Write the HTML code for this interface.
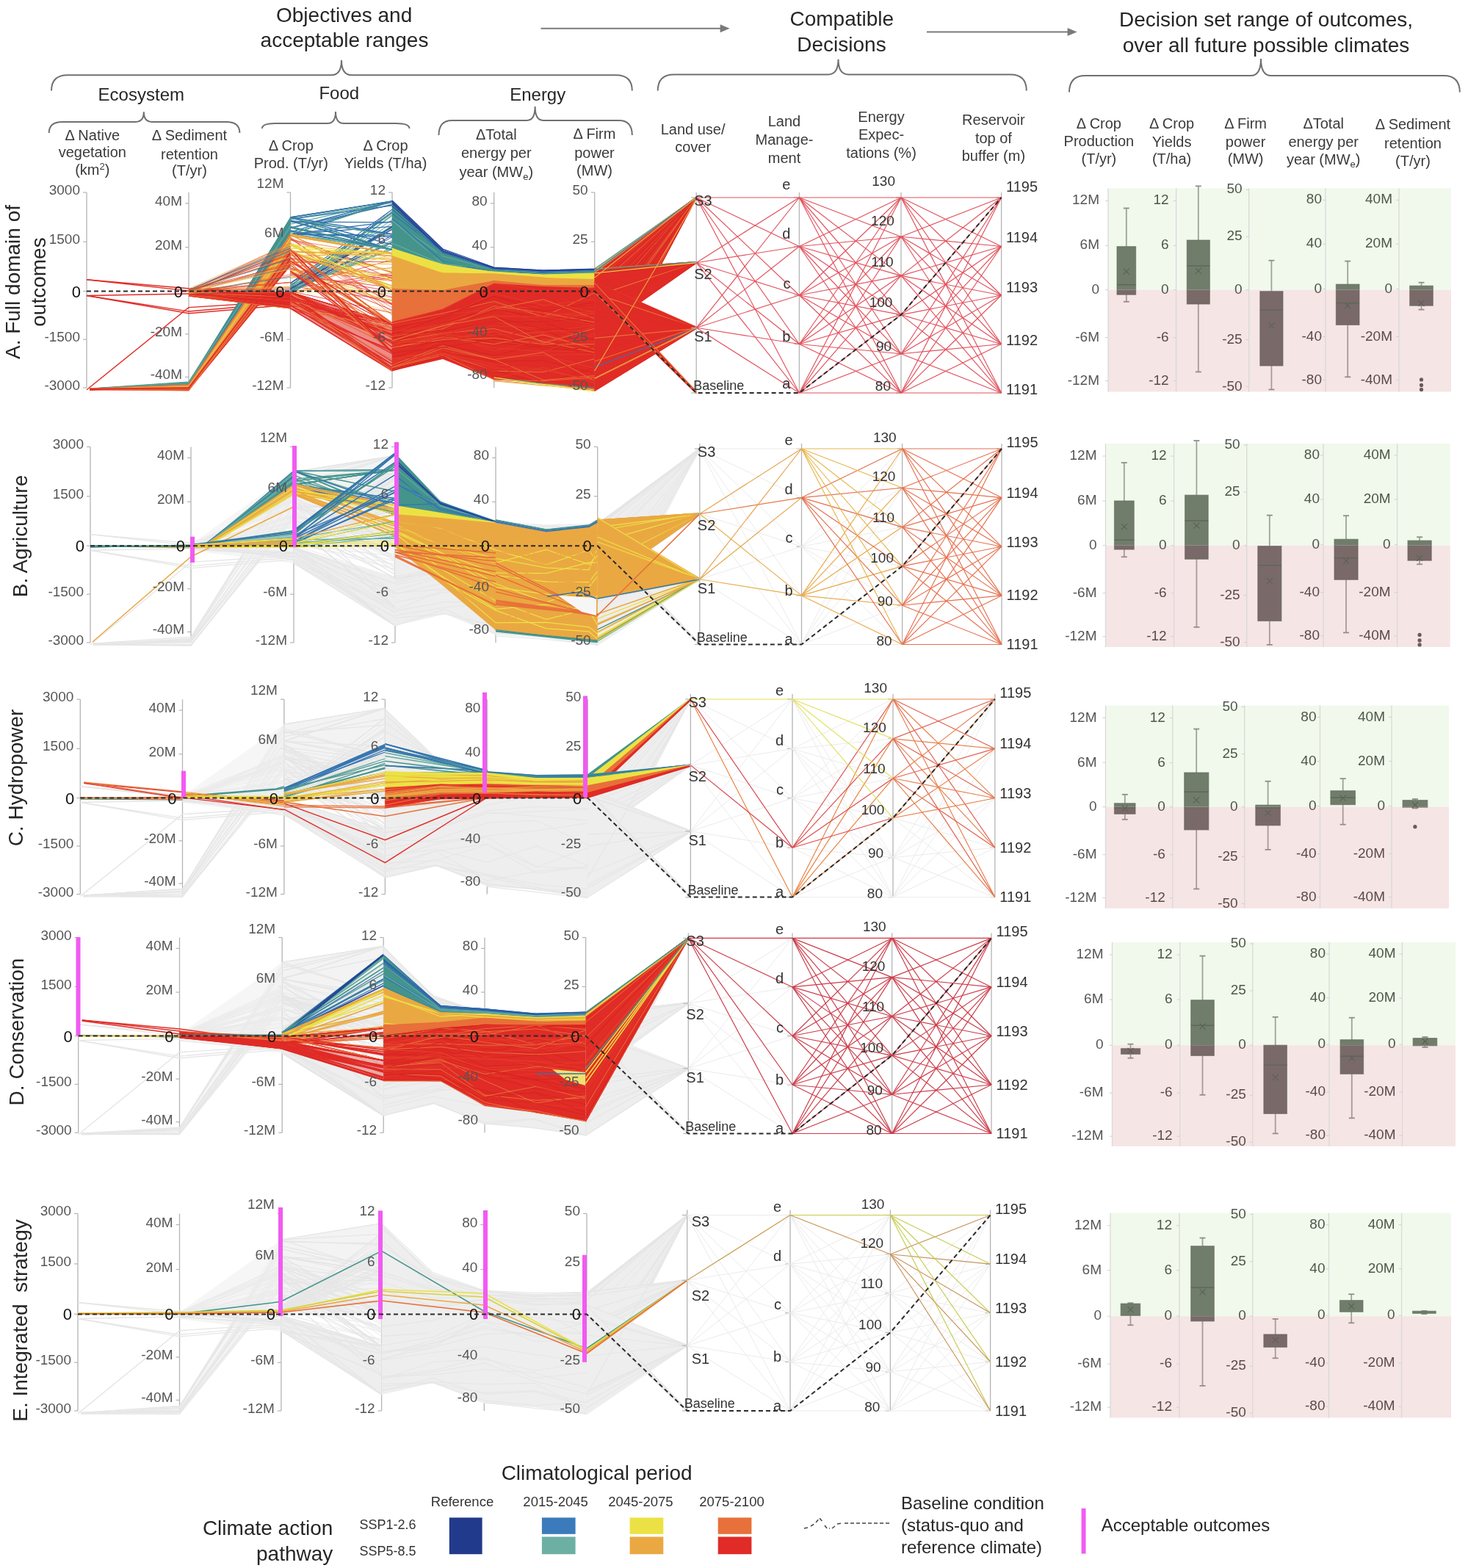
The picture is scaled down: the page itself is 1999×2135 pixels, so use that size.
<!DOCTYPE html>
<html><head><meta charset="utf-8"><style>
html,body{margin:0;padding:0;background:#fff;}
svg{display:block;}
</style></head><body>
<svg width="1999" height="2135" viewBox="0 0 1999 2135" font-family="'Liberation Sans', sans-serif">
<rect width="1999" height="2135" fill="#fff"/>
<text x="468.6" y="30.2" font-size="28" text-anchor="middle" fill="#262626" >Objectives and</text>
<text x="469" y="64.3" font-size="28" text-anchor="middle" fill="#262626" >acceptable ranges</text>
<text x="1146.3" y="35.3" font-size="28" text-anchor="middle" fill="#262626" >Compatible</text>
<text x="1146" y="69.6" font-size="28" text-anchor="middle" fill="#262626" >Decisions</text>
<text x="1724" y="36" font-size="28" text-anchor="middle" fill="#262626" >Decision set range of outcomes,</text>
<text x="1724" y="71" font-size="28" text-anchor="middle" fill="#262626" >over all future possible climates</text>
<line x1="736.5" y1="38.7" x2="983.6" y2="38.7" stroke="#7a7a7a" stroke-width="2" />
<polygon points="993.6,38.7 980.6,33.2 980.6,44.2" fill="#7a7a7a" />
<line x1="1262" y1="43.4" x2="1456.6" y2="43.4" stroke="#7a7a7a" stroke-width="2" />
<polygon points="1466.6,43.4 1453.6,37.9 1453.6,48.9" fill="#7a7a7a" />
<path d="M70,123.6 Q70,102.3 92,102.3 L451,102.3 Q465,102.3 465,82 Q465,102.3 479,102.3 L838.8,102.3 Q860.8,102.3 860.8,123.6" fill="none" stroke="#707070" stroke-width="2"/>
<path d="M895.7,123.6 Q895.7,101.5 917.7,101.5 L1127.5,101.5 Q1141.5,101.5 1141.5,80.8 Q1141.5,101.5 1155.5,101.5 L1375.8,101.5 Q1397.8,101.5 1397.8,123.6" fill="none" stroke="#707070" stroke-width="2"/>
<path d="M1456,125.6 Q1456,103 1478,103 L1703,103 Q1717,103 1717,80 Q1717,103 1731,103 L1965.8,103 Q1987.8,103 1987.8,125.6" fill="none" stroke="#707070" stroke-width="2"/>
<text x="192.3" y="137.3" font-size="24" text-anchor="middle" fill="#262626" >Ecosystem</text>
<text x="461.8" y="135.2" font-size="24" text-anchor="middle" fill="#262626" >Food</text>
<text x="732.2" y="136.5" font-size="24" text-anchor="middle" fill="#262626" >Energy</text>
<path d="M66.7,181 Q66.7,165.9 84.7,165.9 L184.8,165.9 Q195.8,165.9 195.8,152.3 Q195.8,165.9 206.8,165.9 L308.4,165.9 Q326.4,165.9 326.4,181" fill="none" stroke="#707070" stroke-width="2"/>
<path d="M356.9,175 Q356.9,168 374.9,168 L446,168 Q457,168 457,152 Q457,168 468,168 L539.5,168 Q557.5,168 557.5,175" fill="none" stroke="#707070" stroke-width="2"/>
<path d="M597.5,184 Q597.5,163.9 615.5,163.9 L717.6,163.9 Q728.6,163.9 728.6,145 Q728.6,163.9 739.6,163.9 L842.8,163.9 Q860.8,163.9 860.8,184" fill="none" stroke="#707070" stroke-width="2"/>
<text x="125.8" y="190.5" font-size="20" text-anchor="middle" fill="#3a3a3a" >Δ Native</text>
<text x="125.8" y="214" font-size="20" text-anchor="middle" fill="#3a3a3a" >vegetation</text>
<text x="125.8" y="237.8" font-size="20" text-anchor="middle" fill="#3a3a3a" >(km<tspan font-size="13" dy="-7">2</tspan><tspan dy="7">)</tspan></text>
<text x="258" y="191.4" font-size="20" text-anchor="middle" fill="#3a3a3a" >Δ Sediment</text>
<text x="258" y="216.5" font-size="20" text-anchor="middle" fill="#3a3a3a" >retention</text>
<text x="258" y="239.2" font-size="20" text-anchor="middle" fill="#3a3a3a" >(T/yr)</text>
<text x="396.3" y="204.7" font-size="20" text-anchor="middle" fill="#3a3a3a" >Δ Crop</text>
<text x="396.3" y="228.9" font-size="20" text-anchor="middle" fill="#3a3a3a" >Prod. (T/yr)</text>
<text x="525" y="204.7" font-size="20" text-anchor="middle" fill="#3a3a3a" >Δ Crop</text>
<text x="525" y="228.9" font-size="20" text-anchor="middle" fill="#3a3a3a" >Yields (T/ha)</text>
<text x="675.8" y="190" font-size="20" text-anchor="middle" fill="#3a3a3a" >ΔTotal</text>
<text x="675.8" y="215" font-size="20" text-anchor="middle" fill="#3a3a3a" >energy per</text>
<text x="675.8" y="240.5" font-size="20" text-anchor="middle" fill="#3a3a3a" >year (MW<tspan font-size="13" dy="4">e</tspan><tspan dy="-4">)</tspan></text>
<text x="809.5" y="189.4" font-size="20" text-anchor="middle" fill="#3a3a3a" >Δ Firm</text>
<text x="809.5" y="215" font-size="20" text-anchor="middle" fill="#3a3a3a" >power</text>
<text x="809.5" y="239" font-size="20" text-anchor="middle" fill="#3a3a3a" >(MW)</text>
<text x="943.6" y="182.7" font-size="20" text-anchor="middle" fill="#3a3a3a" >Land use/</text>
<text x="943.6" y="206.9" font-size="20" text-anchor="middle" fill="#3a3a3a" >cover</text>
<text x="1068" y="172.2" font-size="20" text-anchor="middle" fill="#3a3a3a" >Land</text>
<text x="1068" y="197.2" font-size="20" text-anchor="middle" fill="#3a3a3a" >Manage-</text>
<text x="1068" y="222.2" font-size="20" text-anchor="middle" fill="#3a3a3a" >ment</text>
<text x="1200" y="165.5" font-size="20" text-anchor="middle" fill="#3a3a3a" >Energy</text>
<text x="1200" y="189.6" font-size="20" text-anchor="middle" fill="#3a3a3a" >Expec-</text>
<text x="1200" y="215.4" font-size="20" text-anchor="middle" fill="#3a3a3a" >tations (%)</text>
<text x="1352.9" y="169.5" font-size="20" text-anchor="middle" fill="#3a3a3a" >Reservoir</text>
<text x="1352.9" y="194.5" font-size="20" text-anchor="middle" fill="#3a3a3a" >top of</text>
<text x="1352.9" y="218.7" font-size="20" text-anchor="middle" fill="#3a3a3a" >buffer (m)</text>
<text x="1496.4" y="174.5" font-size="20" text-anchor="middle" fill="#3a3a3a" >Δ Crop</text>
<text x="1496.4" y="198.6" font-size="20" text-anchor="middle" fill="#3a3a3a" >Production</text>
<text x="1496.4" y="222.6" font-size="20" text-anchor="middle" fill="#3a3a3a" >(T/yr)</text>
<text x="1595.6" y="174.5" font-size="20" text-anchor="middle" fill="#3a3a3a" >Δ Crop</text>
<text x="1595.6" y="199.5" font-size="20" text-anchor="middle" fill="#3a3a3a" >Yields</text>
<text x="1595.6" y="222.6" font-size="20" text-anchor="middle" fill="#3a3a3a" >(T/ha)</text>
<text x="1696.1" y="174.5" font-size="20" text-anchor="middle" fill="#3a3a3a" >Δ Firm</text>
<text x="1696.1" y="199.5" font-size="20" text-anchor="middle" fill="#3a3a3a" >power</text>
<text x="1696.1" y="222.6" font-size="20" text-anchor="middle" fill="#3a3a3a" >(MW)</text>
<text x="1802.2" y="175.4" font-size="20" text-anchor="middle" fill="#3a3a3a" >ΔTotal</text>
<text x="1802.2" y="200" font-size="20" text-anchor="middle" fill="#3a3a3a" >energy per</text>
<text x="1802.2" y="224" font-size="20" text-anchor="middle" fill="#3a3a3a" >year (MW<tspan font-size="13" dy="4">e</tspan><tspan dy="-4">)</tspan></text>
<text x="1924" y="176" font-size="20" text-anchor="middle" fill="#3a3a3a" >Δ Sediment</text>
<text x="1924" y="201.6" font-size="20" text-anchor="middle" fill="#3a3a3a" >retention</text>
<text x="1924" y="225.6" font-size="20" text-anchor="middle" fill="#3a3a3a" >(T/yr)</text>
<text x="0" y="0" font-size="28" text-anchor="middle" fill="#262626" transform="translate(27,384) rotate(-90)">A. Full domain of</text>
<text x="0" y="0" font-size="28" text-anchor="middle" fill="#262626" transform="translate(62,384) rotate(-90)">outcomes</text>
<text x="0" y="0" font-size="28" text-anchor="middle" fill="#262626" transform="translate(37,730) rotate(-90)">B. Agriculture</text>
<text x="0" y="0" font-size="28" text-anchor="middle" fill="#262626" transform="translate(31,1059) rotate(-90)">C. Hydropower</text>
<text x="0" y="0" font-size="28" text-anchor="middle" fill="#262626" transform="translate(32,1405) rotate(-90)">D. Conservation</text>
<text x="0" y="0" font-size="28" text-anchor="middle" fill="#262626" transform="translate(37,1798) rotate(-90)">E. Integrated&#160; strategy</text>
<line x1="118" y1="262" x2="118" y2="528" stroke="#b4b4b4" stroke-width="1.3" />
<line x1="113" y1="262" x2="118" y2="262" stroke="#b4b4b4" stroke-width="1.2" />
<line x1="113" y1="329.2" x2="118" y2="329.2" stroke="#b4b4b4" stroke-width="1.2" />
<line x1="113" y1="396.5" x2="118" y2="396.5" stroke="#b4b4b4" stroke-width="1.2" />
<line x1="113" y1="462.2" x2="118" y2="462.2" stroke="#b4b4b4" stroke-width="1.2" />
<line x1="113" y1="528" x2="118" y2="528" stroke="#b4b4b4" stroke-width="1.2" />
<line x1="257" y1="262" x2="257" y2="528" stroke="#b4b4b4" stroke-width="1.3" />
<line x1="252" y1="276.9" x2="257" y2="276.9" stroke="#b4b4b4" stroke-width="1.2" />
<line x1="252" y1="336.7" x2="257" y2="336.7" stroke="#b4b4b4" stroke-width="1.2" />
<line x1="252" y1="396.5" x2="257" y2="396.5" stroke="#b4b4b4" stroke-width="1.2" />
<line x1="252" y1="454.9" x2="257" y2="454.9" stroke="#b4b4b4" stroke-width="1.2" />
<line x1="252" y1="513.4" x2="257" y2="513.4" stroke="#b4b4b4" stroke-width="1.2" />
<line x1="395.5" y1="262" x2="395.5" y2="528" stroke="#b4b4b4" stroke-width="1.3" />
<line x1="390.5" y1="262" x2="395.5" y2="262" stroke="#b4b4b4" stroke-width="1.2" />
<line x1="390.5" y1="329.2" x2="395.5" y2="329.2" stroke="#b4b4b4" stroke-width="1.2" />
<line x1="390.5" y1="396.5" x2="395.5" y2="396.5" stroke="#b4b4b4" stroke-width="1.2" />
<line x1="390.5" y1="462.2" x2="395.5" y2="462.2" stroke="#b4b4b4" stroke-width="1.2" />
<line x1="390.5" y1="528" x2="395.5" y2="528" stroke="#b4b4b4" stroke-width="1.2" />
<line x1="534" y1="262" x2="534" y2="528" stroke="#b4b4b4" stroke-width="1.3" />
<line x1="529" y1="262" x2="534" y2="262" stroke="#b4b4b4" stroke-width="1.2" />
<line x1="529" y1="329.2" x2="534" y2="329.2" stroke="#b4b4b4" stroke-width="1.2" />
<line x1="529" y1="396.5" x2="534" y2="396.5" stroke="#b4b4b4" stroke-width="1.2" />
<line x1="529" y1="462.2" x2="534" y2="462.2" stroke="#b4b4b4" stroke-width="1.2" />
<line x1="529" y1="528" x2="534" y2="528" stroke="#b4b4b4" stroke-width="1.2" />
<line x1="672.7" y1="262" x2="672.7" y2="528" stroke="#b4b4b4" stroke-width="1.3" />
<line x1="667.7" y1="276.9" x2="672.7" y2="276.9" stroke="#b4b4b4" stroke-width="1.2" />
<line x1="667.7" y1="336.7" x2="672.7" y2="336.7" stroke="#b4b4b4" stroke-width="1.2" />
<line x1="667.7" y1="396.5" x2="672.7" y2="396.5" stroke="#b4b4b4" stroke-width="1.2" />
<line x1="667.7" y1="454.9" x2="672.7" y2="454.9" stroke="#b4b4b4" stroke-width="1.2" />
<line x1="667.7" y1="513.4" x2="672.7" y2="513.4" stroke="#b4b4b4" stroke-width="1.2" />
<line x1="809.7" y1="262" x2="809.7" y2="528" stroke="#b4b4b4" stroke-width="1.3" />
<line x1="804.7" y1="262" x2="809.7" y2="262" stroke="#b4b4b4" stroke-width="1.2" />
<line x1="804.7" y1="329.2" x2="809.7" y2="329.2" stroke="#b4b4b4" stroke-width="1.2" />
<line x1="804.7" y1="396.5" x2="809.7" y2="396.5" stroke="#b4b4b4" stroke-width="1.2" />
<line x1="804.7" y1="462.2" x2="809.7" y2="462.2" stroke="#b4b4b4" stroke-width="1.2" />
<line x1="804.7" y1="528" x2="809.7" y2="528" stroke="#b4b4b4" stroke-width="1.2" />
<polyline points="118,380.8 257,392.8 395.5,400" fill="none" stroke="#e02b26" stroke-width="1.4" />
<polyline points="118,380.8 257,396 395.5,405" fill="none" stroke="#e02b26" stroke-width="1.4" />
<polyline points="118,402.5 257,400 395.5,410" fill="none" stroke="#e02b26" stroke-width="1.4" />
<polyline points="118,402.5 257,426.7 395.5,415" fill="none" stroke="#e02b26" stroke-width="1.4" />
<polyline points="118,402.5 257,424 395.5,412" fill="none" stroke="#e02b26" stroke-width="1.4" />
<polyline points="118,530.7 257,418.6 395.5,410" fill="none" stroke="#e02b26" stroke-width="1.4" />
<polygon points="122,529 257,520 395.5,296 395.5,319 257,524 122,531" fill="#44948c" />
<polyline points="122,530.1 257,522.5 395.5,309.8" fill="none" stroke="#62aa9e" stroke-width="1.1" />
<polyline points="122,530.4 257,522.9 395.5,307.3" fill="none" stroke="#44948c" stroke-width="1.1" />
<polyline points="122,530.1 257,521.9 395.5,296.4" fill="none" stroke="#44948c" stroke-width="1.1" />
<polyline points="122,531 257,522.9 395.5,312.2" fill="none" stroke="#44948c" stroke-width="1.1" />
<polyline points="122,529.1 257,524 395.5,319" fill="none" stroke="#62aa9e" stroke-width="1.1" />
<polyline points="122,530.1 257,520.4 395.5,303.7" fill="none" stroke="#3474b0" stroke-width="1.1" />
<polyline points="122,530.9 257,524 395.5,311.2" fill="none" stroke="#3474b0" stroke-width="1.1" />
<polyline points="122,530.1 257,521.6 395.5,309.2" fill="none" stroke="#62aa9e" stroke-width="1.1" />
<polyline points="122,530 257,523.1 395.5,306.2" fill="none" stroke="#62aa9e" stroke-width="1.1" />
<polyline points="122,529.2 257,521.7 395.5,310.8" fill="none" stroke="#44948c" stroke-width="1.1" />
<polyline points="122,529.1 257,522 395.5,308.6" fill="none" stroke="#44948c" stroke-width="1.1" />
<polyline points="122,529 257,520 395.5,303.5" fill="none" stroke="#44948c" stroke-width="1.1" />
<polyline points="122,529.7 257,524 395.5,319" fill="none" stroke="#62aa9e" stroke-width="1.1" />
<polyline points="122,530 257,520.7 395.5,309.3" fill="none" stroke="#62aa9e" stroke-width="1.1" />
<polygon points="122,529 257,524 395.5,319 395.5,343 257,528 122,531" fill="#eaa842" />
<polyline points="122,529.5 257,524.7 395.5,319.9" fill="none" stroke="#e8703a" stroke-width="1.1" />
<polyline points="122,530.2 257,524.9 395.5,320.7" fill="none" stroke="#ece144" stroke-width="1.1" />
<polyline points="122,529 257,526.1 395.5,332.4" fill="none" stroke="#eaa842" stroke-width="1.1" />
<polyline points="122,530.3 257,525.7 395.5,333.8" fill="none" stroke="#ece144" stroke-width="1.1" />
<polyline points="122,529.3 257,525.5 395.5,323.8" fill="none" stroke="#ece144" stroke-width="1.1" />
<polyline points="122,529.7 257,525.5 395.5,331.8" fill="none" stroke="#ece144" stroke-width="1.1" />
<polyline points="122,530.6 257,528 395.5,331.9" fill="none" stroke="#eaa842" stroke-width="1.1" />
<polyline points="122,530.1 257,524.9 395.5,326.5" fill="none" stroke="#eaa842" stroke-width="1.1" />
<polyline points="122,529.2 257,524 395.5,319" fill="none" stroke="#e8703a" stroke-width="1.1" />
<polyline points="122,530 257,524 395.5,321.9" fill="none" stroke="#e8703a" stroke-width="1.1" />
<polyline points="122,531 257,527 395.5,339.2" fill="none" stroke="#e8703a" stroke-width="1.1" />
<polyline points="122,530 257,526.4 395.5,341.9" fill="none" stroke="#eaa842" stroke-width="1.1" />
<polyline points="122,529.7 257,526.3 395.5,337" fill="none" stroke="#eaa842" stroke-width="1.1" />
<polyline points="122,529.6 257,525.4 395.5,327.2" fill="none" stroke="#eaa842" stroke-width="1.1" />
<polygon points="122,529 257,527 395.5,343 395.5,362 257,532 122,531" fill="#e02b26" />
<polyline points="122,530.7 257,529.1 395.5,356.1" fill="none" stroke="#e8703a" stroke-width="1.1" />
<polyline points="122,529.4 257,527.7 395.5,350.2" fill="none" stroke="#e8703a" stroke-width="1.1" />
<polyline points="122,530.4 257,530.3 395.5,357.4" fill="none" stroke="#e8703a" stroke-width="1.1" />
<polyline points="122,529.1 257,528.3 395.5,347.2" fill="none" stroke="#e8703a" stroke-width="1.1" />
<polyline points="122,529.7 257,528 395.5,355.3" fill="none" stroke="#e8703a" stroke-width="1.1" />
<polyline points="122,530.5 257,527.5 395.5,345.5" fill="none" stroke="#e8703a" stroke-width="1.1" />
<polyline points="122,531 257,530.4 395.5,361.3" fill="none" stroke="#e02b26" stroke-width="1.1" />
<polyline points="122,530.2 257,529 395.5,355.6" fill="none" stroke="#e8703a" stroke-width="1.1" />
<polyline points="122,529.6 257,528.7 395.5,355.3" fill="none" stroke="#e02b26" stroke-width="1.1" />
<polyline points="122,530.3 257,531 395.5,355.1" fill="none" stroke="#e8703a" stroke-width="1.1" />
<polyline points="122,529.8 257,528.8 395.5,349.1" fill="none" stroke="#e8703a" stroke-width="1.1" />
<polyline points="122,530.3 257,532 395.5,346" fill="none" stroke="#e8703a" stroke-width="1.1" />
<polyline points="122,529.6 257,528.2 395.5,343" fill="none" stroke="#e02b26" stroke-width="1.1" />
<polyline points="122,530.4 257,528.1 395.5,345.1" fill="none" stroke="#e02b26" stroke-width="1.1" />
<polygon points="257,394 395.5,398 395.5,420 257,403" fill="#e02b26" />
<polyline points="257,403 395.5,420" fill="none" stroke="#e02b26" stroke-width="1.1" />
<polyline points="257,400 395.5,417.3" fill="none" stroke="#e8703a" stroke-width="1.1" />
<polyline points="257,398.2 395.5,398" fill="none" stroke="#e8703a" stroke-width="1.1" />
<polyline points="257,401 395.5,403.9" fill="none" stroke="#e02b26" stroke-width="1.1" />
<polyline points="257,403 395.5,420" fill="none" stroke="#e8703a" stroke-width="1.1" />
<polyline points="257,403 395.5,420" fill="none" stroke="#e8703a" stroke-width="1.1" />
<polyline points="257,398.2 395.5,418.1" fill="none" stroke="#e02b26" stroke-width="1.1" />
<polyline points="257,395.3 395.5,398" fill="none" stroke="#e02b26" stroke-width="1.1" />
<polyline points="257,400.9 395.5,407.2" fill="none" stroke="#e02b26" stroke-width="1.1" />
<polyline points="257,401.9 395.5,420" fill="none" stroke="#e8703a" stroke-width="1.1" />
<polyline points="257,398.7 395.5,404.2" fill="none" stroke="#e8703a" stroke-width="1.1" />
<polyline points="257,403 395.5,419.7" fill="none" stroke="#e8703a" stroke-width="1.1" />
<polyline points="257,401 395.5,406.5" fill="none" stroke="#e02b26" stroke-width="1.1" />
<polyline points="257,398.4 395.5,409.5" fill="none" stroke="#e8703a" stroke-width="1.1" />
<polyline points="257,398 395.5,409.1" fill="none" stroke="#e02b26" stroke-width="1.1" />
<polyline points="257,394 395.5,403.3" fill="none" stroke="#e02b26" stroke-width="1.1" />
<polyline points="257,394.1 395.5,404.4" fill="none" stroke="#e02b26" stroke-width="1.1" />
<polyline points="257,403 395.5,418.7" fill="none" stroke="#e02b26" stroke-width="1.1" />
<polyline points="257,398.1 395.5,414.6" fill="none" stroke="#e02b26" stroke-width="1.1" />
<polyline points="257,396 395.5,403.5" fill="none" stroke="#e02b26" stroke-width="1.1" />
<polyline points="257,394.9 395.5,364.6" fill="none" stroke="#3474b0" stroke-width="0.9" stroke-opacity="0.8"/>
<polyline points="257,396.6 395.5,346.8" fill="none" stroke="#e02b26" stroke-width="0.9" stroke-opacity="0.8"/>
<polyline points="257,399.1 395.5,394.1" fill="none" stroke="#44948c" stroke-width="0.9" stroke-opacity="0.8"/>
<polyline points="257,399.5 395.5,390.7" fill="none" stroke="#eaa842" stroke-width="0.9" stroke-opacity="0.8"/>
<polyline points="257,398.9 395.5,339.3" fill="none" stroke="#e8703a" stroke-width="0.9" stroke-opacity="0.8"/>
<polyline points="257,395.7 395.5,351.5" fill="none" stroke="#e02b26" stroke-width="0.9" stroke-opacity="0.8"/>
<polyline points="257,394.7 395.5,335" fill="none" stroke="#3474b0" stroke-width="0.9" stroke-opacity="0.8"/>
<polyline points="257,395.1 395.5,338.3" fill="none" stroke="#3474b0" stroke-width="0.9" stroke-opacity="0.8"/>
<polyline points="257,399.6 395.5,373.8" fill="none" stroke="#e8703a" stroke-width="0.9" stroke-opacity="0.8"/>
<polyline points="257,394 395.5,390" fill="none" stroke="#eaa842" stroke-width="0.9" stroke-opacity="0.8"/>
<polyline points="257,394.5 395.5,394.8" fill="none" stroke="#e02b26" stroke-width="0.9" stroke-opacity="0.8"/>
<polyline points="257,399.2 395.5,341.1" fill="none" stroke="#e02b26" stroke-width="0.9" stroke-opacity="0.8"/>
<polyline points="257,398.8 395.5,341" fill="none" stroke="#3474b0" stroke-width="0.9" stroke-opacity="0.8"/>
<polyline points="257,400 395.5,357.5" fill="none" stroke="#e02b26" stroke-width="0.9" stroke-opacity="0.8"/>
<polyline points="257,394.4 395.5,351.7" fill="none" stroke="#e02b26" stroke-width="0.9" stroke-opacity="0.8"/>
<polyline points="257,395.6 395.5,353" fill="none" stroke="#3474b0" stroke-width="0.9" stroke-opacity="0.8"/>
<polyline points="257,396.1 395.5,331.2" fill="none" stroke="#e02b26" stroke-width="0.9" stroke-opacity="0.8"/>
<polyline points="257,396.6 395.5,350.1" fill="none" stroke="#eaa842" stroke-width="0.9" stroke-opacity="0.8"/>
<polyline points="257,393.8 395.5,392.5" fill="none" stroke="#e02b26" stroke-width="0.9" stroke-opacity="0.8"/>
<polyline points="257,399.8 395.5,337.1" fill="none" stroke="#e8703a" stroke-width="0.9" stroke-opacity="0.8"/>
<polyline points="257,394.9 395.5,391.6" fill="none" stroke="#eaa842" stroke-width="0.9" stroke-opacity="0.8"/>
<polyline points="257,394.9 395.5,338.8" fill="none" stroke="#e8703a" stroke-width="0.9" stroke-opacity="0.8"/>
<polyline points="257,398.9 395.5,376" fill="none" stroke="#e02b26" stroke-width="0.9" stroke-opacity="0.8"/>
<polyline points="257,395.8 395.5,366.5" fill="none" stroke="#eaa842" stroke-width="0.9" stroke-opacity="0.8"/>
<polyline points="257,397 395.5,377.6" fill="none" stroke="#44948c" stroke-width="0.9" stroke-opacity="0.8"/>
<polyline points="257,395 395.5,384.4" fill="none" stroke="#e02b26" stroke-width="0.9" stroke-opacity="0.8"/>
<polyline points="257,396 395.5,334.9" fill="none" stroke="#e8703a" stroke-width="0.9" stroke-opacity="0.8"/>
<polyline points="257,397.4 395.5,384.5" fill="none" stroke="#e02b26" stroke-width="0.9" stroke-opacity="0.8"/>
<polyline points="257,397.3 395.5,345.1" fill="none" stroke="#e02b26" stroke-width="0.9" stroke-opacity="0.8"/>
<polyline points="257,399 395.5,360.9" fill="none" stroke="#eaa842" stroke-width="0.9" stroke-opacity="0.8"/>
<polyline points="257,400 395.5,358.4" fill="none" stroke="#eaa842" stroke-width="0.9" stroke-opacity="0.8"/>
<polyline points="257,397.4 395.5,332.9" fill="none" stroke="#eaa842" stroke-width="0.9" stroke-opacity="0.8"/>
<polyline points="257,394.7 395.5,337.4" fill="none" stroke="#3474b0" stroke-width="0.9" stroke-opacity="0.8"/>
<polyline points="257,394.8 395.5,342.3" fill="none" stroke="#e8703a" stroke-width="0.9" stroke-opacity="0.8"/>
<polyline points="257,397.4 395.5,366.1" fill="none" stroke="#eaa842" stroke-width="0.9" stroke-opacity="0.8"/>
<polyline points="257,395 395.5,364" fill="none" stroke="#e8703a" stroke-width="0.9" stroke-opacity="0.8"/>
<polyline points="257,394.9 395.5,384.7" fill="none" stroke="#e8703a" stroke-width="0.9" stroke-opacity="0.8"/>
<polyline points="257,393.3 395.5,331.3" fill="none" stroke="#eaa842" stroke-width="0.9" stroke-opacity="0.8"/>
<polyline points="257,396.9 395.5,342.9" fill="none" stroke="#44948c" stroke-width="0.9" stroke-opacity="0.8"/>
<polyline points="257,394.7 395.5,360.4" fill="none" stroke="#e02b26" stroke-width="0.9" stroke-opacity="0.8"/>
<polyline points="395.5,372.5 534,396.9" fill="none" stroke="#e02b26" stroke-width="0.9" stroke-opacity="0.85"/>
<polyline points="395.5,397.6 534,374.2" fill="none" stroke="#e02b26" stroke-width="0.9" stroke-opacity="0.85"/>
<polyline points="395.5,398.6 534,377.6" fill="none" stroke="#e8703a" stroke-width="0.9" stroke-opacity="0.85"/>
<polyline points="395.5,352.4 534,378" fill="none" stroke="#e8703a" stroke-width="0.9" stroke-opacity="0.85"/>
<polyline points="395.5,387 534,346.4" fill="none" stroke="#eaa842" stroke-width="0.9" stroke-opacity="0.85"/>
<polyline points="395.5,354.5 534,350.3" fill="none" stroke="#ece144" stroke-width="0.9" stroke-opacity="0.85"/>
<polyline points="395.5,389.6 534,408.7" fill="none" stroke="#e02b26" stroke-width="0.9" stroke-opacity="0.85"/>
<polyline points="395.5,367.9 534,410.8" fill="none" stroke="#ece144" stroke-width="0.9" stroke-opacity="0.85"/>
<polyline points="395.5,356.8 534,360" fill="none" stroke="#eaa842" stroke-width="0.9" stroke-opacity="0.85"/>
<polyline points="395.5,320.3 534,379.6" fill="none" stroke="#e02b26" stroke-width="0.9" stroke-opacity="0.85"/>
<polyline points="395.5,397.8 534,397" fill="none" stroke="#ece144" stroke-width="0.9" stroke-opacity="0.85"/>
<polyline points="395.5,322.8 534,428.8" fill="none" stroke="#e8703a" stroke-width="0.9" stroke-opacity="0.85"/>
<polyline points="395.5,348.5 534,345.1" fill="none" stroke="#e8703a" stroke-width="0.9" stroke-opacity="0.85"/>
<polyline points="395.5,326.7 534,371.5" fill="none" stroke="#e02b26" stroke-width="0.9" stroke-opacity="0.85"/>
<polyline points="395.5,339.9 534,418.7" fill="none" stroke="#e8703a" stroke-width="0.9" stroke-opacity="0.85"/>
<polyline points="395.5,341.1 534,353.5" fill="none" stroke="#eaa842" stroke-width="0.9" stroke-opacity="0.85"/>
<polyline points="395.5,366.9 534,382.4" fill="none" stroke="#e02b26" stroke-width="0.9" stroke-opacity="0.85"/>
<polyline points="395.5,344.3 534,367.1" fill="none" stroke="#ece144" stroke-width="0.9" stroke-opacity="0.85"/>
<polyline points="395.5,396.6 534,426.1" fill="none" stroke="#e02b26" stroke-width="0.9" stroke-opacity="0.85"/>
<polyline points="395.5,372.6 534,413" fill="none" stroke="#e8703a" stroke-width="0.9" stroke-opacity="0.85"/>
<polyline points="395.5,351.2 534,376" fill="none" stroke="#e02b26" stroke-width="0.9" stroke-opacity="0.85"/>
<polyline points="395.5,332 534,413.8" fill="none" stroke="#e02b26" stroke-width="0.9" stroke-opacity="0.85"/>
<polyline points="395.5,323.5 534,424.4" fill="none" stroke="#e8703a" stroke-width="0.9" stroke-opacity="0.85"/>
<polyline points="395.5,370.2 534,414.7" fill="none" stroke="#e02b26" stroke-width="0.9" stroke-opacity="0.85"/>
<polyline points="395.5,331.1 534,394.8" fill="none" stroke="#e02b26" stroke-width="0.9" stroke-opacity="0.85"/>
<polyline points="395.5,365.5 534,422.2" fill="none" stroke="#e02b26" stroke-width="0.9" stroke-opacity="0.85"/>
<polyline points="395.5,386.1 534,400.5" fill="none" stroke="#eaa842" stroke-width="0.9" stroke-opacity="0.85"/>
<polyline points="395.5,326.8 534,349" fill="none" stroke="#e8703a" stroke-width="0.9" stroke-opacity="0.85"/>
<polyline points="395.5,396.8 534,380.8" fill="none" stroke="#ece144" stroke-width="0.9" stroke-opacity="0.85"/>
<polyline points="395.5,364.7 534,404.6" fill="none" stroke="#e02b26" stroke-width="0.9" stroke-opacity="0.85"/>
<polyline points="395.5,374.5 534,391.5" fill="none" stroke="#e02b26" stroke-width="0.9" stroke-opacity="0.85"/>
<polyline points="395.5,356.6 534,351.7" fill="none" stroke="#eaa842" stroke-width="0.9" stroke-opacity="0.85"/>
<polyline points="395.5,391.8 534,353.7" fill="none" stroke="#e02b26" stroke-width="0.9" stroke-opacity="0.85"/>
<polyline points="395.5,325.3 534,415" fill="none" stroke="#e02b26" stroke-width="0.9" stroke-opacity="0.85"/>
<polyline points="395.5,384.7 534,425.4" fill="none" stroke="#ece144" stroke-width="0.9" stroke-opacity="0.85"/>
<polyline points="395.5,378.3 534,364.5" fill="none" stroke="#e8703a" stroke-width="0.9" stroke-opacity="0.85"/>
<polyline points="395.5,359.5 534,381.3" fill="none" stroke="#e02b26" stroke-width="0.9" stroke-opacity="0.85"/>
<polyline points="395.5,392.8 534,372.3" fill="none" stroke="#e02b26" stroke-width="0.9" stroke-opacity="0.85"/>
<polyline points="395.5,369.4 534,406.1" fill="none" stroke="#eaa842" stroke-width="0.9" stroke-opacity="0.85"/>
<polyline points="395.5,368 534,376.5" fill="none" stroke="#eaa842" stroke-width="0.9" stroke-opacity="0.85"/>
<polyline points="395.5,369.7 534,357.7" fill="none" stroke="#ece144" stroke-width="0.9" stroke-opacity="0.85"/>
<polyline points="395.5,324.9 534,370.5" fill="none" stroke="#e02b26" stroke-width="0.9" stroke-opacity="0.85"/>
<polyline points="395.5,375.4 534,409.2" fill="none" stroke="#eaa842" stroke-width="0.9" stroke-opacity="0.85"/>
<polyline points="395.5,376.7 534,372.1" fill="none" stroke="#ece144" stroke-width="0.9" stroke-opacity="0.85"/>
<polyline points="395.5,357.3 534,356.3" fill="none" stroke="#e02b26" stroke-width="0.9" stroke-opacity="0.85"/>
<polyline points="395.5,389.7 534,290.2" fill="none" stroke="#44948c" stroke-width="1.0" />
<polyline points="395.5,385.3 534,312.5" fill="none" stroke="#25439a" stroke-width="1.0" />
<polyline points="395.5,399.9 534,308.2" fill="none" stroke="#25439a" stroke-width="1.0" />
<polyline points="395.5,386.1 534,290.4" fill="none" stroke="#44948c" stroke-width="1.0" />
<polyline points="395.5,399.3 534,293" fill="none" stroke="#62aa9e" stroke-width="1.0" />
<polyline points="395.5,398.3 534,327.2" fill="none" stroke="#62aa9e" stroke-width="1.0" />
<polyline points="395.5,392.5 534,337.6" fill="none" stroke="#44948c" stroke-width="1.0" />
<polyline points="395.5,385.4 534,285.2" fill="none" stroke="#25439a" stroke-width="1.0" />
<polyline points="395.5,395.2 534,309.3" fill="none" stroke="#25439a" stroke-width="1.0" />
<polyline points="395.5,391.2 534,307.6" fill="none" stroke="#44948c" stroke-width="1.0" />
<polyline points="395.5,397.6 534,285.1" fill="none" stroke="#3474b0" stroke-width="1.0" />
<polyline points="395.5,397.6 534,292.2" fill="none" stroke="#62aa9e" stroke-width="1.0" />
<polyline points="395.5,395.7 534,339.1" fill="none" stroke="#44948c" stroke-width="1.0" />
<polyline points="395.5,388.8 534,288.9" fill="none" stroke="#62aa9e" stroke-width="1.0" />
<polyline points="395.5,400 534,320.4" fill="none" stroke="#25439a" stroke-width="1.0" />
<polyline points="395.5,398.9 534,330.3" fill="none" stroke="#62aa9e" stroke-width="1.0" />
<polyline points="395.5,389.2 534,288.1" fill="none" stroke="#3474b0" stroke-width="1.0" />
<polyline points="395.5,394.5 534,293.9" fill="none" stroke="#62aa9e" stroke-width="1.0" />
<polyline points="395.5,391.5 534,303.9" fill="none" stroke="#62aa9e" stroke-width="1.0" />
<polyline points="395.5,396.8 534,310.7" fill="none" stroke="#62aa9e" stroke-width="1.0" />
<polyline points="395.5,397.2 534,322.9" fill="none" stroke="#3474b0" stroke-width="1.0" />
<polyline points="395.5,395.8 534,288" fill="none" stroke="#44948c" stroke-width="1.0" />
<polyline points="395.5,391.8 534,330.2" fill="none" stroke="#25439a" stroke-width="1.0" />
<polyline points="395.5,392.3 534,339.7" fill="none" stroke="#62aa9e" stroke-width="1.0" />
<polyline points="395.5,387.6 534,309.9" fill="none" stroke="#44948c" stroke-width="1.0" />
<polyline points="395.5,389.5 534,329.3" fill="none" stroke="#62aa9e" stroke-width="1.0" />
<polyline points="395.5,391.1 534,299.3" fill="none" stroke="#62aa9e" stroke-width="1.0" />
<polyline points="395.5,393.4 534,308.7" fill="none" stroke="#25439a" stroke-width="1.0" />
<polyline points="395.5,394.6 534,289.5" fill="none" stroke="#44948c" stroke-width="1.0" />
<polyline points="395.5,393.3 534,312.2" fill="none" stroke="#25439a" stroke-width="1.0" />
<polyline points="395.5,305.1 534,274" fill="none" stroke="#62aa9e" stroke-width="1.3" />
<polyline points="395.5,315 534,340" fill="none" stroke="#3474b0" stroke-width="1.3" />
<polyline points="395.5,299.9 534,340" fill="none" stroke="#44948c" stroke-width="1.3" />
<polyline points="395.5,296 534,340" fill="none" stroke="#62aa9e" stroke-width="1.3" />
<polyline points="395.5,300.3 534,319" fill="none" stroke="#3474b0" stroke-width="1.3" />
<polyline points="395.5,296 534,340" fill="none" stroke="#62aa9e" stroke-width="1.3" />
<polyline points="395.5,316.2 534,274" fill="none" stroke="#3474b0" stroke-width="1.3" />
<polyline points="395.5,296 534,340" fill="none" stroke="#44948c" stroke-width="1.3" />
<polyline points="395.5,296 534,333.2" fill="none" stroke="#3474b0" stroke-width="1.3" />
<polyline points="395.5,309.3 534,339.6" fill="none" stroke="#3474b0" stroke-width="1.3" />
<polyline points="395.5,318.5 534,340" fill="none" stroke="#62aa9e" stroke-width="1.3" />
<polyline points="395.5,310.4 534,278.5" fill="none" stroke="#3474b0" stroke-width="1.3" />
<polyline points="395.5,298.2 534,276.2" fill="none" stroke="#62aa9e" stroke-width="1.3" />
<polyline points="395.5,319 534,274" fill="none" stroke="#3474b0" stroke-width="1.3" />
<polyline points="395.5,298.4 534,279.8" fill="none" stroke="#3474b0" stroke-width="1.3" />
<polyline points="395.5,318.8 534,336.4" fill="none" stroke="#62aa9e" stroke-width="1.3" />
<polyline points="395.5,310.1 534,340" fill="none" stroke="#44948c" stroke-width="1.3" />
<polyline points="395.5,319 534,308.3" fill="none" stroke="#3474b0" stroke-width="1.3" />
<polyline points="395.5,319 534,274" fill="none" stroke="#62aa9e" stroke-width="1.3" />
<polyline points="395.5,319 534,322.5" fill="none" stroke="#3474b0" stroke-width="1.3" />
<polyline points="395.5,313.7 534,340" fill="none" stroke="#3474b0" stroke-width="1.3" />
<polyline points="395.5,301.2 534,340" fill="none" stroke="#3474b0" stroke-width="1.3" />
<polyline points="395.5,319 534,301.7" fill="none" stroke="#3474b0" stroke-width="1.3" />
<polyline points="395.5,302.2 534,302.6" fill="none" stroke="#3474b0" stroke-width="1.3" />
<polyline points="395.5,297.4 534,321.4" fill="none" stroke="#62aa9e" stroke-width="1.3" />
<polyline points="395.5,310.3 534,274" fill="none" stroke="#62aa9e" stroke-width="1.3" />
<polyline points="395.5,310.6 534,274" fill="none" stroke="#3474b0" stroke-width="1.3" />
<polyline points="395.5,319 534,274" fill="none" stroke="#44948c" stroke-width="1.3" />
<polyline points="395.5,319 534,340" fill="none" stroke="#62aa9e" stroke-width="1.3" />
<polyline points="395.5,296 534,274" fill="none" stroke="#44948c" stroke-width="1.3" />
<polyline points="395.5,296 534,318.6" fill="none" stroke="#3474b0" stroke-width="1.3" />
<polyline points="395.5,319 534,320" fill="none" stroke="#3474b0" stroke-width="1.3" />
<polyline points="395.5,296 534,274" fill="none" stroke="#3474b0" stroke-width="1.3" />
<polyline points="395.5,296 534,274" fill="none" stroke="#3474b0" stroke-width="1.3" />
<polyline points="395.5,308.3 534,340" fill="none" stroke="#44948c" stroke-width="1.3" />
<polyline points="395.5,319 534,395" fill="none" stroke="#eaa842" stroke-width="1.3" />
<polyline points="395.5,333.8 534,345" fill="none" stroke="#ece144" stroke-width="1.3" />
<polyline points="395.5,331.8 534,392.6" fill="none" stroke="#ece144" stroke-width="1.3" />
<polyline points="395.5,319 534,345" fill="none" stroke="#ece144" stroke-width="1.3" />
<polyline points="395.5,332.5 534,355.7" fill="none" stroke="#ece144" stroke-width="1.3" />
<polyline points="395.5,319 534,345" fill="none" stroke="#ece144" stroke-width="1.3" />
<polyline points="395.5,343 534,389.8" fill="none" stroke="#ece144" stroke-width="1.3" />
<polyline points="395.5,343 534,381" fill="none" stroke="#ece144" stroke-width="1.3" />
<polyline points="395.5,343 534,345" fill="none" stroke="#ece144" stroke-width="1.3" />
<polyline points="395.5,319 534,345" fill="none" stroke="#ece144" stroke-width="1.3" />
<polyline points="395.5,321 534,345" fill="none" stroke="#eaa842" stroke-width="1.3" />
<polyline points="395.5,343 534,395" fill="none" stroke="#eaa842" stroke-width="1.3" />
<polyline points="395.5,343 534,345" fill="none" stroke="#ece144" stroke-width="1.3" />
<polyline points="395.5,343 534,345" fill="none" stroke="#eaa842" stroke-width="1.3" />
<polyline points="395.5,343 534,395" fill="none" stroke="#eaa842" stroke-width="1.3" />
<polyline points="395.5,321.4 534,345" fill="none" stroke="#eaa842" stroke-width="1.3" />
<polyline points="395.5,319 534,395" fill="none" stroke="#eaa842" stroke-width="1.3" />
<polyline points="395.5,333.9 534,395" fill="none" stroke="#eaa842" stroke-width="1.3" />
<polyline points="395.5,319 534,345" fill="none" stroke="#eaa842" stroke-width="1.3" />
<polyline points="395.5,343 534,348.5" fill="none" stroke="#eaa842" stroke-width="1.3" />
<polyline points="395.5,334.7 534,369.6" fill="none" stroke="#ece144" stroke-width="1.3" />
<polyline points="395.5,343 534,389" fill="none" stroke="#eaa842" stroke-width="1.3" />
<polyline points="395.5,319 534,345" fill="none" stroke="#eaa842" stroke-width="1.3" />
<polyline points="395.5,338 534,345" fill="none" stroke="#ece144" stroke-width="1.3" />
<polyline points="395.5,319 534,345" fill="none" stroke="#eaa842" stroke-width="1.3" />
<polygon points="395.5,398 534,440 534,505 395.5,420" fill="#e02b26" fill-opacity="0.55"/>
<polyline points="395.5,398 534,464.7" fill="none" stroke="#e02b26" stroke-width="1.2" />
<polyline points="395.5,412.2 534,440" fill="none" stroke="#e02b26" stroke-width="1.2" />
<polyline points="395.5,399.3 534,468.6" fill="none" stroke="#e8703a" stroke-width="1.2" />
<polyline points="395.5,408.8 534,440" fill="none" stroke="#e02b26" stroke-width="1.2" />
<polyline points="395.5,398 534,456.1" fill="none" stroke="#e02b26" stroke-width="1.2" />
<polyline points="395.5,420 534,505" fill="none" stroke="#e02b26" stroke-width="1.2" />
<polyline points="395.5,398 534,440" fill="none" stroke="#e02b26" stroke-width="1.2" />
<polyline points="395.5,403.1 534,505" fill="none" stroke="#e02b26" stroke-width="1.2" />
<polyline points="395.5,413.8 534,440" fill="none" stroke="#e02b26" stroke-width="1.2" />
<polyline points="395.5,398 534,440" fill="none" stroke="#e02b26" stroke-width="1.2" />
<polyline points="395.5,398 534,450.7" fill="none" stroke="#e02b26" stroke-width="1.2" />
<polyline points="395.5,398 534,440" fill="none" stroke="#e02b26" stroke-width="1.2" />
<polyline points="395.5,407.1 534,505" fill="none" stroke="#e8703a" stroke-width="1.2" />
<polyline points="395.5,410.5 534,505" fill="none" stroke="#e8703a" stroke-width="1.2" />
<polyline points="395.5,398 534,503" fill="none" stroke="#e8703a" stroke-width="1.2" />
<polyline points="395.5,407 534,464.9" fill="none" stroke="#e02b26" stroke-width="1.2" />
<polyline points="395.5,402.4 534,505" fill="none" stroke="#e8703a" stroke-width="1.2" />
<polyline points="395.5,413.9 534,451.8" fill="none" stroke="#e8703a" stroke-width="1.2" />
<polyline points="395.5,415.6 534,500.6" fill="none" stroke="#e02b26" stroke-width="1.2" />
<polyline points="395.5,403.5 534,502.9" fill="none" stroke="#e02b26" stroke-width="1.2" />
<polyline points="395.5,410.5 534,481.5" fill="none" stroke="#e02b26" stroke-width="1.2" />
<polyline points="395.5,416 534,442.1" fill="none" stroke="#e02b26" stroke-width="1.2" />
<polyline points="395.5,406.6 534,454.2" fill="none" stroke="#e02b26" stroke-width="1.2" />
<polyline points="395.5,398 534,440" fill="none" stroke="#e8703a" stroke-width="1.2" />
<polyline points="395.5,398 534,466.9" fill="none" stroke="#e02b26" stroke-width="1.2" />
<polyline points="395.5,420 534,505" fill="none" stroke="#e02b26" stroke-width="1.2" />
<polyline points="395.5,406.3 534,451.3" fill="none" stroke="#e02b26" stroke-width="1.2" />
<polyline points="395.5,398 534,440" fill="none" stroke="#e02b26" stroke-width="1.2" />
<polyline points="395.5,403 534,457.2" fill="none" stroke="#e02b26" stroke-width="1.2" />
<polyline points="395.5,420 534,446.1" fill="none" stroke="#e8703a" stroke-width="1.2" />
<polyline points="395.5,420 534,476.9" fill="none" stroke="#e02b26" stroke-width="1.2" />
<polyline points="395.5,404.9 534,440" fill="none" stroke="#e02b26" stroke-width="1.2" />
<polyline points="395.5,401 534,500.2" fill="none" stroke="#e02b26" stroke-width="1.2" />
<polyline points="395.5,398 534,440" fill="none" stroke="#e02b26" stroke-width="1.2" />
<polyline points="395.5,407.8 534,505" fill="none" stroke="#e02b26" stroke-width="1.2" />
<polyline points="395.5,403.5 534,455.9" fill="none" stroke="#e02b26" stroke-width="1.2" />
<polyline points="395.5,404.8 534,492.3" fill="none" stroke="#e02b26" stroke-width="1.2" />
<polyline points="395.5,405.6 534,471.7" fill="none" stroke="#e8703a" stroke-width="1.2" />
<polyline points="395.5,408 534,505" fill="none" stroke="#e8703a" stroke-width="1.2" />
<polyline points="395.5,408.5 534,496" fill="none" stroke="#e02b26" stroke-width="1.2" />
<polyline points="395.5,416.3 534,478.6" fill="none" stroke="#e02b26" stroke-width="1.2" />
<polyline points="395.5,398 534,459.8" fill="none" stroke="#e02b26" stroke-width="1.2" />
<polyline points="395.5,415.9 534,496.3" fill="none" stroke="#e02b26" stroke-width="1.2" />
<polyline points="395.5,411.4 534,489.8" fill="none" stroke="#e8703a" stroke-width="1.2" />
<polyline points="395.5,406.6 534,451.5" fill="none" stroke="#e02b26" stroke-width="1.2" />
<polyline points="395.5,370 534,472.7" fill="none" stroke="#e02b26" stroke-width="1.2" />
<polyline points="395.5,370 534,442.4" fill="none" stroke="#e02b26" stroke-width="1.2" />
<polyline points="395.5,356.8 534,440" fill="none" stroke="#e8703a" stroke-width="1.2" />
<polyline points="395.5,357.9 534,480" fill="none" stroke="#e8703a" stroke-width="1.2" />
<polyline points="395.5,345 534,480" fill="none" stroke="#e8703a" stroke-width="1.2" />
<polyline points="395.5,343.4 534,480" fill="none" stroke="#e8703a" stroke-width="1.2" />
<polyline points="395.5,360.8 534,480" fill="none" stroke="#e8703a" stroke-width="1.2" />
<polyline points="395.5,370 534,452.3" fill="none" stroke="#e8703a" stroke-width="1.2" />
<polyline points="395.5,340 534,440" fill="none" stroke="#e8703a" stroke-width="1.2" />
<polyline points="395.5,340 534,480" fill="none" stroke="#e02b26" stroke-width="1.2" />
<polyline points="395.5,340 534,440" fill="none" stroke="#e8703a" stroke-width="1.2" />
<polyline points="395.5,370 534,447.5" fill="none" stroke="#e8703a" stroke-width="1.2" />
<polyline points="395.5,368.8 534,467.4" fill="none" stroke="#e02b26" stroke-width="1.2" />
<polyline points="395.5,340 534,448.4" fill="none" stroke="#e8703a" stroke-width="1.2" />
<polyline points="395.5,361.6 534,441" fill="none" stroke="#e8703a" stroke-width="1.2" />
<polyline points="395.5,340 534,480" fill="none" stroke="#e02b26" stroke-width="1.2" />
<polyline points="395.5,350.2 534,480" fill="none" stroke="#e02b26" stroke-width="1.2" />
<polyline points="395.5,340 534,440" fill="none" stroke="#e8703a" stroke-width="1.2" />
<polyline points="395.5,340 534,478.9" fill="none" stroke="#e02b26" stroke-width="1.2" />
<polyline points="395.5,340 534,440" fill="none" stroke="#e02b26" stroke-width="1.2" />
<polyline points="395.5,355.4 534,440" fill="none" stroke="#e8703a" stroke-width="1.2" />
<polyline points="395.5,340 534,440" fill="none" stroke="#e8703a" stroke-width="1.2" />
<polyline points="395.5,351.7 534,462.1" fill="none" stroke="#e8703a" stroke-width="1.2" />
<polyline points="395.5,340 534,440" fill="none" stroke="#e8703a" stroke-width="1.2" />
<polyline points="395.5,354.9 534,443.1" fill="none" stroke="#e02b26" stroke-width="1.2" />
<polygon points="534,276 603,342 672.7,365 740,370 809.7,368 809.7,374 740,376 672.7,371 603,362 534,342" fill="#44948c" />
<polyline points="534,303.2 603,351.8 672.7,367.5 740,372.2 809.7,368" fill="none" stroke="#44948c" stroke-width="1.2" />
<polyline points="534,290.9 603,343.1 672.7,367.2 740,371.5 809.7,369.2" fill="none" stroke="#3474b0" stroke-width="1.2" />
<polyline points="534,282.4 603,349.4 672.7,369.1 740,372 809.7,369.5" fill="none" stroke="#44948c" stroke-width="1.2" />
<polyline points="534,276 603,342 672.7,368.5 740,374.2 809.7,371.3" fill="none" stroke="#44948c" stroke-width="1.2" />
<polyline points="534,300.4 603,348.8 672.7,367.7 740,371.7 809.7,369.4" fill="none" stroke="#62aa9e" stroke-width="1.2" />
<polyline points="534,297.5 603,355.6 672.7,371 740,371.8 809.7,373.3" fill="none" stroke="#3474b0" stroke-width="1.2" />
<polyline points="534,329.4 603,362 672.7,371 740,375.4 809.7,372.9" fill="none" stroke="#44948c" stroke-width="1.2" />
<polyline points="534,331.1 603,359.7 672.7,370.9 740,375.9 809.7,372.6" fill="none" stroke="#62aa9e" stroke-width="1.2" />
<polyline points="534,300.1 603,359.5 672.7,365.4 740,370.3 809.7,368" fill="none" stroke="#62aa9e" stroke-width="1.2" />
<polyline points="534,276 603,350.9 672.7,367.8 740,376 809.7,371.5" fill="none" stroke="#44948c" stroke-width="1.2" />
<polyline points="534,309.6 603,356.6 672.7,368 740,373 809.7,372.1" fill="none" stroke="#44948c" stroke-width="1.2" />
<polyline points="534,278.5 603,342.1 672.7,365.1 740,373 809.7,368.3" fill="none" stroke="#44948c" stroke-width="1.2" />
<polyline points="534,273 603,339 672.7,364 740,368 809.7,367" fill="none" stroke="#25439a" stroke-width="1.2" />
<polyline points="534,277 603,342 672.7,364.3 740,368 809.7,366" fill="none" stroke="#25439a" stroke-width="1.2" />
<polyline points="534,274.7 603,340.3 672.7,365.7 740,368.6 809.7,366.7" fill="none" stroke="#25439a" stroke-width="1.2" />
<polyline points="534,274.8 603,343.6 672.7,366.4 740,369.1 809.7,366.9" fill="none" stroke="#25439a" stroke-width="1.2" />
<polyline points="534,280.4 603,341.7 672.7,365 740,370.4 809.7,366.8" fill="none" stroke="#25439a" stroke-width="1.2" />
<polyline points="534,285 603,343.8 672.7,366.4 740,369.9 809.7,369" fill="none" stroke="#3474b0" stroke-width="1.2" />
<polygon points="534,338 603,360 672.7,370 740,374 809.7,372 809.7,383 740,380 672.7,375 603,374 534,350" fill="#ece144" />
<polyline points="534,341.1 603,360.7 672.7,372.3 740,379 809.7,380.1" fill="none" stroke="#ece144" stroke-width="1.2" />
<polyline points="534,346.2 603,363.2 672.7,372 740,376.6 809.7,375.9" fill="none" stroke="#ece144" stroke-width="1.2" />
<polyline points="534,338.5 603,367.2 672.7,373 740,378.6 809.7,374.4" fill="none" stroke="#ece144" stroke-width="1.2" />
<polyline points="534,349.6 603,371.6 672.7,374.8 740,378.5 809.7,377.6" fill="none" stroke="#ece144" stroke-width="1.2" />
<polyline points="534,338.5 603,360.5 672.7,371 740,374 809.7,374.1" fill="none" stroke="#ece144" stroke-width="1.2" />
<polyline points="534,338 603,368 672.7,370 740,374.5 809.7,372" fill="none" stroke="#ece144" stroke-width="1.2" />
<polygon points="534,348 603,372 672.7,373 740,378 809.7,380 809.7,395 740,392 672.7,388 603,397 534,395" fill="#eaa842" />
<polyline points="534,361.4 603,387.5 672.7,376.4 740,382.6 809.7,390.8" fill="none" stroke="#eaa842" stroke-width="1.2" />
<polyline points="534,352.1 603,372 672.7,373 740,379.1 809.7,381.3" fill="none" stroke="#eaa842" stroke-width="1.2" />
<polyline points="534,381.2 603,380 672.7,377.7 740,384.3 809.7,382.2" fill="none" stroke="#eaa842" stroke-width="1.2" />
<polyline points="534,379.3 603,391.4 672.7,384.7 740,388 809.7,386.9" fill="none" stroke="#eaa842" stroke-width="1.2" />
<polyline points="534,361.2 603,372 672.7,373 740,378 809.7,389.9" fill="none" stroke="#eaa842" stroke-width="1.2" />
<polyline points="534,352.6 603,374.1 672.7,377.6 740,385.8 809.7,381.5" fill="none" stroke="#eaa842" stroke-width="1.2" />
<polyline points="534,351.5 603,372.7 672.7,376.7 740,381.9 809.7,381.5" fill="none" stroke="#eaa842" stroke-width="1.2" />
<polyline points="534,366.6 603,375 672.7,374.6 740,381.7 809.7,386.5" fill="none" stroke="#eaa842" stroke-width="1.2" />
<polyline points="534,356.3 603,372 672.7,375 740,387.9 809.7,380" fill="none" stroke="#eaa842" stroke-width="1.2" />
<polyline points="534,378.8 603,378.6 672.7,385.5 740,389.6 809.7,386.9" fill="none" stroke="#eaa842" stroke-width="1.2" />
<polygon points="534,393 603,395 672.7,382 740,388 809.7,388 809.7,396 740,394 672.7,390 603,423 534,440" fill="#e8703a" />
<polyline points="534,424.3 603,409.8 672.7,390 740,391.6 809.7,393.5" fill="none" stroke="#e8703a" stroke-width="1.2" />
<polyline points="534,418.9 603,407.1 672.7,387.6 740,391.4 809.7,392.5" fill="none" stroke="#e8703a" stroke-width="1.2" />
<polyline points="534,393 603,408.3 672.7,386.1 740,391.9 809.7,389.5" fill="none" stroke="#e8703a" stroke-width="1.2" />
<polyline points="534,417.6 603,402 672.7,382.7 740,392.2 809.7,391" fill="none" stroke="#e8703a" stroke-width="1.2" />
<polyline points="534,393 603,407.1 672.7,387.5 740,390.8 809.7,393" fill="none" stroke="#e8703a" stroke-width="1.2" />
<polyline points="534,434.8 603,416.9 672.7,387.7 740,388.8 809.7,391.3" fill="none" stroke="#e8703a" stroke-width="1.2" />
<polyline points="534,429.8 603,405.4 672.7,383 740,393.8 809.7,393.9" fill="none" stroke="#e8703a" stroke-width="1.2" />
<polyline points="534,434.4 603,419.7 672.7,384.8 740,389.5 809.7,390.2" fill="none" stroke="#e8703a" stroke-width="1.2" />
<polygon points="534,438 603,421 672.7,386 740,390 809.7,392 809.7,532 740,522 672.7,517 603,489 534,505" fill="#e02b26" />
<polyline points="534,455.7 603,440.2 672.7,412.4 740,431.6 809.7,427.1" fill="none" stroke="#e63a2a" stroke-width="1.0" />
<polyline points="534,440.6 603,426.6 672.7,410.3 740,431.4 809.7,398.7" fill="none" stroke="#e8703a" stroke-width="1.0" />
<polyline points="534,475.3 603,463.2 672.7,463.6 740,458.9 809.7,462.3" fill="none" stroke="#d8241f" stroke-width="1.0" />
<polyline points="534,499.8 603,481.3 672.7,505.1 740,506.7 809.7,488.6" fill="none" stroke="#e8703a" stroke-width="1.0" />
<polyline points="534,467.5 603,459.4 672.7,461.3 740,465.9 809.7,444.2" fill="none" stroke="#e63a2a" stroke-width="1.0" />
<polyline points="534,493.5 603,462.9 672.7,450.6 740,477.7 809.7,479" fill="none" stroke="#e63a2a" stroke-width="1.0" />
<polyline points="534,459.3 603,441.4 672.7,418.3 740,438.6 809.7,462.6" fill="none" stroke="#d8241f" stroke-width="1.0" />
<polyline points="534,505 603,485.3 672.7,504.8 740,522 809.7,500.5" fill="none" stroke="#d8241f" stroke-width="1.0" />
<polyline points="534,469.6 603,463 672.7,451.6 740,454 809.7,474.7" fill="none" stroke="#e63a2a" stroke-width="1.0" />
<polyline points="534,478.7 603,462.5 672.7,456.5 740,448.7 809.7,478.8" fill="none" stroke="#d8241f" stroke-width="1.0" />
<polyline points="534,499.4 603,479.3 672.7,515.6 740,500.2 809.7,521.8" fill="none" stroke="#e63a2a" stroke-width="1.0" />
<polyline points="534,443.4 603,432.1 672.7,399.8 740,415.5 809.7,407.6" fill="none" stroke="#e63a2a" stroke-width="1.0" />
<polyline points="534,474.8 603,462.7 672.7,466.5 740,472.7 809.7,481.4" fill="none" stroke="#d8241f" stroke-width="1.0" />
<polyline points="534,487.1 603,468.7 672.7,484 740,468.5 809.7,479.4" fill="none" stroke="#d8241f" stroke-width="1.0" />
<polyline points="534,487.6 603,479.6 672.7,486 740,483.5 809.7,501.5" fill="none" stroke="#e63a2a" stroke-width="1.0" />
<polyline points="534,454 603,428.3 672.7,421.3 740,417 809.7,417.7" fill="none" stroke="#e63a2a" stroke-width="1.0" />
<polyline points="534,497.3 603,479.5 672.7,492.2 740,490.8 809.7,507.9" fill="none" stroke="#d8241f" stroke-width="1.0" />
<polyline points="534,466.1 603,447.4 672.7,422.7 740,422 809.7,441.6" fill="none" stroke="#d8241f" stroke-width="1.0" />
<polyline points="534,454.8 603,443.8 672.7,431.4 740,430.3 809.7,423.8" fill="none" stroke="#e63a2a" stroke-width="1.0" />
<polyline points="534,476.7 603,454.4 672.7,464.3 740,471.7 809.7,460" fill="none" stroke="#e63a2a" stroke-width="1.0" />
<polyline points="534,458.3 603,447.7 672.7,416.6 740,425.9 809.7,439" fill="none" stroke="#e8703a" stroke-width="1.0" />
<polyline points="534,473 603,462.5 672.7,460.2 740,468.8 809.7,468.6" fill="none" stroke="#e8703a" stroke-width="1.0" />
<polyline points="534,473.6 603,454.4 672.7,477.9 740,462.5 809.7,465.5" fill="none" stroke="#e63a2a" stroke-width="1.0" />
<polyline points="534,447.2 603,432.5 672.7,403.8 740,418.4 809.7,416.6" fill="none" stroke="#d8241f" stroke-width="1.0" />
<polyline points="534,494.1 603,481.3 672.7,501.4 740,504 809.7,517.9" fill="none" stroke="#e63a2a" stroke-width="1.0" />
<polyline points="534,473.6 603,459 672.7,468.5 740,456 809.7,475.3" fill="none" stroke="#e8703a" stroke-width="1.0" />
<polyline points="534,465.5 603,453.8 672.7,447.5 740,464.9 809.7,480" fill="none" stroke="#e8703a" stroke-width="1.0" />
<polyline points="534,468.3 603,465.3 672.7,455.8 740,476.4 809.7,473.5" fill="none" stroke="#d8241f" stroke-width="1.0" />
<polyline points="534,467.7 603,454.7 672.7,443.8 740,447 809.7,459.7" fill="none" stroke="#e63a2a" stroke-width="1.0" />
<polyline points="534,439.4 603,421 672.7,386 740,395.9 809.7,392" fill="none" stroke="#e63a2a" stroke-width="1.0" />
<polyline points="534,455.1 603,430.7 672.7,403.7 740,424.2 809.7,411.4" fill="none" stroke="#d8241f" stroke-width="1.0" />
<polyline points="534,488.5 603,477.2 672.7,489 740,483.4 809.7,482.1" fill="none" stroke="#e63a2a" stroke-width="1.0" />
<polyline points="534,500.5 603,483.6 672.7,517 740,518.7 809.7,513.9" fill="none" stroke="#e8703a" stroke-width="1.0" />
<polyline points="534,452 603,441.7 672.7,420.5 740,438.9 809.7,425.6" fill="none" stroke="#e63a2a" stroke-width="1.0" />
<polyline points="534,467.4 603,439.7 672.7,421.2 740,433 809.7,441.7" fill="none" stroke="#d8241f" stroke-width="1.0" />
<polyline points="534,479.6 603,459.1 672.7,473.6 740,478.9 809.7,453.9" fill="none" stroke="#e63a2a" stroke-width="1.0" />
<polyline points="534,471 603,446.3 672.7,418.6 740,409.6 809.7,425.4" fill="none" stroke="#e63a2a" stroke-width="1.0" />
<polyline points="534,500.1 603,473.8 672.7,489.6 740,479.8 809.7,518.6" fill="none" stroke="#e8703a" stroke-width="1.0" />
<polyline points="534,457.4 603,453.9 672.7,437.9 740,452.6 809.7,442.5" fill="none" stroke="#e63a2a" stroke-width="1.0" />
<polyline points="534,461.9 603,441.2 672.7,431.4 740,448.1 809.7,449" fill="none" stroke="#d8241f" stroke-width="1.0" />
<polyline points="534,497.1 603,470.9 672.7,489.3 740,517.5 809.7,511.6" fill="none" stroke="#e8703a" stroke-width="1.0" />
<polyline points="534,453.6 603,450.5 672.7,438.2 740,437.9 809.7,433.4" fill="none" stroke="#d8241f" stroke-width="1.0" />
<polyline points="534,463.8 603,444 672.7,420.4 740,407.6 809.7,434" fill="none" stroke="#e8703a" stroke-width="1.0" />
<polyline points="534,468.4 603,460.7 672.7,456.2 740,451.8 809.7,448.3" fill="none" stroke="#e63a2a" stroke-width="1.0" />
<polyline points="534,491.3 603,480.3 672.7,496.2 740,503.2 809.7,518.4" fill="none" stroke="#e63a2a" stroke-width="1.0" />
<polyline points="534,465.5 603,440.6 672.7,429.3 740,431.9 809.7,442.1" fill="none" stroke="#e63a2a" stroke-width="1.0" />
<polyline points="534,489.1 603,484.2 672.7,498.8 740,520.3 809.7,529.7" fill="none" stroke="#e63a2a" stroke-width="1.0" />
<polyline points="534,463.4 603,443.4 672.7,430.9 740,467 809.7,447.4" fill="none" stroke="#e8703a" stroke-width="1.0" />
<polyline points="534,480.1 603,473 672.7,462 740,472.1 809.7,459.9" fill="none" stroke="#d8241f" stroke-width="1.0" />
<polyline points="534,457.4 603,441.8 672.7,420.9 740,425.4 809.7,431.8" fill="none" stroke="#e63a2a" stroke-width="1.0" />
<polyline points="672.7,514 740,522.3 809.7,528" fill="none" stroke="#44948c" stroke-width="1.2" />
<polyline points="672.7,518.5 740,523 809.7,530.1" fill="none" stroke="#eaa842" stroke-width="1.2" />
<polyline points="672.7,518.7 740,525 809.7,530.8" fill="none" stroke="#eaa842" stroke-width="1.2" />
<polyline points="672.7,514.1 740,523.8 809.7,532.8" fill="none" stroke="#ece144" stroke-width="1.2" />
<polygon points="809.7,368 948.2,268 948.2,270 809.7,530" fill="#e02b26" />
<polyline points="809.7,530 948.2,269.9" fill="none" stroke="#e63a2a" stroke-width="1.0" />
<polyline points="809.7,530 948.2,269.8" fill="none" stroke="#e8703a" stroke-width="1.0" />
<polyline points="809.7,521.1 948.2,269.7" fill="none" stroke="#e8703a" stroke-width="1.0" />
<polyline points="809.7,411.8 948.2,268.3" fill="none" stroke="#e63a2a" stroke-width="1.0" />
<polyline points="809.7,382.6 948.2,268.3" fill="none" stroke="#e63a2a" stroke-width="1.0" />
<polyline points="809.7,461.3 948.2,270" fill="none" stroke="#e8703a" stroke-width="1.0" />
<polyline points="809.7,371.1 948.2,268.6" fill="none" stroke="#e63a2a" stroke-width="1.0" />
<polyline points="809.7,397 948.2,269.1" fill="none" stroke="#e63a2a" stroke-width="1.0" />
<polyline points="809.7,530 948.2,269.5" fill="none" stroke="#e63a2a" stroke-width="1.0" />
<polyline points="809.7,530 948.2,270" fill="none" stroke="#e63a2a" stroke-width="1.0" />
<polyline points="809.7,530 948.2,269.1" fill="none" stroke="#e63a2a" stroke-width="1.0" />
<polyline points="809.7,530 948.2,269.3" fill="none" stroke="#d8241f" stroke-width="1.0" />
<polyline points="809.7,473.7 948.2,269.3" fill="none" stroke="#d8241f" stroke-width="1.0" />
<polyline points="809.7,422.3 948.2,268.9" fill="none" stroke="#d8241f" stroke-width="1.0" />
<polyline points="809.7,393.6 948.2,268.5" fill="none" stroke="#e8703a" stroke-width="1.0" />
<polyline points="809.7,474.6 948.2,268.6" fill="none" stroke="#e63a2a" stroke-width="1.0" />
<polyline points="809.7,391.1 948.2,268.7" fill="none" stroke="#d8241f" stroke-width="1.0" />
<polyline points="809.7,439.4 948.2,270" fill="none" stroke="#d8241f" stroke-width="1.0" />
<polyline points="809.7,411.2 948.2,270" fill="none" stroke="#e63a2a" stroke-width="1.0" />
<polyline points="809.7,368 948.2,268.2" fill="none" stroke="#e8703a" stroke-width="1.0" />
<polyline points="809.7,446.4 948.2,269.5" fill="none" stroke="#e63a2a" stroke-width="1.0" />
<polyline points="809.7,421.3 948.2,269" fill="none" stroke="#d8241f" stroke-width="1.0" />
<polyline points="809.7,530 948.2,269.9" fill="none" stroke="#d8241f" stroke-width="1.0" />
<polyline points="809.7,475.4 948.2,269.6" fill="none" stroke="#d8241f" stroke-width="1.0" />
<polyline points="809.7,368 948.2,268" fill="none" stroke="#e8703a" stroke-width="1.0" />
<polyline points="809.7,424.8 948.2,268.7" fill="none" stroke="#e8703a" stroke-width="1.0" />
<polyline points="809.7,407 948.2,268.7" fill="none" stroke="#d8241f" stroke-width="1.0" />
<polyline points="809.7,383.5 948.2,268.3" fill="none" stroke="#e63a2a" stroke-width="1.0" />
<polyline points="809.7,455.6 948.2,269.4" fill="none" stroke="#e8703a" stroke-width="1.0" />
<polyline points="809.7,428.2 948.2,268.5" fill="none" stroke="#d8241f" stroke-width="1.0" />
<polygon points="809.7,366 948.2,356.7 948.2,358.7 809.7,455" fill="#e02b26" />
<polyline points="809.7,439.2 948.2,358.4" fill="none" stroke="#e8703a" stroke-width="1.2" />
<polyline points="809.7,440.1 948.2,357.5" fill="none" stroke="#e02b26" stroke-width="1.2" />
<polyline points="809.7,366 948.2,356.7" fill="none" stroke="#e8703a" stroke-width="1.2" />
<polyline points="809.7,427.1 948.2,358.4" fill="none" stroke="#e02b26" stroke-width="1.2" />
<polyline points="809.7,455 948.2,357.9" fill="none" stroke="#e02b26" stroke-width="1.2" />
<polyline points="809.7,403.4 948.2,357.2" fill="none" stroke="#e8703a" stroke-width="1.2" />
<polyline points="809.7,406.1 948.2,358.1" fill="none" stroke="#e02b26" stroke-width="1.2" />
<polyline points="809.7,366 948.2,356.7" fill="none" stroke="#e02b26" stroke-width="1.2" />
<polyline points="809.7,451 948.2,356.8" fill="none" stroke="#e02b26" stroke-width="1.2" />
<polyline points="809.7,367.7 948.2,356.7" fill="none" stroke="#e02b26" stroke-width="1.2" />
<polyline points="809.7,455 948.2,357.7" fill="none" stroke="#e02b26" stroke-width="1.2" />
<polyline points="809.7,420.1 948.2,357.8" fill="none" stroke="#e02b26" stroke-width="1.2" />
<polyline points="809.7,384.6 948.2,357.6" fill="none" stroke="#e02b26" stroke-width="1.2" />
<polyline points="809.7,413.9 948.2,357.5" fill="none" stroke="#e02b26" stroke-width="1.2" />
<polyline points="809.7,375 948.2,357.8" fill="none" stroke="#e02b26" stroke-width="1.2" />
<polyline points="809.7,400.3 948.2,356.7" fill="none" stroke="#e02b26" stroke-width="1.2" />
<polyline points="809.7,366 948.2,356.7" fill="none" stroke="#e8703a" stroke-width="1.2" />
<polyline points="809.7,367.8 948.2,357.3" fill="none" stroke="#e02b26" stroke-width="1.2" />
<polyline points="809.7,440.8 948.2,358.2" fill="none" stroke="#e02b26" stroke-width="1.2" />
<polyline points="809.7,418.9 948.2,357.6" fill="none" stroke="#e02b26" stroke-width="1.2" />
<polygon points="809.7,384 948.2,445.3 948.2,447.3 809.7,532" fill="#e02b26" />
<polyline points="809.7,476.3 948.2,446.7" fill="none" stroke="#e02b26" stroke-width="1.2" />
<polyline points="809.7,384 948.2,445.3" fill="none" stroke="#e02b26" stroke-width="1.2" />
<polyline points="809.7,532 948.2,447.3" fill="none" stroke="#e8703a" stroke-width="1.2" />
<polyline points="809.7,470.4 948.2,445.7" fill="none" stroke="#e02b26" stroke-width="1.2" />
<polyline points="809.7,532 948.2,447.3" fill="none" stroke="#e02b26" stroke-width="1.2" />
<polyline points="809.7,399.4 948.2,446.3" fill="none" stroke="#e8703a" stroke-width="1.2" />
<polyline points="809.7,532 948.2,446.5" fill="none" stroke="#e8703a" stroke-width="1.2" />
<polyline points="809.7,384 948.2,445.3" fill="none" stroke="#e02b26" stroke-width="1.2" />
<polyline points="809.7,384 948.2,446.2" fill="none" stroke="#e02b26" stroke-width="1.2" />
<polyline points="809.7,412.7 948.2,446" fill="none" stroke="#e02b26" stroke-width="1.2" />
<polyline points="809.7,478.8 948.2,446.4" fill="none" stroke="#e02b26" stroke-width="1.2" />
<polyline points="809.7,532 948.2,446.6" fill="none" stroke="#e02b26" stroke-width="1.2" />
<polyline points="809.7,384 948.2,445.3" fill="none" stroke="#e8703a" stroke-width="1.2" />
<polyline points="809.7,429.8 948.2,445.9" fill="none" stroke="#e02b26" stroke-width="1.2" />
<polyline points="809.7,475.8 948.2,447.2" fill="none" stroke="#e02b26" stroke-width="1.2" />
<polyline points="809.7,436.6 948.2,445.9" fill="none" stroke="#e02b26" stroke-width="1.2" />
<polyline points="809.7,516 948.2,447.1" fill="none" stroke="#e8703a" stroke-width="1.2" />
<polyline points="809.7,532 948.2,447.3" fill="none" stroke="#e02b26" stroke-width="1.2" />
<polyline points="809.7,384 948.2,446.1" fill="none" stroke="#e02b26" stroke-width="1.2" />
<polyline points="809.7,460.3 948.2,447.3" fill="none" stroke="#e8703a" stroke-width="1.2" />
<polyline points="809.7,492 948.2,445.8" fill="none" stroke="#e8703a" stroke-width="1.2" />
<polyline points="809.7,384 948.2,446.2" fill="none" stroke="#e02b26" stroke-width="1.2" />
<polyline points="809.7,403.5 948.2,446.1" fill="none" stroke="#e02b26" stroke-width="1.2" />
<polyline points="809.7,532 948.2,447.1" fill="none" stroke="#e02b26" stroke-width="1.2" />
<polyline points="809.7,423.4 948.2,446.8" fill="none" stroke="#e02b26" stroke-width="1.2" />
<polygon points="809.7,385 948.2,533 948.2,536 809.7,400" fill="#e02b26" />
<polyline points="809.7,400 948.2,536" fill="none" stroke="#e02b26" stroke-width="1.2" />
<polyline points="809.7,390.3 948.2,534.7" fill="none" stroke="#e02b26" stroke-width="1.2" />
<polyline points="809.7,389.7 948.2,533.5" fill="none" stroke="#e02b26" stroke-width="1.2" />
<polyline points="809.7,390.9 948.2,535.7" fill="none" stroke="#e8703a" stroke-width="1.2" />
<polyline points="809.7,385.1 948.2,534.6" fill="none" stroke="#e02b26" stroke-width="1.2" />
<polyline points="809.7,398.4 948.2,534.5" fill="none" stroke="#e02b26" stroke-width="1.2" />
<polyline points="809.7,390.2 948.2,533.9" fill="none" stroke="#e02b26" stroke-width="1.2" />
<polyline points="809.7,398.3 948.2,533.7" fill="none" stroke="#e8703a" stroke-width="1.2" />
<polyline points="809.7,391.7 948.2,533" fill="none" stroke="#e02b26" stroke-width="1.2" />
<polyline points="809.7,385.4 948.2,533" fill="none" stroke="#e8703a" stroke-width="1.2" />
<polyline points="809.7,368.5 948.2,269" fill="none" stroke="#ece144" stroke-width="1.1" />
<polyline points="809.7,366 948.2,269" fill="none" stroke="#44948c" stroke-width="1.1" />
<polyline points="809.7,369 948.2,269" fill="none" stroke="#44948c" stroke-width="1.1" />
<polyline points="809.7,368.5 948.2,269" fill="none" stroke="#ece144" stroke-width="1.1" />
<polyline points="809.7,371.2 948.2,269" fill="none" stroke="#eaa842" stroke-width="1.1" />
<polyline points="809.7,368.3 948.2,269" fill="none" stroke="#44948c" stroke-width="1.1" />
<polyline points="809.7,370.2 948.2,269" fill="none" stroke="#3474b0" stroke-width="1.1" />
<polyline points="809.7,370.3 948.2,269" fill="none" stroke="#eaa842" stroke-width="1.1" />
<polyline points="809.7,368.1 948.2,269" fill="none" stroke="#eaa842" stroke-width="1.1" />
<polyline points="809.7,369.9 948.2,269" fill="none" stroke="#3474b0" stroke-width="1.1" />
<polyline points="809.7,372 948.2,357.7" fill="none" stroke="#ece144" stroke-width="1.2" />
<polyline points="809.7,367 948.2,356.7" fill="none" stroke="#44948c" stroke-width="1.2" />
<polyline points="809.7,378 948.2,269" fill="none" stroke="#eaa842" stroke-width="1.2" />
<polyline points="809.7,500 948.2,447.3" fill="none" stroke="#3474b0" stroke-width="1.2" />
<polyline points="809.7,505 948.2,271" fill="none" stroke="#eaa842" stroke-width="1.2" />
<polyline points="809.7,515 948.2,446.3" fill="none" stroke="#eaa842" stroke-width="1.2" />
<text x="109" y="265" font-size="19" text-anchor="end" fill="#555555" >3000</text>
<text x="109" y="332.2" font-size="19" text-anchor="end" fill="#555555" >1500</text>
<text x="110" y="404.5" font-size="22" text-anchor="end" fill="#111" >0</text>
<text x="109" y="465.2" font-size="19" text-anchor="end" fill="#555555" >-1500</text>
<text x="109" y="531" font-size="19" text-anchor="end" fill="#555555" >-3000</text>
<text x="248" y="279.9" font-size="19" text-anchor="end" fill="#555555" >40M</text>
<text x="248" y="339.7" font-size="19" text-anchor="end" fill="#555555" >20M</text>
<text x="249" y="404.5" font-size="22" text-anchor="end" fill="#111" >0</text>
<text x="248" y="457.9" font-size="19" text-anchor="end" fill="#555555" >-20M</text>
<text x="248" y="516.4" font-size="19" text-anchor="end" fill="#555555" >-40M</text>
<text x="386.5" y="256" font-size="19" text-anchor="end" fill="#555555" >12M</text>
<text x="386.5" y="323.2" font-size="19" text-anchor="end" fill="#555555" >6M</text>
<text x="387.5" y="404.5" font-size="22" text-anchor="end" fill="#111" >0</text>
<text x="386.5" y="465.2" font-size="19" text-anchor="end" fill="#555555" >-6M</text>
<text x="386.5" y="531" font-size="19" text-anchor="end" fill="#555555" >-12M</text>
<text x="525" y="265" font-size="19" text-anchor="end" fill="#555555" >12</text>
<text x="525" y="332.2" font-size="19" text-anchor="end" fill="#555555" >6</text>
<text x="526" y="404.5" font-size="22" text-anchor="end" fill="#111" >0</text>
<text x="525" y="465.2" font-size="19" text-anchor="end" fill="#555555" >-6</text>
<text x="525" y="531" font-size="19" text-anchor="end" fill="#555555" >-12</text>
<text x="663.7" y="279.9" font-size="19" text-anchor="end" fill="#555555" >80</text>
<text x="663.7" y="339.7" font-size="19" text-anchor="end" fill="#555555" >40</text>
<text x="664.7" y="404.5" font-size="22" text-anchor="end" fill="#111" >0</text>
<text x="663.7" y="457.9" font-size="19" text-anchor="end" fill="#555555" >-40</text>
<text x="663.7" y="516.4" font-size="19" text-anchor="end" fill="#555555" >-80</text>
<text x="800.7" y="265" font-size="19" text-anchor="end" fill="#555555" >50</text>
<text x="800.7" y="332.2" font-size="19" text-anchor="end" fill="#555555" >25</text>
<text x="801.7" y="404.5" font-size="22" text-anchor="end" fill="#111" >0</text>
<text x="800.7" y="465.2" font-size="19" text-anchor="end" fill="#555555" >-25</text>
<text x="800.7" y="531" font-size="19" text-anchor="end" fill="#555555" >-50</text>
<line x1="948.2" y1="262" x2="948.2" y2="535" stroke="#b4b4b4" stroke-width="1.3" />
<line x1="1088.4" y1="262" x2="1088.4" y2="535" stroke="#b4b4b4" stroke-width="1.3" />
<line x1="1227" y1="262" x2="1227" y2="535" stroke="#b4b4b4" stroke-width="1.3" />
<line x1="1363.6" y1="262" x2="1363.6" y2="535" stroke="#b4b4b4" stroke-width="1.3" />
<line x1="941.2" y1="269" x2="948.2" y2="269" stroke="#b4b4b4" stroke-width="1.2" />
<line x1="941.2" y1="357.7" x2="948.2" y2="357.7" stroke="#b4b4b4" stroke-width="1.2" />
<line x1="941.2" y1="446.3" x2="948.2" y2="446.3" stroke="#b4b4b4" stroke-width="1.2" />
<line x1="941.2" y1="535" x2="948.2" y2="535" stroke="#b4b4b4" stroke-width="1.2" />
<line x1="1081.4" y1="269" x2="1088.4" y2="269" stroke="#b4b4b4" stroke-width="1.2" />
<line x1="1081.4" y1="335.5" x2="1088.4" y2="335.5" stroke="#b4b4b4" stroke-width="1.2" />
<line x1="1081.4" y1="402" x2="1088.4" y2="402" stroke="#b4b4b4" stroke-width="1.2" />
<line x1="1081.4" y1="468.5" x2="1088.4" y2="468.5" stroke="#b4b4b4" stroke-width="1.2" />
<line x1="1081.4" y1="535" x2="1088.4" y2="535" stroke="#b4b4b4" stroke-width="1.2" />
<line x1="1220" y1="269" x2="1227" y2="269" stroke="#b4b4b4" stroke-width="1.2" />
<line x1="1220" y1="322.2" x2="1227" y2="322.2" stroke="#b4b4b4" stroke-width="1.2" />
<line x1="1220" y1="375.4" x2="1227" y2="375.4" stroke="#b4b4b4" stroke-width="1.2" />
<line x1="1220" y1="428.6" x2="1227" y2="428.6" stroke="#b4b4b4" stroke-width="1.2" />
<line x1="1220" y1="481.8" x2="1227" y2="481.8" stroke="#b4b4b4" stroke-width="1.2" />
<line x1="1220" y1="535" x2="1227" y2="535" stroke="#b4b4b4" stroke-width="1.2" />
<line x1="1356.6" y1="269" x2="1363.6" y2="269" stroke="#b4b4b4" stroke-width="1.2" />
<line x1="1356.6" y1="335.5" x2="1363.6" y2="335.5" stroke="#b4b4b4" stroke-width="1.2" />
<line x1="1356.6" y1="402" x2="1363.6" y2="402" stroke="#b4b4b4" stroke-width="1.2" />
<line x1="1356.6" y1="468.5" x2="1363.6" y2="468.5" stroke="#b4b4b4" stroke-width="1.2" />
<line x1="1356.6" y1="535" x2="1363.6" y2="535" stroke="#b4b4b4" stroke-width="1.2" />
<line x1="948.2" y1="269" x2="1088.4" y2="269" stroke="#e2505c" stroke-width="1.15" />
<line x1="948.2" y1="269" x2="1088.4" y2="335.5" stroke="#e2505c" stroke-width="1.15" />
<line x1="948.2" y1="269" x2="1088.4" y2="402" stroke="#e2505c" stroke-width="1.15" />
<line x1="948.2" y1="269" x2="1088.4" y2="468.5" stroke="#e2505c" stroke-width="1.15" />
<line x1="948.2" y1="269" x2="1088.4" y2="535" stroke="#e2505c" stroke-width="1.15" />
<line x1="948.2" y1="357.7" x2="1088.4" y2="269" stroke="#e2505c" stroke-width="1.15" />
<line x1="948.2" y1="357.7" x2="1088.4" y2="335.5" stroke="#e2505c" stroke-width="1.15" />
<line x1="948.2" y1="357.7" x2="1088.4" y2="402" stroke="#e2505c" stroke-width="1.15" />
<line x1="948.2" y1="357.7" x2="1088.4" y2="468.5" stroke="#e2505c" stroke-width="1.15" />
<line x1="948.2" y1="357.7" x2="1088.4" y2="535" stroke="#e2505c" stroke-width="1.15" />
<line x1="948.2" y1="446.3" x2="1088.4" y2="269" stroke="#e2505c" stroke-width="1.15" />
<line x1="948.2" y1="446.3" x2="1088.4" y2="335.5" stroke="#e2505c" stroke-width="1.15" />
<line x1="948.2" y1="446.3" x2="1088.4" y2="402" stroke="#e2505c" stroke-width="1.15" />
<line x1="948.2" y1="446.3" x2="1088.4" y2="468.5" stroke="#e2505c" stroke-width="1.15" />
<line x1="948.2" y1="446.3" x2="1088.4" y2="535" stroke="#e2505c" stroke-width="1.15" />
<line x1="1088.4" y1="269" x2="1227" y2="269" stroke="#e2505c" stroke-width="1.15" />
<line x1="1088.4" y1="269" x2="1227" y2="322.2" stroke="#e2505c" stroke-width="1.15" />
<line x1="1088.4" y1="269" x2="1227" y2="375.4" stroke="#e2505c" stroke-width="1.15" />
<line x1="1088.4" y1="269" x2="1227" y2="428.6" stroke="#e2505c" stroke-width="1.15" />
<line x1="1088.4" y1="269" x2="1227" y2="481.8" stroke="#e2505c" stroke-width="1.15" />
<line x1="1088.4" y1="269" x2="1227" y2="535" stroke="#e2505c" stroke-width="1.15" />
<line x1="1088.4" y1="335.5" x2="1227" y2="269" stroke="#e2505c" stroke-width="1.15" />
<line x1="1088.4" y1="335.5" x2="1227" y2="322.2" stroke="#e2505c" stroke-width="1.15" />
<line x1="1088.4" y1="335.5" x2="1227" y2="375.4" stroke="#e2505c" stroke-width="1.15" />
<line x1="1088.4" y1="335.5" x2="1227" y2="428.6" stroke="#e2505c" stroke-width="1.15" />
<line x1="1088.4" y1="335.5" x2="1227" y2="481.8" stroke="#e2505c" stroke-width="1.15" />
<line x1="1088.4" y1="335.5" x2="1227" y2="535" stroke="#e2505c" stroke-width="1.15" />
<line x1="1088.4" y1="402" x2="1227" y2="269" stroke="#e2505c" stroke-width="1.15" />
<line x1="1088.4" y1="402" x2="1227" y2="322.2" stroke="#e2505c" stroke-width="1.15" />
<line x1="1088.4" y1="402" x2="1227" y2="375.4" stroke="#e2505c" stroke-width="1.15" />
<line x1="1088.4" y1="402" x2="1227" y2="428.6" stroke="#e2505c" stroke-width="1.15" />
<line x1="1088.4" y1="402" x2="1227" y2="481.8" stroke="#e2505c" stroke-width="1.15" />
<line x1="1088.4" y1="402" x2="1227" y2="535" stroke="#e2505c" stroke-width="1.15" />
<line x1="1088.4" y1="468.5" x2="1227" y2="269" stroke="#e2505c" stroke-width="1.15" />
<line x1="1088.4" y1="468.5" x2="1227" y2="322.2" stroke="#e2505c" stroke-width="1.15" />
<line x1="1088.4" y1="468.5" x2="1227" y2="375.4" stroke="#e2505c" stroke-width="1.15" />
<line x1="1088.4" y1="468.5" x2="1227" y2="428.6" stroke="#e2505c" stroke-width="1.15" />
<line x1="1088.4" y1="468.5" x2="1227" y2="481.8" stroke="#e2505c" stroke-width="1.15" />
<line x1="1088.4" y1="468.5" x2="1227" y2="535" stroke="#e2505c" stroke-width="1.15" />
<line x1="1088.4" y1="535" x2="1227" y2="269" stroke="#e2505c" stroke-width="1.15" />
<line x1="1088.4" y1="535" x2="1227" y2="322.2" stroke="#e2505c" stroke-width="1.15" />
<line x1="1088.4" y1="535" x2="1227" y2="375.4" stroke="#e2505c" stroke-width="1.15" />
<line x1="1088.4" y1="535" x2="1227" y2="428.6" stroke="#e2505c" stroke-width="1.15" />
<line x1="1088.4" y1="535" x2="1227" y2="481.8" stroke="#e2505c" stroke-width="1.15" />
<line x1="1088.4" y1="535" x2="1227" y2="535" stroke="#e2505c" stroke-width="1.15" />
<line x1="1227" y1="269" x2="1363.6" y2="269" stroke="#e2505c" stroke-width="1.15" />
<line x1="1227" y1="269" x2="1363.6" y2="335.5" stroke="#e2505c" stroke-width="1.15" />
<line x1="1227" y1="269" x2="1363.6" y2="402" stroke="#e2505c" stroke-width="1.15" />
<line x1="1227" y1="269" x2="1363.6" y2="468.5" stroke="#e2505c" stroke-width="1.15" />
<line x1="1227" y1="269" x2="1363.6" y2="535" stroke="#e2505c" stroke-width="1.15" />
<line x1="1227" y1="322.2" x2="1363.6" y2="269" stroke="#e2505c" stroke-width="1.15" />
<line x1="1227" y1="322.2" x2="1363.6" y2="335.5" stroke="#e2505c" stroke-width="1.15" />
<line x1="1227" y1="322.2" x2="1363.6" y2="402" stroke="#e2505c" stroke-width="1.15" />
<line x1="1227" y1="322.2" x2="1363.6" y2="468.5" stroke="#e2505c" stroke-width="1.15" />
<line x1="1227" y1="322.2" x2="1363.6" y2="535" stroke="#e2505c" stroke-width="1.15" />
<line x1="1227" y1="375.4" x2="1363.6" y2="269" stroke="#e2505c" stroke-width="1.15" />
<line x1="1227" y1="375.4" x2="1363.6" y2="335.5" stroke="#e2505c" stroke-width="1.15" />
<line x1="1227" y1="375.4" x2="1363.6" y2="402" stroke="#e2505c" stroke-width="1.15" />
<line x1="1227" y1="375.4" x2="1363.6" y2="468.5" stroke="#e2505c" stroke-width="1.15" />
<line x1="1227" y1="375.4" x2="1363.6" y2="535" stroke="#e2505c" stroke-width="1.15" />
<line x1="1227" y1="428.6" x2="1363.6" y2="269" stroke="#e2505c" stroke-width="1.15" />
<line x1="1227" y1="428.6" x2="1363.6" y2="335.5" stroke="#e2505c" stroke-width="1.15" />
<line x1="1227" y1="428.6" x2="1363.6" y2="402" stroke="#e2505c" stroke-width="1.15" />
<line x1="1227" y1="428.6" x2="1363.6" y2="468.5" stroke="#e2505c" stroke-width="1.15" />
<line x1="1227" y1="428.6" x2="1363.6" y2="535" stroke="#e2505c" stroke-width="1.15" />
<line x1="1227" y1="481.8" x2="1363.6" y2="269" stroke="#e2505c" stroke-width="1.15" />
<line x1="1227" y1="481.8" x2="1363.6" y2="335.5" stroke="#e2505c" stroke-width="1.15" />
<line x1="1227" y1="481.8" x2="1363.6" y2="402" stroke="#e2505c" stroke-width="1.15" />
<line x1="1227" y1="481.8" x2="1363.6" y2="468.5" stroke="#e2505c" stroke-width="1.15" />
<line x1="1227" y1="481.8" x2="1363.6" y2="535" stroke="#e2505c" stroke-width="1.15" />
<line x1="1227" y1="535" x2="1363.6" y2="269" stroke="#e2505c" stroke-width="1.15" />
<line x1="1227" y1="535" x2="1363.6" y2="335.5" stroke="#e2505c" stroke-width="1.15" />
<line x1="1227" y1="535" x2="1363.6" y2="402" stroke="#e2505c" stroke-width="1.15" />
<line x1="1227" y1="535" x2="1363.6" y2="468.5" stroke="#e2505c" stroke-width="1.15" />
<line x1="1227" y1="535" x2="1363.6" y2="535" stroke="#e2505c" stroke-width="1.15" />
<polyline points="118,396.5 809.7,396.5 948.2,535 1088.4,535 1227,428.6 1363.6,269" fill="none" stroke="#2b2b2b" stroke-width="2" stroke-dasharray="6,4"/>
<text x="945.2" y="280" font-size="20" text-anchor="start" fill="#333" >S3</text>
<text x="945.2" y="379.7" font-size="20" text-anchor="start" fill="#333" >S2</text>
<text x="945.2" y="465.3" font-size="20" text-anchor="start" fill="#333" >S1</text>
<text x="944.2" y="531" font-size="18" text-anchor="start" fill="#333" >Baseline</text>
<text x="1076.4" y="258.4" font-size="20" text-anchor="end" fill="#333" >e</text>
<text x="1076.4" y="324.5" font-size="20" text-anchor="end" fill="#333" >d</text>
<text x="1076.4" y="393" font-size="20" text-anchor="end" fill="#333" >c</text>
<text x="1076.4" y="464.5" font-size="20" text-anchor="end" fill="#333" >b</text>
<text x="1076.4" y="529" font-size="20" text-anchor="end" fill="#333" >a</text>
<text x="1219" y="253" font-size="19" text-anchor="end" fill="#333" >130</text>
<text x="1217.8" y="307.2" font-size="19" text-anchor="end" fill="#333" >120</text>
<text x="1216.6" y="363.4" font-size="19" text-anchor="end" fill="#333" >110</text>
<text x="1215.4" y="417.6" font-size="19" text-anchor="end" fill="#333" >100</text>
<text x="1214.2" y="477.8" font-size="19" text-anchor="end" fill="#333" >90</text>
<text x="1213" y="531.5" font-size="19" text-anchor="end" fill="#333" >80</text>
<text x="1370.1" y="261" font-size="20" text-anchor="start" fill="#333" >1195</text>
<text x="1370.1" y="329.9" font-size="20" text-anchor="start" fill="#333" >1194</text>
<text x="1370.1" y="397.5" font-size="20" text-anchor="start" fill="#333" >1193</text>
<text x="1370.1" y="470" font-size="20" text-anchor="start" fill="#333" >1192</text>
<text x="1370.1" y="537" font-size="20" text-anchor="start" fill="#333" >1191</text>
<rect x="1509" y="256.4" width="467" height="138.2" fill="#f1f9ec" />
<rect x="1509" y="394.6" width="467" height="138.8" fill="#f6e5e5" />
<line x1="1509" y1="256.4" x2="1509" y2="533.4" stroke="#d9d9d9" stroke-width="1.3" />
<line x1="1601.6" y1="256.4" x2="1601.6" y2="533.4" stroke="#d9d9d9" stroke-width="1.3" />
<line x1="1700.7" y1="256.4" x2="1700.7" y2="533.4" stroke="#d9d9d9" stroke-width="1.3" />
<line x1="1805" y1="256.4" x2="1805" y2="533.4" stroke="#d9d9d9" stroke-width="1.3" />
<line x1="1905" y1="256.4" x2="1905" y2="533.4" stroke="#d9d9d9" stroke-width="1.3" />
<text x="1497" y="278.4" font-size="19" text-anchor="end" fill="#555555" >12M</text>
<line x1="1505" y1="273.4" x2="1509" y2="273.4" stroke="#d0d0d0" stroke-width="1" />
<text x="1497" y="339.4" font-size="19" text-anchor="end" fill="#555555" >6M</text>
<line x1="1505" y1="334.4" x2="1509" y2="334.4" stroke="#d0d0d0" stroke-width="1" />
<text x="1497" y="399.6" font-size="19" text-anchor="end" fill="#555555" >0</text>
<line x1="1505" y1="394.6" x2="1509" y2="394.6" stroke="#d0d0d0" stroke-width="1" />
<text x="1497" y="464.6" font-size="19" text-anchor="end" fill="#555555" >-6M</text>
<line x1="1505" y1="459.6" x2="1509" y2="459.6" stroke="#d0d0d0" stroke-width="1" />
<text x="1497" y="523.6" font-size="19" text-anchor="end" fill="#555555" >-12M</text>
<line x1="1505" y1="518.6" x2="1509" y2="518.6" stroke="#d0d0d0" stroke-width="1" />
<text x="1591.6" y="278.4" font-size="19" text-anchor="end" fill="#4c5749" >12</text>
<line x1="1597.6" y1="273.4" x2="1601.6" y2="273.4" stroke="#d0d0d0" stroke-width="1" />
<text x="1591.6" y="339.4" font-size="19" text-anchor="end" fill="#4c5749" >6</text>
<line x1="1597.6" y1="334.4" x2="1601.6" y2="334.4" stroke="#d0d0d0" stroke-width="1" />
<text x="1591.6" y="399.6" font-size="19" text-anchor="end" fill="#4c5749" >0</text>
<line x1="1597.6" y1="394.6" x2="1601.6" y2="394.6" stroke="#d0d0d0" stroke-width="1" />
<text x="1591.6" y="464.6" font-size="19" text-anchor="end" fill="#5a4b4b" >-6</text>
<line x1="1597.6" y1="459.6" x2="1601.6" y2="459.6" stroke="#d0d0d0" stroke-width="1" />
<text x="1591.6" y="523.6" font-size="19" text-anchor="end" fill="#5a4b4b" >-12</text>
<line x1="1597.6" y1="518.6" x2="1601.6" y2="518.6" stroke="#d0d0d0" stroke-width="1" />
<text x="1691.7" y="263.4" font-size="19" text-anchor="end" fill="#4c5749" >50</text>
<line x1="1696.7" y1="258.4" x2="1700.7" y2="258.4" stroke="#d0d0d0" stroke-width="1" />
<text x="1691.7" y="327.4" font-size="19" text-anchor="end" fill="#4c5749" >25</text>
<line x1="1696.7" y1="322.4" x2="1700.7" y2="322.4" stroke="#d0d0d0" stroke-width="1" />
<text x="1691.7" y="399.6" font-size="19" text-anchor="end" fill="#4c5749" >0</text>
<line x1="1696.7" y1="394.6" x2="1700.7" y2="394.6" stroke="#d0d0d0" stroke-width="1" />
<text x="1691.7" y="467.6" font-size="19" text-anchor="end" fill="#5a4b4b" >-25</text>
<line x1="1696.7" y1="462.6" x2="1700.7" y2="462.6" stroke="#d0d0d0" stroke-width="1" />
<text x="1691.7" y="531.6" font-size="19" text-anchor="end" fill="#5a4b4b" >-50</text>
<line x1="1696.7" y1="526.6" x2="1700.7" y2="526.6" stroke="#d0d0d0" stroke-width="1" />
<text x="1800" y="277.4" font-size="19" text-anchor="end" fill="#4c5749" >80</text>
<line x1="1801" y1="272.4" x2="1805" y2="272.4" stroke="#d0d0d0" stroke-width="1" />
<text x="1800" y="337.4" font-size="19" text-anchor="end" fill="#4c5749" >40</text>
<line x1="1801" y1="332.4" x2="1805" y2="332.4" stroke="#d0d0d0" stroke-width="1" />
<text x="1800" y="398.6" font-size="19" text-anchor="end" fill="#4c5749" >0</text>
<line x1="1801" y1="393.6" x2="1805" y2="393.6" stroke="#d0d0d0" stroke-width="1" />
<text x="1800" y="463.6" font-size="19" text-anchor="end" fill="#5a4b4b" >-40</text>
<line x1="1801" y1="458.6" x2="1805" y2="458.6" stroke="#d0d0d0" stroke-width="1" />
<text x="1800" y="522.6" font-size="19" text-anchor="end" fill="#5a4b4b" >-80</text>
<line x1="1801" y1="517.6" x2="1805" y2="517.6" stroke="#d0d0d0" stroke-width="1" />
<text x="1896" y="277.4" font-size="19" text-anchor="end" fill="#4c5749" >40M</text>
<line x1="1901" y1="272.4" x2="1905" y2="272.4" stroke="#d0d0d0" stroke-width="1" />
<text x="1896" y="337.4" font-size="19" text-anchor="end" fill="#4c5749" >20M</text>
<line x1="1901" y1="332.4" x2="1905" y2="332.4" stroke="#d0d0d0" stroke-width="1" />
<text x="1896" y="398.6" font-size="19" text-anchor="end" fill="#4c5749" >0</text>
<line x1="1901" y1="393.6" x2="1905" y2="393.6" stroke="#d0d0d0" stroke-width="1" />
<text x="1896" y="463.6" font-size="19" text-anchor="end" fill="#5a4b4b" >-20M</text>
<line x1="1901" y1="458.6" x2="1905" y2="458.6" stroke="#d0d0d0" stroke-width="1" />
<text x="1896" y="522.6" font-size="19" text-anchor="end" fill="#5a4b4b" >-40M</text>
<line x1="1901" y1="517.6" x2="1905" y2="517.6" stroke="#d0d0d0" stroke-width="1" />
<line x1="1533.8" y1="283.5" x2="1533.8" y2="335.7" stroke="#9ca398" stroke-width="1.8" />
<line x1="1529.8" y1="283.5" x2="1537.8" y2="283.5" stroke="#8a9286" stroke-width="1.8" />
<line x1="1533.8" y1="401.2" x2="1533.8" y2="410.8" stroke="#a89a9a" stroke-width="1.8" />
<line x1="1529.8" y1="410.8" x2="1537.8" y2="410.8" stroke="#9a8a8a" stroke-width="1.8" />
<rect x="1521" y="335.7" width="25.6" height="58.9" fill="#717d6b" />
<rect x="1521" y="394.6" width="25.6" height="6.6" fill="#7a6969" />
<rect x="1521" y="335.7" width="25.6" height="65.5" fill="none" stroke="#5d6659" stroke-opacity="0.6" stroke-width="1.2"/>
<line x1="1521" y1="387.7" x2="1546.6" y2="387.7" stroke="#5e675a" stroke-width="1.5" />
<line x1="1529.8" y1="365.7" x2="1537.8" y2="373.7" stroke="#5b6357" stroke-width="1.2" />
<line x1="1529.8" y1="373.7" x2="1537.8" y2="365.7" stroke="#5b6357" stroke-width="1.2" />
<line x1="1631.8" y1="253.4" x2="1631.8" y2="327" stroke="#9ca398" stroke-width="1.8" />
<line x1="1627.8" y1="253.4" x2="1635.8" y2="253.4" stroke="#8a9286" stroke-width="1.8" />
<line x1="1631.8" y1="414" x2="1631.8" y2="506.4" stroke="#a89a9a" stroke-width="1.8" />
<line x1="1627.8" y1="506.4" x2="1635.8" y2="506.4" stroke="#9a8a8a" stroke-width="1.8" />
<rect x="1616.3" y="327" width="31" height="67.6" fill="#717d6b" />
<rect x="1616.3" y="394.6" width="31" height="19.4" fill="#7a6969" />
<rect x="1616.3" y="327" width="31" height="87" fill="none" stroke="#5d6659" stroke-opacity="0.6" stroke-width="1.2"/>
<line x1="1616.3" y1="362" x2="1647.3" y2="362" stroke="#5e675a" stroke-width="1.5" />
<line x1="1627.8" y1="364.8" x2="1635.8" y2="372.8" stroke="#5b6357" stroke-width="1.2" />
<line x1="1627.8" y1="372.8" x2="1635.8" y2="364.8" stroke="#5b6357" stroke-width="1.2" />
<line x1="1731.4" y1="354.7" x2="1731.4" y2="394.6" stroke="#9ca398" stroke-width="1.8" />
<line x1="1731.4" y1="394.6" x2="1731.4" y2="396.7" stroke="#a89a9a" stroke-width="1.8" />
<line x1="1727.4" y1="354.7" x2="1735.4" y2="354.7" stroke="#8a9286" stroke-width="1.8" />
<line x1="1731.4" y1="498" x2="1731.4" y2="530.4" stroke="#a89a9a" stroke-width="1.8" />
<line x1="1727.4" y1="530.4" x2="1735.4" y2="530.4" stroke="#9a8a8a" stroke-width="1.8" />
<rect x="1715.8" y="396.7" width="31.2" height="101.3" fill="#7a6969" />
<rect x="1715.8" y="396.7" width="31.2" height="101.3" fill="none" stroke="#5d6659" stroke-opacity="0.6" stroke-width="1.2"/>
<line x1="1715.8" y1="422.2" x2="1747" y2="422.2" stroke="#5e675a" stroke-width="1.5" />
<line x1="1727.4" y1="439.3" x2="1735.4" y2="447.3" stroke="#5b6357" stroke-width="1.2" />
<line x1="1727.4" y1="447.3" x2="1735.4" y2="439.3" stroke="#5b6357" stroke-width="1.2" />
<line x1="1835.2" y1="355.6" x2="1835.2" y2="387.1" stroke="#9ca398" stroke-width="1.8" />
<line x1="1831.2" y1="355.6" x2="1839.2" y2="355.6" stroke="#8a9286" stroke-width="1.8" />
<line x1="1835.2" y1="442.4" x2="1835.2" y2="513.3" stroke="#a89a9a" stroke-width="1.8" />
<line x1="1831.2" y1="513.3" x2="1839.2" y2="513.3" stroke="#9a8a8a" stroke-width="1.8" />
<rect x="1819.4" y="387.1" width="31.6" height="7.5" fill="#717d6b" />
<rect x="1819.4" y="394.6" width="31.6" height="47.8" fill="#7a6969" />
<rect x="1819.4" y="387.1" width="31.6" height="55.3" fill="none" stroke="#5d6659" stroke-opacity="0.6" stroke-width="1.2"/>
<line x1="1819.4" y1="412.6" x2="1851" y2="412.6" stroke="#5e675a" stroke-width="1.5" />
<line x1="1831.2" y1="412.2" x2="1839.2" y2="420.2" stroke="#5b6357" stroke-width="1.2" />
<line x1="1831.2" y1="420.2" x2="1839.2" y2="412.2" stroke="#5b6357" stroke-width="1.2" />
<line x1="1935.5" y1="384.7" x2="1935.5" y2="389.2" stroke="#9ca398" stroke-width="1.8" />
<line x1="1931.5" y1="384.7" x2="1939.5" y2="384.7" stroke="#8a9286" stroke-width="1.8" />
<line x1="1935.5" y1="416.2" x2="1935.5" y2="421.6" stroke="#a89a9a" stroke-width="1.8" />
<line x1="1931.5" y1="421.6" x2="1939.5" y2="421.6" stroke="#9a8a8a" stroke-width="1.8" />
<rect x="1919.7" y="389.2" width="31.6" height="5.4" fill="#717d6b" />
<rect x="1919.7" y="394.6" width="31.6" height="21.6" fill="#7a6969" />
<rect x="1919.7" y="389.2" width="31.6" height="27" fill="none" stroke="#5d6659" stroke-opacity="0.6" stroke-width="1.2"/>
<line x1="1931.5" y1="409.2" x2="1939.5" y2="417.2" stroke="#5b6357" stroke-width="1.2" />
<line x1="1931.5" y1="417.2" x2="1939.5" y2="409.2" stroke="#5b6357" stroke-width="1.2" />
<circle cx="1935.5" cy="516.9" r="2.6" fill="#6a5a5a"/>
<circle cx="1935.5" cy="524.4" r="2.6" fill="#6a5a5a"/>
<circle cx="1935.5" cy="530.4" r="2.6" fill="#6a5a5a"/>
<line x1="123" y1="608.4" x2="123" y2="875" stroke="#b4b4b4" stroke-width="1.3" />
<line x1="118" y1="608.4" x2="123" y2="608.4" stroke="#b4b4b4" stroke-width="1.2" />
<line x1="118" y1="675.8" x2="123" y2="675.8" stroke="#b4b4b4" stroke-width="1.2" />
<line x1="118" y1="743.3" x2="123" y2="743.3" stroke="#b4b4b4" stroke-width="1.2" />
<line x1="118" y1="809.1" x2="123" y2="809.1" stroke="#b4b4b4" stroke-width="1.2" />
<line x1="118" y1="875" x2="123" y2="875" stroke="#b4b4b4" stroke-width="1.2" />
<line x1="260" y1="608.4" x2="260" y2="875" stroke="#b4b4b4" stroke-width="1.3" />
<line x1="255" y1="623.4" x2="260" y2="623.4" stroke="#b4b4b4" stroke-width="1.2" />
<line x1="255" y1="683.3" x2="260" y2="683.3" stroke="#b4b4b4" stroke-width="1.2" />
<line x1="255" y1="743.3" x2="260" y2="743.3" stroke="#b4b4b4" stroke-width="1.2" />
<line x1="255" y1="801.8" x2="260" y2="801.8" stroke="#b4b4b4" stroke-width="1.2" />
<line x1="255" y1="860.4" x2="260" y2="860.4" stroke="#b4b4b4" stroke-width="1.2" />
<line x1="400" y1="608.4" x2="400" y2="875" stroke="#b4b4b4" stroke-width="1.3" />
<line x1="395" y1="608.4" x2="400" y2="608.4" stroke="#b4b4b4" stroke-width="1.2" />
<line x1="395" y1="675.8" x2="400" y2="675.8" stroke="#b4b4b4" stroke-width="1.2" />
<line x1="395" y1="743.3" x2="400" y2="743.3" stroke="#b4b4b4" stroke-width="1.2" />
<line x1="395" y1="809.1" x2="400" y2="809.1" stroke="#b4b4b4" stroke-width="1.2" />
<line x1="395" y1="875" x2="400" y2="875" stroke="#b4b4b4" stroke-width="1.2" />
<line x1="538" y1="608.4" x2="538" y2="875" stroke="#b4b4b4" stroke-width="1.3" />
<line x1="533" y1="608.4" x2="538" y2="608.4" stroke="#b4b4b4" stroke-width="1.2" />
<line x1="533" y1="675.8" x2="538" y2="675.8" stroke="#b4b4b4" stroke-width="1.2" />
<line x1="533" y1="743.3" x2="538" y2="743.3" stroke="#b4b4b4" stroke-width="1.2" />
<line x1="533" y1="809.1" x2="538" y2="809.1" stroke="#b4b4b4" stroke-width="1.2" />
<line x1="533" y1="875" x2="538" y2="875" stroke="#b4b4b4" stroke-width="1.2" />
<line x1="675" y1="608.4" x2="675" y2="875" stroke="#b4b4b4" stroke-width="1.3" />
<line x1="670" y1="623.4" x2="675" y2="623.4" stroke="#b4b4b4" stroke-width="1.2" />
<line x1="670" y1="683.3" x2="675" y2="683.3" stroke="#b4b4b4" stroke-width="1.2" />
<line x1="670" y1="743.3" x2="675" y2="743.3" stroke="#b4b4b4" stroke-width="1.2" />
<line x1="670" y1="801.8" x2="675" y2="801.8" stroke="#b4b4b4" stroke-width="1.2" />
<line x1="670" y1="860.4" x2="675" y2="860.4" stroke="#b4b4b4" stroke-width="1.2" />
<line x1="813.7" y1="608.4" x2="813.7" y2="875" stroke="#b4b4b4" stroke-width="1.3" />
<line x1="808.7" y1="608.4" x2="813.7" y2="608.4" stroke="#b4b4b4" stroke-width="1.2" />
<line x1="808.7" y1="675.8" x2="813.7" y2="675.8" stroke="#b4b4b4" stroke-width="1.2" />
<line x1="808.7" y1="743.3" x2="813.7" y2="743.3" stroke="#b4b4b4" stroke-width="1.2" />
<line x1="808.7" y1="809.1" x2="813.7" y2="809.1" stroke="#b4b4b4" stroke-width="1.2" />
<line x1="808.7" y1="875" x2="813.7" y2="875" stroke="#b4b4b4" stroke-width="1.2" />
<polyline points="123,727.6 260,739.6 400,746.8" fill="none" stroke="#e6e6e6" stroke-width="1.4" />
<polyline points="123,727.6 260,742.8 400,751.8" fill="none" stroke="#e6e6e6" stroke-width="1.4" />
<polyline points="123,749.3 260,746.8 400,756.8" fill="none" stroke="#e6e6e6" stroke-width="1.4" />
<polyline points="123,749.3 260,773.6 400,761.8" fill="none" stroke="#e6e6e6" stroke-width="1.4" />
<polyline points="123,749.3 260,770.9 400,758.8" fill="none" stroke="#e6e6e6" stroke-width="1.4" />
<polyline points="123,877.8 260,765.4 400,756.8" fill="none" stroke="#e6e6e6" stroke-width="1.4" />
<polygon points="126.9,876.1 260,867.1 400,642.6 400,665.6 260,871.1 126.9,878.1" fill="#eeeeee" fill-opacity="0.5"/>
<polyline points="126.9,876.1 260,867.1 400,642.6" fill="none" stroke="#e6e6e6" stroke-width="1.1" />
<polyline points="126.9,877.5 260,869.6 400,649.1" fill="none" stroke="#e6e6e6" stroke-width="1.1" />
<polyline points="126.9,877 260,870.4 400,643.9" fill="none" stroke="#e6e6e6" stroke-width="1.1" />
<polyline points="126.9,878.1 260,869.6 400,661.7" fill="none" stroke="#e6e6e6" stroke-width="1.1" />
<polygon points="126.9,876.1 260,871.1 400,665.6 400,689.7 260,875.1 126.9,878.1" fill="#eeeeee" fill-opacity="0.5"/>
<polyline points="126.9,878.1 260,873.4 400,689.7" fill="none" stroke="#e6e6e6" stroke-width="1.1" />
<polyline points="126.9,878 260,874.3 400,689.7" fill="none" stroke="#e6e6e6" stroke-width="1.1" />
<polyline points="126.9,876.3 260,871.6 400,677.6" fill="none" stroke="#e6e6e6" stroke-width="1.1" />
<polyline points="126.9,876.2 260,872.5 400,676.4" fill="none" stroke="#e6e6e6" stroke-width="1.1" />
<polygon points="126.9,876.1 260,874.1 400,689.7 400,708.7 260,879.1 126.9,878.1" fill="#eeeeee" fill-opacity="0.5"/>
<polyline points="126.9,877.4 260,877.5 400,705.7" fill="none" stroke="#e6e6e6" stroke-width="1.1" />
<polyline points="126.9,877.1 260,874.3 400,697.4" fill="none" stroke="#e6e6e6" stroke-width="1.1" />
<polyline points="126.9,878.1 260,879.1 400,703.1" fill="none" stroke="#e6e6e6" stroke-width="1.1" />
<polyline points="126.9,877.9 260,879.1 400,700.5" fill="none" stroke="#e6e6e6" stroke-width="1.1" />
<polygon points="260,740.8 400,744.8 400,766.9 260,749.8" fill="#eeeeee" fill-opacity="0.6"/>
<polyline points="260,747 400,757.6" fill="none" stroke="#e6e6e6" stroke-width="1.1" />
<polyline points="260,743.5 400,754.4" fill="none" stroke="#e6e6e6" stroke-width="1.1" />
<polyline points="260,745.1 400,758.8" fill="none" stroke="#e6e6e6" stroke-width="1.1" />
<polyline points="260,740.8 400,762.1" fill="none" stroke="#e6e6e6" stroke-width="1.1" />
<polyline points="260,748.5 400,754.6" fill="none" stroke="#e6e6e6" stroke-width="1.1" />
<polyline points="260,746.1 400,752.9" fill="none" stroke="#e6e6e6" stroke-width="1.1" />
<polyline points="260,742.7 400,680.8" fill="none" stroke="#e6e6e6" stroke-width="0.9" />
<polyline points="260,744 400,700.7" fill="none" stroke="#e6e6e6" stroke-width="0.9" />
<polyline points="260,744.3 400,679.5" fill="none" stroke="#e6e6e6" stroke-width="0.9" />
<polyline points="260,739.9 400,676.8" fill="none" stroke="#e6e6e6" stroke-width="0.9" />
<polyline points="260,744.6 400,676.9" fill="none" stroke="#e6e6e6" stroke-width="0.9" />
<polyline points="260,742.6 400,683.4" fill="none" stroke="#e6e6e6" stroke-width="0.9" />
<polyline points="260,744.5 400,690.1" fill="none" stroke="#e6e6e6" stroke-width="0.9" />
<polyline points="260,745.2 400,715.3" fill="none" stroke="#e6e6e6" stroke-width="0.9" />
<polyline points="260,746.1 400,711.7" fill="none" stroke="#e6e6e6" stroke-width="0.9" />
<polyline points="260,743.8 400,704.7" fill="none" stroke="#e6e6e6" stroke-width="0.9" />
<polyline points="260,740.8 400,712" fill="none" stroke="#e6e6e6" stroke-width="0.9" />
<polyline points="260,740.5 400,683.5" fill="none" stroke="#e6e6e6" stroke-width="0.9" />
<polyline points="260,746.4 400,710.1" fill="none" stroke="#e6e6e6" stroke-width="0.9" />
<polyline points="260,744.1 400,731.6" fill="none" stroke="#e6e6e6" stroke-width="0.9" />
<polyline points="260,744.4 400,723.3" fill="none" stroke="#e6e6e6" stroke-width="0.9" />
<polyline points="260,742.1 400,725.4" fill="none" stroke="#e6e6e6" stroke-width="0.9" />
<polyline points="260,741.7 400,678.9" fill="none" stroke="#e6e6e6" stroke-width="0.9" />
<polyline points="260,740.5 400,738.3" fill="none" stroke="#e6e6e6" stroke-width="0.9" />
<polyline points="260,740.2 400,689.7" fill="none" stroke="#e6e6e6" stroke-width="0.9" />
<polyline points="260,742.5 400,680.4" fill="none" stroke="#e6e6e6" stroke-width="0.9" />
<polyline points="260,743.9 400,742.1" fill="none" stroke="#e6e6e6" stroke-width="0.9" />
<polyline points="260,740.2 400,692.9" fill="none" stroke="#e6e6e6" stroke-width="0.9" />
<polyline points="260,740.1 400,740.1" fill="none" stroke="#e6e6e6" stroke-width="0.9" />
<polyline points="260,742 400,737.9" fill="none" stroke="#e6e6e6" stroke-width="0.9" />
<polyline points="260,741.9 400,717.7" fill="none" stroke="#e6e6e6" stroke-width="0.9" />
<polyline points="260,746.7 400,681.3" fill="none" stroke="#e6e6e6" stroke-width="0.9" />
<polyline points="260,742.5 400,725.6" fill="none" stroke="#e6e6e6" stroke-width="0.9" />
<polyline points="260,742.7 400,703.8" fill="none" stroke="#e6e6e6" stroke-width="0.9" />
<polyline points="260,743.2 400,730.7" fill="none" stroke="#e6e6e6" stroke-width="0.9" />
<polyline points="260,740.4 400,688.2" fill="none" stroke="#e6e6e6" stroke-width="0.9" />
<polyline points="260,741.1 400,742.9" fill="none" stroke="#e6e6e6" stroke-width="0.9" />
<polyline points="260,742.6 400,701.4" fill="none" stroke="#e6e6e6" stroke-width="0.9" />
<polyline points="260,743.5 400,702.9" fill="none" stroke="#e6e6e6" stroke-width="0.9" />
<polyline points="260,744.4 400,742.2" fill="none" stroke="#e6e6e6" stroke-width="0.9" />
<polyline points="260,745.6 400,700.6" fill="none" stroke="#e6e6e6" stroke-width="0.9" />
<polyline points="260,742.5 400,708.5" fill="none" stroke="#e6e6e6" stroke-width="0.9" />
<polyline points="260,741.5 400,679" fill="none" stroke="#e6e6e6" stroke-width="0.9" />
<polyline points="260,740 400,731.5" fill="none" stroke="#e6e6e6" stroke-width="0.9" />
<polyline points="260,744.7 400,683" fill="none" stroke="#e6e6e6" stroke-width="0.9" />
<polyline points="260,743.6 400,730.3" fill="none" stroke="#e6e6e6" stroke-width="0.9" />
<polygon points="260,740.8 400,642.6 400,744.8 260,744.8" fill="#eeeeee" fill-opacity="0.55"/>
<polygon points="400,642.6 538,620.5 538,744.8 400,744.8" fill="#eeeeee" fill-opacity="0.7"/>
<polyline points="400,702.2 538,771.3" fill="none" stroke="#e6e6e6" stroke-width="0.9" />
<polyline points="400,679.4 538,725.3" fill="none" stroke="#e6e6e6" stroke-width="0.9" />
<polyline points="400,696.8 538,782.9" fill="none" stroke="#e6e6e6" stroke-width="0.9" />
<polyline points="400,690.5 538,737" fill="none" stroke="#e6e6e6" stroke-width="0.9" />
<polyline points="400,684.9 538,734.8" fill="none" stroke="#e6e6e6" stroke-width="0.9" />
<polyline points="400,742.2 538,786.7" fill="none" stroke="#e6e6e6" stroke-width="0.9" />
<polyline points="400,738.8 538,747.6" fill="none" stroke="#e6e6e6" stroke-width="0.9" />
<polyline points="400,709.5 538,730.2" fill="none" stroke="#e6e6e6" stroke-width="0.9" />
<polyline points="400,683.7 538,774.7" fill="none" stroke="#e6e6e6" stroke-width="0.9" />
<polyline points="400,721 538,700.4" fill="none" stroke="#e6e6e6" stroke-width="0.9" />
<polyline points="400,725.6 538,764.5" fill="none" stroke="#e6e6e6" stroke-width="0.9" />
<polyline points="400,719.3 538,745.7" fill="none" stroke="#e6e6e6" stroke-width="0.9" />
<polyline points="400,667.8 538,759.4" fill="none" stroke="#e6e6e6" stroke-width="0.9" />
<polyline points="400,728.9 538,713.7" fill="none" stroke="#e6e6e6" stroke-width="0.9" />
<polyline points="400,719.8 538,702.1" fill="none" stroke="#e6e6e6" stroke-width="0.9" />
<polyline points="400,739.9 538,768.3" fill="none" stroke="#e6e6e6" stroke-width="0.9" />
<polyline points="400,682.1 538,760.1" fill="none" stroke="#e6e6e6" stroke-width="0.9" />
<polyline points="400,684.8 538,703.7" fill="none" stroke="#e6e6e6" stroke-width="0.9" />
<polyline points="400,689.3 538,730.1" fill="none" stroke="#e6e6e6" stroke-width="0.9" />
<polyline points="400,728.8 538,775.7" fill="none" stroke="#e6e6e6" stroke-width="0.9" />
<polyline points="400,741.7 538,708.5" fill="none" stroke="#e6e6e6" stroke-width="0.9" />
<polyline points="400,721.1 538,754.9" fill="none" stroke="#e6e6e6" stroke-width="0.9" />
<polyline points="400,738.5 538,694.1" fill="none" stroke="#e6e6e6" stroke-width="0.9" />
<polyline points="400,686.5 538,772.3" fill="none" stroke="#e6e6e6" stroke-width="0.9" />
<polyline points="400,739.3 538,701" fill="none" stroke="#e6e6e6" stroke-width="0.9" />
<polyline points="400,675.9 538,778.6" fill="none" stroke="#e6e6e6" stroke-width="0.9" />
<polyline points="400,723.8 538,695.5" fill="none" stroke="#e6e6e6" stroke-width="0.9" />
<polyline points="400,715.4 538,732.7" fill="none" stroke="#e6e6e6" stroke-width="0.9" />
<polyline points="400,679.2 538,762" fill="none" stroke="#e6e6e6" stroke-width="0.9" />
<polyline points="400,691.6 538,752.5" fill="none" stroke="#e6e6e6" stroke-width="0.9" />
<polyline points="400,711.9 538,713.4" fill="none" stroke="#e6e6e6" stroke-width="0.9" />
<polyline points="400,724.1 538,715.9" fill="none" stroke="#e6e6e6" stroke-width="0.9" />
<polyline points="400,720.4 538,746.5" fill="none" stroke="#e6e6e6" stroke-width="0.9" />
<polyline points="400,675.6 538,764.4" fill="none" stroke="#e6e6e6" stroke-width="0.9" />
<polyline points="400,738.9 538,775" fill="none" stroke="#e6e6e6" stroke-width="0.9" />
<polyline points="400,715.3 538,696.2" fill="none" stroke="#e6e6e6" stroke-width="0.9" />
<polyline points="400,721.2 538,695.2" fill="none" stroke="#e6e6e6" stroke-width="0.9" />
<polyline points="400,683.5 538,778.8" fill="none" stroke="#e6e6e6" stroke-width="0.9" />
<polyline points="400,700.1 538,762.5" fill="none" stroke="#e6e6e6" stroke-width="0.9" />
<polyline points="400,733.1 538,718.5" fill="none" stroke="#e6e6e6" stroke-width="0.9" />
<polyline points="400,694.6 538,782.1" fill="none" stroke="#e6e6e6" stroke-width="0.9" />
<polyline points="400,741.2 538,757.5" fill="none" stroke="#e6e6e6" stroke-width="0.9" />
<polyline points="400,707.4 538,756.1" fill="none" stroke="#e6e6e6" stroke-width="0.9" />
<polyline points="400,701 538,740.4" fill="none" stroke="#e6e6e6" stroke-width="0.9" />
<polyline points="400,705.9 538,709.7" fill="none" stroke="#e6e6e6" stroke-width="0.9" />
<polyline points="400,734.4 538,641.4" fill="none" stroke="#e6e6e6" stroke-width="1.0" />
<polyline points="400,740 538,646.6" fill="none" stroke="#e6e6e6" stroke-width="1.0" />
<polyline points="400,734.3 538,652.4" fill="none" stroke="#e6e6e6" stroke-width="1.0" />
<polyline points="400,734.8 538,650.2" fill="none" stroke="#e6e6e6" stroke-width="1.0" />
<polyline points="400,742.1 538,660.8" fill="none" stroke="#e6e6e6" stroke-width="1.0" />
<polyline points="400,735.4 538,646.1" fill="none" stroke="#e6e6e6" stroke-width="1.0" />
<polyline points="400,733.8 538,670.1" fill="none" stroke="#e6e6e6" stroke-width="1.0" />
<polyline points="400,733.8 538,674.1" fill="none" stroke="#e6e6e6" stroke-width="1.0" />
<polyline points="400,736.8 538,680.6" fill="none" stroke="#e6e6e6" stroke-width="1.0" />
<polyline points="400,743.2 538,641.7" fill="none" stroke="#e6e6e6" stroke-width="1.0" />
<polyline points="400,740.8 538,659.3" fill="none" stroke="#e6e6e6" stroke-width="1.0" />
<polyline points="400,744.3 538,638.4" fill="none" stroke="#e6e6e6" stroke-width="1.0" />
<polyline points="400,732 538,660.8" fill="none" stroke="#e6e6e6" stroke-width="1.0" />
<polyline points="400,732.7 538,648.4" fill="none" stroke="#e6e6e6" stroke-width="1.0" />
<polyline points="400,733.4 538,650.1" fill="none" stroke="#e6e6e6" stroke-width="1.0" />
<polyline points="400,734.2 538,658.3" fill="none" stroke="#e6e6e6" stroke-width="1.0" />
<polyline points="400,736.1 538,665.1" fill="none" stroke="#e6e6e6" stroke-width="1.0" />
<polyline points="400,731.9 538,691.2" fill="none" stroke="#e6e6e6" stroke-width="1.0" />
<polyline points="400,733 538,674.7" fill="none" stroke="#e6e6e6" stroke-width="1.0" />
<polyline points="400,733.4 538,660.9" fill="none" stroke="#e6e6e6" stroke-width="1.0" />
<polyline points="400,739.1 538,678.7" fill="none" stroke="#e6e6e6" stroke-width="1.0" />
<polyline points="400,731.9 538,686.8" fill="none" stroke="#e6e6e6" stroke-width="1.0" />
<polyline points="400,741.2 538,687.8" fill="none" stroke="#e6e6e6" stroke-width="1.0" />
<polyline points="400,741.6 538,636.2" fill="none" stroke="#e6e6e6" stroke-width="1.0" />
<polyline points="400,732.2 538,655.3" fill="none" stroke="#e6e6e6" stroke-width="1.0" />
<polyline points="400,736.2 538,642.7" fill="none" stroke="#e6e6e6" stroke-width="1.0" />
<polyline points="400,733.3 538,674.8" fill="none" stroke="#e6e6e6" stroke-width="1.0" />
<polyline points="400,742.9 538,651.2" fill="none" stroke="#e6e6e6" stroke-width="1.0" />
<polyline points="400,741.5 538,653" fill="none" stroke="#e6e6e6" stroke-width="1.0" />
<polyline points="400,737.3 538,664.7" fill="none" stroke="#e6e6e6" stroke-width="1.0" />
<polyline points="400,659.4 538,620.5" fill="none" stroke="#e6e6e6" stroke-width="1.3" />
<polyline points="400,642.6 538,620.5" fill="none" stroke="#e6e6e6" stroke-width="1.3" />
<polyline points="400,647.7 538,620.5" fill="none" stroke="#e6e6e6" stroke-width="1.3" />
<polyline points="400,642.6 538,685.8" fill="none" stroke="#e6e6e6" stroke-width="1.3" />
<polyline points="400,642.6 538,686.7" fill="none" stroke="#e6e6e6" stroke-width="1.3" />
<polyline points="400,642.6 538,620.5" fill="none" stroke="#e6e6e6" stroke-width="1.3" />
<polyline points="400,662.6 538,644.4" fill="none" stroke="#e6e6e6" stroke-width="1.3" />
<polyline points="400,642.6 538,639.1" fill="none" stroke="#e6e6e6" stroke-width="1.3" />
<polyline points="400,665.6 538,670.6" fill="none" stroke="#e6e6e6" stroke-width="1.3" />
<polyline points="400,665.6 538,620.5" fill="none" stroke="#e6e6e6" stroke-width="1.3" />
<polyline points="400,642.6 538,620.5" fill="none" stroke="#e6e6e6" stroke-width="1.3" />
<polyline points="400,665.6 538,741.8" fill="none" stroke="#e6e6e6" stroke-width="1.3" />
<polyline points="400,689.7 538,691.7" fill="none" stroke="#e6e6e6" stroke-width="1.3" />
<polyline points="400,665.6 538,741.8" fill="none" stroke="#e6e6e6" stroke-width="1.3" />
<polyline points="400,670 538,741.8" fill="none" stroke="#e6e6e6" stroke-width="1.3" />
<polyline points="400,665.6 538,741.8" fill="none" stroke="#e6e6e6" stroke-width="1.3" />
<polyline points="400,689.7 538,691.7" fill="none" stroke="#e6e6e6" stroke-width="1.3" />
<polyline points="400,689.7 538,724" fill="none" stroke="#e6e6e6" stroke-width="1.3" />
<polyline points="400,689.7 538,741.8" fill="none" stroke="#e6e6e6" stroke-width="1.3" />
<polygon points="400,744.8 538,786.9 538,852 400,766.9" fill="#eeeeee" />
<polyline points="400,754.1 538,852" fill="none" stroke="#e6e6e6" stroke-width="1.2" />
<polyline points="400,750 538,852" fill="none" stroke="#e6e6e6" stroke-width="1.2" />
<polyline points="400,744.8 538,852" fill="none" stroke="#e6e6e6" stroke-width="1.2" />
<polyline points="400,751.6 538,834.2" fill="none" stroke="#e6e6e6" stroke-width="1.2" />
<polyline points="400,766.9 538,840.5" fill="none" stroke="#e6e6e6" stroke-width="1.2" />
<polyline points="400,744.8 538,794.7" fill="none" stroke="#e6e6e6" stroke-width="1.2" />
<polyline points="400,746.3 538,808.5" fill="none" stroke="#e6e6e6" stroke-width="1.2" />
<polyline points="400,757.1 538,852" fill="none" stroke="#e6e6e6" stroke-width="1.2" />
<polyline points="400,766.9 538,852" fill="none" stroke="#e6e6e6" stroke-width="1.2" />
<polyline points="400,761.6 538,825.9" fill="none" stroke="#e6e6e6" stroke-width="1.2" />
<polyline points="400,744.8 538,806.1" fill="none" stroke="#e6e6e6" stroke-width="1.2" />
<polyline points="400,745 538,794.6" fill="none" stroke="#e6e6e6" stroke-width="1.2" />
<polyline points="400,752.3 538,813.3" fill="none" stroke="#e6e6e6" stroke-width="1.2" />
<polyline points="400,764.4 538,829.1" fill="none" stroke="#e6e6e6" stroke-width="1.2" />
<polyline points="400,747.3 538,827" fill="none" stroke="#e6e6e6" stroke-width="1.2" />
<polyline points="400,716.7 538,827" fill="none" stroke="#e6e6e6" stroke-width="1.2" />
<polyline points="400,716.7 538,827" fill="none" stroke="#e6e6e6" stroke-width="1.2" />
<polyline points="400,716.7 538,827" fill="none" stroke="#e6e6e6" stroke-width="1.2" />
<polyline points="400,706.2 538,788" fill="none" stroke="#e6e6e6" stroke-width="1.2" />
<polyline points="400,716.7 538,827" fill="none" stroke="#e6e6e6" stroke-width="1.2" />
<polyline points="400,716.7 538,807" fill="none" stroke="#e6e6e6" stroke-width="1.2" />
<polyline points="400,686.7 538,827" fill="none" stroke="#e6e6e6" stroke-width="1.2" />
<polyline points="400,716.7 538,786.9" fill="none" stroke="#e6e6e6" stroke-width="1.2" />
<polygon points="538,622.5 606.2,688.7 675,711.7 743.1,716.7 813.7,714.7 813.7,720.7 743.1,722.8 675,717.7 606.2,708.7 538,688.7" fill="#eeeeee" />
<polyline points="538,646.1 606.2,701.8 675,717.6 743.1,721.3 813.7,719.9" fill="none" stroke="#e6e6e6" stroke-width="1.2" />
<polyline points="538,657.9 606.2,700 675,713.8 743.1,722.4 813.7,720.3" fill="none" stroke="#e6e6e6" stroke-width="1.2" />
<polyline points="538,688.7 606.2,700.9 675,717.7 743.1,721.7 813.7,720.7" fill="none" stroke="#e6e6e6" stroke-width="1.2" />
<polyline points="538,687.9 606.2,708.7 675,717.7 743.1,721 813.7,718.5" fill="none" stroke="#e6e6e6" stroke-width="1.2" />
<polyline points="538,619.5 606.2,687.8 675,711 743.1,715.1 813.7,713.7" fill="none" stroke="#e6e6e6" stroke-width="1.2" />
<polyline points="538,629.3 606.2,691.2 675,713.7 743.1,716.9 813.7,715.7" fill="none" stroke="#e6e6e6" stroke-width="1.2" />
<polygon points="538,684.7 606.2,706.7 675,716.7 743.1,720.7 813.7,718.7 813.7,729.8 743.1,726.8 675,721.8 606.2,720.7 538,696.7" fill="#eeeeee" />
<polyline points="538,693 606.2,717.7 675,716.8 743.1,722.5 813.7,725.3" fill="none" stroke="#e6e6e6" stroke-width="1.2" />
<polyline points="538,684.7 606.2,706.7 675,717.4 743.1,720.7 813.7,718.8" fill="none" stroke="#e6e6e6" stroke-width="1.2" />
<polygon points="538,694.7 606.2,718.7 675,719.7 743.1,724.8 813.7,726.8 813.7,741.8 743.1,738.8 675,734.8 606.2,743.8 538,741.8" fill="#eeeeee" />
<polyline points="538,739.7 606.2,739.7 675,734.1 743.1,731.2 813.7,735.5" fill="none" stroke="#e6e6e6" stroke-width="1.2" />
<polyline points="538,710.5 606.2,726.2 675,719.7 743.1,730.3 813.7,726.8" fill="none" stroke="#e6e6e6" stroke-width="1.2" />
<polyline points="538,694.7 606.2,724.5 675,724.8 743.1,724.8 813.7,730.1" fill="none" stroke="#e6e6e6" stroke-width="1.2" />
<polygon points="538,739.8 606.2,741.8 675,728.8 743.1,734.8 813.7,734.8 813.7,742.8 743.1,740.8 675,736.8 606.2,769.9 538,786.9" fill="#eeeeee" />
<polyline points="538,758.7 606.2,742.9 675,732.2 743.1,735.9 813.7,738.9" fill="none" stroke="#e6e6e6" stroke-width="1.2" />
<polyline points="538,739.8 606.2,741.8 675,731 743.1,735 813.7,735.4" fill="none" stroke="#e6e6e6" stroke-width="1.2" />
<polygon points="538,784.9 606.2,767.9 675,732.8 743.1,736.8 813.7,738.8 813.7,879.1 743.1,869.1 675,864.1 606.2,836 538,852" fill="#eeeeee" />
<polyline points="538,794.5 606.2,775.7 675,744.6 743.1,754.3 813.7,772.3" fill="none" stroke="#e6e6e6" stroke-width="1.0" />
<polyline points="538,796.5 606.2,782.9 675,798.7 743.1,762.6 813.7,789.6" fill="none" stroke="#e6e6e6" stroke-width="1.0" />
<polyline points="538,838.1 606.2,826.9 675,821 743.1,828.7 813.7,835.1" fill="none" stroke="#e6e6e6" stroke-width="1.0" />
<polyline points="538,807.4 606.2,802.1 675,797.7 743.1,766.9 813.7,785.7" fill="none" stroke="#e6e6e6" stroke-width="1.0" />
<polyline points="538,832 606.2,819.5 675,820.5 743.1,831.3 813.7,838.1" fill="none" stroke="#e6e6e6" stroke-width="1.0" />
<polyline points="538,820.3 606.2,806.5 675,800.3 743.1,817.6 813.7,828.9" fill="none" stroke="#e6e6e6" stroke-width="1.0" />
<polyline points="538,809.1 606.2,793.1 675,788.7 743.1,782 813.7,795.2" fill="none" stroke="#e6e6e6" stroke-width="1.0" />
<polyline points="538,789.4 606.2,767.9 675,732.8 743.1,742.3 813.7,738.8" fill="none" stroke="#e6e6e6" stroke-width="1.0" />
<polyline points="538,792.4 606.2,770.9 675,750 743.1,743.6 813.7,738.8" fill="none" stroke="#e6e6e6" stroke-width="1.0" />
<polyline points="538,841.3 606.2,836 675,852.1 743.1,858.6 813.7,876.7" fill="none" stroke="#e6e6e6" stroke-width="1.0" />
<polyline points="538,852 606.2,829.3 675,864.1 743.1,848.2 813.7,879.1" fill="none" stroke="#e6e6e6" stroke-width="1.0" />
<polyline points="538,784.9 606.2,773.6 675,740.4 743.1,753.8 813.7,755" fill="none" stroke="#e6e6e6" stroke-width="1.0" />
<polyline points="538,803.4 606.2,785 675,760.9 743.1,766.5 813.7,780.8" fill="none" stroke="#e6e6e6" stroke-width="1.0" />
<polyline points="538,830.5 606.2,803 675,817.6 743.1,832.8 813.7,838.2" fill="none" stroke="#e6e6e6" stroke-width="1.0" />
<polyline points="538,788.5 606.2,777.3 675,732.8 743.1,744.2 813.7,755" fill="none" stroke="#e6e6e6" stroke-width="1.0" />
<polyline points="538,786.9 606.2,778.1 675,742.3 743.1,743.2 813.7,767.5" fill="none" stroke="#e6e6e6" stroke-width="1.0" />
<polyline points="675,865.9 743.1,870.5 813.7,877.8" fill="none" stroke="#e6e6e6" stroke-width="1.2" />
<polygon points="813.7,714.7 952.8,610 952.8,612 813.7,877.1" fill="#eeeeee" />
<polyline points="813.7,817.7 952.8,611.5" fill="none" stroke="#e6e6e6" stroke-width="1.0" />
<polyline points="813.7,836.6 952.8,611" fill="none" stroke="#e6e6e6" stroke-width="1.0" />
<polyline points="813.7,714.7 952.8,610.7" fill="none" stroke="#e6e6e6" stroke-width="1.0" />
<polyline points="813.7,749.9 952.8,610.5" fill="none" stroke="#e6e6e6" stroke-width="1.0" />
<polyline points="813.7,754.4 952.8,611.3" fill="none" stroke="#e6e6e6" stroke-width="1.0" />
<polyline points="813.7,714.7 952.8,610" fill="none" stroke="#e6e6e6" stroke-width="1.0" />
<polyline points="813.7,787.9 952.8,610.8" fill="none" stroke="#e6e6e6" stroke-width="1.0" />
<polyline points="813.7,739.8 952.8,610.1" fill="none" stroke="#e6e6e6" stroke-width="1.0" />
<polyline points="813.7,802.2 952.8,611.9" fill="none" stroke="#e6e6e6" stroke-width="1.0" />
<polyline points="813.7,754.4 952.8,610.9" fill="none" stroke="#e6e6e6" stroke-width="1.0" />
<polygon points="813.7,712.7 952.8,698.8 952.8,700.8 813.7,801.9" fill="#eeeeee" />
<polyline points="813.7,748.6 952.8,700.8" fill="none" stroke="#e6e6e6" stroke-width="1.2" />
<polyline points="813.7,726.6 952.8,698.8" fill="none" stroke="#e6e6e6" stroke-width="1.2" />
<polyline points="813.7,768 952.8,700.8" fill="none" stroke="#e6e6e6" stroke-width="1.2" />
<polyline points="813.7,782.7 952.8,700.8" fill="none" stroke="#e6e6e6" stroke-width="1.2" />
<polyline points="813.7,770.5 952.8,699.8" fill="none" stroke="#e6e6e6" stroke-width="1.2" />
<polyline points="813.7,712.7 952.8,699" fill="none" stroke="#e6e6e6" stroke-width="1.2" />
<polygon points="813.7,730.8 952.8,787.7 952.8,789.7 813.7,879.1" fill="#eeeeee" />
<polyline points="813.7,772.9 952.8,789.7" fill="none" stroke="#e6e6e6" stroke-width="1.2" />
<polyline points="813.7,765.3 952.8,787.9" fill="none" stroke="#e6e6e6" stroke-width="1.2" />
<polyline points="813.7,743.6 952.8,787.9" fill="none" stroke="#e6e6e6" stroke-width="1.2" />
<polyline points="813.7,783.1 952.8,788.6" fill="none" stroke="#e6e6e6" stroke-width="1.2" />
<polyline points="813.7,856.2 952.8,789.7" fill="none" stroke="#e6e6e6" stroke-width="1.2" />
<polyline points="813.7,750.7 952.8,787.7" fill="none" stroke="#e6e6e6" stroke-width="1.2" />
<polyline points="813.7,818.1 952.8,788.1" fill="none" stroke="#e6e6e6" stroke-width="1.2" />
<polyline points="813.7,810.1 952.8,788.1" fill="none" stroke="#e6e6e6" stroke-width="1.2" />
<polygon points="813.7,731.8 952.8,875.5 952.8,878.5 813.7,746.8" fill="#eeeeee" />
<polyline points="813.7,737.6 952.8,878.5" fill="none" stroke="#e6e6e6" stroke-width="1.2" />
<polyline points="813.7,735.1 952.8,878.3" fill="none" stroke="#e6e6e6" stroke-width="1.2" />
<polyline points="813.7,733.3 952.8,875.5" fill="none" stroke="#e6e6e6" stroke-width="1.2" />
<polyline points="813.7,716.8 952.8,611" fill="none" stroke="#e6e6e6" stroke-width="1.1" />
<polyline points="813.7,713.1 952.8,611" fill="none" stroke="#e6e6e6" stroke-width="1.1" />
<polyline points="813.7,715.2 952.8,611" fill="none" stroke="#e6e6e6" stroke-width="1.1" />
<polyline points="813.7,718.4 952.8,611" fill="none" stroke="#e6e6e6" stroke-width="1.1" />
<polyline points="813.7,712.9 952.8,611" fill="none" stroke="#e6e6e6" stroke-width="1.1" />
<polyline points="813.7,714.3 952.8,611" fill="none" stroke="#e6e6e6" stroke-width="1.1" />
<polyline points="813.7,714.2 952.8,611" fill="none" stroke="#e6e6e6" stroke-width="1.1" />
<polyline points="813.7,714 952.8,611" fill="none" stroke="#e6e6e6" stroke-width="1.1" />
<polyline points="813.7,716.6 952.8,611" fill="none" stroke="#e6e6e6" stroke-width="1.1" />
<polyline points="813.7,718 952.8,611" fill="none" stroke="#e6e6e6" stroke-width="1.1" />
<polyline points="813.7,718.7 952.8,699.8" fill="none" stroke="#e6e6e6" stroke-width="1.2" />
<polyline points="813.7,713.7 952.8,698.8" fill="none" stroke="#e6e6e6" stroke-width="1.2" />
<polyline points="813.7,724.8 952.8,611" fill="none" stroke="#e6e6e6" stroke-width="1.2" />
<polyline points="813.7,847 952.8,789.7" fill="none" stroke="#e6e6e6" stroke-width="1.2" />
<polyline points="813.7,852 952.8,613" fill="none" stroke="#e6e6e6" stroke-width="1.2" />
<polyline points="813.7,862.1 952.8,788.7" fill="none" stroke="#e6e6e6" stroke-width="1.2" />
<polyline points="123,742.9 260,744.1" fill="none" stroke="#44948c" stroke-width="1.2" />
<polyline points="123,743.7 260,746" fill="none" stroke="#eaa842" stroke-width="1.2" />
<polyline points="123,745.2 260,742" fill="none" stroke="#44948c" stroke-width="1.2" />
<polyline points="123,743.1 260,743" fill="none" stroke="#44948c" stroke-width="1.2" />
<polyline points="123,744.9 260,742.5" fill="none" stroke="#44948c" stroke-width="1.2" />
<polyline points="123,744.3 260,744.3" fill="none" stroke="#44948c" stroke-width="1.2" />
<polyline points="126,874 260,758 400,690" fill="none" stroke="#eaa842" stroke-width="1.5" />
<polygon points="282,739 400,641 400,659 282,743" fill="#44948c" fill-opacity="0.55"/>
<polyline points="282,739 400,644.7" fill="none" stroke="#62aa9e" stroke-width="1.2" />
<polyline points="282,742.4 400,654.9" fill="none" stroke="#44948c" stroke-width="1.2" />
<polyline points="282,741.9 400,641" fill="none" stroke="#3474b0" stroke-width="1.2" />
<polyline points="282,741.9 400,650.9" fill="none" stroke="#44948c" stroke-width="1.2" />
<polyline points="282,739.1 400,648.4" fill="none" stroke="#3474b0" stroke-width="1.2" />
<polyline points="282,740.1 400,648.7" fill="none" stroke="#44948c" stroke-width="1.2" />
<polyline points="282,739.7 400,643.3" fill="none" stroke="#44948c" stroke-width="1.2" />
<polyline points="282,742.8 400,656.7" fill="none" stroke="#62aa9e" stroke-width="1.2" />
<polyline points="282,739.7 400,644.1" fill="none" stroke="#62aa9e" stroke-width="1.2" />
<polyline points="282,741.1 400,654.8" fill="none" stroke="#44948c" stroke-width="1.2" />
<polyline points="282,743 400,657" fill="none" stroke="#44948c" stroke-width="1.2" />
<polyline points="282,743 400,659" fill="none" stroke="#62aa9e" stroke-width="1.2" />
<polyline points="282,741.8 400,650.5" fill="none" stroke="#62aa9e" stroke-width="1.2" />
<polyline points="282,739 400,648.4" fill="none" stroke="#3474b0" stroke-width="1.2" />
<polyline points="282,742.7 400,655.6" fill="none" stroke="#62aa9e" stroke-width="1.2" />
<polyline points="282,743 400,655.8" fill="none" stroke="#44948c" stroke-width="1.2" />
<polyline points="282,740.4 400,649.1" fill="none" stroke="#44948c" stroke-width="1.2" />
<polyline points="282,743 400,659" fill="none" stroke="#3474b0" stroke-width="1.2" />
<polyline points="282,739.9 400,647" fill="none" stroke="#44948c" stroke-width="1.2" />
<polyline points="282,739.7 400,648.7" fill="none" stroke="#3474b0" stroke-width="1.2" />
<polyline points="282,740.2 400,652.5" fill="none" stroke="#62aa9e" stroke-width="1.2" />
<polyline points="282,739.8 400,651" fill="none" stroke="#62aa9e" stroke-width="1.2" />
<polygon points="282,740 400,659 400,673 282,744" fill="#eaa842" fill-opacity="0.6"/>
<polyline points="282,743.1 400,669.6" fill="none" stroke="#ece144" stroke-width="1.2" />
<polyline points="282,743.7 400,673" fill="none" stroke="#eaa842" stroke-width="1.2" />
<polyline points="282,744 400,668.3" fill="none" stroke="#eaa842" stroke-width="1.2" />
<polyline points="282,743.8 400,663.3" fill="none" stroke="#eaa842" stroke-width="1.2" />
<polyline points="282,740.2 400,662.8" fill="none" stroke="#eaa842" stroke-width="1.2" />
<polyline points="282,741.1 400,673" fill="none" stroke="#eaa842" stroke-width="1.2" />
<polyline points="282,741.2 400,662.5" fill="none" stroke="#eaa842" stroke-width="1.2" />
<polyline points="282,743.1 400,667.2" fill="none" stroke="#ece144" stroke-width="1.2" />
<polyline points="282,743.8 400,667.7" fill="none" stroke="#eaa842" stroke-width="1.2" />
<polyline points="282,740.2 400,663.7" fill="none" stroke="#ece144" stroke-width="1.2" />
<polyline points="282,744 400,673" fill="none" stroke="#ece144" stroke-width="1.2" />
<polyline points="282,740.3 400,660.3" fill="none" stroke="#eaa842" stroke-width="1.2" />
<polyline points="282,742.7 400,673" fill="none" stroke="#ece144" stroke-width="1.2" />
<polyline points="282,742.3 400,668.3" fill="none" stroke="#ece144" stroke-width="1.2" />
<polyline points="282,741.6 400,666.1" fill="none" stroke="#eaa842" stroke-width="1.2" />
<polyline points="282,741.8 400,668.1" fill="none" stroke="#eaa842" stroke-width="1.2" />
<polygon points="260,741 400,722 400,740 260,745" fill="#44948c" fill-opacity="0.5"/>
<polyline points="260,743.6 400,722.3" fill="none" stroke="#44948c" stroke-width="1.2" />
<polyline points="260,741 400,734.7" fill="none" stroke="#3474b0" stroke-width="1.2" />
<polyline points="260,741.9 400,727" fill="none" stroke="#44948c" stroke-width="1.2" />
<polyline points="260,741.8 400,723.9" fill="none" stroke="#3474b0" stroke-width="1.2" />
<polyline points="260,743.7 400,732.5" fill="none" stroke="#3474b0" stroke-width="1.2" />
<polyline points="260,742.7 400,736.1" fill="none" stroke="#44948c" stroke-width="1.2" />
<polyline points="260,744.9 400,740" fill="none" stroke="#3474b0" stroke-width="1.2" />
<polyline points="260,742.2 400,725.5" fill="none" stroke="#3474b0" stroke-width="1.2" />
<polyline points="260,744.2 400,740" fill="none" stroke="#44948c" stroke-width="1.2" />
<polyline points="260,743.9 400,733.3" fill="none" stroke="#3474b0" stroke-width="1.2" />
<polygon points="260,742 400,733 400,745 260,746" fill="#eaa842" fill-opacity="0.6"/>
<polyline points="260,745.6 400,745" fill="none" stroke="#ece144" stroke-width="1.2" />
<polyline points="260,742 400,733" fill="none" stroke="#eaa842" stroke-width="1.2" />
<polyline points="260,743.3 400,733.9" fill="none" stroke="#ece144" stroke-width="1.2" />
<polyline points="260,745.5 400,741.2" fill="none" stroke="#eaa842" stroke-width="1.2" />
<polyline points="260,744.6 400,744.5" fill="none" stroke="#ece144" stroke-width="1.2" />
<polyline points="260,742.4 400,739.8" fill="none" stroke="#eaa842" stroke-width="1.2" />
<polyline points="260,746 400,741.6" fill="none" stroke="#eaa842" stroke-width="1.2" />
<polyline points="260,744.5 400,742" fill="none" stroke="#ece144" stroke-width="1.2" />
<polyline points="260,742.4 400,737" fill="none" stroke="#eaa842" stroke-width="1.2" />
<polyline points="260,742 400,733" fill="none" stroke="#ece144" stroke-width="1.2" />
<polyline points="400,641 538,685.7" fill="none" stroke="#62aa9e" stroke-width="1.5" />
<polyline points="400,660 538,700" fill="none" stroke="#44948c" stroke-width="1.5" />
<polyline points="400,652.6 538,640" fill="none" stroke="#44948c" stroke-width="1.5" />
<polyline points="400,653.9 538,700" fill="none" stroke="#62aa9e" stroke-width="1.5" />
<polyline points="400,660 538,700" fill="none" stroke="#44948c" stroke-width="1.5" />
<polyline points="400,660 538,681.1" fill="none" stroke="#44948c" stroke-width="1.5" />
<polyline points="400,660 538,700" fill="none" stroke="#3474b0" stroke-width="1.5" />
<polyline points="400,660 538,640" fill="none" stroke="#3474b0" stroke-width="1.5" />
<polyline points="400,641 538,640" fill="none" stroke="#44948c" stroke-width="1.5" />
<polyline points="400,660 538,700" fill="none" stroke="#3474b0" stroke-width="1.5" />
<polyline points="400,660 538,700" fill="none" stroke="#3474b0" stroke-width="1.5" />
<polyline points="400,641 538,698.2" fill="none" stroke="#62aa9e" stroke-width="1.5" />
<polyline points="400,641 538,669" fill="none" stroke="#44948c" stroke-width="1.5" />
<polyline points="400,647 538,700" fill="none" stroke="#62aa9e" stroke-width="1.5" />
<polyline points="400,656.7 538,700" fill="none" stroke="#44948c" stroke-width="1.5" />
<polyline points="400,641 538,640" fill="none" stroke="#3474b0" stroke-width="1.5" />
<polyline points="400,641 538,640.6" fill="none" stroke="#62aa9e" stroke-width="1.5" />
<polyline points="400,660 538,640" fill="none" stroke="#44948c" stroke-width="1.5" />
<polyline points="400,660 538,685" fill="none" stroke="#3474b0" stroke-width="1.5" />
<polyline points="400,660 538,698.7" fill="none" stroke="#62aa9e" stroke-width="1.5" />
<polyline points="400,641 538,640" fill="none" stroke="#3474b0" stroke-width="1.5" />
<polyline points="400,641 538,700" fill="none" stroke="#44948c" stroke-width="1.5" />
<polyline points="400,660 538,700" fill="none" stroke="#3474b0" stroke-width="1.5" />
<polyline points="400,660 538,700" fill="none" stroke="#3474b0" stroke-width="1.5" />
<polyline points="400,660 538,678.4" fill="none" stroke="#3474b0" stroke-width="1.5" />
<polyline points="400,641 538,689" fill="none" stroke="#3474b0" stroke-width="1.5" />
<polyline points="400,660 538,640" fill="none" stroke="#44948c" stroke-width="1.5" />
<polyline points="400,655 538,640" fill="none" stroke="#44948c" stroke-width="1.5" />
<polyline points="400,652.3 538,693" fill="none" stroke="#44948c" stroke-width="1.5" />
<polyline points="400,641 538,640" fill="none" stroke="#62aa9e" stroke-width="1.5" />
<polyline points="400,669.9 538,722.7" fill="none" stroke="#ece144" stroke-width="1.6" />
<polyline points="400,664.9 538,712.9" fill="none" stroke="#eaa842" stroke-width="1.6" />
<polyline points="400,673 538,693.3" fill="none" stroke="#ece144" stroke-width="1.6" />
<polyline points="400,666.4 538,688" fill="none" stroke="#eaa842" stroke-width="1.6" />
<polyline points="400,667.1 538,688" fill="none" stroke="#eaa842" stroke-width="1.6" />
<polyline points="400,670.7 538,730" fill="none" stroke="#eaa842" stroke-width="1.6" />
<polyline points="400,659.2 538,694.7" fill="none" stroke="#eaa842" stroke-width="1.6" />
<polyline points="400,663.6 538,711.6" fill="none" stroke="#eaa842" stroke-width="1.6" />
<polyline points="400,662.3 538,688" fill="none" stroke="#eaa842" stroke-width="1.6" />
<polyline points="400,673 538,720.3" fill="none" stroke="#eaa842" stroke-width="1.6" />
<polyline points="400,673 538,712.7" fill="none" stroke="#eaa842" stroke-width="1.6" />
<polyline points="400,660.7 538,713.9" fill="none" stroke="#ece144" stroke-width="1.6" />
<polyline points="400,669.8 538,716.8" fill="none" stroke="#eaa842" stroke-width="1.6" />
<polyline points="400,671.2 538,688" fill="none" stroke="#ece144" stroke-width="1.6" />
<polyline points="400,673 538,730" fill="none" stroke="#eaa842" stroke-width="1.6" />
<polyline points="400,673 538,692" fill="none" stroke="#eaa842" stroke-width="1.6" />
<polyline points="400,659 538,714.7" fill="none" stroke="#eaa842" stroke-width="1.6" />
<polyline points="400,673 538,730" fill="none" stroke="#eaa842" stroke-width="1.6" />
<polyline points="400,669.1 538,699.2" fill="none" stroke="#ece144" stroke-width="1.6" />
<polyline points="400,668.9 538,688" fill="none" stroke="#eaa842" stroke-width="1.6" />
<polyline points="400,668.4 538,696.3" fill="none" stroke="#eaa842" stroke-width="1.6" />
<polyline points="400,673 538,730" fill="none" stroke="#eaa842" stroke-width="1.6" />
<polyline points="400,659 538,688" fill="none" stroke="#eaa842" stroke-width="1.6" />
<polyline points="400,667.2 538,688.4" fill="none" stroke="#ece144" stroke-width="1.6" />
<polyline points="400,667.3 538,726.2" fill="none" stroke="#eaa842" stroke-width="1.6" />
<polyline points="400,724.5 538,635.3" fill="none" stroke="#44948c" stroke-width="1.5" />
<polyline points="400,737.6 538,669.9" fill="none" stroke="#3474b0" stroke-width="1.5" />
<polyline points="400,737.8 538,662.2" fill="none" stroke="#3474b0" stroke-width="1.5" />
<polyline points="400,722 538,619.2" fill="none" stroke="#3474b0" stroke-width="1.5" />
<polyline points="400,733.5 538,667.1" fill="none" stroke="#3474b0" stroke-width="1.5" />
<polyline points="400,728 538,617" fill="none" stroke="#3474b0" stroke-width="1.5" />
<polyline points="400,732.6 538,646.4" fill="none" stroke="#3474b0" stroke-width="1.5" />
<polyline points="400,725.1 538,632.8" fill="none" stroke="#44948c" stroke-width="1.5" />
<polyline points="400,740.4 538,677.6" fill="none" stroke="#3474b0" stroke-width="1.5" />
<polyline points="400,722 538,617" fill="none" stroke="#3474b0" stroke-width="1.5" />
<polyline points="400,728.6 538,670.8" fill="none" stroke="#3474b0" stroke-width="1.5" />
<polyline points="400,722.3 538,629.4" fill="none" stroke="#3474b0" stroke-width="1.5" />
<polyline points="400,731.5 538,630.8" fill="none" stroke="#44948c" stroke-width="1.5" />
<polyline points="400,724.2 538,617" fill="none" stroke="#3474b0" stroke-width="1.5" />
<polyline points="400,727.3 538,617" fill="none" stroke="#44948c" stroke-width="1.5" />
<polyline points="400,723.4 538,617" fill="none" stroke="#3474b0" stroke-width="1.5" />
<polyline points="400,739.1 538,680.2" fill="none" stroke="#3474b0" stroke-width="1.5" />
<polyline points="400,733.4 538,619.2" fill="none" stroke="#3474b0" stroke-width="1.5" />
<polyline points="400,745 538,741.6" fill="none" stroke="#ece144" stroke-width="1.1" />
<polyline points="400,733 538,700.1" fill="none" stroke="#eaa842" stroke-width="1.1" />
<polyline points="400,740.7 538,726.9" fill="none" stroke="#62aa9e" stroke-width="1.1" />
<polyline points="400,733 538,710.4" fill="none" stroke="#62aa9e" stroke-width="1.1" />
<polyline points="400,740.6 538,736" fill="none" stroke="#ece144" stroke-width="1.1" />
<polyline points="400,741 538,723.1" fill="none" stroke="#62aa9e" stroke-width="1.1" />
<polyline points="400,745 538,730.3" fill="none" stroke="#62aa9e" stroke-width="1.1" />
<polyline points="400,734.9 538,733.3" fill="none" stroke="#62aa9e" stroke-width="1.1" />
<polyline points="400,740.2 538,709.6" fill="none" stroke="#62aa9e" stroke-width="1.1" />
<polyline points="400,739.6 538,701.3" fill="none" stroke="#ece144" stroke-width="1.1" />
<polyline points="400,743.3 538,725.8" fill="none" stroke="#62aa9e" stroke-width="1.1" />
<polyline points="400,738.8 538,732.2" fill="none" stroke="#62aa9e" stroke-width="1.1" />
<polyline points="400,745 538,743" fill="none" stroke="#ece144" stroke-width="1.1" />
<polyline points="400,739.6 538,710.7" fill="none" stroke="#ece144" stroke-width="1.1" />
<polyline points="400,741.6 538,725.6" fill="none" stroke="#ece144" stroke-width="1.1" />
<polyline points="400,743.6 538,722.1" fill="none" stroke="#ece144" stroke-width="1.1" />
<polyline points="400,733 538,700.3" fill="none" stroke="#eaa842" stroke-width="1.1" />
<polyline points="400,740.5 538,739.5" fill="none" stroke="#ece144" stroke-width="1.1" />
<polygon points="538,617 600,683 675,709 675,714 600,702 538,700" fill="#44948c" />
<polyline points="538,647.6 600,694.5 675,709.8" fill="none" stroke="#3474b0" stroke-width="1.2" />
<polyline points="538,651.5 600,683 675,712.5" fill="none" stroke="#44948c" stroke-width="1.2" />
<polyline points="538,646.7 600,698.8 675,712.7" fill="none" stroke="#3474b0" stroke-width="1.2" />
<polyline points="538,659.2 600,687.7 675,714" fill="none" stroke="#62aa9e" stroke-width="1.2" />
<polyline points="538,658.5 600,687 675,710.8" fill="none" stroke="#3474b0" stroke-width="1.2" />
<polyline points="538,700 600,702 675,713.1" fill="none" stroke="#62aa9e" stroke-width="1.2" />
<polyline points="538,634.3 600,700.6 675,714" fill="none" stroke="#44948c" stroke-width="1.2" />
<polyline points="538,685.8 600,699.7 675,711.1" fill="none" stroke="#44948c" stroke-width="1.2" />
<polyline points="538,659.2 600,702 675,713.7" fill="none" stroke="#44948c" stroke-width="1.2" />
<polyline points="538,700 600,700.9 675,711.8" fill="none" stroke="#3474b0" stroke-width="1.2" />
<polyline points="538,687.9 600,685.8 675,710.6" fill="none" stroke="#3474b0" stroke-width="1.2" />
<polyline points="538,637.4 600,688.9 675,711.7" fill="none" stroke="#62aa9e" stroke-width="1.2" />
<polyline points="538,658.3 600,692.2 675,710.4" fill="none" stroke="#3474b0" stroke-width="1.2" />
<polyline points="538,654 600,684 675,714" fill="none" stroke="#44948c" stroke-width="1.2" />
<polyline points="538,629.6 600,685.2 675,710.4" fill="none" stroke="#3474b0" stroke-width="1.2" />
<polyline points="538,628.4 600,684.9 675,710.3" fill="none" stroke="#25439a" stroke-width="1.2" />
<polyline points="538,630 600,684 675,709.9" fill="none" stroke="#3474b0" stroke-width="1.2" />
<polyline points="538,630 600,686 675,711" fill="none" stroke="#25439a" stroke-width="1.2" />
<polyline points="538,625.4 600,686 675,710.9" fill="none" stroke="#25439a" stroke-width="1.2" />
<polygon points="538,688 600,698 675,711 675,716 600,712 538,710" fill="#ece144" />
<polyline points="538,703.4 600,708.9 675,712.5" fill="none" stroke="#ece144" stroke-width="1.2" />
<polyline points="538,704 600,704.4 675,714.4" fill="none" stroke="#ece144" stroke-width="1.2" />
<polyline points="538,703.4 600,710.4 675,714" fill="none" stroke="#ece144" stroke-width="1.2" />
<polyline points="538,693.1 600,699.6 675,711.5" fill="none" stroke="#ece144" stroke-width="1.2" />
<polyline points="538,710 600,702.7 675,713.8" fill="none" stroke="#ece144" stroke-width="1.2" />
<polyline points="538,710 600,712 675,716" fill="none" stroke="#ece144" stroke-width="1.2" />
<polygon points="538,700 600,705 675,712 744,722 802,716 813.7,709 813.7,874 802,872 744,866 675,858 600,795 538,745" fill="#eaa842" />
<polyline points="538,740.9 600,779.6 675,857.6 744,849.1 802,869.1 813.7,866.1" fill="none" stroke="#eaa842" stroke-width="1.2" />
<polyline points="538,705.3 600,730 675,734.9 744,759.9 802,732.6 813.7,744.7" fill="none" stroke="#eaa842" stroke-width="1.2" />
<polyline points="538,709.5 600,719.8 675,748.9 744,769 802,749 813.7,766.7" fill="none" stroke="#ece144" stroke-width="1.2" />
<polyline points="538,725.5 600,750.2 675,805.3 744,797 802,820 813.7,820.2" fill="none" stroke="#eaa842" stroke-width="1.2" />
<polyline points="538,717.6 600,742.1 675,760.3 744,773.1 802,775.9 813.7,746.3" fill="none" stroke="#ece144" stroke-width="1.2" />
<polyline points="538,735.7 600,776.1 675,807.7 744,845.8 802,852.9 813.7,843" fill="none" stroke="#eaa842" stroke-width="1.2" />
<polyline points="538,729 600,761.2 675,842.2 744,833 802,825.4 813.7,818.2" fill="none" stroke="#eaa842" stroke-width="1.2" />
<polyline points="538,743 600,781.9 675,832 744,845.5 802,838.1 813.7,861.5" fill="none" stroke="#eaa842" stroke-width="1.2" />
<polyline points="538,713.9 600,742.3 675,766.3 744,748.3 802,768.5 813.7,756.3" fill="none" stroke="#ece144" stroke-width="1.2" />
<polyline points="538,705.5 600,722.6 675,722.9 744,743.1 802,727.3 813.7,750.6" fill="none" stroke="#eaa842" stroke-width="1.2" />
<polyline points="538,724.4 600,762.4 675,770.2 744,793.1 802,771 813.7,775.5" fill="none" stroke="#eaa842" stroke-width="1.2" />
<polyline points="538,723.2 600,768.3 675,798.4 744,829.7 802,805.1 813.7,818.3" fill="none" stroke="#eaa842" stroke-width="1.2" />
<polyline points="538,722.5 600,764.8 675,795 744,800 802,823.3 813.7,813.3" fill="none" stroke="#eaa842" stroke-width="1.2" />
<polyline points="538,730.5 600,780.3 675,823.9 744,822.3 802,826 813.7,819.4" fill="none" stroke="#eaa842" stroke-width="1.2" />
<polyline points="538,721.2 600,759.8 675,783.3 744,792.1 802,792.7 813.7,777.7" fill="none" stroke="#ece144" stroke-width="1.2" />
<polyline points="538,709.1 600,720.7 675,737 744,747 802,765.1 813.7,750.7" fill="none" stroke="#eaa842" stroke-width="1.2" />
<polyline points="538,718.9 600,739.7 675,750.6 744,760.7 802,751.3 813.7,766.7" fill="none" stroke="#eaa842" stroke-width="1.2" />
<polyline points="538,724.9 600,752.5 675,780.2 744,780.6 802,765.8 813.7,766.1" fill="none" stroke="#ece144" stroke-width="1.2" />
<polyline points="538,712.7 600,741.4 675,716.5 744,764.4 802,721.3 813.7,727.8" fill="none" stroke="#eaa842" stroke-width="1.2" />
<polyline points="538,738.1 600,756 675,800 744,837.7 802,811.2 813.7,808.5" fill="none" stroke="#eaa842" stroke-width="1.2" />
<polyline points="538,703.5 600,721.2 675,745.3 744,759.9 802,745.8 813.7,750.2" fill="none" stroke="#eaa842" stroke-width="1.2" />
<polyline points="538,735.4 600,778.2 675,843.6 744,838.4 802,827.7 813.7,837.2" fill="none" stroke="#eaa842" stroke-width="1.2" />
<polyline points="538,702.1 600,711 675,723 744,743.1 802,716 813.7,712.3" fill="none" stroke="#eaa842" stroke-width="1.2" />
<polyline points="538,726.2 600,755.7 675,799.6 744,809.1 802,818.6 813.7,811.2" fill="none" stroke="#ece144" stroke-width="1.2" />
<polyline points="538,734.9 600,788.6 675,831.1 744,855.8 802,859.8 813.7,870.3" fill="none" stroke="#ece144" stroke-width="1.2" />
<polyline points="538,727 600,754.4 675,788.2 744,781.7 802,816 813.7,814.6" fill="none" stroke="#eaa842" stroke-width="1.2" />
<polyline points="538,721.8 600,752.1 675,794.8 744,820.1 802,798.9 813.7,784.9" fill="none" stroke="#ece144" stroke-width="1.2" />
<polyline points="538,726.4 600,774 675,818.2 744,843.3 802,828.7 813.7,840.9" fill="none" stroke="#ece144" stroke-width="1.2" />
<polyline points="538,702.6 600,715 675,712 744,743.2 802,731.5 813.7,718.5" fill="none" stroke="#eaa842" stroke-width="1.2" />
<polyline points="538,743.1 600,777.4 675,850.1 744,826.5 802,855 813.7,852" fill="none" stroke="#eaa842" stroke-width="1.2" />
<polyline points="538,740.5 600,784 675,847.9 744,847.4 802,853.8 813.7,863" fill="none" stroke="#ece144" stroke-width="1.2" />
<polyline points="538,738.1 600,763.2 675,815.3 744,836.2 802,829 813.7,819.5" fill="none" stroke="#eaa842" stroke-width="1.2" />
<polyline points="538,726.4 600,754.9 675,821.2 744,820.7 802,824 813.7,814.3" fill="none" stroke="#eaa842" stroke-width="1.2" />
<polyline points="538,736 600,777.5 675,828.1 744,819.8 802,832.5 813.7,844.5" fill="none" stroke="#eaa842" stroke-width="1.2" />
<polyline points="538,716.7 600,730.9 675,743.2 744,769.9 802,753.9 813.7,723.4" fill="none" stroke="#eaa842" stroke-width="1.2" />
<polyline points="538,739.8 600,783.6 675,829.3 744,823.1 802,830.9 813.7,851.3" fill="none" stroke="#ece144" stroke-width="1.2" />
<polyline points="538,735.1 600,788.5 675,841.6 744,829.2 802,826.3 813.7,836.7" fill="none" stroke="#eaa842" stroke-width="1.2" />
<polyline points="538,702.8 600,718 675,712 744,737.9 802,732.1 813.7,736.5" fill="none" stroke="#eaa842" stroke-width="1.2" />
<polyline points="538,718.9 600,743.2 675,774.6 744,795.8 802,789.6 813.7,807.5" fill="none" stroke="#eaa842" stroke-width="1.2" />
<polyline points="538,722.1 600,741.7 675,765.6 744,789.7 802,795.1 813.7,759.3" fill="none" stroke="#eaa842" stroke-width="1.2" />
<polyline points="675,708.3 744,721.1 802,715 813.7,708" fill="none" stroke="#3474b0" stroke-width="1.4" />
<polyline points="675,709.8 744,722.4 802,716.9 813.7,709.5" fill="none" stroke="#3474b0" stroke-width="1.4" />
<polyline points="675,708 744,721.2 802,715.9 813.7,708" fill="none" stroke="#44948c" stroke-width="1.4" />
<polyline points="675,711 744,723.6 802,717.3 813.7,711" fill="none" stroke="#3474b0" stroke-width="1.4" />
<polyline points="675,859.1 813.7,872.1" fill="none" stroke="#44948c" stroke-width="1.4" />
<polyline points="675,859.9 813.7,874.5" fill="none" stroke="#44948c" stroke-width="1.4" />
<polyline points="675,857.6 813.7,874.3" fill="none" stroke="#44948c" stroke-width="1.4" />
<polyline points="675,859.2 813.7,872.5" fill="none" stroke="#44948c" stroke-width="1.4" />
<polyline points="538,755.4 675,792.4" fill="none" stroke="#e8703a" stroke-width="1.6" />
<polyline points="538,749 675,764.2" fill="none" stroke="#e8703a" stroke-width="1.6" />
<polyline points="538,751.6 675,784.6" fill="none" stroke="#e8703a" stroke-width="1.6" />
<polyline points="538,756.2 675,824" fill="none" stroke="#e8703a" stroke-width="1.6" />
<polyline points="538,742 675,771" fill="none" stroke="#e8703a" stroke-width="1.6" />
<polyline points="538,751.6 675,759.4" fill="none" stroke="#e8703a" stroke-width="1.6" />
<polyline points="538,742 675,752.9" fill="none" stroke="#e8703a" stroke-width="1.6" />
<polyline points="538,751.8 675,800.6" fill="none" stroke="#e8703a" stroke-width="1.6" />
<polyline points="538,748.4 675,778.6" fill="none" stroke="#e8703a" stroke-width="1.6" />
<polyline points="538,758 675,824" fill="none" stroke="#e8703a" stroke-width="1.6" />
<polyline points="675,819.5 813.7,837.6" fill="none" stroke="#e8703a" stroke-width="1.6" />
<polyline points="675,817.7 813.7,838.8" fill="none" stroke="#e8703a" stroke-width="1.6" />
<polyline points="675,821.6 813.7,836.4" fill="none" stroke="#e8703a" stroke-width="1.6" />
<polyline points="675,766.5 813.7,837.1" fill="none" stroke="#e8703a" stroke-width="1.6" />
<polyline points="675,817.2 813.7,836.1" fill="none" stroke="#e8703a" stroke-width="1.6" />
<polyline points="675,770 813.7,838.9" fill="none" stroke="#e8703a" stroke-width="1.6" />
<polyline points="675,823.2 813.7,836.7" fill="none" stroke="#e8703a" stroke-width="1.6" />
<polyline points="675,783 813.7,838.7" fill="none" stroke="#e8703a" stroke-width="1.6" />
<polyline points="675,801.4 813.7,839" fill="none" stroke="#e8703a" stroke-width="1.6" />
<polyline points="675,806 813.7,837" fill="none" stroke="#e8703a" stroke-width="1.6" />
<polygon points="760,811 812,814 812,838 792,833" fill="#f6f6f6" />
<polyline points="745,812 790,806 812,815" fill="none" stroke="#3474b0" stroke-width="1.6" />
<polygon points="813.7,708 952.8,698.8 952.8,700.8 813.7,797" fill="#eaa842" />
<polyline points="813.7,754.1 952.8,700.1" fill="none" stroke="#eaa842" stroke-width="1.2" />
<polyline points="813.7,771 952.8,699.6" fill="none" stroke="#ece144" stroke-width="1.2" />
<polyline points="813.7,738.6 952.8,699.6" fill="none" stroke="#ece144" stroke-width="1.2" />
<polyline points="813.7,717.9 952.8,700.3" fill="none" stroke="#ece144" stroke-width="1.2" />
<polyline points="813.7,726.2 952.8,698.8" fill="none" stroke="#eaa842" stroke-width="1.2" />
<polyline points="813.7,781.7 952.8,699.9" fill="none" stroke="#eaa842" stroke-width="1.2" />
<polyline points="813.7,768.6 952.8,699.7" fill="none" stroke="#eaa842" stroke-width="1.2" />
<polyline points="813.7,749.7 952.8,698.8" fill="none" stroke="#eaa842" stroke-width="1.2" />
<polyline points="813.7,797 952.8,700.8" fill="none" stroke="#eaa842" stroke-width="1.2" />
<polyline points="813.7,708 952.8,699.6" fill="none" stroke="#eaa842" stroke-width="1.2" />
<polyline points="813.7,712.7 952.8,699.2" fill="none" stroke="#eaa842" stroke-width="1.2" />
<polyline points="813.7,752.7 952.8,699.7" fill="none" stroke="#eaa842" stroke-width="1.2" />
<polyline points="813.7,723 952.8,698.8" fill="none" stroke="#ece144" stroke-width="1.2" />
<polyline points="813.7,708 952.8,699.9" fill="none" stroke="#eaa842" stroke-width="1.2" />
<polyline points="813.7,749.3 952.8,699.2" fill="none" stroke="#eaa842" stroke-width="1.2" />
<polyline points="813.7,708 952.8,698.8" fill="none" stroke="#eaa842" stroke-width="1.2" />
<polyline points="813.7,797 952.8,700.3" fill="none" stroke="#eaa842" stroke-width="1.2" />
<polyline points="813.7,742.3 952.8,699.2" fill="none" stroke="#eaa842" stroke-width="1.2" />
<polyline points="813.7,708 952.8,698.8" fill="none" stroke="#eaa842" stroke-width="1.2" />
<polyline points="813.7,708 952.8,698.8" fill="none" stroke="#eaa842" stroke-width="1.2" />
<polygon points="813.7,705 952.8,787.7 952.8,789.7 813.7,815" fill="#eaa842" />
<polyline points="813.7,808.2 952.8,789.6" fill="none" stroke="#eaa842" stroke-width="1.2" />
<polyline points="813.7,705 952.8,788.5" fill="none" stroke="#eaa842" stroke-width="1.2" />
<polyline points="813.7,705 952.8,787.7" fill="none" stroke="#eaa842" stroke-width="1.2" />
<polyline points="813.7,705 952.8,787.7" fill="none" stroke="#eaa842" stroke-width="1.2" />
<polyline points="813.7,761 952.8,788.5" fill="none" stroke="#eaa842" stroke-width="1.2" />
<polyline points="813.7,746.5 952.8,789.6" fill="none" stroke="#eaa842" stroke-width="1.2" />
<polyline points="813.7,725.4 952.8,788.7" fill="none" stroke="#eaa842" stroke-width="1.2" />
<polyline points="813.7,760.8 952.8,788.6" fill="none" stroke="#eaa842" stroke-width="1.2" />
<polyline points="813.7,737.8 952.8,788" fill="none" stroke="#ece144" stroke-width="1.2" />
<polyline points="813.7,815 952.8,789.7" fill="none" stroke="#eaa842" stroke-width="1.2" />
<polyline points="813.7,717.1 952.8,788.5" fill="none" stroke="#eaa842" stroke-width="1.2" />
<polyline points="813.7,750.7 952.8,788.3" fill="none" stroke="#eaa842" stroke-width="1.2" />
<polyline points="813.7,712.6 952.8,787.7" fill="none" stroke="#eaa842" stroke-width="1.2" />
<polyline points="813.7,815 952.8,789.7" fill="none" stroke="#ece144" stroke-width="1.2" />
<polyline points="813.7,776.7 952.8,788.5" fill="none" stroke="#eaa842" stroke-width="1.2" />
<polyline points="813.7,751.5 952.8,787.7" fill="none" stroke="#eaa842" stroke-width="1.2" />
<polyline points="813.7,705 952.8,788.8" fill="none" stroke="#ece144" stroke-width="1.2" />
<polyline points="813.7,807 952.8,789" fill="none" stroke="#eaa842" stroke-width="1.2" />
<polyline points="813.7,731.2 952.8,788.8" fill="none" stroke="#ece144" stroke-width="1.2" />
<polyline points="813.7,752.5 952.8,787.7" fill="none" stroke="#eaa842" stroke-width="1.2" />
<polyline points="813.7,867.6 952.8,788.4" fill="none" stroke="#eaa842" stroke-width="1.4" />
<polyline points="813.7,861.6 952.8,787.7" fill="none" stroke="#ece144" stroke-width="1.4" />
<polyline points="813.7,869.3 952.8,787.8" fill="none" stroke="#eaa842" stroke-width="1.4" />
<polyline points="813.7,867.3 952.8,788.2" fill="none" stroke="#ece144" stroke-width="1.4" />
<polyline points="813.7,866.9 952.8,788.3" fill="none" stroke="#ece144" stroke-width="1.4" />
<polyline points="813.7,857.2 952.8,789.5" fill="none" stroke="#44948c" stroke-width="1.4" />
<polyline points="813.7,836 952.8,788" fill="none" stroke="#eaa842" stroke-width="1.4" />
<polyline points="813.7,871 952.8,788.1" fill="none" stroke="#44948c" stroke-width="1.4" />
<polyline points="813.7,849.2 952.8,789.4" fill="none" stroke="#eaa842" stroke-width="1.4" />
<polyline points="813.7,860.6 952.8,788.1" fill="none" stroke="#eaa842" stroke-width="1.4" />
<polyline points="813.7,842.3 952.8,788.6" fill="none" stroke="#ece144" stroke-width="1.4" />
<polyline points="813.7,873 952.8,788.6" fill="none" stroke="#44948c" stroke-width="1.4" />
<polyline points="813.7,872 952.8,789.2" fill="none" stroke="#ece144" stroke-width="1.4" />
<polyline points="813.7,850.5 952.8,788.4" fill="none" stroke="#eaa842" stroke-width="1.4" />
<polyline points="813.7,815 868,805 952.8,788.7" fill="none" stroke="#3474b0" stroke-width="1.5" />
<polyline points="813.7,838 952.8,699.8" fill="none" stroke="#e8703a" stroke-width="1.6" />
<rect x="259" y="730.7" width="6" height="35.3" fill="#f25af2" />
<rect x="398" y="607" width="6" height="137.6" fill="#f25af2" />
<rect x="537" y="602" width="6" height="140" fill="#f25af2" />
<text x="114" y="611.4" font-size="19" text-anchor="end" fill="#555555" >3000</text>
<text x="114" y="678.8" font-size="19" text-anchor="end" fill="#555555" >1500</text>
<text x="115" y="751.3" font-size="22" text-anchor="end" fill="#111" >0</text>
<text x="114" y="812.1" font-size="19" text-anchor="end" fill="#555555" >-1500</text>
<text x="114" y="878" font-size="19" text-anchor="end" fill="#555555" >-3000</text>
<text x="251" y="626.4" font-size="19" text-anchor="end" fill="#555555" >40M</text>
<text x="251" y="686.3" font-size="19" text-anchor="end" fill="#555555" >20M</text>
<text x="252" y="751.3" font-size="22" text-anchor="end" fill="#111" >0</text>
<text x="251" y="804.8" font-size="19" text-anchor="end" fill="#555555" >-20M</text>
<text x="251" y="863.4" font-size="19" text-anchor="end" fill="#555555" >-40M</text>
<text x="391" y="602.4" font-size="19" text-anchor="end" fill="#555555" >12M</text>
<text x="391" y="669.8" font-size="19" text-anchor="end" fill="#555555" >6M</text>
<text x="392" y="751.3" font-size="22" text-anchor="end" fill="#111" >0</text>
<text x="391" y="812.1" font-size="19" text-anchor="end" fill="#555555" >-6M</text>
<text x="391" y="878" font-size="19" text-anchor="end" fill="#555555" >-12M</text>
<text x="529" y="611.4" font-size="19" text-anchor="end" fill="#555555" >12</text>
<text x="529" y="678.8" font-size="19" text-anchor="end" fill="#555555" >6</text>
<text x="530" y="751.3" font-size="22" text-anchor="end" fill="#111" >0</text>
<text x="529" y="812.1" font-size="19" text-anchor="end" fill="#555555" >-6</text>
<text x="529" y="878" font-size="19" text-anchor="end" fill="#555555" >-12</text>
<text x="666" y="626.4" font-size="19" text-anchor="end" fill="#555555" >80</text>
<text x="666" y="686.3" font-size="19" text-anchor="end" fill="#555555" >40</text>
<text x="667" y="751.3" font-size="22" text-anchor="end" fill="#111" >0</text>
<text x="666" y="804.8" font-size="19" text-anchor="end" fill="#555555" >-40</text>
<text x="666" y="863.4" font-size="19" text-anchor="end" fill="#555555" >-80</text>
<text x="804.7" y="611.4" font-size="19" text-anchor="end" fill="#555555" >50</text>
<text x="804.7" y="678.8" font-size="19" text-anchor="end" fill="#555555" >25</text>
<text x="805.7" y="751.3" font-size="22" text-anchor="end" fill="#111" >0</text>
<text x="804.7" y="812.1" font-size="19" text-anchor="end" fill="#555555" >-25</text>
<text x="804.7" y="878" font-size="19" text-anchor="end" fill="#555555" >-50</text>
<line x1="952.8" y1="604" x2="952.8" y2="877.5" stroke="#b4b4b4" stroke-width="1.3" />
<line x1="1091.5" y1="604" x2="1091.5" y2="877.5" stroke="#b4b4b4" stroke-width="1.3" />
<line x1="1228.6" y1="604" x2="1228.6" y2="877.5" stroke="#b4b4b4" stroke-width="1.3" />
<line x1="1364" y1="604" x2="1364" y2="877.5" stroke="#b4b4b4" stroke-width="1.3" />
<line x1="945.8" y1="611" x2="952.8" y2="611" stroke="#b4b4b4" stroke-width="1.2" />
<line x1="945.8" y1="699.8" x2="952.8" y2="699.8" stroke="#b4b4b4" stroke-width="1.2" />
<line x1="945.8" y1="788.7" x2="952.8" y2="788.7" stroke="#b4b4b4" stroke-width="1.2" />
<line x1="945.8" y1="877.5" x2="952.8" y2="877.5" stroke="#b4b4b4" stroke-width="1.2" />
<line x1="1084.5" y1="611" x2="1091.5" y2="611" stroke="#b4b4b4" stroke-width="1.2" />
<line x1="1084.5" y1="677.6" x2="1091.5" y2="677.6" stroke="#b4b4b4" stroke-width="1.2" />
<line x1="1084.5" y1="744.2" x2="1091.5" y2="744.2" stroke="#b4b4b4" stroke-width="1.2" />
<line x1="1084.5" y1="810.9" x2="1091.5" y2="810.9" stroke="#b4b4b4" stroke-width="1.2" />
<line x1="1084.5" y1="877.5" x2="1091.5" y2="877.5" stroke="#b4b4b4" stroke-width="1.2" />
<line x1="1221.6" y1="611" x2="1228.6" y2="611" stroke="#b4b4b4" stroke-width="1.2" />
<line x1="1221.6" y1="664.3" x2="1228.6" y2="664.3" stroke="#b4b4b4" stroke-width="1.2" />
<line x1="1221.6" y1="717.6" x2="1228.6" y2="717.6" stroke="#b4b4b4" stroke-width="1.2" />
<line x1="1221.6" y1="770.9" x2="1228.6" y2="770.9" stroke="#b4b4b4" stroke-width="1.2" />
<line x1="1221.6" y1="824.2" x2="1228.6" y2="824.2" stroke="#b4b4b4" stroke-width="1.2" />
<line x1="1221.6" y1="877.5" x2="1228.6" y2="877.5" stroke="#b4b4b4" stroke-width="1.2" />
<line x1="1357" y1="611" x2="1364" y2="611" stroke="#b4b4b4" stroke-width="1.2" />
<line x1="1357" y1="677.6" x2="1364" y2="677.6" stroke="#b4b4b4" stroke-width="1.2" />
<line x1="1357" y1="744.2" x2="1364" y2="744.2" stroke="#b4b4b4" stroke-width="1.2" />
<line x1="1357" y1="810.9" x2="1364" y2="810.9" stroke="#b4b4b4" stroke-width="1.2" />
<line x1="1357" y1="877.5" x2="1364" y2="877.5" stroke="#b4b4b4" stroke-width="1.2" />
<line x1="952.8" y1="611" x2="1091.5" y2="611" stroke="#ebebeb" stroke-width="1.0" />
<line x1="952.8" y1="611" x2="1091.5" y2="677.6" stroke="#ebebeb" stroke-width="1.0" />
<line x1="952.8" y1="611" x2="1091.5" y2="744.2" stroke="#ebebeb" stroke-width="1.0" />
<line x1="952.8" y1="611" x2="1091.5" y2="810.9" stroke="#ebebeb" stroke-width="1.0" />
<line x1="952.8" y1="611" x2="1091.5" y2="877.5" stroke="#ebebeb" stroke-width="1.0" />
<line x1="952.8" y1="699.8" x2="1091.5" y2="744.2" stroke="#ebebeb" stroke-width="1.0" />
<line x1="952.8" y1="699.8" x2="1091.5" y2="877.5" stroke="#ebebeb" stroke-width="1.0" />
<line x1="952.8" y1="788.7" x2="1091.5" y2="744.2" stroke="#ebebeb" stroke-width="1.0" />
<line x1="952.8" y1="788.7" x2="1091.5" y2="877.5" stroke="#ebebeb" stroke-width="1.0" />
<line x1="1091.5" y1="744.2" x2="1228.6" y2="611" stroke="#ebebeb" stroke-width="1.0" />
<line x1="1091.5" y1="744.2" x2="1228.6" y2="664.3" stroke="#ebebeb" stroke-width="1.0" />
<line x1="1091.5" y1="744.2" x2="1228.6" y2="717.6" stroke="#ebebeb" stroke-width="1.0" />
<line x1="1091.5" y1="744.2" x2="1228.6" y2="770.9" stroke="#ebebeb" stroke-width="1.0" />
<line x1="1091.5" y1="744.2" x2="1228.6" y2="824.2" stroke="#ebebeb" stroke-width="1.0" />
<line x1="1091.5" y1="744.2" x2="1228.6" y2="877.5" stroke="#ebebeb" stroke-width="1.0" />
<line x1="1091.5" y1="877.5" x2="1228.6" y2="611" stroke="#ebebeb" stroke-width="1.0" />
<line x1="1091.5" y1="877.5" x2="1228.6" y2="664.3" stroke="#ebebeb" stroke-width="1.0" />
<line x1="1091.5" y1="877.5" x2="1228.6" y2="717.6" stroke="#ebebeb" stroke-width="1.0" />
<line x1="1091.5" y1="877.5" x2="1228.6" y2="770.9" stroke="#ebebeb" stroke-width="1.0" />
<line x1="1091.5" y1="877.5" x2="1228.6" y2="824.2" stroke="#ebebeb" stroke-width="1.0" />
<line x1="1091.5" y1="877.5" x2="1228.6" y2="877.5" stroke="#ebebeb" stroke-width="1.0" />
<line x1="952.8" y1="699.8" x2="1091.5" y2="611" stroke="#e6a24a" stroke-width="1.15" />
<line x1="952.8" y1="699.8" x2="1091.5" y2="677.6" stroke="#e27a4a" stroke-width="1.15" />
<line x1="952.8" y1="699.8" x2="1091.5" y2="810.9" stroke="#e6b050" stroke-width="1.15" />
<line x1="952.8" y1="788.7" x2="1091.5" y2="611" stroke="#e6a24a" stroke-width="1.15" />
<line x1="952.8" y1="788.7" x2="1091.5" y2="677.6" stroke="#e6a24a" stroke-width="1.15" />
<line x1="952.8" y1="788.7" x2="1091.5" y2="810.9" stroke="#e6b050" stroke-width="1.15" />
<line x1="1091.5" y1="611" x2="1228.6" y2="611" stroke="#e8b64a" stroke-width="1.15" />
<line x1="1091.5" y1="677.6" x2="1228.6" y2="611" stroke="#e2704c" stroke-width="1.15" />
<line x1="1091.5" y1="810.9" x2="1228.6" y2="611" stroke="#e8a848" stroke-width="1.15" />
<line x1="1091.5" y1="611" x2="1228.6" y2="664.3" stroke="#e8b64a" stroke-width="1.15" />
<line x1="1091.5" y1="677.6" x2="1228.6" y2="664.3" stroke="#e2704c" stroke-width="1.15" />
<line x1="1091.5" y1="810.9" x2="1228.6" y2="664.3" stroke="#e8a848" stroke-width="1.15" />
<line x1="1091.5" y1="611" x2="1228.6" y2="717.6" stroke="#e8b64a" stroke-width="1.15" />
<line x1="1091.5" y1="677.6" x2="1228.6" y2="717.6" stroke="#e2704c" stroke-width="1.15" />
<line x1="1091.5" y1="810.9" x2="1228.6" y2="717.6" stroke="#e8a848" stroke-width="1.15" />
<line x1="1091.5" y1="611" x2="1228.6" y2="770.9" stroke="#e8b64a" stroke-width="1.15" />
<line x1="1091.5" y1="677.6" x2="1228.6" y2="770.9" stroke="#e2704c" stroke-width="1.15" />
<line x1="1091.5" y1="810.9" x2="1228.6" y2="770.9" stroke="#e8a848" stroke-width="1.15" />
<line x1="1091.5" y1="611" x2="1228.6" y2="824.2" stroke="#e8b64a" stroke-width="1.15" />
<line x1="1091.5" y1="677.6" x2="1228.6" y2="824.2" stroke="#e2704c" stroke-width="1.15" />
<line x1="1091.5" y1="810.9" x2="1228.6" y2="824.2" stroke="#e8a848" stroke-width="1.15" />
<line x1="1091.5" y1="611" x2="1228.6" y2="877.5" stroke="#e8b64a" stroke-width="1.15" />
<line x1="1091.5" y1="677.6" x2="1228.6" y2="877.5" stroke="#e2704c" stroke-width="1.15" />
<line x1="1091.5" y1="810.9" x2="1228.6" y2="877.5" stroke="#e8a848" stroke-width="1.15" />
<line x1="1228.6" y1="611" x2="1364" y2="611" stroke="#e6704e" stroke-width="1.15" />
<line x1="1228.6" y1="611" x2="1364" y2="677.6" stroke="#e6704e" stroke-width="1.15" />
<line x1="1228.6" y1="611" x2="1364" y2="744.2" stroke="#e6704e" stroke-width="1.15" />
<line x1="1228.6" y1="611" x2="1364" y2="810.9" stroke="#e6704e" stroke-width="1.15" />
<line x1="1228.6" y1="611" x2="1364" y2="877.5" stroke="#e6704e" stroke-width="1.15" />
<line x1="1228.6" y1="664.3" x2="1364" y2="611" stroke="#e6704e" stroke-width="1.15" />
<line x1="1228.6" y1="664.3" x2="1364" y2="677.6" stroke="#e6704e" stroke-width="1.15" />
<line x1="1228.6" y1="664.3" x2="1364" y2="744.2" stroke="#e6704e" stroke-width="1.15" />
<line x1="1228.6" y1="664.3" x2="1364" y2="810.9" stroke="#e6704e" stroke-width="1.15" />
<line x1="1228.6" y1="664.3" x2="1364" y2="877.5" stroke="#e6704e" stroke-width="1.15" />
<line x1="1228.6" y1="717.6" x2="1364" y2="611" stroke="#e6704e" stroke-width="1.15" />
<line x1="1228.6" y1="717.6" x2="1364" y2="677.6" stroke="#e6704e" stroke-width="1.15" />
<line x1="1228.6" y1="717.6" x2="1364" y2="744.2" stroke="#e6704e" stroke-width="1.15" />
<line x1="1228.6" y1="717.6" x2="1364" y2="810.9" stroke="#e6704e" stroke-width="1.15" />
<line x1="1228.6" y1="717.6" x2="1364" y2="877.5" stroke="#e6704e" stroke-width="1.15" />
<line x1="1228.6" y1="770.9" x2="1364" y2="611" stroke="#e6704e" stroke-width="1.15" />
<line x1="1228.6" y1="770.9" x2="1364" y2="677.6" stroke="#e6704e" stroke-width="1.15" />
<line x1="1228.6" y1="770.9" x2="1364" y2="744.2" stroke="#e6704e" stroke-width="1.15" />
<line x1="1228.6" y1="770.9" x2="1364" y2="810.9" stroke="#e6704e" stroke-width="1.15" />
<line x1="1228.6" y1="770.9" x2="1364" y2="877.5" stroke="#e6704e" stroke-width="1.15" />
<line x1="1228.6" y1="824.2" x2="1364" y2="611" stroke="#e6704e" stroke-width="1.15" />
<line x1="1228.6" y1="824.2" x2="1364" y2="677.6" stroke="#e6704e" stroke-width="1.15" />
<line x1="1228.6" y1="824.2" x2="1364" y2="744.2" stroke="#e6704e" stroke-width="1.15" />
<line x1="1228.6" y1="824.2" x2="1364" y2="810.9" stroke="#e6704e" stroke-width="1.15" />
<line x1="1228.6" y1="824.2" x2="1364" y2="877.5" stroke="#e6704e" stroke-width="1.15" />
<line x1="1228.6" y1="877.5" x2="1364" y2="611" stroke="#e6704e" stroke-width="1.15" />
<line x1="1228.6" y1="877.5" x2="1364" y2="677.6" stroke="#e6704e" stroke-width="1.15" />
<line x1="1228.6" y1="877.5" x2="1364" y2="744.2" stroke="#e6704e" stroke-width="1.15" />
<line x1="1228.6" y1="877.5" x2="1364" y2="810.9" stroke="#e6704e" stroke-width="1.15" />
<line x1="1228.6" y1="877.5" x2="1364" y2="877.5" stroke="#e6704e" stroke-width="1.15" />
<polyline points="123,743.3 813.7,743.3 952.8,877.5 1091.5,877.5 1228.6,770.9 1364,611" fill="none" stroke="#2b2b2b" stroke-width="2" stroke-dasharray="6,4"/>
<text x="949.8" y="622" font-size="20" text-anchor="start" fill="#333" >S3</text>
<text x="949.8" y="721.8" font-size="20" text-anchor="start" fill="#333" >S2</text>
<text x="949.8" y="807.7" font-size="20" text-anchor="start" fill="#333" >S1</text>
<text x="948.8" y="873.5" font-size="18" text-anchor="start" fill="#333" >Baseline</text>
<text x="1079.5" y="606" font-size="20" text-anchor="end" fill="#333" >e</text>
<text x="1079.5" y="673.1" font-size="20" text-anchor="end" fill="#333" >d</text>
<text x="1079.5" y="739.2" font-size="20" text-anchor="end" fill="#333" >c</text>
<text x="1079.5" y="810.9" font-size="20" text-anchor="end" fill="#333" >b</text>
<text x="1079.5" y="877" font-size="20" text-anchor="end" fill="#333" >a</text>
<text x="1220.6" y="602" font-size="19" text-anchor="end" fill="#333" >130</text>
<text x="1219.4" y="655.3" font-size="19" text-anchor="end" fill="#333" >120</text>
<text x="1218.2" y="710.6" font-size="19" text-anchor="end" fill="#333" >110</text>
<text x="1217" y="766.4" font-size="19" text-anchor="end" fill="#333" >100</text>
<text x="1215.8" y="824.7" font-size="19" text-anchor="end" fill="#333" >90</text>
<text x="1214.6" y="878.5" font-size="19" text-anchor="end" fill="#333" >80</text>
<text x="1370.5" y="609" font-size="20" text-anchor="start" fill="#333" >1195</text>
<text x="1370.5" y="677.6" font-size="20" text-anchor="start" fill="#333" >1194</text>
<text x="1370.5" y="744.8" font-size="20" text-anchor="start" fill="#333" >1193</text>
<text x="1370.5" y="817.4" font-size="20" text-anchor="start" fill="#333" >1192</text>
<text x="1370.5" y="884" font-size="20" text-anchor="start" fill="#333" >1191</text>
<rect x="1505.5" y="604" width="469.2" height="138.7" fill="#f1f9ec" />
<rect x="1505.5" y="742.7" width="469.2" height="138.3" fill="#f6e5e5" />
<line x1="1505.5" y1="604" x2="1505.5" y2="881" stroke="#d9d9d9" stroke-width="1.3" />
<line x1="1598.6" y1="604" x2="1598.6" y2="881" stroke="#d9d9d9" stroke-width="1.3" />
<line x1="1697.7" y1="604" x2="1697.7" y2="881" stroke="#d9d9d9" stroke-width="1.3" />
<line x1="1802" y1="604" x2="1802" y2="881" stroke="#d9d9d9" stroke-width="1.3" />
<line x1="1902.6" y1="604" x2="1902.6" y2="881" stroke="#d9d9d9" stroke-width="1.3" />
<text x="1493.5" y="626" font-size="19" text-anchor="end" fill="#555555" >12M</text>
<line x1="1501.5" y1="621" x2="1505.5" y2="621" stroke="#d0d0d0" stroke-width="1" />
<text x="1493.5" y="687" font-size="19" text-anchor="end" fill="#555555" >6M</text>
<line x1="1501.5" y1="682" x2="1505.5" y2="682" stroke="#d0d0d0" stroke-width="1" />
<text x="1493.5" y="747.7" font-size="19" text-anchor="end" fill="#555555" >0</text>
<line x1="1501.5" y1="742.7" x2="1505.5" y2="742.7" stroke="#d0d0d0" stroke-width="1" />
<text x="1493.5" y="812.7" font-size="19" text-anchor="end" fill="#555555" >-6M</text>
<line x1="1501.5" y1="807.7" x2="1505.5" y2="807.7" stroke="#d0d0d0" stroke-width="1" />
<text x="1493.5" y="871.7" font-size="19" text-anchor="end" fill="#555555" >-12M</text>
<line x1="1501.5" y1="866.7" x2="1505.5" y2="866.7" stroke="#d0d0d0" stroke-width="1" />
<text x="1588.6" y="626" font-size="19" text-anchor="end" fill="#4c5749" >12</text>
<line x1="1594.6" y1="621" x2="1598.6" y2="621" stroke="#d0d0d0" stroke-width="1" />
<text x="1588.6" y="687" font-size="19" text-anchor="end" fill="#4c5749" >6</text>
<line x1="1594.6" y1="682" x2="1598.6" y2="682" stroke="#d0d0d0" stroke-width="1" />
<text x="1588.6" y="747.7" font-size="19" text-anchor="end" fill="#4c5749" >0</text>
<line x1="1594.6" y1="742.7" x2="1598.6" y2="742.7" stroke="#d0d0d0" stroke-width="1" />
<text x="1588.6" y="812.7" font-size="19" text-anchor="end" fill="#5a4b4b" >-6</text>
<line x1="1594.6" y1="807.7" x2="1598.6" y2="807.7" stroke="#d0d0d0" stroke-width="1" />
<text x="1588.6" y="871.7" font-size="19" text-anchor="end" fill="#5a4b4b" >-12</text>
<line x1="1594.6" y1="866.7" x2="1598.6" y2="866.7" stroke="#d0d0d0" stroke-width="1" />
<text x="1688.7" y="611" font-size="19" text-anchor="end" fill="#4c5749" >50</text>
<line x1="1693.7" y1="606" x2="1697.7" y2="606" stroke="#d0d0d0" stroke-width="1" />
<text x="1688.7" y="675" font-size="19" text-anchor="end" fill="#4c5749" >25</text>
<line x1="1693.7" y1="670" x2="1697.7" y2="670" stroke="#d0d0d0" stroke-width="1" />
<text x="1688.7" y="747.7" font-size="19" text-anchor="end" fill="#4c5749" >0</text>
<line x1="1693.7" y1="742.7" x2="1697.7" y2="742.7" stroke="#d0d0d0" stroke-width="1" />
<text x="1688.7" y="815.7" font-size="19" text-anchor="end" fill="#5a4b4b" >-25</text>
<line x1="1693.7" y1="810.7" x2="1697.7" y2="810.7" stroke="#d0d0d0" stroke-width="1" />
<text x="1688.7" y="879.7" font-size="19" text-anchor="end" fill="#5a4b4b" >-50</text>
<line x1="1693.7" y1="874.7" x2="1697.7" y2="874.7" stroke="#d0d0d0" stroke-width="1" />
<text x="1797" y="625" font-size="19" text-anchor="end" fill="#4c5749" >80</text>
<line x1="1798" y1="620" x2="1802" y2="620" stroke="#d0d0d0" stroke-width="1" />
<text x="1797" y="685" font-size="19" text-anchor="end" fill="#4c5749" >40</text>
<line x1="1798" y1="680" x2="1802" y2="680" stroke="#d0d0d0" stroke-width="1" />
<text x="1797" y="746.7" font-size="19" text-anchor="end" fill="#4c5749" >0</text>
<line x1="1798" y1="741.7" x2="1802" y2="741.7" stroke="#d0d0d0" stroke-width="1" />
<text x="1797" y="811.7" font-size="19" text-anchor="end" fill="#5a4b4b" >-40</text>
<line x1="1798" y1="806.7" x2="1802" y2="806.7" stroke="#d0d0d0" stroke-width="1" />
<text x="1797" y="870.7" font-size="19" text-anchor="end" fill="#5a4b4b" >-80</text>
<line x1="1798" y1="865.7" x2="1802" y2="865.7" stroke="#d0d0d0" stroke-width="1" />
<text x="1893.6" y="625" font-size="19" text-anchor="end" fill="#4c5749" >40M</text>
<line x1="1898.6" y1="620" x2="1902.6" y2="620" stroke="#d0d0d0" stroke-width="1" />
<text x="1893.6" y="685" font-size="19" text-anchor="end" fill="#4c5749" >20M</text>
<line x1="1898.6" y1="680" x2="1902.6" y2="680" stroke="#d0d0d0" stroke-width="1" />
<text x="1893.6" y="746.7" font-size="19" text-anchor="end" fill="#4c5749" >0</text>
<line x1="1898.6" y1="741.7" x2="1902.6" y2="741.7" stroke="#d0d0d0" stroke-width="1" />
<text x="1893.6" y="811.7" font-size="19" text-anchor="end" fill="#5a4b4b" >-20M</text>
<line x1="1898.6" y1="806.7" x2="1902.6" y2="806.7" stroke="#d0d0d0" stroke-width="1" />
<text x="1893.6" y="870.7" font-size="19" text-anchor="end" fill="#5a4b4b" >-40M</text>
<line x1="1898.6" y1="865.7" x2="1902.6" y2="865.7" stroke="#d0d0d0" stroke-width="1" />
<line x1="1530.8" y1="630" x2="1530.8" y2="682" stroke="#9ca398" stroke-width="1.8" />
<line x1="1526.8" y1="630" x2="1534.8" y2="630" stroke="#8a9286" stroke-width="1.8" />
<line x1="1530.8" y1="748.1" x2="1530.8" y2="758.3" stroke="#a89a9a" stroke-width="1.8" />
<line x1="1526.8" y1="758.3" x2="1534.8" y2="758.3" stroke="#9a8a8a" stroke-width="1.8" />
<rect x="1517.5" y="682" width="26.7" height="60.7" fill="#717d6b" />
<rect x="1517.5" y="742.7" width="26.7" height="5.4" fill="#7a6969" />
<rect x="1517.5" y="682" width="26.7" height="66.1" fill="none" stroke="#5d6659" stroke-opacity="0.6" stroke-width="1.2"/>
<line x1="1517.5" y1="735.2" x2="1544.2" y2="735.2" stroke="#5e675a" stroke-width="1.5" />
<line x1="1526.8" y1="713.2" x2="1534.8" y2="721.2" stroke="#5b6357" stroke-width="1.2" />
<line x1="1526.8" y1="721.2" x2="1534.8" y2="713.2" stroke="#5b6357" stroke-width="1.2" />
<line x1="1629.4" y1="600" x2="1629.4" y2="674.2" stroke="#9ca398" stroke-width="1.8" />
<line x1="1625.4" y1="600" x2="1633.4" y2="600" stroke="#8a9286" stroke-width="1.8" />
<line x1="1629.4" y1="761.3" x2="1629.4" y2="853.9" stroke="#a89a9a" stroke-width="1.8" />
<line x1="1625.4" y1="853.9" x2="1633.4" y2="853.9" stroke="#9a8a8a" stroke-width="1.8" />
<rect x="1613.6" y="674.2" width="31.6" height="68.5" fill="#717d6b" />
<rect x="1613.6" y="742.7" width="31.6" height="18.6" fill="#7a6969" />
<rect x="1613.6" y="674.2" width="31.6" height="87.1" fill="none" stroke="#5d6659" stroke-opacity="0.6" stroke-width="1.2"/>
<line x1="1613.6" y1="709" x2="1645.2" y2="709" stroke="#5e675a" stroke-width="1.5" />
<line x1="1625.4" y1="711.7" x2="1633.4" y2="719.7" stroke="#5b6357" stroke-width="1.2" />
<line x1="1625.4" y1="719.7" x2="1633.4" y2="711.7" stroke="#5b6357" stroke-width="1.2" />
<line x1="1728.8" y1="701.6" x2="1728.8" y2="742.7" stroke="#9ca398" stroke-width="1.8" />
<line x1="1728.8" y1="742.7" x2="1728.8" y2="743.6" stroke="#a89a9a" stroke-width="1.8" />
<line x1="1724.8" y1="701.6" x2="1732.8" y2="701.6" stroke="#8a9286" stroke-width="1.8" />
<line x1="1728.8" y1="845.5" x2="1728.8" y2="877.9" stroke="#a89a9a" stroke-width="1.8" />
<line x1="1724.8" y1="877.9" x2="1732.8" y2="877.9" stroke="#9a8a8a" stroke-width="1.8" />
<rect x="1712.8" y="743.6" width="32.1" height="101.9" fill="#7a6969" />
<rect x="1712.8" y="743.6" width="32.1" height="101.9" fill="none" stroke="#5d6659" stroke-opacity="0.6" stroke-width="1.2"/>
<line x1="1712.8" y1="769.8" x2="1744.9" y2="769.8" stroke="#5e675a" stroke-width="1.5" />
<line x1="1724.8" y1="786.8" x2="1732.8" y2="794.8" stroke="#5b6357" stroke-width="1.2" />
<line x1="1724.8" y1="794.8" x2="1732.8" y2="786.8" stroke="#5b6357" stroke-width="1.2" />
<line x1="1833" y1="702.2" x2="1833" y2="734.3" stroke="#9ca398" stroke-width="1.8" />
<line x1="1829" y1="702.2" x2="1837" y2="702.2" stroke="#8a9286" stroke-width="1.8" />
<line x1="1833" y1="789.3" x2="1833" y2="861.4" stroke="#a89a9a" stroke-width="1.8" />
<line x1="1829" y1="861.4" x2="1837" y2="861.4" stroke="#9a8a8a" stroke-width="1.8" />
<rect x="1817" y="734.3" width="32.1" height="8.4" fill="#717d6b" />
<rect x="1817" y="742.7" width="32.1" height="46.6" fill="#7a6969" />
<rect x="1817" y="734.3" width="32.1" height="55" fill="none" stroke="#5d6659" stroke-opacity="0.6" stroke-width="1.2"/>
<line x1="1817" y1="759.8" x2="1849.1" y2="759.8" stroke="#5e675a" stroke-width="1.5" />
<line x1="1829" y1="759.8" x2="1837" y2="767.8" stroke="#5b6357" stroke-width="1.2" />
<line x1="1829" y1="767.8" x2="1837" y2="759.8" stroke="#5b6357" stroke-width="1.2" />
<line x1="1933.1" y1="731.3" x2="1933.1" y2="736.1" stroke="#9ca398" stroke-width="1.8" />
<line x1="1929.1" y1="731.3" x2="1937.1" y2="731.3" stroke="#8a9286" stroke-width="1.8" />
<line x1="1933.1" y1="763.2" x2="1933.1" y2="768.3" stroke="#a89a9a" stroke-width="1.8" />
<line x1="1929.1" y1="768.3" x2="1937.1" y2="768.3" stroke="#9a8a8a" stroke-width="1.8" />
<rect x="1917" y="736.1" width="32.2" height="6.6" fill="#717d6b" />
<rect x="1917" y="742.7" width="32.2" height="20.5" fill="#7a6969" />
<rect x="1917" y="736.1" width="32.2" height="27.1" fill="none" stroke="#5d6659" stroke-opacity="0.6" stroke-width="1.2"/>
<line x1="1929.1" y1="755.8" x2="1937.1" y2="763.8" stroke="#5b6357" stroke-width="1.2" />
<line x1="1929.1" y1="763.8" x2="1937.1" y2="755.8" stroke="#5b6357" stroke-width="1.2" />
<circle cx="1933.1" cy="864.4" r="2.6" fill="#6a5a5a"/>
<circle cx="1933.1" cy="871.9" r="2.6" fill="#6a5a5a"/>
<circle cx="1933.1" cy="877.9" r="2.6" fill="#6a5a5a"/>
<line x1="109.3" y1="952.2" x2="109.3" y2="1217.6" stroke="#b4b4b4" stroke-width="1.3" />
<line x1="104.3" y1="952.2" x2="109.3" y2="952.2" stroke="#b4b4b4" stroke-width="1.2" />
<line x1="104.3" y1="1019.4" x2="109.3" y2="1019.4" stroke="#b4b4b4" stroke-width="1.2" />
<line x1="104.3" y1="1086.5" x2="109.3" y2="1086.5" stroke="#b4b4b4" stroke-width="1.2" />
<line x1="104.3" y1="1152" x2="109.3" y2="1152" stroke="#b4b4b4" stroke-width="1.2" />
<line x1="104.3" y1="1217.6" x2="109.3" y2="1217.6" stroke="#b4b4b4" stroke-width="1.2" />
<line x1="248.5" y1="952.2" x2="248.5" y2="1217.6" stroke="#b4b4b4" stroke-width="1.3" />
<line x1="243.5" y1="967.1" x2="248.5" y2="967.1" stroke="#b4b4b4" stroke-width="1.2" />
<line x1="243.5" y1="1026.8" x2="248.5" y2="1026.8" stroke="#b4b4b4" stroke-width="1.2" />
<line x1="243.5" y1="1086.5" x2="248.5" y2="1086.5" stroke="#b4b4b4" stroke-width="1.2" />
<line x1="243.5" y1="1144.8" x2="248.5" y2="1144.8" stroke="#b4b4b4" stroke-width="1.2" />
<line x1="243.5" y1="1203" x2="248.5" y2="1203" stroke="#b4b4b4" stroke-width="1.2" />
<line x1="386.9" y1="952.2" x2="386.9" y2="1217.6" stroke="#b4b4b4" stroke-width="1.3" />
<line x1="381.9" y1="952.2" x2="386.9" y2="952.2" stroke="#b4b4b4" stroke-width="1.2" />
<line x1="381.9" y1="1019.4" x2="386.9" y2="1019.4" stroke="#b4b4b4" stroke-width="1.2" />
<line x1="381.9" y1="1086.5" x2="386.9" y2="1086.5" stroke="#b4b4b4" stroke-width="1.2" />
<line x1="381.9" y1="1152" x2="386.9" y2="1152" stroke="#b4b4b4" stroke-width="1.2" />
<line x1="381.9" y1="1217.6" x2="386.9" y2="1217.6" stroke="#b4b4b4" stroke-width="1.2" />
<line x1="524.4" y1="952.2" x2="524.4" y2="1217.6" stroke="#b4b4b4" stroke-width="1.3" />
<line x1="519.4" y1="952.2" x2="524.4" y2="952.2" stroke="#b4b4b4" stroke-width="1.2" />
<line x1="519.4" y1="1019.4" x2="524.4" y2="1019.4" stroke="#b4b4b4" stroke-width="1.2" />
<line x1="519.4" y1="1086.5" x2="524.4" y2="1086.5" stroke="#b4b4b4" stroke-width="1.2" />
<line x1="519.4" y1="1152" x2="524.4" y2="1152" stroke="#b4b4b4" stroke-width="1.2" />
<line x1="519.4" y1="1217.6" x2="524.4" y2="1217.6" stroke="#b4b4b4" stroke-width="1.2" />
<line x1="663.3" y1="952.2" x2="663.3" y2="1217.6" stroke="#b4b4b4" stroke-width="1.3" />
<line x1="658.3" y1="967.1" x2="663.3" y2="967.1" stroke="#b4b4b4" stroke-width="1.2" />
<line x1="658.3" y1="1026.8" x2="663.3" y2="1026.8" stroke="#b4b4b4" stroke-width="1.2" />
<line x1="658.3" y1="1086.5" x2="663.3" y2="1086.5" stroke="#b4b4b4" stroke-width="1.2" />
<line x1="658.3" y1="1144.8" x2="663.3" y2="1144.8" stroke="#b4b4b4" stroke-width="1.2" />
<line x1="658.3" y1="1203" x2="663.3" y2="1203" stroke="#b4b4b4" stroke-width="1.2" />
<line x1="800.3" y1="952.2" x2="800.3" y2="1217.6" stroke="#b4b4b4" stroke-width="1.3" />
<line x1="795.3" y1="952.2" x2="800.3" y2="952.2" stroke="#b4b4b4" stroke-width="1.2" />
<line x1="795.3" y1="1019.4" x2="800.3" y2="1019.4" stroke="#b4b4b4" stroke-width="1.2" />
<line x1="795.3" y1="1086.5" x2="800.3" y2="1086.5" stroke="#b4b4b4" stroke-width="1.2" />
<line x1="795.3" y1="1152" x2="800.3" y2="1152" stroke="#b4b4b4" stroke-width="1.2" />
<line x1="795.3" y1="1217.6" x2="800.3" y2="1217.6" stroke="#b4b4b4" stroke-width="1.2" />
<polyline points="109.3,1070.8 248.5,1082.8 386.9,1090" fill="none" stroke="#e6e6e6" stroke-width="1.4" />
<polyline points="109.3,1070.8 248.5,1086 386.9,1095" fill="none" stroke="#e6e6e6" stroke-width="1.4" />
<polyline points="109.3,1092.5 248.5,1090 386.9,1100" fill="none" stroke="#e6e6e6" stroke-width="1.4" />
<polyline points="109.3,1092.5 248.5,1116.6 386.9,1105" fill="none" stroke="#e6e6e6" stroke-width="1.4" />
<polyline points="109.3,1092.5 248.5,1113.9 386.9,1102" fill="none" stroke="#e6e6e6" stroke-width="1.4" />
<polyline points="109.3,1220.4 248.5,1108.6 386.9,1100" fill="none" stroke="#e6e6e6" stroke-width="1.4" />
<polygon points="113.3,1218.7 248.5,1209.7 386.9,986.2 386.9,1009.2 248.5,1213.7 113.3,1220.7" fill="#eeeeee" fill-opacity="0.5"/>
<polyline points="113.3,1220.4 248.5,1213.3 386.9,1002.4" fill="none" stroke="#e6e6e6" stroke-width="1.1" />
<polyline points="113.3,1219 248.5,1210.4 386.9,986.5" fill="none" stroke="#e6e6e6" stroke-width="1.1" />
<polyline points="113.3,1219.4 248.5,1210.1 386.9,993.2" fill="none" stroke="#e6e6e6" stroke-width="1.1" />
<polyline points="113.3,1219 248.5,1210.8 386.9,992.5" fill="none" stroke="#e6e6e6" stroke-width="1.1" />
<polygon points="113.3,1218.7 248.5,1213.7 386.9,1009.2 386.9,1033.1 248.5,1217.7 113.3,1220.7" fill="#eeeeee" fill-opacity="0.5"/>
<polyline points="113.3,1218.9 248.5,1213.7 386.9,1011.4" fill="none" stroke="#e6e6e6" stroke-width="1.1" />
<polyline points="113.3,1220.7 248.5,1217.5 386.9,1033.1" fill="none" stroke="#e6e6e6" stroke-width="1.1" />
<polyline points="113.3,1220.2 248.5,1213.8 386.9,1026.8" fill="none" stroke="#e6e6e6" stroke-width="1.1" />
<polyline points="113.3,1220.7 248.5,1214.4 386.9,1023.3" fill="none" stroke="#e6e6e6" stroke-width="1.1" />
<polygon points="113.3,1218.7 248.5,1216.7 386.9,1033.1 386.9,1052.1 248.5,1221.7 113.3,1220.7" fill="#eeeeee" fill-opacity="0.5"/>
<polyline points="113.3,1220.7 248.5,1221.4 386.9,1044.2" fill="none" stroke="#e6e6e6" stroke-width="1.1" />
<polyline points="113.3,1219.3 248.5,1217.3 386.9,1033.1" fill="none" stroke="#e6e6e6" stroke-width="1.1" />
<polyline points="113.3,1220.7 248.5,1219.7 386.9,1052.1" fill="none" stroke="#e6e6e6" stroke-width="1.1" />
<polyline points="113.3,1220.6 248.5,1219.2 386.9,1046.9" fill="none" stroke="#e6e6e6" stroke-width="1.1" />
<polygon points="248.5,1084 386.9,1088 386.9,1109.9 248.5,1093" fill="#eeeeee" fill-opacity="0.6"/>
<polyline points="248.5,1086.1 386.9,1089.4" fill="none" stroke="#e6e6e6" stroke-width="1.1" />
<polyline points="248.5,1088.7 386.9,1109.9" fill="none" stroke="#e6e6e6" stroke-width="1.1" />
<polyline points="248.5,1084 386.9,1102.6" fill="none" stroke="#e6e6e6" stroke-width="1.1" />
<polyline points="248.5,1091.3 386.9,1104" fill="none" stroke="#e6e6e6" stroke-width="1.1" />
<polyline points="248.5,1089.4 386.9,1094.1" fill="none" stroke="#e6e6e6" stroke-width="1.1" />
<polyline points="248.5,1090.8 386.9,1098.6" fill="none" stroke="#e6e6e6" stroke-width="1.1" />
<polyline points="248.5,1083.4 386.9,1066.4" fill="none" stroke="#e6e6e6" stroke-width="0.9" />
<polyline points="248.5,1087.7 386.9,1074.4" fill="none" stroke="#e6e6e6" stroke-width="0.9" />
<polyline points="248.5,1086.1 386.9,1043.2" fill="none" stroke="#e6e6e6" stroke-width="0.9" />
<polyline points="248.5,1089.7 386.9,1080.5" fill="none" stroke="#e6e6e6" stroke-width="0.9" />
<polyline points="248.5,1089.7 386.9,1073.5" fill="none" stroke="#e6e6e6" stroke-width="0.9" />
<polyline points="248.5,1089.8 386.9,1026.2" fill="none" stroke="#e6e6e6" stroke-width="0.9" />
<polyline points="248.5,1086.8 386.9,1047.4" fill="none" stroke="#e6e6e6" stroke-width="0.9" />
<polyline points="248.5,1089.3 386.9,1035.9" fill="none" stroke="#e6e6e6" stroke-width="0.9" />
<polyline points="248.5,1088 386.9,1045.9" fill="none" stroke="#e6e6e6" stroke-width="0.9" />
<polyline points="248.5,1088.4 386.9,1028.8" fill="none" stroke="#e6e6e6" stroke-width="0.9" />
<polyline points="248.5,1087.5 386.9,1079.8" fill="none" stroke="#e6e6e6" stroke-width="0.9" />
<polyline points="248.5,1083.3 386.9,1029.4" fill="none" stroke="#e6e6e6" stroke-width="0.9" />
<polyline points="248.5,1087.3 386.9,1064" fill="none" stroke="#e6e6e6" stroke-width="0.9" />
<polyline points="248.5,1087.1 386.9,1084.1" fill="none" stroke="#e6e6e6" stroke-width="0.9" />
<polyline points="248.5,1086.8 386.9,1043.6" fill="none" stroke="#e6e6e6" stroke-width="0.9" />
<polyline points="248.5,1085.2 386.9,1075.2" fill="none" stroke="#e6e6e6" stroke-width="0.9" />
<polyline points="248.5,1083.1 386.9,1066" fill="none" stroke="#e6e6e6" stroke-width="0.9" />
<polyline points="248.5,1085.8 386.9,1028.1" fill="none" stroke="#e6e6e6" stroke-width="0.9" />
<polyline points="248.5,1088.4 386.9,1076.8" fill="none" stroke="#e6e6e6" stroke-width="0.9" />
<polyline points="248.5,1084.4 386.9,1037" fill="none" stroke="#e6e6e6" stroke-width="0.9" />
<polyline points="248.5,1089.8 386.9,1033.5" fill="none" stroke="#e6e6e6" stroke-width="0.9" />
<polyline points="248.5,1087.5 386.9,1031.2" fill="none" stroke="#e6e6e6" stroke-width="0.9" />
<polyline points="248.5,1087.2 386.9,1077.8" fill="none" stroke="#e6e6e6" stroke-width="0.9" />
<polyline points="248.5,1083.3 386.9,1081" fill="none" stroke="#e6e6e6" stroke-width="0.9" />
<polyline points="248.5,1086.7 386.9,1069.4" fill="none" stroke="#e6e6e6" stroke-width="0.9" />
<polyline points="248.5,1083.2 386.9,1074.3" fill="none" stroke="#e6e6e6" stroke-width="0.9" />
<polyline points="248.5,1083.6 386.9,1037" fill="none" stroke="#e6e6e6" stroke-width="0.9" />
<polyline points="248.5,1084.6 386.9,1038.1" fill="none" stroke="#e6e6e6" stroke-width="0.9" />
<polyline points="248.5,1088.5 386.9,1036.2" fill="none" stroke="#e6e6e6" stroke-width="0.9" />
<polyline points="248.5,1083.8 386.9,1083.6" fill="none" stroke="#e6e6e6" stroke-width="0.9" />
<polyline points="248.5,1084 386.9,1042.9" fill="none" stroke="#e6e6e6" stroke-width="0.9" />
<polyline points="248.5,1085.4 386.9,1039.9" fill="none" stroke="#e6e6e6" stroke-width="0.9" />
<polyline points="248.5,1086.4 386.9,1037.7" fill="none" stroke="#e6e6e6" stroke-width="0.9" />
<polyline points="248.5,1089.5 386.9,1038.1" fill="none" stroke="#e6e6e6" stroke-width="0.9" />
<polyline points="248.5,1083.6 386.9,1062.5" fill="none" stroke="#e6e6e6" stroke-width="0.9" />
<polyline points="248.5,1089.8 386.9,1029.1" fill="none" stroke="#e6e6e6" stroke-width="0.9" />
<polyline points="248.5,1085.3 386.9,1054.2" fill="none" stroke="#e6e6e6" stroke-width="0.9" />
<polyline points="248.5,1084.3 386.9,1083.2" fill="none" stroke="#e6e6e6" stroke-width="0.9" />
<polyline points="248.5,1088.6 386.9,1071.1" fill="none" stroke="#e6e6e6" stroke-width="0.9" />
<polyline points="248.5,1086 386.9,1040.2" fill="none" stroke="#e6e6e6" stroke-width="0.9" />
<polygon points="248.5,1084 386.9,986.2 386.9,1088 248.5,1088" fill="#eeeeee" fill-opacity="0.55"/>
<polygon points="386.9,986.2 524.4,964.3 524.4,1088 386.9,1088" fill="#eeeeee" fill-opacity="0.7"/>
<polyline points="386.9,1028.5 524.4,1110.7" fill="none" stroke="#e6e6e6" stroke-width="0.9" />
<polyline points="386.9,1017.7 524.4,1090.7" fill="none" stroke="#e6e6e6" stroke-width="0.9" />
<polyline points="386.9,1073.5 524.4,1078" fill="none" stroke="#e6e6e6" stroke-width="0.9" />
<polyline points="386.9,1073.3 524.4,1057" fill="none" stroke="#e6e6e6" stroke-width="0.9" />
<polyline points="386.9,1076 524.4,1079.8" fill="none" stroke="#e6e6e6" stroke-width="0.9" />
<polyline points="386.9,1021.2 524.4,1053.4" fill="none" stroke="#e6e6e6" stroke-width="0.9" />
<polyline points="386.9,1027.4 524.4,1114.7" fill="none" stroke="#e6e6e6" stroke-width="0.9" />
<polyline points="386.9,1029.4 524.4,1059.6" fill="none" stroke="#e6e6e6" stroke-width="0.9" />
<polyline points="386.9,1051.8 524.4,1066.6" fill="none" stroke="#e6e6e6" stroke-width="0.9" />
<polyline points="386.9,1012.6 524.4,1103.8" fill="none" stroke="#e6e6e6" stroke-width="0.9" />
<polyline points="386.9,1051.1 524.4,1055.2" fill="none" stroke="#e6e6e6" stroke-width="0.9" />
<polyline points="386.9,1059.2 524.4,1120.6" fill="none" stroke="#e6e6e6" stroke-width="0.9" />
<polyline points="386.9,1088.9 524.4,1129.5" fill="none" stroke="#e6e6e6" stroke-width="0.9" />
<polyline points="386.9,1020.6 524.4,1041" fill="none" stroke="#e6e6e6" stroke-width="0.9" />
<polyline points="386.9,1071.7 524.4,1113.5" fill="none" stroke="#e6e6e6" stroke-width="0.9" />
<polyline points="386.9,1041.8 524.4,1084.7" fill="none" stroke="#e6e6e6" stroke-width="0.9" />
<polyline points="386.9,1014.6 524.4,1092.9" fill="none" stroke="#e6e6e6" stroke-width="0.9" />
<polyline points="386.9,1033.6 524.4,1065.9" fill="none" stroke="#e6e6e6" stroke-width="0.9" />
<polyline points="386.9,1022.2 524.4,1123.4" fill="none" stroke="#e6e6e6" stroke-width="0.9" />
<polyline points="386.9,1047 524.4,1053.9" fill="none" stroke="#e6e6e6" stroke-width="0.9" />
<polyline points="386.9,1072.8 524.4,1103.2" fill="none" stroke="#e6e6e6" stroke-width="0.9" />
<polyline points="386.9,1064.9 524.4,1080.3" fill="none" stroke="#e6e6e6" stroke-width="0.9" />
<polyline points="386.9,1072.1 524.4,1045.2" fill="none" stroke="#e6e6e6" stroke-width="0.9" />
<polyline points="386.9,1060 524.4,1076.6" fill="none" stroke="#e6e6e6" stroke-width="0.9" />
<polyline points="386.9,1030.3 524.4,1098.5" fill="none" stroke="#e6e6e6" stroke-width="0.9" />
<polyline points="386.9,1046.1 524.4,1115.9" fill="none" stroke="#e6e6e6" stroke-width="0.9" />
<polyline points="386.9,1071.7 524.4,1070.3" fill="none" stroke="#e6e6e6" stroke-width="0.9" />
<polyline points="386.9,1072.4 524.4,1103.8" fill="none" stroke="#e6e6e6" stroke-width="0.9" />
<polyline points="386.9,1059.6 524.4,1045.1" fill="none" stroke="#e6e6e6" stroke-width="0.9" />
<polyline points="386.9,1017.2 524.4,1122.6" fill="none" stroke="#e6e6e6" stroke-width="0.9" />
<polyline points="386.9,1013.2 524.4,1128.1" fill="none" stroke="#e6e6e6" stroke-width="0.9" />
<polyline points="386.9,1020.5 524.4,1079.3" fill="none" stroke="#e6e6e6" stroke-width="0.9" />
<polyline points="386.9,1013 524.4,1097.4" fill="none" stroke="#e6e6e6" stroke-width="0.9" />
<polyline points="386.9,1045.1 524.4,1043.2" fill="none" stroke="#e6e6e6" stroke-width="0.9" />
<polyline points="386.9,1065.8 524.4,1103" fill="none" stroke="#e6e6e6" stroke-width="0.9" />
<polyline points="386.9,1012.7 524.4,1121.4" fill="none" stroke="#e6e6e6" stroke-width="0.9" />
<polyline points="386.9,1052.5 524.4,1101.5" fill="none" stroke="#e6e6e6" stroke-width="0.9" />
<polyline points="386.9,1023.3 524.4,1085.5" fill="none" stroke="#e6e6e6" stroke-width="0.9" />
<polyline points="386.9,1023.7 524.4,1051.6" fill="none" stroke="#e6e6e6" stroke-width="0.9" />
<polyline points="386.9,1066.7 524.4,1069.5" fill="none" stroke="#e6e6e6" stroke-width="0.9" />
<polyline points="386.9,1046.7 524.4,1087.4" fill="none" stroke="#e6e6e6" stroke-width="0.9" />
<polyline points="386.9,1030.9 524.4,1105.3" fill="none" stroke="#e6e6e6" stroke-width="0.9" />
<polyline points="386.9,1047.9 524.4,1125.8" fill="none" stroke="#e6e6e6" stroke-width="0.9" />
<polyline points="386.9,1074.9 524.4,1107" fill="none" stroke="#e6e6e6" stroke-width="0.9" />
<polyline points="386.9,1067.3 524.4,1104.7" fill="none" stroke="#e6e6e6" stroke-width="0.9" />
<polyline points="386.9,1086.2 524.4,1030.1" fill="none" stroke="#e6e6e6" stroke-width="1.0" />
<polyline points="386.9,1076.6 524.4,1023.9" fill="none" stroke="#e6e6e6" stroke-width="1.0" />
<polyline points="386.9,1087 524.4,976.9" fill="none" stroke="#e6e6e6" stroke-width="1.0" />
<polyline points="386.9,1087.2 524.4,1016.9" fill="none" stroke="#e6e6e6" stroke-width="1.0" />
<polyline points="386.9,1079.7 524.4,1018.9" fill="none" stroke="#e6e6e6" stroke-width="1.0" />
<polyline points="386.9,1085.2 524.4,1014.7" fill="none" stroke="#e6e6e6" stroke-width="1.0" />
<polyline points="386.9,1087.3 524.4,1026.9" fill="none" stroke="#e6e6e6" stroke-width="1.0" />
<polyline points="386.9,1075.2 524.4,1021" fill="none" stroke="#e6e6e6" stroke-width="1.0" />
<polyline points="386.9,1088.5 524.4,1032.2" fill="none" stroke="#e6e6e6" stroke-width="1.0" />
<polyline points="386.9,1078.4 524.4,994.3" fill="none" stroke="#e6e6e6" stroke-width="1.0" />
<polyline points="386.9,1089.2 524.4,993.3" fill="none" stroke="#e6e6e6" stroke-width="1.0" />
<polyline points="386.9,1080.9 524.4,992.3" fill="none" stroke="#e6e6e6" stroke-width="1.0" />
<polyline points="386.9,1075.2 524.4,1015.7" fill="none" stroke="#e6e6e6" stroke-width="1.0" />
<polyline points="386.9,1087.3 524.4,1013.8" fill="none" stroke="#e6e6e6" stroke-width="1.0" />
<polyline points="386.9,1089.9 524.4,1018.8" fill="none" stroke="#e6e6e6" stroke-width="1.0" />
<polyline points="386.9,1087.2 524.4,990.4" fill="none" stroke="#e6e6e6" stroke-width="1.0" />
<polyline points="386.9,1080.7 524.4,1025.5" fill="none" stroke="#e6e6e6" stroke-width="1.0" />
<polyline points="386.9,1078.6 524.4,1018" fill="none" stroke="#e6e6e6" stroke-width="1.0" />
<polyline points="386.9,1080.2 524.4,1025.8" fill="none" stroke="#e6e6e6" stroke-width="1.0" />
<polyline points="386.9,1088.2 524.4,983.6" fill="none" stroke="#e6e6e6" stroke-width="1.0" />
<polyline points="386.9,1086.9 524.4,1025.7" fill="none" stroke="#e6e6e6" stroke-width="1.0" />
<polyline points="386.9,1089.2 524.4,1003.4" fill="none" stroke="#e6e6e6" stroke-width="1.0" />
<polyline points="386.9,1086.7 524.4,1027.3" fill="none" stroke="#e6e6e6" stroke-width="1.0" />
<polyline points="386.9,1085.9 524.4,996.9" fill="none" stroke="#e6e6e6" stroke-width="1.0" />
<polyline points="386.9,1076.5 524.4,994.8" fill="none" stroke="#e6e6e6" stroke-width="1.0" />
<polyline points="386.9,1088.5 524.4,976.8" fill="none" stroke="#e6e6e6" stroke-width="1.0" />
<polyline points="386.9,1076.1 524.4,979.3" fill="none" stroke="#e6e6e6" stroke-width="1.0" />
<polyline points="386.9,1078 524.4,1002.9" fill="none" stroke="#e6e6e6" stroke-width="1.0" />
<polyline points="386.9,1079.7 524.4,1003.8" fill="none" stroke="#e6e6e6" stroke-width="1.0" />
<polyline points="386.9,1079.7 524.4,1013.1" fill="none" stroke="#e6e6e6" stroke-width="1.0" />
<polyline points="386.9,998.7 524.4,964.3" fill="none" stroke="#e6e6e6" stroke-width="1.3" />
<polyline points="386.9,1009.2 524.4,964.3" fill="none" stroke="#e6e6e6" stroke-width="1.3" />
<polyline points="386.9,1009.2 524.4,1030.1" fill="none" stroke="#e6e6e6" stroke-width="1.3" />
<polyline points="386.9,1009.2 524.4,964.3" fill="none" stroke="#e6e6e6" stroke-width="1.3" />
<polyline points="386.9,992.7 524.4,1030.1" fill="none" stroke="#e6e6e6" stroke-width="1.3" />
<polyline points="386.9,986.2 524.4,964.3" fill="none" stroke="#e6e6e6" stroke-width="1.3" />
<polyline points="386.9,1009.2 524.4,1016.1" fill="none" stroke="#e6e6e6" stroke-width="1.3" />
<polyline points="386.9,996 524.4,1030.1" fill="none" stroke="#e6e6e6" stroke-width="1.3" />
<polyline points="386.9,1002.8 524.4,978.6" fill="none" stroke="#e6e6e6" stroke-width="1.3" />
<polyline points="386.9,986.2 524.4,964.3" fill="none" stroke="#e6e6e6" stroke-width="1.3" />
<polyline points="386.9,998 524.4,987.2" fill="none" stroke="#e6e6e6" stroke-width="1.3" />
<polyline points="386.9,1033.1 524.4,1083.5" fill="none" stroke="#e6e6e6" stroke-width="1.3" />
<polyline points="386.9,1014.4 524.4,1085" fill="none" stroke="#e6e6e6" stroke-width="1.3" />
<polyline points="386.9,1017.1 524.4,1035.1" fill="none" stroke="#e6e6e6" stroke-width="1.3" />
<polyline points="386.9,1009.2 524.4,1035.1" fill="none" stroke="#e6e6e6" stroke-width="1.3" />
<polyline points="386.9,1033.1 524.4,1085" fill="none" stroke="#e6e6e6" stroke-width="1.3" />
<polyline points="386.9,1033.1 524.4,1046.5" fill="none" stroke="#e6e6e6" stroke-width="1.3" />
<polyline points="386.9,1020.5 524.4,1085" fill="none" stroke="#e6e6e6" stroke-width="1.3" />
<polyline points="386.9,1028.2 524.4,1085" fill="none" stroke="#e6e6e6" stroke-width="1.3" />
<polygon points="386.9,1088 524.4,1129.9 524.4,1194.8 386.9,1109.9" fill="#eeeeee" />
<polyline points="386.9,1109.9 524.4,1169.6" fill="none" stroke="#e6e6e6" stroke-width="1.2" />
<polyline points="386.9,1088 524.4,1173" fill="none" stroke="#e6e6e6" stroke-width="1.2" />
<polyline points="386.9,1088 524.4,1129.9" fill="none" stroke="#e6e6e6" stroke-width="1.2" />
<polyline points="386.9,1107.4 524.4,1194.8" fill="none" stroke="#e6e6e6" stroke-width="1.2" />
<polyline points="386.9,1104.8 524.4,1173.6" fill="none" stroke="#e6e6e6" stroke-width="1.2" />
<polyline points="386.9,1099.6 524.4,1182" fill="none" stroke="#e6e6e6" stroke-width="1.2" />
<polyline points="386.9,1090.3 524.4,1167.5" fill="none" stroke="#e6e6e6" stroke-width="1.2" />
<polyline points="386.9,1106 524.4,1129.9" fill="none" stroke="#e6e6e6" stroke-width="1.2" />
<polyline points="386.9,1089 524.4,1165.4" fill="none" stroke="#e6e6e6" stroke-width="1.2" />
<polyline points="386.9,1104.1 524.4,1176.1" fill="none" stroke="#e6e6e6" stroke-width="1.2" />
<polyline points="386.9,1088 524.4,1129.9" fill="none" stroke="#e6e6e6" stroke-width="1.2" />
<polyline points="386.9,1100.5 524.4,1187" fill="none" stroke="#e6e6e6" stroke-width="1.2" />
<polyline points="386.9,1096.7 524.4,1158" fill="none" stroke="#e6e6e6" stroke-width="1.2" />
<polyline points="386.9,1088 524.4,1169.7" fill="none" stroke="#e6e6e6" stroke-width="1.2" />
<polyline points="386.9,1097.9 524.4,1193.8" fill="none" stroke="#e6e6e6" stroke-width="1.2" />
<polyline points="386.9,1053.9 524.4,1151.7" fill="none" stroke="#e6e6e6" stroke-width="1.2" />
<polyline points="386.9,1036.7 524.4,1150.1" fill="none" stroke="#e6e6e6" stroke-width="1.2" />
<polyline points="386.9,1030.1 524.4,1129.9" fill="none" stroke="#e6e6e6" stroke-width="1.2" />
<polyline points="386.9,1060.1 524.4,1134.7" fill="none" stroke="#e6e6e6" stroke-width="1.2" />
<polyline points="386.9,1060.1 524.4,1147.2" fill="none" stroke="#e6e6e6" stroke-width="1.2" />
<polyline points="386.9,1059.2 524.4,1129.9" fill="none" stroke="#e6e6e6" stroke-width="1.2" />
<polyline points="386.9,1030.1 524.4,1139.7" fill="none" stroke="#e6e6e6" stroke-width="1.2" />
<polyline points="386.9,1048.3 524.4,1129.9" fill="none" stroke="#e6e6e6" stroke-width="1.2" />
<polygon points="524.4,966.3 593.5,1032.1 663.3,1055.1 730.6,1060.1 800.3,1058.1 800.3,1064.1 730.6,1066 663.3,1061.1 593.5,1052.1 524.4,1032.1" fill="#eeeeee" />
<polyline points="524.4,996.2 593.5,1032.1 663.3,1056.4 730.6,1062.9 800.3,1058.9" fill="none" stroke="#e6e6e6" stroke-width="1.2" />
<polyline points="524.4,1017.7 593.5,1051.6 663.3,1060 730.6,1065.3 800.3,1064" fill="none" stroke="#e6e6e6" stroke-width="1.2" />
<polyline points="524.4,1018.1 593.5,1051.1 663.3,1059 730.6,1063.3 800.3,1063.5" fill="none" stroke="#e6e6e6" stroke-width="1.2" />
<polyline points="524.4,983.5 593.5,1034.5 663.3,1058.9 730.6,1064.6 800.3,1060" fill="none" stroke="#e6e6e6" stroke-width="1.2" />
<polyline points="524.4,973.3 593.5,1034 663.3,1055.9 730.6,1059.5 800.3,1057.4" fill="none" stroke="#e6e6e6" stroke-width="1.2" />
<polyline points="524.4,965.8 593.5,1032.1 663.3,1054.2 730.6,1058.9 800.3,1057.1" fill="none" stroke="#e6e6e6" stroke-width="1.2" />
<polygon points="524.4,1028.1 593.5,1050.1 663.3,1060.1 730.6,1064.1 800.3,1062.1 800.3,1073 730.6,1070 663.3,1065 593.5,1064.1 524.4,1040.1" fill="#eeeeee" />
<polyline points="524.4,1028.1 593.5,1050.1 663.3,1062.6 730.6,1065.4 800.3,1062.1" fill="none" stroke="#e6e6e6" stroke-width="1.2" />
<polyline points="524.4,1032.4 593.5,1064.1 663.3,1062.2 730.6,1067.6 800.3,1070" fill="none" stroke="#e6e6e6" stroke-width="1.2" />
<polygon points="524.4,1038.1 593.5,1062.1 663.3,1063.1 730.6,1068 800.3,1070 800.3,1085 730.6,1082 663.3,1078 593.5,1087 524.4,1085" fill="#eeeeee" />
<polyline points="524.4,1085 593.5,1084.9 663.3,1075.7 730.6,1078.8 800.3,1085" fill="none" stroke="#e6e6e6" stroke-width="1.2" />
<polyline points="524.4,1045.1 593.5,1084.4 663.3,1067.8 730.6,1078.4 800.3,1082.3" fill="none" stroke="#e6e6e6" stroke-width="1.2" />
<polyline points="524.4,1053.3 593.5,1070.9 663.3,1073.4 730.6,1070 800.3,1073" fill="none" stroke="#e6e6e6" stroke-width="1.2" />
<polygon points="524.4,1083 593.5,1085 663.3,1072 730.6,1078 800.3,1078 800.3,1086 730.6,1084 663.3,1080 593.5,1112.9 524.4,1129.9" fill="#eeeeee" />
<polyline points="524.4,1087.3 593.5,1097.3 663.3,1072 730.6,1082.1 800.3,1078.5" fill="none" stroke="#e6e6e6" stroke-width="1.2" />
<polyline points="524.4,1096.3 593.5,1096.1 663.3,1073.6 730.6,1079.9 800.3,1080.3" fill="none" stroke="#e6e6e6" stroke-width="1.2" />
<polygon points="524.4,1127.9 593.5,1110.9 663.3,1076 730.6,1080 800.3,1082 800.3,1221.7 730.6,1211.7 663.3,1206.7 593.5,1178.8 524.4,1194.8" fill="#eeeeee" />
<polyline points="524.4,1149.8 593.5,1127.6 663.3,1105.8 730.6,1111.5 800.3,1117.2" fill="none" stroke="#e6e6e6" stroke-width="1.0" />
<polyline points="524.4,1178.4 593.5,1158.5 663.3,1149.3 730.6,1189.2 800.3,1179.8" fill="none" stroke="#e6e6e6" stroke-width="1.0" />
<polyline points="524.4,1194.8 593.5,1178.8 663.3,1190.3 730.6,1204.2 800.3,1210.5" fill="none" stroke="#e6e6e6" stroke-width="1.0" />
<polyline points="524.4,1143.1 593.5,1146.3 663.3,1138.2 730.6,1131.1 800.3,1120.8" fill="none" stroke="#e6e6e6" stroke-width="1.0" />
<polyline points="524.4,1194.8 593.5,1177.7 663.3,1205.3 730.6,1210.2 800.3,1214.4" fill="none" stroke="#e6e6e6" stroke-width="1.0" />
<polyline points="524.4,1128.1 593.5,1120.4 663.3,1096.3 730.6,1082.6 800.3,1087.1" fill="none" stroke="#e6e6e6" stroke-width="1.0" />
<polyline points="524.4,1183.2 593.5,1178.8 663.3,1193.2 730.6,1211.7 800.3,1217.3" fill="none" stroke="#e6e6e6" stroke-width="1.0" />
<polyline points="524.4,1194.8 593.5,1178.8 663.3,1202.9 730.6,1211.4 800.3,1221.7" fill="none" stroke="#e6e6e6" stroke-width="1.0" />
<polyline points="524.4,1132.9 593.5,1128.4 663.3,1107.9 730.6,1104.8 800.3,1102" fill="none" stroke="#e6e6e6" stroke-width="1.0" />
<polyline points="524.4,1156 593.5,1142.6 663.3,1120.2 730.6,1117.2 800.3,1150.3" fill="none" stroke="#e6e6e6" stroke-width="1.0" />
<polyline points="524.4,1165.3 593.5,1156.4 663.3,1174 730.6,1151.9 800.3,1178.3" fill="none" stroke="#e6e6e6" stroke-width="1.0" />
<polyline points="524.4,1133.9 593.5,1123 663.3,1103.8 730.6,1098.4 800.3,1100.9" fill="none" stroke="#e6e6e6" stroke-width="1.0" />
<polyline points="524.4,1183 593.5,1159 663.3,1199.5 730.6,1186.3 800.3,1179.8" fill="none" stroke="#e6e6e6" stroke-width="1.0" />
<polyline points="524.4,1170.1 593.5,1148.9 663.3,1139.9 730.6,1180.5 800.3,1154.7" fill="none" stroke="#e6e6e6" stroke-width="1.0" />
<polyline points="524.4,1186.5 593.5,1170.8 663.3,1191.5 730.6,1208.2 800.3,1221.7" fill="none" stroke="#e6e6e6" stroke-width="1.0" />
<polyline points="524.4,1175.2 593.5,1171.6 663.3,1150.2 730.6,1180.3 800.3,1183.1" fill="none" stroke="#e6e6e6" stroke-width="1.0" />
<polyline points="663.3,1207.4 730.6,1214.7 800.3,1222.7" fill="none" stroke="#e6e6e6" stroke-width="1.2" />
<polygon points="800.3,1058.1 940.4,951 940.4,953 800.3,1219.7" fill="#eeeeee" />
<polyline points="800.3,1204 940.4,951.8" fill="none" stroke="#e6e6e6" stroke-width="1.0" />
<polyline points="800.3,1161.8 940.4,951.9" fill="none" stroke="#e6e6e6" stroke-width="1.0" />
<polyline points="800.3,1058.1 940.4,951.3" fill="none" stroke="#e6e6e6" stroke-width="1.0" />
<polyline points="800.3,1152.1 940.4,952.4" fill="none" stroke="#e6e6e6" stroke-width="1.0" />
<polyline points="800.3,1186.9 940.4,953" fill="none" stroke="#e6e6e6" stroke-width="1.0" />
<polyline points="800.3,1111.2 940.4,951.2" fill="none" stroke="#e6e6e6" stroke-width="1.0" />
<polyline points="800.3,1218.5 940.4,952" fill="none" stroke="#e6e6e6" stroke-width="1.0" />
<polyline points="800.3,1122.8 940.4,951.4" fill="none" stroke="#e6e6e6" stroke-width="1.0" />
<polyline points="800.3,1058.1 940.4,951" fill="none" stroke="#e6e6e6" stroke-width="1.0" />
<polyline points="800.3,1095.2 940.4,951.2" fill="none" stroke="#e6e6e6" stroke-width="1.0" />
<polygon points="800.3,1056.1 940.4,1040.9 940.4,1042.9 800.3,1144.9" fill="#eeeeee" />
<polyline points="800.3,1074.2 940.4,1042.7" fill="none" stroke="#e6e6e6" stroke-width="1.2" />
<polyline points="800.3,1119.1 940.4,1042.3" fill="none" stroke="#e6e6e6" stroke-width="1.2" />
<polyline points="800.3,1140.7 940.4,1042.5" fill="none" stroke="#e6e6e6" stroke-width="1.2" />
<polyline points="800.3,1108.3 940.4,1041.6" fill="none" stroke="#e6e6e6" stroke-width="1.2" />
<polyline points="800.3,1129.6 940.4,1042.4" fill="none" stroke="#e6e6e6" stroke-width="1.2" />
<polyline points="800.3,1094 940.4,1041.1" fill="none" stroke="#e6e6e6" stroke-width="1.2" />
<polygon points="800.3,1074 940.4,1130.7 940.4,1132.7 800.3,1221.7" fill="#eeeeee" />
<polyline points="800.3,1208.9 940.4,1131.9" fill="none" stroke="#e6e6e6" stroke-width="1.2" />
<polyline points="800.3,1078 940.4,1130.7" fill="none" stroke="#e6e6e6" stroke-width="1.2" />
<polyline points="800.3,1083.6 940.4,1131.3" fill="none" stroke="#e6e6e6" stroke-width="1.2" />
<polyline points="800.3,1135.8 940.4,1132.5" fill="none" stroke="#e6e6e6" stroke-width="1.2" />
<polyline points="800.3,1221.7 940.4,1132.7" fill="none" stroke="#e6e6e6" stroke-width="1.2" />
<polyline points="800.3,1152.1 940.4,1131.5" fill="none" stroke="#e6e6e6" stroke-width="1.2" />
<polyline points="800.3,1074 940.4,1131.7" fill="none" stroke="#e6e6e6" stroke-width="1.2" />
<polyline points="800.3,1084.5 940.4,1131.1" fill="none" stroke="#e6e6e6" stroke-width="1.2" />
<polygon points="800.3,1075 940.4,1219.6 940.4,1222.6 800.3,1090" fill="#eeeeee" />
<polyline points="800.3,1076.1 940.4,1219.6" fill="none" stroke="#e6e6e6" stroke-width="1.2" />
<polyline points="800.3,1077.5 940.4,1220.9" fill="none" stroke="#e6e6e6" stroke-width="1.2" />
<polyline points="800.3,1085 940.4,1222" fill="none" stroke="#e6e6e6" stroke-width="1.2" />
<polyline points="800.3,1057 940.4,952" fill="none" stroke="#e6e6e6" stroke-width="1.1" />
<polyline points="800.3,1061.9 940.4,952" fill="none" stroke="#e6e6e6" stroke-width="1.1" />
<polyline points="800.3,1059.8 940.4,952" fill="none" stroke="#e6e6e6" stroke-width="1.1" />
<polyline points="800.3,1057.3 940.4,952" fill="none" stroke="#e6e6e6" stroke-width="1.1" />
<polyline points="800.3,1061.5 940.4,952" fill="none" stroke="#e6e6e6" stroke-width="1.1" />
<polyline points="800.3,1060.2 940.4,952" fill="none" stroke="#e6e6e6" stroke-width="1.1" />
<polyline points="800.3,1057.5 940.4,952" fill="none" stroke="#e6e6e6" stroke-width="1.1" />
<polyline points="800.3,1058.9 940.4,952" fill="none" stroke="#e6e6e6" stroke-width="1.1" />
<polyline points="800.3,1061.6 940.4,952" fill="none" stroke="#e6e6e6" stroke-width="1.1" />
<polyline points="800.3,1059.2 940.4,952" fill="none" stroke="#e6e6e6" stroke-width="1.1" />
<polyline points="800.3,1062.1 940.4,1041.9" fill="none" stroke="#e6e6e6" stroke-width="1.2" />
<polyline points="800.3,1057.1 940.4,1040.9" fill="none" stroke="#e6e6e6" stroke-width="1.2" />
<polyline points="800.3,1068 940.4,952" fill="none" stroke="#e6e6e6" stroke-width="1.2" />
<polyline points="800.3,1189.8 940.4,1132.7" fill="none" stroke="#e6e6e6" stroke-width="1.2" />
<polyline points="800.3,1194.8 940.4,954" fill="none" stroke="#e6e6e6" stroke-width="1.2" />
<polyline points="800.3,1204.7 940.4,1131.7" fill="none" stroke="#e6e6e6" stroke-width="1.2" />
<polyline points="109.3,1087.2 248.5,1086.5" fill="none" stroke="#eaa842" stroke-width="1.2" />
<polyline points="109.3,1088.2 248.5,1089" fill="none" stroke="#44948c" stroke-width="1.2" />
<polyline points="109.3,1087 248.5,1085.8" fill="none" stroke="#ece144" stroke-width="1.2" />
<polyline points="109.3,1085.8 248.5,1087" fill="none" stroke="#e8703a" stroke-width="1.2" />
<polyline points="109.3,1086 248.5,1088.9" fill="none" stroke="#e8703a" stroke-width="1.2" />
<polyline points="109.3,1086.6 248.5,1085.1" fill="none" stroke="#e8703a" stroke-width="1.2" />
<polyline points="114.3,1065.3 248.5,1078" fill="none" stroke="#e8703a" stroke-width="1.4" />
<polyline points="114.3,1066.5 248.5,1079" fill="none" stroke="#e02b26" stroke-width="1.2" />
<polyline points="114.3,1065.3 248.5,1086" fill="none" stroke="#e8703a" stroke-width="1.4" />
<polyline points="114.3,1066.5 248.5,1087" fill="none" stroke="#e02b26" stroke-width="1.2" />
<polyline points="248.5,1084 376,1074 386.9,1071" fill="none" stroke="#44948c" stroke-width="1.5" />
<polyline points="248.5,1085 376,1075 386.9,1073" fill="none" stroke="#44948c" stroke-width="1.5" />
<polyline points="248.5,1086 386.9,1102.3" fill="none" stroke="#e02b26" stroke-width="1.3" />
<polyline points="248.5,1081.1 386.9,1092.8" fill="none" stroke="#e8703a" stroke-width="1.3" />
<polyline points="248.5,1080 386.9,1090" fill="none" stroke="#e02b26" stroke-width="1.3" />
<polyline points="248.5,1084.3 386.9,1091.1" fill="none" stroke="#eaa842" stroke-width="1.3" />
<polyline points="248.5,1081.7 386.9,1092" fill="none" stroke="#e8703a" stroke-width="1.3" />
<polyline points="248.5,1082.9 386.9,1102.6" fill="none" stroke="#e02b26" stroke-width="1.3" />
<polyline points="248.5,1078 386.9,1094.2" fill="none" stroke="#eaa842" stroke-width="1.3" />
<polyline points="248.5,1081.5 386.9,1095.3" fill="none" stroke="#e8703a" stroke-width="1.3" />
<polyline points="248.5,1079.6 386.9,1097.7" fill="none" stroke="#eaa842" stroke-width="1.3" />
<polyline points="248.5,1080 386.9,1095" fill="none" stroke="#eaa842" stroke-width="1.3" />
<polyline points="248.5,1084 386.9,1087.4" fill="none" stroke="#ece144" stroke-width="1.3" />
<polyline points="248.5,1085.1 386.9,1087" fill="none" stroke="#eaa842" stroke-width="1.3" />
<polyline points="248.5,1084.9 386.9,1086.3" fill="none" stroke="#eaa842" stroke-width="1.3" />
<polyline points="248.5,1085 386.9,1086.2" fill="none" stroke="#ece144" stroke-width="1.3" />
<polyline points="248.5,1084 386.9,1084.5" fill="none" stroke="#ece144" stroke-width="1.3" />
<polyline points="248.5,1084.8 386.9,1086.2" fill="none" stroke="#eaa842" stroke-width="1.3" />
<polyline points="248.5,1085.8 386.9,1084.7" fill="none" stroke="#ece144" stroke-width="1.3" />
<polyline points="248.5,1085.8 386.9,1087.3" fill="none" stroke="#ece144" stroke-width="1.3" />
<polyline points="386.9,1074.2 524.4,1024" fill="none" stroke="#3474b0" stroke-width="1.3" />
<polyline points="386.9,1073.6 524.4,1013.4" fill="none" stroke="#3474b0" stroke-width="1.3" />
<polyline points="386.9,1078 524.4,1021.1" fill="none" stroke="#3474b0" stroke-width="1.3" />
<polyline points="386.9,1072.8 524.4,1016.1" fill="none" stroke="#3474b0" stroke-width="1.3" />
<polyline points="386.9,1076.3 524.4,1016.8" fill="none" stroke="#3474b0" stroke-width="1.3" />
<polyline points="386.9,1074.4 524.4,1014.6" fill="none" stroke="#3474b0" stroke-width="1.3" />
<polyline points="386.9,1076.7 524.4,1015.4" fill="none" stroke="#3474b0" stroke-width="1.3" />
<polyline points="386.9,1075.8 524.4,1018.1" fill="none" stroke="#3474b0" stroke-width="1.3" />
<polyline points="386.9,1074.2 524.4,1041.7" fill="none" stroke="#44948c" stroke-width="1.3" />
<polyline points="386.9,1086 524.4,1044.9" fill="none" stroke="#62aa9e" stroke-width="1.3" />
<polyline points="386.9,1085.1 524.4,1039.3" fill="none" stroke="#44948c" stroke-width="1.3" />
<polyline points="386.9,1078.1 524.4,1033" fill="none" stroke="#62aa9e" stroke-width="1.3" />
<polyline points="386.9,1080.9 524.4,1051.9" fill="none" stroke="#44948c" stroke-width="1.3" />
<polyline points="386.9,1077.2 524.4,1036.3" fill="none" stroke="#44948c" stroke-width="1.3" />
<polyline points="386.9,1083.2 524.4,1046.4" fill="none" stroke="#44948c" stroke-width="1.3" />
<polyline points="386.9,1082.5 524.4,1046" fill="none" stroke="#44948c" stroke-width="1.3" />
<polyline points="386.9,1081.2 524.4,1052" fill="none" stroke="#eaa842" stroke-width="1.3" />
<polyline points="386.9,1091.4 524.4,1066.3" fill="none" stroke="#eaa842" stroke-width="1.3" />
<polyline points="386.9,1086.8 524.4,1074.6" fill="none" stroke="#eaa842" stroke-width="1.3" />
<polyline points="386.9,1081.6 524.4,1054.4" fill="none" stroke="#eaa842" stroke-width="1.3" />
<polyline points="386.9,1080 524.4,1060.2" fill="none" stroke="#eaa842" stroke-width="1.3" />
<polyline points="386.9,1089.7 524.4,1066.1" fill="none" stroke="#eaa842" stroke-width="1.3" />
<polyline points="386.9,1082.4 524.4,1056.9" fill="none" stroke="#eaa842" stroke-width="1.3" />
<polyline points="386.9,1092 524.4,1077" fill="none" stroke="#ece144" stroke-width="1.3" />
<polyline points="386.9,1081.3 524.4,1052" fill="none" stroke="#ece144" stroke-width="1.3" />
<polyline points="386.9,1092 524.4,1074.3" fill="none" stroke="#eaa842" stroke-width="1.3" />
<polyline points="386.9,1086 524.4,1066.6" fill="none" stroke="#ece144" stroke-width="1.3" />
<polyline points="386.9,1081.6 524.4,1055.6" fill="none" stroke="#eaa842" stroke-width="1.3" />
<polyline points="386.9,1092 524.4,1077" fill="none" stroke="#eaa842" stroke-width="1.3" />
<polyline points="386.9,1087.5 524.4,1069" fill="none" stroke="#ece144" stroke-width="1.3" />
<polyline points="386.9,1088.1 524.4,1063.9" fill="none" stroke="#eaa842" stroke-width="1.3" />
<polyline points="386.9,1090.1 524.4,1069" fill="none" stroke="#ece144" stroke-width="1.3" />
<polyline points="386.9,1096.4 524.4,1098 663.3,1086" fill="none" stroke="#e8703a" stroke-width="1.4" />
<polyline points="386.9,1098.6 524.4,1100 663.3,1086" fill="none" stroke="#e8703a" stroke-width="1.4" />
<polyline points="386.9,1092.3 524.4,1111.5 663.3,1086" fill="none" stroke="#e8703a" stroke-width="1.4" />
<polyline points="386.9,1093.8 524.4,1143.7 663.3,1086" fill="none" stroke="#e02b26" stroke-width="1.4" />
<polyline points="386.9,1101.9 524.4,1174.6 663.3,1086" fill="none" stroke="#e02b26" stroke-width="1.4" />
<polyline points="524.4,1042 663.3,1055.6" fill="none" stroke="#44948c" stroke-width="1.6" />
<polyline points="524.4,1013 663.3,1049.6" fill="none" stroke="#62aa9e" stroke-width="1.6" />
<polyline points="524.4,1029.5 663.3,1051.1" fill="none" stroke="#62aa9e" stroke-width="1.6" />
<polyline points="524.4,1013 663.3,1049.1" fill="none" stroke="#3474b0" stroke-width="1.6" />
<polyline points="524.4,1018.9 663.3,1049.1" fill="none" stroke="#3474b0" stroke-width="1.6" />
<polyline points="524.4,1019.4 663.3,1054.2" fill="none" stroke="#3474b0" stroke-width="1.6" />
<polyline points="524.4,1021.4 663.3,1049.9" fill="none" stroke="#62aa9e" stroke-width="1.6" />
<polyline points="524.4,1021.8 663.3,1049" fill="none" stroke="#3474b0" stroke-width="1.6" />
<polyline points="524.4,1052 663.3,1053.8" fill="none" stroke="#3474b0" stroke-width="1.6" />
<polyline points="524.4,1013 663.3,1052.4" fill="none" stroke="#3474b0" stroke-width="1.6" />
<polyline points="524.4,1042.6 663.3,1049.3" fill="none" stroke="#3474b0" stroke-width="1.6" />
<polyline points="524.4,1036.3 663.3,1053.4" fill="none" stroke="#44948c" stroke-width="1.6" />
<polyline points="524.4,1025 663.3,1051.7" fill="none" stroke="#62aa9e" stroke-width="1.6" />
<polyline points="524.4,1018.4 663.3,1051.6" fill="none" stroke="#62aa9e" stroke-width="1.6" />
<polyline points="524.4,1018.1 663.3,1053.2" fill="none" stroke="#3474b0" stroke-width="1.6" />
<polyline points="524.4,1052 663.3,1052.3" fill="none" stroke="#44948c" stroke-width="1.6" />
<polygon points="663.3,1050 730,1055 800.3,1054 800.3,1059 730,1060 663.3,1057" fill="#44948c" />
<polyline points="663.3,1057 730,1057.1 800.3,1058.3" fill="none" stroke="#44948c" stroke-width="1.4" />
<polyline points="663.3,1056.9 730,1057.1 800.3,1057.1" fill="none" stroke="#3474b0" stroke-width="1.4" />
<polyline points="663.3,1055.3 730,1058.9 800.3,1058.5" fill="none" stroke="#3474b0" stroke-width="1.4" />
<polyline points="663.3,1053.5 730,1056.7 800.3,1056.9" fill="none" stroke="#44948c" stroke-width="1.4" />
<polyline points="663.3,1051.1 730,1055.6 800.3,1056.4" fill="none" stroke="#3474b0" stroke-width="1.4" />
<polyline points="663.3,1055.8 730,1060 800.3,1059" fill="none" stroke="#44948c" stroke-width="1.4" />
<polygon points="524.4,1050 600,1052 663.3,1052 730,1059 800.3,1059 800.3,1071 730,1072 663.3,1072 600,1074 524.4,1077" fill="#ece144" />
<polyline points="524.4,1066.2 600,1061.5 663.3,1062.9 730,1063.3 800.3,1065" fill="none" stroke="#eaa842" stroke-width="1.4" />
<polyline points="524.4,1074.9 600,1068.9 663.3,1067.4 730,1070.6 800.3,1069.9" fill="none" stroke="#ece144" stroke-width="1.4" />
<polyline points="524.4,1059.2 600,1062.8 663.3,1060.2 730,1063.6 800.3,1063.6" fill="none" stroke="#ece144" stroke-width="1.4" />
<polyline points="524.4,1072.5 600,1072.2 663.3,1070.1 730,1069.3 800.3,1071" fill="none" stroke="#eaa842" stroke-width="1.4" />
<polyline points="524.4,1067.8 600,1069.8 663.3,1062 730,1066.9 800.3,1065" fill="none" stroke="#ece144" stroke-width="1.4" />
<polyline points="524.4,1062.8 600,1060.5 663.3,1059.7 730,1062.8 800.3,1062.8" fill="none" stroke="#ece144" stroke-width="1.4" />
<polyline points="524.4,1052.2 600,1054 663.3,1054.9 730,1061.8 800.3,1062" fill="none" stroke="#ece144" stroke-width="1.4" />
<polyline points="524.4,1074.8 600,1070 663.3,1066.9 730,1069.2 800.3,1069.1" fill="none" stroke="#eaa842" stroke-width="1.4" />
<polyline points="524.4,1064.6 600,1063.9 663.3,1061.6 730,1064.8 800.3,1065.4" fill="none" stroke="#eaa842" stroke-width="1.4" />
<polyline points="524.4,1056.2 600,1059.9 663.3,1059 730,1062.7 800.3,1063.6" fill="none" stroke="#eaa842" stroke-width="1.4" />
<polyline points="524.4,1056.4 600,1055.5 663.3,1055.9 730,1064.4 800.3,1062.4" fill="none" stroke="#eaa842" stroke-width="1.4" />
<polyline points="524.4,1057.8 600,1055.4 663.3,1058.1 730,1062.5 800.3,1061.6" fill="none" stroke="#ece144" stroke-width="1.4" />
<polyline points="524.4,1056.1 600,1053.8 663.3,1054.2 730,1062 800.3,1060.9" fill="none" stroke="#ece144" stroke-width="1.4" />
<polyline points="524.4,1076.7 600,1069.9 663.3,1072 730,1070.7 800.3,1069.8" fill="none" stroke="#ece144" stroke-width="1.4" />
<polygon points="524.4,1072 600,1068 663.3,1068 730,1070 800.3,1070 800.3,1081 730,1082 663.3,1084 600,1086 524.4,1098" fill="#e8703a" />
<polyline points="524.4,1076.9 600,1068.7 663.3,1068.4 730,1070 800.3,1070.9" fill="none" stroke="#e02b26" stroke-width="1.2" />
<polyline points="524.4,1085.9 600,1075.4 663.3,1073.6 730,1076.9 800.3,1076.1" fill="none" stroke="#e8703a" stroke-width="1.2" />
<polyline points="524.4,1083.5 600,1075.5 663.3,1073.1 730,1075.3 800.3,1073.4" fill="none" stroke="#eaa842" stroke-width="1.2" />
<polyline points="524.4,1085.7 600,1078.3 663.3,1077.8 730,1075.6 800.3,1076.2" fill="none" stroke="#eaa842" stroke-width="1.2" />
<polyline points="524.4,1084.2 600,1078.2 663.3,1078.2 730,1076.8 800.3,1079.1" fill="none" stroke="#eaa842" stroke-width="1.2" />
<polyline points="524.4,1081.7 600,1071.5 663.3,1070.6 730,1072 800.3,1072.5" fill="none" stroke="#e02b26" stroke-width="1.2" />
<polyline points="524.4,1083.6 600,1074.9 663.3,1075.8 730,1075.7 800.3,1073.7" fill="none" stroke="#eaa842" stroke-width="1.2" />
<polyline points="524.4,1095.6 600,1083.3 663.3,1082.1 730,1079.1 800.3,1078.7" fill="none" stroke="#e02b26" stroke-width="1.2" />
<polyline points="524.4,1084.7 600,1076.9 663.3,1076.5 730,1074.5 800.3,1073.9" fill="none" stroke="#eaa842" stroke-width="1.2" />
<polyline points="524.4,1089 600,1082.6 663.3,1081.3 730,1078 800.3,1079.5" fill="none" stroke="#e02b26" stroke-width="1.2" />
<polyline points="524.4,1073.9 600,1068 663.3,1070.4 730,1072.3 800.3,1072.2" fill="none" stroke="#e02b26" stroke-width="1.2" />
<polyline points="524.4,1081.7 600,1071.1 663.3,1074 730,1071.6 800.3,1071.4" fill="none" stroke="#eaa842" stroke-width="1.2" />
<polygon points="524.4,1090 600,1080 663.3,1080 730,1079 800.3,1080 800.3,1087 730,1087 663.3,1087 600,1088 524.4,1100" fill="#e02b26" />
<polyline points="524.4,1092 600,1084.6 663.3,1082.3 730,1079 800.3,1085.4" fill="none" stroke="#e02b26" stroke-width="1.2" />
<polyline points="524.4,1099.2 600,1086.9 663.3,1087 730,1085.2 800.3,1087" fill="none" stroke="#e8703a" stroke-width="1.2" />
<polyline points="524.4,1097.4 600,1088 663.3,1087 730,1085.9 800.3,1085.5" fill="none" stroke="#e02b26" stroke-width="1.2" />
<polyline points="524.4,1096.2 600,1080.8 663.3,1080 730,1081.7 800.3,1084.2" fill="none" stroke="#e8703a" stroke-width="1.2" />
<polyline points="524.4,1100 600,1086.1 663.3,1085.5 730,1084.2 800.3,1084" fill="none" stroke="#e02b26" stroke-width="1.2" />
<polyline points="524.4,1090 600,1080 663.3,1080 730,1082.5 800.3,1081.4" fill="none" stroke="#e8703a" stroke-width="1.2" />
<polygon points="800.3,1054 940.4,951 940.4,952 800.3,1059" fill="#44948c" />
<polyline points="800.3,1057.5 940.4,951.9" fill="none" stroke="#44948c" stroke-width="1.3" />
<polyline points="800.3,1057.8 940.4,951.8" fill="none" stroke="#44948c" stroke-width="1.3" />
<polyline points="800.3,1057.9 940.4,951.8" fill="none" stroke="#44948c" stroke-width="1.3" />
<polygon points="800.3,1059 940.4,951.5 940.4,952.5 800.3,1071" fill="#ece144" />
<polyline points="800.3,1060.7 940.4,951.6" fill="none" stroke="#ece144" stroke-width="1.3" />
<polyline points="800.3,1068.2 940.4,952.5" fill="none" stroke="#ece144" stroke-width="1.3" />
<polyline points="800.3,1067.2 940.4,952.3" fill="none" stroke="#ece144" stroke-width="1.3" />
<polygon points="800.3,1070 940.4,952 940.4,953 800.3,1081" fill="#e8703a" />
<polyline points="800.3,1072.5 940.4,952.4" fill="none" stroke="#e8703a" stroke-width="1.3" />
<polyline points="800.3,1077 940.4,952.3" fill="none" stroke="#e8703a" stroke-width="1.3" />
<polyline points="800.3,1077 940.4,952.6" fill="none" stroke="#e8703a" stroke-width="1.3" />
<polygon points="800.3,1080 940.4,952.5 940.4,953.5 800.3,1087" fill="#e02b26" />
<polyline points="800.3,1082.8 940.4,952.7" fill="none" stroke="#e02b26" stroke-width="1.3" />
<polyline points="800.3,1081.5 940.4,952.5" fill="none" stroke="#e02b26" stroke-width="1.3" />
<polyline points="800.3,1084.4 940.4,953.2" fill="none" stroke="#e02b26" stroke-width="1.3" />
<polygon points="800.3,1054 940.4,1040.9 940.4,1041.9 800.3,1059" fill="#44948c" />
<polyline points="800.3,1056.9 940.4,1041.1" fill="none" stroke="#3474b0" stroke-width="1.3" />
<polyline points="800.3,1056.4 940.4,1041.1" fill="none" stroke="#3474b0" stroke-width="1.3" />
<polyline points="800.3,1057.6 940.4,1041.8" fill="none" stroke="#44948c" stroke-width="1.3" />
<polygon points="800.3,1059 940.4,1041.4 940.4,1042.4 800.3,1071" fill="#ece144" />
<polyline points="800.3,1063.8 940.4,1041.6" fill="none" stroke="#ece144" stroke-width="1.3" />
<polyline points="800.3,1064.9 940.4,1042.2" fill="none" stroke="#ece144" stroke-width="1.3" />
<polyline points="800.3,1071 940.4,1042" fill="none" stroke="#ece144" stroke-width="1.3" />
<polygon points="800.3,1070 940.4,1041.9 940.4,1042.9 800.3,1081" fill="#e8703a" />
<polyline points="800.3,1074.6 940.4,1042.6" fill="none" stroke="#e8703a" stroke-width="1.3" />
<polyline points="800.3,1070 940.4,1042.3" fill="none" stroke="#e8703a" stroke-width="1.3" />
<polyline points="800.3,1077.6 940.4,1042.3" fill="none" stroke="#e8703a" stroke-width="1.3" />
<polygon points="800.3,1080 940.4,1042.4 940.4,1043.4 800.3,1087" fill="#e02b26" />
<polyline points="800.3,1080 940.4,1042.4" fill="none" stroke="#e02b26" stroke-width="1.3" />
<polyline points="800.3,1080 940.4,1042.6" fill="none" stroke="#e02b26" stroke-width="1.3" />
<polyline points="800.3,1085.4 940.4,1043.4" fill="none" stroke="#e02b26" stroke-width="1.3" />
<rect x="247" y="1049.7" width="6" height="36.3" fill="#f25af2" />
<rect x="657" y="942.8" width="6" height="137" fill="#f25af2" />
<rect x="794" y="947.6" width="6" height="138.4" fill="#f25af2" />
<text x="100.3" y="955.2" font-size="19" text-anchor="end" fill="#555555" >3000</text>
<text x="100.3" y="1022.4" font-size="19" text-anchor="end" fill="#555555" >1500</text>
<text x="101.3" y="1094.5" font-size="22" text-anchor="end" fill="#111" >0</text>
<text x="100.3" y="1155" font-size="19" text-anchor="end" fill="#555555" >-1500</text>
<text x="100.3" y="1220.6" font-size="19" text-anchor="end" fill="#555555" >-3000</text>
<text x="239.5" y="970.1" font-size="19" text-anchor="end" fill="#555555" >40M</text>
<text x="239.5" y="1029.8" font-size="19" text-anchor="end" fill="#555555" >20M</text>
<text x="240.5" y="1094.5" font-size="22" text-anchor="end" fill="#111" >0</text>
<text x="239.5" y="1147.8" font-size="19" text-anchor="end" fill="#555555" >-20M</text>
<text x="239.5" y="1206" font-size="19" text-anchor="end" fill="#555555" >-40M</text>
<text x="377.9" y="946.2" font-size="19" text-anchor="end" fill="#555555" >12M</text>
<text x="377.9" y="1013.4" font-size="19" text-anchor="end" fill="#555555" >6M</text>
<text x="378.9" y="1094.5" font-size="22" text-anchor="end" fill="#111" >0</text>
<text x="377.9" y="1155" font-size="19" text-anchor="end" fill="#555555" >-6M</text>
<text x="377.9" y="1220.6" font-size="19" text-anchor="end" fill="#555555" >-12M</text>
<text x="515.4" y="955.2" font-size="19" text-anchor="end" fill="#555555" >12</text>
<text x="515.4" y="1022.4" font-size="19" text-anchor="end" fill="#555555" >6</text>
<text x="516.4" y="1094.5" font-size="22" text-anchor="end" fill="#111" >0</text>
<text x="515.4" y="1155" font-size="19" text-anchor="end" fill="#555555" >-6</text>
<text x="515.4" y="1220.6" font-size="19" text-anchor="end" fill="#555555" >-12</text>
<text x="654.3" y="970.1" font-size="19" text-anchor="end" fill="#555555" >80</text>
<text x="654.3" y="1029.8" font-size="19" text-anchor="end" fill="#555555" >40</text>
<text x="655.3" y="1094.5" font-size="22" text-anchor="end" fill="#111" >0</text>
<text x="654.3" y="1147.8" font-size="19" text-anchor="end" fill="#555555" >-40</text>
<text x="654.3" y="1206" font-size="19" text-anchor="end" fill="#555555" >-80</text>
<text x="791.3" y="955.2" font-size="19" text-anchor="end" fill="#555555" >50</text>
<text x="791.3" y="1022.4" font-size="19" text-anchor="end" fill="#555555" >25</text>
<text x="792.3" y="1094.5" font-size="22" text-anchor="end" fill="#111" >0</text>
<text x="791.3" y="1155" font-size="19" text-anchor="end" fill="#555555" >-25</text>
<text x="791.3" y="1220.6" font-size="19" text-anchor="end" fill="#555555" >-50</text>
<line x1="940.4" y1="945" x2="940.4" y2="1221.6" stroke="#b4b4b4" stroke-width="1.3" />
<line x1="1079" y1="945" x2="1079" y2="1221.6" stroke="#b4b4b4" stroke-width="1.3" />
<line x1="1216" y1="945" x2="1216" y2="1221.6" stroke="#b4b4b4" stroke-width="1.3" />
<line x1="1354.8" y1="945" x2="1354.8" y2="1221.6" stroke="#b4b4b4" stroke-width="1.3" />
<line x1="933.4" y1="952" x2="940.4" y2="952" stroke="#b4b4b4" stroke-width="1.2" />
<line x1="933.4" y1="1041.9" x2="940.4" y2="1041.9" stroke="#b4b4b4" stroke-width="1.2" />
<line x1="933.4" y1="1131.7" x2="940.4" y2="1131.7" stroke="#b4b4b4" stroke-width="1.2" />
<line x1="933.4" y1="1221.6" x2="940.4" y2="1221.6" stroke="#b4b4b4" stroke-width="1.2" />
<line x1="1072" y1="952" x2="1079" y2="952" stroke="#b4b4b4" stroke-width="1.2" />
<line x1="1072" y1="1019.4" x2="1079" y2="1019.4" stroke="#b4b4b4" stroke-width="1.2" />
<line x1="1072" y1="1086.8" x2="1079" y2="1086.8" stroke="#b4b4b4" stroke-width="1.2" />
<line x1="1072" y1="1154.2" x2="1079" y2="1154.2" stroke="#b4b4b4" stroke-width="1.2" />
<line x1="1072" y1="1221.6" x2="1079" y2="1221.6" stroke="#b4b4b4" stroke-width="1.2" />
<line x1="1209" y1="952" x2="1216" y2="952" stroke="#b4b4b4" stroke-width="1.2" />
<line x1="1209" y1="1005.9" x2="1216" y2="1005.9" stroke="#b4b4b4" stroke-width="1.2" />
<line x1="1209" y1="1059.8" x2="1216" y2="1059.8" stroke="#b4b4b4" stroke-width="1.2" />
<line x1="1209" y1="1113.8" x2="1216" y2="1113.8" stroke="#b4b4b4" stroke-width="1.2" />
<line x1="1209" y1="1167.7" x2="1216" y2="1167.7" stroke="#b4b4b4" stroke-width="1.2" />
<line x1="1209" y1="1221.6" x2="1216" y2="1221.6" stroke="#b4b4b4" stroke-width="1.2" />
<line x1="1347.8" y1="952" x2="1354.8" y2="952" stroke="#b4b4b4" stroke-width="1.2" />
<line x1="1347.8" y1="1019.4" x2="1354.8" y2="1019.4" stroke="#b4b4b4" stroke-width="1.2" />
<line x1="1347.8" y1="1086.8" x2="1354.8" y2="1086.8" stroke="#b4b4b4" stroke-width="1.2" />
<line x1="1347.8" y1="1154.2" x2="1354.8" y2="1154.2" stroke="#b4b4b4" stroke-width="1.2" />
<line x1="1347.8" y1="1221.6" x2="1354.8" y2="1221.6" stroke="#b4b4b4" stroke-width="1.2" />
<line x1="940.4" y1="952" x2="1079" y2="1019.4" stroke="#ebebeb" stroke-width="1.0" />
<line x1="940.4" y1="952" x2="1079" y2="1086.8" stroke="#ebebeb" stroke-width="1.0" />
<line x1="940.4" y1="1041.9" x2="1079" y2="952" stroke="#ebebeb" stroke-width="1.0" />
<line x1="940.4" y1="1041.9" x2="1079" y2="1019.4" stroke="#ebebeb" stroke-width="1.0" />
<line x1="940.4" y1="1041.9" x2="1079" y2="1086.8" stroke="#ebebeb" stroke-width="1.0" />
<line x1="940.4" y1="1041.9" x2="1079" y2="1221.6" stroke="#ebebeb" stroke-width="1.0" />
<line x1="940.4" y1="1131.7" x2="1079" y2="952" stroke="#ebebeb" stroke-width="1.0" />
<line x1="940.4" y1="1131.7" x2="1079" y2="1019.4" stroke="#ebebeb" stroke-width="1.0" />
<line x1="940.4" y1="1131.7" x2="1079" y2="1086.8" stroke="#ebebeb" stroke-width="1.0" />
<line x1="940.4" y1="1131.7" x2="1079" y2="1154.2" stroke="#ebebeb" stroke-width="1.0" />
<line x1="940.4" y1="1131.7" x2="1079" y2="1221.6" stroke="#ebebeb" stroke-width="1.0" />
<line x1="1079" y1="952" x2="1216" y2="1167.7" stroke="#ebebeb" stroke-width="1.0" />
<line x1="1079" y1="952" x2="1216" y2="1221.6" stroke="#ebebeb" stroke-width="1.0" />
<line x1="1079" y1="1019.4" x2="1216" y2="952" stroke="#ebebeb" stroke-width="1.0" />
<line x1="1079" y1="1019.4" x2="1216" y2="1005.9" stroke="#ebebeb" stroke-width="1.0" />
<line x1="1079" y1="1019.4" x2="1216" y2="1059.8" stroke="#ebebeb" stroke-width="1.0" />
<line x1="1079" y1="1019.4" x2="1216" y2="1113.8" stroke="#ebebeb" stroke-width="1.0" />
<line x1="1079" y1="1019.4" x2="1216" y2="1167.7" stroke="#ebebeb" stroke-width="1.0" />
<line x1="1079" y1="1019.4" x2="1216" y2="1221.6" stroke="#ebebeb" stroke-width="1.0" />
<line x1="1079" y1="1086.8" x2="1216" y2="952" stroke="#ebebeb" stroke-width="1.0" />
<line x1="1079" y1="1086.8" x2="1216" y2="1005.9" stroke="#ebebeb" stroke-width="1.0" />
<line x1="1079" y1="1086.8" x2="1216" y2="1059.8" stroke="#ebebeb" stroke-width="1.0" />
<line x1="1079" y1="1086.8" x2="1216" y2="1113.8" stroke="#ebebeb" stroke-width="1.0" />
<line x1="1079" y1="1086.8" x2="1216" y2="1167.7" stroke="#ebebeb" stroke-width="1.0" />
<line x1="1079" y1="1086.8" x2="1216" y2="1221.6" stroke="#ebebeb" stroke-width="1.0" />
<line x1="1079" y1="1154.2" x2="1216" y2="1167.7" stroke="#ebebeb" stroke-width="1.0" />
<line x1="1079" y1="1154.2" x2="1216" y2="1221.6" stroke="#ebebeb" stroke-width="1.0" />
<line x1="1079" y1="1221.6" x2="1216" y2="1167.7" stroke="#ebebeb" stroke-width="1.0" />
<line x1="1079" y1="1221.6" x2="1216" y2="1221.6" stroke="#ebebeb" stroke-width="1.0" />
<line x1="1216" y1="1113.8" x2="1354.8" y2="1154.2" stroke="#ebebeb" stroke-width="1.0" />
<line x1="1216" y1="1113.8" x2="1354.8" y2="1221.6" stroke="#ebebeb" stroke-width="1.0" />
<line x1="1216" y1="1167.7" x2="1354.8" y2="952" stroke="#ebebeb" stroke-width="1.0" />
<line x1="1216" y1="1167.7" x2="1354.8" y2="1019.4" stroke="#ebebeb" stroke-width="1.0" />
<line x1="1216" y1="1167.7" x2="1354.8" y2="1086.8" stroke="#ebebeb" stroke-width="1.0" />
<line x1="1216" y1="1167.7" x2="1354.8" y2="1154.2" stroke="#ebebeb" stroke-width="1.0" />
<line x1="1216" y1="1167.7" x2="1354.8" y2="1221.6" stroke="#ebebeb" stroke-width="1.0" />
<line x1="1216" y1="1221.6" x2="1354.8" y2="952" stroke="#ebebeb" stroke-width="1.0" />
<line x1="1216" y1="1221.6" x2="1354.8" y2="1019.4" stroke="#ebebeb" stroke-width="1.0" />
<line x1="1216" y1="1221.6" x2="1354.8" y2="1086.8" stroke="#ebebeb" stroke-width="1.0" />
<line x1="1216" y1="1221.6" x2="1354.8" y2="1154.2" stroke="#ebebeb" stroke-width="1.0" />
<line x1="1216" y1="1221.6" x2="1354.8" y2="1221.6" stroke="#ebebeb" stroke-width="1.0" />
<line x1="940.4" y1="952" x2="1079" y2="952" stroke="#e6e050" stroke-width="1.15" />
<line x1="940.4" y1="952" x2="1079" y2="1154.2" stroke="#d84048" stroke-width="1.15" />
<line x1="940.4" y1="952" x2="1079" y2="1221.6" stroke="#e8803e" stroke-width="1.15" />
<line x1="940.4" y1="1041.9" x2="1079" y2="1154.2" stroke="#d84048" stroke-width="1.15" />
<line x1="1079" y1="952" x2="1216" y2="952" stroke="#e4e060" stroke-width="1.15" />
<line x1="1079" y1="1154.2" x2="1216" y2="952" stroke="#dc4a4a" stroke-width="1.15" />
<line x1="1079" y1="1221.6" x2="1216" y2="952" stroke="#e8803e" stroke-width="1.15" />
<line x1="1079" y1="952" x2="1216" y2="1005.9" stroke="#e4e060" stroke-width="1.15" />
<line x1="1079" y1="1154.2" x2="1216" y2="1005.9" stroke="#dc4a4a" stroke-width="1.15" />
<line x1="1079" y1="1221.6" x2="1216" y2="1005.9" stroke="#e8803e" stroke-width="1.15" />
<line x1="1079" y1="952" x2="1216" y2="1059.8" stroke="#e4e060" stroke-width="1.15" />
<line x1="1079" y1="1154.2" x2="1216" y2="1059.8" stroke="#dc4a4a" stroke-width="1.15" />
<line x1="1079" y1="1221.6" x2="1216" y2="1059.8" stroke="#e8803e" stroke-width="1.15" />
<line x1="1079" y1="952" x2="1216" y2="1113.8" stroke="#e4e060" stroke-width="1.15" />
<line x1="1079" y1="1154.2" x2="1216" y2="1113.8" stroke="#dc4a4a" stroke-width="1.15" />
<line x1="1079" y1="1221.6" x2="1216" y2="1113.8" stroke="#e8803e" stroke-width="1.15" />
<line x1="1216" y1="952" x2="1354.8" y2="952" stroke="#e8804a" stroke-width="1.15" />
<line x1="1216" y1="952" x2="1354.8" y2="1019.4" stroke="#e26050" stroke-width="1.15" />
<line x1="1216" y1="952" x2="1354.8" y2="1086.8" stroke="#e8804a" stroke-width="1.15" />
<line x1="1216" y1="952" x2="1354.8" y2="1154.2" stroke="#e26050" stroke-width="1.15" />
<line x1="1216" y1="952" x2="1354.8" y2="1221.6" stroke="#e8804a" stroke-width="1.15" />
<line x1="1216" y1="1005.9" x2="1354.8" y2="952" stroke="#e26050" stroke-width="1.15" />
<line x1="1216" y1="1005.9" x2="1354.8" y2="1019.4" stroke="#e8804a" stroke-width="1.15" />
<line x1="1216" y1="1005.9" x2="1354.8" y2="1086.8" stroke="#e26050" stroke-width="1.15" />
<line x1="1216" y1="1005.9" x2="1354.8" y2="1154.2" stroke="#e8804a" stroke-width="1.15" />
<line x1="1216" y1="1005.9" x2="1354.8" y2="1221.6" stroke="#e26050" stroke-width="1.15" />
<line x1="1216" y1="1059.8" x2="1354.8" y2="952" stroke="#e8804a" stroke-width="1.15" />
<line x1="1216" y1="1059.8" x2="1354.8" y2="1019.4" stroke="#e26050" stroke-width="1.15" />
<line x1="1216" y1="1059.8" x2="1354.8" y2="1086.8" stroke="#e8804a" stroke-width="1.15" />
<line x1="1216" y1="1059.8" x2="1354.8" y2="1154.2" stroke="#e26050" stroke-width="1.15" />
<line x1="1216" y1="1059.8" x2="1354.8" y2="1221.6" stroke="#e8804a" stroke-width="1.15" />
<line x1="1216" y1="1113.8" x2="1354.8" y2="952" stroke="#e8804a" stroke-width="1.15" />
<line x1="1216" y1="1113.8" x2="1354.8" y2="1019.4" stroke="#e8804a" stroke-width="1.15" />
<line x1="1216" y1="1113.8" x2="1354.8" y2="1086.8" stroke="#e8804a" stroke-width="1.15" />
<polyline points="109.3,1086.5 800.3,1086.5 940.4,1221.6 1079,1221.6 1216,1113.8 1354.8,952" fill="none" stroke="#2b2b2b" stroke-width="2" stroke-dasharray="6,4"/>
<text x="937.4" y="963" font-size="20" text-anchor="start" fill="#333" >S3</text>
<text x="937.4" y="1063.9" font-size="20" text-anchor="start" fill="#333" >S2</text>
<text x="937.4" y="1150.7" font-size="20" text-anchor="start" fill="#333" >S1</text>
<text x="936.4" y="1217.6" font-size="18" text-anchor="start" fill="#333" >Baseline</text>
<text x="1067" y="947" font-size="20" text-anchor="end" fill="#333" >e</text>
<text x="1067" y="1014.9" font-size="20" text-anchor="end" fill="#333" >d</text>
<text x="1067" y="1081.8" font-size="20" text-anchor="end" fill="#333" >c</text>
<text x="1067" y="1154.2" font-size="20" text-anchor="end" fill="#333" >b</text>
<text x="1067" y="1221.1" font-size="20" text-anchor="end" fill="#333" >a</text>
<text x="1208" y="943" font-size="19" text-anchor="end" fill="#333" >130</text>
<text x="1206.8" y="996.9" font-size="19" text-anchor="end" fill="#333" >120</text>
<text x="1205.6" y="1052.8" font-size="19" text-anchor="end" fill="#333" >110</text>
<text x="1204.4" y="1109.3" font-size="19" text-anchor="end" fill="#333" >100</text>
<text x="1203.2" y="1168.2" font-size="19" text-anchor="end" fill="#333" >90</text>
<text x="1202" y="1222.6" font-size="19" text-anchor="end" fill="#333" >80</text>
<text x="1361.3" y="950" font-size="20" text-anchor="start" fill="#333" >1195</text>
<text x="1361.3" y="1019.4" font-size="20" text-anchor="start" fill="#333" >1194</text>
<text x="1361.3" y="1087.3" font-size="20" text-anchor="start" fill="#333" >1193</text>
<text x="1361.3" y="1160.7" font-size="20" text-anchor="start" fill="#333" >1192</text>
<text x="1361.3" y="1228.1" font-size="20" text-anchor="start" fill="#333" >1191</text>
<rect x="1505.5" y="960.5" width="467.5" height="138.1" fill="#f1f9ec" />
<rect x="1505.5" y="1098.6" width="467.5" height="138.2" fill="#f6e5e5" />
<line x1="1505.5" y1="960.5" x2="1505.5" y2="1236.8" stroke="#d9d9d9" stroke-width="1.3" />
<line x1="1596.8" y1="960.5" x2="1596.8" y2="1236.8" stroke="#d9d9d9" stroke-width="1.3" />
<line x1="1694.7" y1="960.5" x2="1694.7" y2="1236.8" stroke="#d9d9d9" stroke-width="1.3" />
<line x1="1797.5" y1="960.5" x2="1797.5" y2="1236.8" stroke="#d9d9d9" stroke-width="1.3" />
<line x1="1895" y1="960.5" x2="1895" y2="1236.8" stroke="#d9d9d9" stroke-width="1.3" />
<text x="1493.5" y="982.5" font-size="19" text-anchor="end" fill="#555555" >12M</text>
<line x1="1501.5" y1="977.5" x2="1505.5" y2="977.5" stroke="#d0d0d0" stroke-width="1" />
<text x="1493.5" y="1043.5" font-size="19" text-anchor="end" fill="#555555" >6M</text>
<line x1="1501.5" y1="1038.5" x2="1505.5" y2="1038.5" stroke="#d0d0d0" stroke-width="1" />
<text x="1493.5" y="1103.6" font-size="19" text-anchor="end" fill="#555555" >0</text>
<line x1="1501.5" y1="1098.6" x2="1505.5" y2="1098.6" stroke="#d0d0d0" stroke-width="1" />
<text x="1493.5" y="1168.6" font-size="19" text-anchor="end" fill="#555555" >-6M</text>
<line x1="1501.5" y1="1163.6" x2="1505.5" y2="1163.6" stroke="#d0d0d0" stroke-width="1" />
<text x="1493.5" y="1227.6" font-size="19" text-anchor="end" fill="#555555" >-12M</text>
<line x1="1501.5" y1="1222.6" x2="1505.5" y2="1222.6" stroke="#d0d0d0" stroke-width="1" />
<text x="1586.8" y="982.5" font-size="19" text-anchor="end" fill="#4c5749" >12</text>
<line x1="1592.8" y1="977.5" x2="1596.8" y2="977.5" stroke="#d0d0d0" stroke-width="1" />
<text x="1586.8" y="1043.5" font-size="19" text-anchor="end" fill="#4c5749" >6</text>
<line x1="1592.8" y1="1038.5" x2="1596.8" y2="1038.5" stroke="#d0d0d0" stroke-width="1" />
<text x="1586.8" y="1103.6" font-size="19" text-anchor="end" fill="#4c5749" >0</text>
<line x1="1592.8" y1="1098.6" x2="1596.8" y2="1098.6" stroke="#d0d0d0" stroke-width="1" />
<text x="1586.8" y="1168.6" font-size="19" text-anchor="end" fill="#5a4b4b" >-6</text>
<line x1="1592.8" y1="1163.6" x2="1596.8" y2="1163.6" stroke="#d0d0d0" stroke-width="1" />
<text x="1586.8" y="1227.6" font-size="19" text-anchor="end" fill="#5a4b4b" >-12</text>
<line x1="1592.8" y1="1222.6" x2="1596.8" y2="1222.6" stroke="#d0d0d0" stroke-width="1" />
<text x="1685.7" y="967.5" font-size="19" text-anchor="end" fill="#4c5749" >50</text>
<line x1="1690.7" y1="962.5" x2="1694.7" y2="962.5" stroke="#d0d0d0" stroke-width="1" />
<text x="1685.7" y="1031.5" font-size="19" text-anchor="end" fill="#4c5749" >25</text>
<line x1="1690.7" y1="1026.5" x2="1694.7" y2="1026.5" stroke="#d0d0d0" stroke-width="1" />
<text x="1685.7" y="1103.6" font-size="19" text-anchor="end" fill="#4c5749" >0</text>
<line x1="1690.7" y1="1098.6" x2="1694.7" y2="1098.6" stroke="#d0d0d0" stroke-width="1" />
<text x="1685.7" y="1171.6" font-size="19" text-anchor="end" fill="#5a4b4b" >-25</text>
<line x1="1690.7" y1="1166.6" x2="1694.7" y2="1166.6" stroke="#d0d0d0" stroke-width="1" />
<text x="1685.7" y="1235.6" font-size="19" text-anchor="end" fill="#5a4b4b" >-50</text>
<line x1="1690.7" y1="1230.6" x2="1694.7" y2="1230.6" stroke="#d0d0d0" stroke-width="1" />
<text x="1792.5" y="981.5" font-size="19" text-anchor="end" fill="#4c5749" >80</text>
<line x1="1793.5" y1="976.5" x2="1797.5" y2="976.5" stroke="#d0d0d0" stroke-width="1" />
<text x="1792.5" y="1041.5" font-size="19" text-anchor="end" fill="#4c5749" >40</text>
<line x1="1793.5" y1="1036.5" x2="1797.5" y2="1036.5" stroke="#d0d0d0" stroke-width="1" />
<text x="1792.5" y="1102.6" font-size="19" text-anchor="end" fill="#4c5749" >0</text>
<line x1="1793.5" y1="1097.6" x2="1797.5" y2="1097.6" stroke="#d0d0d0" stroke-width="1" />
<text x="1792.5" y="1167.6" font-size="19" text-anchor="end" fill="#5a4b4b" >-40</text>
<line x1="1793.5" y1="1162.6" x2="1797.5" y2="1162.6" stroke="#d0d0d0" stroke-width="1" />
<text x="1792.5" y="1226.6" font-size="19" text-anchor="end" fill="#5a4b4b" >-80</text>
<line x1="1793.5" y1="1221.6" x2="1797.5" y2="1221.6" stroke="#d0d0d0" stroke-width="1" />
<text x="1886" y="981.5" font-size="19" text-anchor="end" fill="#4c5749" >40M</text>
<line x1="1891" y1="976.5" x2="1895" y2="976.5" stroke="#d0d0d0" stroke-width="1" />
<text x="1886" y="1041.5" font-size="19" text-anchor="end" fill="#4c5749" >20M</text>
<line x1="1891" y1="1036.5" x2="1895" y2="1036.5" stroke="#d0d0d0" stroke-width="1" />
<text x="1886" y="1102.6" font-size="19" text-anchor="end" fill="#4c5749" >0</text>
<line x1="1891" y1="1097.6" x2="1895" y2="1097.6" stroke="#d0d0d0" stroke-width="1" />
<text x="1886" y="1167.6" font-size="19" text-anchor="end" fill="#5a4b4b" >-20M</text>
<line x1="1891" y1="1162.6" x2="1895" y2="1162.6" stroke="#d0d0d0" stroke-width="1" />
<text x="1886" y="1226.6" font-size="19" text-anchor="end" fill="#5a4b4b" >-40M</text>
<line x1="1891" y1="1221.6" x2="1895" y2="1221.6" stroke="#d0d0d0" stroke-width="1" />
<line x1="1531.8" y1="1081.8" x2="1531.8" y2="1093.8" stroke="#9ca398" stroke-width="1.8" />
<line x1="1527.8" y1="1081.8" x2="1535.8" y2="1081.8" stroke="#8a9286" stroke-width="1.8" />
<line x1="1531.8" y1="1108.3" x2="1531.8" y2="1115.8" stroke="#a89a9a" stroke-width="1.8" />
<line x1="1527.8" y1="1115.8" x2="1535.8" y2="1115.8" stroke="#9a8a8a" stroke-width="1.8" />
<rect x="1517.5" y="1093.8" width="28.5" height="4.8" fill="#717d6b" />
<rect x="1517.5" y="1098.6" width="28.5" height="9.7" fill="#7a6969" />
<rect x="1517.5" y="1093.8" width="28.5" height="14.5" fill="none" stroke="#5d6659" stroke-opacity="0.6" stroke-width="1.2"/>
<line x1="1517.5" y1="1100" x2="1546" y2="1100" stroke="#5e675a" stroke-width="1.5" />
<line x1="1527.8" y1="1096.7" x2="1535.8" y2="1104.7" stroke="#5b6357" stroke-width="1.2" />
<line x1="1527.8" y1="1104.7" x2="1535.8" y2="1096.7" stroke="#5b6357" stroke-width="1.2" />
<line x1="1629.2" y1="992.6" x2="1629.2" y2="1052" stroke="#9ca398" stroke-width="1.8" />
<line x1="1625.2" y1="992.6" x2="1633.2" y2="992.6" stroke="#8a9286" stroke-width="1.8" />
<line x1="1629.2" y1="1129.9" x2="1629.2" y2="1210.4" stroke="#a89a9a" stroke-width="1.8" />
<line x1="1625.2" y1="1210.4" x2="1633.2" y2="1210.4" stroke="#9a8a8a" stroke-width="1.8" />
<rect x="1612.7" y="1052" width="33.1" height="46.6" fill="#717d6b" />
<rect x="1612.7" y="1098.6" width="33.1" height="31.3" fill="#7a6969" />
<rect x="1612.7" y="1052" width="33.1" height="77.9" fill="none" stroke="#5d6659" stroke-opacity="0.6" stroke-width="1.2"/>
<line x1="1612.7" y1="1078.2" x2="1645.8" y2="1078.2" stroke="#5e675a" stroke-width="1.5" />
<line x1="1625.2" y1="1085.3" x2="1633.2" y2="1093.3" stroke="#5b6357" stroke-width="1.2" />
<line x1="1625.2" y1="1093.3" x2="1633.2" y2="1085.3" stroke="#5b6357" stroke-width="1.2" />
<line x1="1726.6" y1="1063.8" x2="1726.6" y2="1096.2" stroke="#9ca398" stroke-width="1.8" />
<line x1="1722.6" y1="1063.8" x2="1730.6" y2="1063.8" stroke="#8a9286" stroke-width="1.8" />
<line x1="1726.6" y1="1123.9" x2="1726.6" y2="1156.9" stroke="#a89a9a" stroke-width="1.8" />
<line x1="1722.6" y1="1156.9" x2="1730.6" y2="1156.9" stroke="#9a8a8a" stroke-width="1.8" />
<rect x="1709.8" y="1096.2" width="33.6" height="2.4" fill="#717d6b" />
<rect x="1709.8" y="1098.6" width="33.6" height="25.3" fill="#7a6969" />
<rect x="1709.8" y="1096.2" width="33.6" height="27.7" fill="none" stroke="#5d6659" stroke-opacity="0.6" stroke-width="1.2"/>
<line x1="1709.8" y1="1100" x2="1743.4" y2="1100" stroke="#5e675a" stroke-width="1.5" />
<line x1="1722.6" y1="1102.8" x2="1730.6" y2="1110.8" stroke="#5b6357" stroke-width="1.2" />
<line x1="1722.6" y1="1110.8" x2="1730.6" y2="1102.8" stroke="#5b6357" stroke-width="1.2" />
<line x1="1828.7" y1="1060.2" x2="1828.7" y2="1076.7" stroke="#9ca398" stroke-width="1.8" />
<line x1="1824.7" y1="1060.2" x2="1832.7" y2="1060.2" stroke="#8a9286" stroke-width="1.8" />
<line x1="1828.7" y1="1095.6" x2="1828.7" y2="1098.6" stroke="#9ca398" stroke-width="1.8" />
<line x1="1828.7" y1="1098.6" x2="1828.7" y2="1122.7" stroke="#a89a9a" stroke-width="1.8" />
<line x1="1824.7" y1="1122.7" x2="1832.7" y2="1122.7" stroke="#9a8a8a" stroke-width="1.8" />
<rect x="1811.9" y="1076.7" width="33.6" height="18.9" fill="#717d6b" />
<rect x="1811.9" y="1076.7" width="33.6" height="18.9" fill="none" stroke="#5d6659" stroke-opacity="0.6" stroke-width="1.2"/>
<line x1="1811.9" y1="1086" x2="1845.5" y2="1086" stroke="#5e675a" stroke-width="1.5" />
<line x1="1824.7" y1="1082.6" x2="1832.7" y2="1090.6" stroke="#5b6357" stroke-width="1.2" />
<line x1="1824.7" y1="1090.6" x2="1832.7" y2="1082.6" stroke="#5b6357" stroke-width="1.2" />
<line x1="1926.9" y1="1088" x2="1926.9" y2="1089.6" stroke="#9ca398" stroke-width="1.8" />
<line x1="1922.9" y1="1088" x2="1930.9" y2="1088" stroke="#8a9286" stroke-width="1.8" />
<line x1="1926.9" y1="1099.2" x2="1926.9" y2="1100.5" stroke="#a89a9a" stroke-width="1.8" />
<line x1="1922.9" y1="1100.5" x2="1930.9" y2="1100.5" stroke="#9a8a8a" stroke-width="1.8" />
<rect x="1910.1" y="1089.6" width="33.7" height="9" fill="#717d6b" />
<rect x="1910.1" y="1098.6" width="33.7" height="0.6" fill="#7a6969" />
<rect x="1910.1" y="1089.6" width="33.7" height="9.6" fill="none" stroke="#5d6659" stroke-opacity="0.6" stroke-width="1.2"/>
<line x1="1922.9" y1="1092" x2="1930.9" y2="1100" stroke="#5b6357" stroke-width="1.2" />
<line x1="1922.9" y1="1100" x2="1930.9" y2="1092" stroke="#5b6357" stroke-width="1.2" />
<circle cx="1926.9" cy="1125.7" r="2.6" fill="#6a5a5a"/>
<line x1="106.7" y1="1276.5" x2="106.7" y2="1542.3" stroke="#b4b4b4" stroke-width="1.3" />
<line x1="101.7" y1="1276.5" x2="106.7" y2="1276.5" stroke="#b4b4b4" stroke-width="1.2" />
<line x1="101.7" y1="1343.5" x2="106.7" y2="1343.5" stroke="#b4b4b4" stroke-width="1.2" />
<line x1="101.7" y1="1410.6" x2="106.7" y2="1410.6" stroke="#b4b4b4" stroke-width="1.2" />
<line x1="101.7" y1="1476.4" x2="106.7" y2="1476.4" stroke="#b4b4b4" stroke-width="1.2" />
<line x1="101.7" y1="1542.3" x2="106.7" y2="1542.3" stroke="#b4b4b4" stroke-width="1.2" />
<line x1="244.5" y1="1276.5" x2="244.5" y2="1542.3" stroke="#b4b4b4" stroke-width="1.3" />
<line x1="239.5" y1="1291.4" x2="244.5" y2="1291.4" stroke="#b4b4b4" stroke-width="1.2" />
<line x1="239.5" y1="1351" x2="244.5" y2="1351" stroke="#b4b4b4" stroke-width="1.2" />
<line x1="239.5" y1="1410.6" x2="244.5" y2="1410.6" stroke="#b4b4b4" stroke-width="1.2" />
<line x1="239.5" y1="1469.1" x2="244.5" y2="1469.1" stroke="#b4b4b4" stroke-width="1.2" />
<line x1="239.5" y1="1527.7" x2="244.5" y2="1527.7" stroke="#b4b4b4" stroke-width="1.2" />
<line x1="384.2" y1="1276.5" x2="384.2" y2="1542.3" stroke="#b4b4b4" stroke-width="1.3" />
<line x1="379.2" y1="1276.5" x2="384.2" y2="1276.5" stroke="#b4b4b4" stroke-width="1.2" />
<line x1="379.2" y1="1343.5" x2="384.2" y2="1343.5" stroke="#b4b4b4" stroke-width="1.2" />
<line x1="379.2" y1="1410.6" x2="384.2" y2="1410.6" stroke="#b4b4b4" stroke-width="1.2" />
<line x1="379.2" y1="1476.4" x2="384.2" y2="1476.4" stroke="#b4b4b4" stroke-width="1.2" />
<line x1="379.2" y1="1542.3" x2="384.2" y2="1542.3" stroke="#b4b4b4" stroke-width="1.2" />
<line x1="522.2" y1="1276.5" x2="522.2" y2="1542.3" stroke="#b4b4b4" stroke-width="1.3" />
<line x1="517.2" y1="1276.5" x2="522.2" y2="1276.5" stroke="#b4b4b4" stroke-width="1.2" />
<line x1="517.2" y1="1343.5" x2="522.2" y2="1343.5" stroke="#b4b4b4" stroke-width="1.2" />
<line x1="517.2" y1="1410.6" x2="522.2" y2="1410.6" stroke="#b4b4b4" stroke-width="1.2" />
<line x1="517.2" y1="1476.4" x2="522.2" y2="1476.4" stroke="#b4b4b4" stroke-width="1.2" />
<line x1="517.2" y1="1542.3" x2="522.2" y2="1542.3" stroke="#b4b4b4" stroke-width="1.2" />
<line x1="660" y1="1276.5" x2="660" y2="1542.3" stroke="#b4b4b4" stroke-width="1.3" />
<line x1="655" y1="1291.4" x2="660" y2="1291.4" stroke="#b4b4b4" stroke-width="1.2" />
<line x1="655" y1="1351" x2="660" y2="1351" stroke="#b4b4b4" stroke-width="1.2" />
<line x1="655" y1="1410.6" x2="660" y2="1410.6" stroke="#b4b4b4" stroke-width="1.2" />
<line x1="655" y1="1469.1" x2="660" y2="1469.1" stroke="#b4b4b4" stroke-width="1.2" />
<line x1="655" y1="1527.7" x2="660" y2="1527.7" stroke="#b4b4b4" stroke-width="1.2" />
<line x1="797.6" y1="1276.5" x2="797.6" y2="1542.3" stroke="#b4b4b4" stroke-width="1.3" />
<line x1="792.6" y1="1276.5" x2="797.6" y2="1276.5" stroke="#b4b4b4" stroke-width="1.2" />
<line x1="792.6" y1="1343.5" x2="797.6" y2="1343.5" stroke="#b4b4b4" stroke-width="1.2" />
<line x1="792.6" y1="1410.6" x2="797.6" y2="1410.6" stroke="#b4b4b4" stroke-width="1.2" />
<line x1="792.6" y1="1476.4" x2="797.6" y2="1476.4" stroke="#b4b4b4" stroke-width="1.2" />
<line x1="792.6" y1="1542.3" x2="797.6" y2="1542.3" stroke="#b4b4b4" stroke-width="1.2" />
<polyline points="106.7,1394.9 244.5,1406.9 384.2,1414.1" fill="none" stroke="#e6e6e6" stroke-width="1.4" />
<polyline points="106.7,1394.9 244.5,1410.1 384.2,1419.1" fill="none" stroke="#e6e6e6" stroke-width="1.4" />
<polyline points="106.7,1416.6 244.5,1414.1 384.2,1424.1" fill="none" stroke="#e6e6e6" stroke-width="1.4" />
<polyline points="106.7,1416.6 244.5,1440.8 384.2,1429.1" fill="none" stroke="#e6e6e6" stroke-width="1.4" />
<polyline points="106.7,1416.6 244.5,1438.1 384.2,1426.1" fill="none" stroke="#e6e6e6" stroke-width="1.4" />
<polyline points="106.7,1544.7 244.5,1432.7 384.2,1424.1" fill="none" stroke="#e6e6e6" stroke-width="1.4" />
<polygon points="110.7,1543 244.5,1534 384.2,1310.2 384.2,1333.2 244.5,1538 110.7,1545" fill="#eeeeee" fill-opacity="0.5"/>
<polyline points="110.7,1544 244.5,1536.9 384.2,1315.1" fill="none" stroke="#e6e6e6" stroke-width="1.1" />
<polyline points="110.7,1543 244.5,1535.2 384.2,1320.6" fill="none" stroke="#e6e6e6" stroke-width="1.1" />
<polyline points="110.7,1544.1 244.5,1537 384.2,1322.5" fill="none" stroke="#e6e6e6" stroke-width="1.1" />
<polyline points="110.7,1544.4 244.5,1536.5 384.2,1321.5" fill="none" stroke="#e6e6e6" stroke-width="1.1" />
<polygon points="110.7,1543 244.5,1538 384.2,1333.2 384.2,1357.1 244.5,1542 110.7,1545" fill="#eeeeee" fill-opacity="0.5"/>
<polyline points="110.7,1543.6 244.5,1539.2 384.2,1351.5" fill="none" stroke="#e6e6e6" stroke-width="1.1" />
<polyline points="110.7,1545 244.5,1541.7 384.2,1355.6" fill="none" stroke="#e6e6e6" stroke-width="1.1" />
<polyline points="110.7,1543.2 244.5,1538.8 384.2,1349.4" fill="none" stroke="#e6e6e6" stroke-width="1.1" />
<polyline points="110.7,1543.5 244.5,1539.1 384.2,1343.2" fill="none" stroke="#e6e6e6" stroke-width="1.1" />
<polygon points="110.7,1543 244.5,1541 384.2,1357.1 384.2,1376.1 244.5,1546 110.7,1545" fill="#eeeeee" fill-opacity="0.5"/>
<polyline points="110.7,1543.3 244.5,1543.1 384.2,1358.4" fill="none" stroke="#e6e6e6" stroke-width="1.1" />
<polyline points="110.7,1544.7 244.5,1544.3 384.2,1371.5" fill="none" stroke="#e6e6e6" stroke-width="1.1" />
<polyline points="110.7,1543.4 244.5,1544.3 384.2,1366.9" fill="none" stroke="#e6e6e6" stroke-width="1.1" />
<polyline points="110.7,1543.5 244.5,1543.9 384.2,1360.4" fill="none" stroke="#e6e6e6" stroke-width="1.1" />
<polygon points="244.5,1408.1 384.2,1412.1 384.2,1434.1 244.5,1417.1" fill="#eeeeee" fill-opacity="0.6"/>
<polyline points="244.5,1408.1 384.2,1412.1" fill="none" stroke="#e6e6e6" stroke-width="1.1" />
<polyline points="244.5,1416.9 384.2,1429.8" fill="none" stroke="#e6e6e6" stroke-width="1.1" />
<polyline points="244.5,1410 384.2,1415.9" fill="none" stroke="#e6e6e6" stroke-width="1.1" />
<polyline points="244.5,1409.8 384.2,1423.8" fill="none" stroke="#e6e6e6" stroke-width="1.1" />
<polyline points="244.5,1411.2 384.2,1430.6" fill="none" stroke="#e6e6e6" stroke-width="1.1" />
<polyline points="244.5,1410.7 384.2,1428.2" fill="none" stroke="#e6e6e6" stroke-width="1.1" />
<polyline points="244.5,1410.7 384.2,1352.2" fill="none" stroke="#e6e6e6" stroke-width="0.9" />
<polyline points="244.5,1409.7 384.2,1404" fill="none" stroke="#e6e6e6" stroke-width="0.9" />
<polyline points="244.5,1407.2 384.2,1386.8" fill="none" stroke="#e6e6e6" stroke-width="0.9" />
<polyline points="244.5,1408.2 384.2,1357.2" fill="none" stroke="#e6e6e6" stroke-width="0.9" />
<polyline points="244.5,1413.2 384.2,1373.6" fill="none" stroke="#e6e6e6" stroke-width="0.9" />
<polyline points="244.5,1412.2 384.2,1358.1" fill="none" stroke="#e6e6e6" stroke-width="0.9" />
<polyline points="244.5,1409.9 384.2,1344.3" fill="none" stroke="#e6e6e6" stroke-width="0.9" />
<polyline points="244.5,1407.3 384.2,1374.2" fill="none" stroke="#e6e6e6" stroke-width="0.9" />
<polyline points="244.5,1410.7 384.2,1359.9" fill="none" stroke="#e6e6e6" stroke-width="0.9" />
<polyline points="244.5,1408 384.2,1389.7" fill="none" stroke="#e6e6e6" stroke-width="0.9" />
<polyline points="244.5,1407.4 384.2,1364.2" fill="none" stroke="#e6e6e6" stroke-width="0.9" />
<polyline points="244.5,1411.9 384.2,1355.2" fill="none" stroke="#e6e6e6" stroke-width="0.9" />
<polyline points="244.5,1412.2 384.2,1348.8" fill="none" stroke="#e6e6e6" stroke-width="0.9" />
<polyline points="244.5,1407.3 384.2,1393.3" fill="none" stroke="#e6e6e6" stroke-width="0.9" />
<polyline points="244.5,1412 384.2,1386" fill="none" stroke="#e6e6e6" stroke-width="0.9" />
<polyline points="244.5,1410.6 384.2,1372.3" fill="none" stroke="#e6e6e6" stroke-width="0.9" />
<polyline points="244.5,1407.9 384.2,1375.7" fill="none" stroke="#e6e6e6" stroke-width="0.9" />
<polyline points="244.5,1413.9 384.2,1370.2" fill="none" stroke="#e6e6e6" stroke-width="0.9" />
<polyline points="244.5,1413.6 384.2,1370" fill="none" stroke="#e6e6e6" stroke-width="0.9" />
<polyline points="244.5,1409.4 384.2,1388.1" fill="none" stroke="#e6e6e6" stroke-width="0.9" />
<polyline points="244.5,1409.9 384.2,1395.5" fill="none" stroke="#e6e6e6" stroke-width="0.9" />
<polyline points="244.5,1412.9 384.2,1384" fill="none" stroke="#e6e6e6" stroke-width="0.9" />
<polyline points="244.5,1410.2 384.2,1403.5" fill="none" stroke="#e6e6e6" stroke-width="0.9" />
<polyline points="244.5,1408.2 384.2,1370.6" fill="none" stroke="#e6e6e6" stroke-width="0.9" />
<polyline points="244.5,1409 384.2,1354.5" fill="none" stroke="#e6e6e6" stroke-width="0.9" />
<polyline points="244.5,1408.3 384.2,1354.3" fill="none" stroke="#e6e6e6" stroke-width="0.9" />
<polyline points="244.5,1413.4 384.2,1360.3" fill="none" stroke="#e6e6e6" stroke-width="0.9" />
<polyline points="244.5,1407.2 384.2,1349.7" fill="none" stroke="#e6e6e6" stroke-width="0.9" />
<polyline points="244.5,1410.2 384.2,1406.4" fill="none" stroke="#e6e6e6" stroke-width="0.9" />
<polyline points="244.5,1413.5 384.2,1374" fill="none" stroke="#e6e6e6" stroke-width="0.9" />
<polyline points="244.5,1407.8 384.2,1398.5" fill="none" stroke="#e6e6e6" stroke-width="0.9" />
<polyline points="244.5,1409.2 384.2,1392.8" fill="none" stroke="#e6e6e6" stroke-width="0.9" />
<polyline points="244.5,1412.8 384.2,1368.9" fill="none" stroke="#e6e6e6" stroke-width="0.9" />
<polyline points="244.5,1407.7 384.2,1346" fill="none" stroke="#e6e6e6" stroke-width="0.9" />
<polyline points="244.5,1408.7 384.2,1349.7" fill="none" stroke="#e6e6e6" stroke-width="0.9" />
<polyline points="244.5,1411 384.2,1385.2" fill="none" stroke="#e6e6e6" stroke-width="0.9" />
<polyline points="244.5,1408.1 384.2,1399.9" fill="none" stroke="#e6e6e6" stroke-width="0.9" />
<polyline points="244.5,1410.2 384.2,1384" fill="none" stroke="#e6e6e6" stroke-width="0.9" />
<polyline points="244.5,1413 384.2,1347.3" fill="none" stroke="#e6e6e6" stroke-width="0.9" />
<polyline points="244.5,1413.9 384.2,1381.1" fill="none" stroke="#e6e6e6" stroke-width="0.9" />
<polygon points="244.5,1408.1 384.2,1310.2 384.2,1412.1 244.5,1412.1" fill="#eeeeee" fill-opacity="0.55"/>
<polygon points="384.2,1310.2 522.2,1288.2 522.2,1412.1 384.2,1412.1" fill="#eeeeee" fill-opacity="0.7"/>
<polyline points="384.2,1358.6 522.2,1364.7" fill="none" stroke="#e6e6e6" stroke-width="0.9" />
<polyline points="384.2,1342.2 522.2,1365.2" fill="none" stroke="#e6e6e6" stroke-width="0.9" />
<polyline points="384.2,1381.1 522.2,1427.6" fill="none" stroke="#e6e6e6" stroke-width="0.9" />
<polyline points="384.2,1388.3 522.2,1386.6" fill="none" stroke="#e6e6e6" stroke-width="0.9" />
<polyline points="384.2,1369.1 522.2,1385.9" fill="none" stroke="#e6e6e6" stroke-width="0.9" />
<polyline points="384.2,1360.2 522.2,1411.4" fill="none" stroke="#e6e6e6" stroke-width="0.9" />
<polyline points="384.2,1341 522.2,1435.2" fill="none" stroke="#e6e6e6" stroke-width="0.9" />
<polyline points="384.2,1361.4 522.2,1394.1" fill="none" stroke="#e6e6e6" stroke-width="0.9" />
<polyline points="384.2,1374.8 522.2,1407" fill="none" stroke="#e6e6e6" stroke-width="0.9" />
<polyline points="384.2,1364 522.2,1398.3" fill="none" stroke="#e6e6e6" stroke-width="0.9" />
<polyline points="384.2,1356 522.2,1452.3" fill="none" stroke="#e6e6e6" stroke-width="0.9" />
<polyline points="384.2,1413.3 522.2,1448.7" fill="none" stroke="#e6e6e6" stroke-width="0.9" />
<polyline points="384.2,1409.8 522.2,1440.4" fill="none" stroke="#e6e6e6" stroke-width="0.9" />
<polyline points="384.2,1344.9 522.2,1411.1" fill="none" stroke="#e6e6e6" stroke-width="0.9" />
<polyline points="384.2,1398.9 522.2,1412.1" fill="none" stroke="#e6e6e6" stroke-width="0.9" />
<polyline points="384.2,1354.7 522.2,1425.9" fill="none" stroke="#e6e6e6" stroke-width="0.9" />
<polyline points="384.2,1354.9 522.2,1417.6" fill="none" stroke="#e6e6e6" stroke-width="0.9" />
<polyline points="384.2,1366.1 522.2,1375.7" fill="none" stroke="#e6e6e6" stroke-width="0.9" />
<polyline points="384.2,1358.2 522.2,1435.2" fill="none" stroke="#e6e6e6" stroke-width="0.9" />
<polyline points="384.2,1372.2 522.2,1420.8" fill="none" stroke="#e6e6e6" stroke-width="0.9" />
<polyline points="384.2,1337.6 522.2,1377.3" fill="none" stroke="#e6e6e6" stroke-width="0.9" />
<polyline points="384.2,1365.4 522.2,1399.5" fill="none" stroke="#e6e6e6" stroke-width="0.9" />
<polyline points="384.2,1387.4 522.2,1412.5" fill="none" stroke="#e6e6e6" stroke-width="0.9" />
<polyline points="384.2,1366.3 522.2,1413.2" fill="none" stroke="#e6e6e6" stroke-width="0.9" />
<polyline points="384.2,1365.8 522.2,1396.2" fill="none" stroke="#e6e6e6" stroke-width="0.9" />
<polyline points="384.2,1411.3 522.2,1432.9" fill="none" stroke="#e6e6e6" stroke-width="0.9" />
<polyline points="384.2,1371.4 522.2,1438.8" fill="none" stroke="#e6e6e6" stroke-width="0.9" />
<polyline points="384.2,1388.8 522.2,1366.4" fill="none" stroke="#e6e6e6" stroke-width="0.9" />
<polyline points="384.2,1409.2 522.2,1438.3" fill="none" stroke="#e6e6e6" stroke-width="0.9" />
<polyline points="384.2,1405.5 522.2,1402.7" fill="none" stroke="#e6e6e6" stroke-width="0.9" />
<polyline points="384.2,1359.1 522.2,1394.1" fill="none" stroke="#e6e6e6" stroke-width="0.9" />
<polyline points="384.2,1401.7 522.2,1422.7" fill="none" stroke="#e6e6e6" stroke-width="0.9" />
<polyline points="384.2,1341.2 522.2,1443.8" fill="none" stroke="#e6e6e6" stroke-width="0.9" />
<polyline points="384.2,1351.1 522.2,1391.1" fill="none" stroke="#e6e6e6" stroke-width="0.9" />
<polyline points="384.2,1376.1 522.2,1372.8" fill="none" stroke="#e6e6e6" stroke-width="0.9" />
<polyline points="384.2,1352 522.2,1439.6" fill="none" stroke="#e6e6e6" stroke-width="0.9" />
<polyline points="384.2,1411.7 522.2,1386.5" fill="none" stroke="#e6e6e6" stroke-width="0.9" />
<polyline points="384.2,1355.5 522.2,1396.6" fill="none" stroke="#e6e6e6" stroke-width="0.9" />
<polyline points="384.2,1410 522.2,1380" fill="none" stroke="#e6e6e6" stroke-width="0.9" />
<polyline points="384.2,1335.2 522.2,1440.9" fill="none" stroke="#e6e6e6" stroke-width="0.9" />
<polyline points="384.2,1397 522.2,1368.1" fill="none" stroke="#e6e6e6" stroke-width="0.9" />
<polyline points="384.2,1366.4 522.2,1382" fill="none" stroke="#e6e6e6" stroke-width="0.9" />
<polyline points="384.2,1342.1 522.2,1426.5" fill="none" stroke="#e6e6e6" stroke-width="0.9" />
<polyline points="384.2,1387.5 522.2,1367.7" fill="none" stroke="#e6e6e6" stroke-width="0.9" />
<polyline points="384.2,1357.1 522.2,1451.2" fill="none" stroke="#e6e6e6" stroke-width="0.9" />
<polyline points="384.2,1407.7 522.2,1301.1" fill="none" stroke="#e6e6e6" stroke-width="1.0" />
<polyline points="384.2,1410.6 522.2,1334.6" fill="none" stroke="#e6e6e6" stroke-width="1.0" />
<polyline points="384.2,1407.3 522.2,1347.9" fill="none" stroke="#e6e6e6" stroke-width="1.0" />
<polyline points="384.2,1412.5 522.2,1326.9" fill="none" stroke="#e6e6e6" stroke-width="1.0" />
<polyline points="384.2,1405.1 522.2,1310.7" fill="none" stroke="#e6e6e6" stroke-width="1.0" />
<polyline points="384.2,1408.1 522.2,1354.5" fill="none" stroke="#e6e6e6" stroke-width="1.0" />
<polyline points="384.2,1407.6 522.2,1318.7" fill="none" stroke="#e6e6e6" stroke-width="1.0" />
<polyline points="384.2,1406.7 522.2,1301.5" fill="none" stroke="#e6e6e6" stroke-width="1.0" />
<polyline points="384.2,1409.7 522.2,1355" fill="none" stroke="#e6e6e6" stroke-width="1.0" />
<polyline points="384.2,1409 522.2,1355.4" fill="none" stroke="#e6e6e6" stroke-width="1.0" />
<polyline points="384.2,1405.8 522.2,1327.2" fill="none" stroke="#e6e6e6" stroke-width="1.0" />
<polyline points="384.2,1412.9 522.2,1340.5" fill="none" stroke="#e6e6e6" stroke-width="1.0" />
<polyline points="384.2,1411.2 522.2,1314.1" fill="none" stroke="#e6e6e6" stroke-width="1.0" />
<polyline points="384.2,1402.2 522.2,1311.7" fill="none" stroke="#e6e6e6" stroke-width="1.0" />
<polyline points="384.2,1401.9 522.2,1319.2" fill="none" stroke="#e6e6e6" stroke-width="1.0" />
<polyline points="384.2,1406.3 522.2,1302" fill="none" stroke="#e6e6e6" stroke-width="1.0" />
<polyline points="384.2,1411.3 522.2,1302.7" fill="none" stroke="#e6e6e6" stroke-width="1.0" />
<polyline points="384.2,1400.2 522.2,1326.3" fill="none" stroke="#e6e6e6" stroke-width="1.0" />
<polyline points="384.2,1412.4 522.2,1343.7" fill="none" stroke="#e6e6e6" stroke-width="1.0" />
<polyline points="384.2,1405.3 522.2,1350.1" fill="none" stroke="#e6e6e6" stroke-width="1.0" />
<polyline points="384.2,1407.9 522.2,1313.4" fill="none" stroke="#e6e6e6" stroke-width="1.0" />
<polyline points="384.2,1408.6 522.2,1324.1" fill="none" stroke="#e6e6e6" stroke-width="1.0" />
<polyline points="384.2,1408.8 522.2,1329.5" fill="none" stroke="#e6e6e6" stroke-width="1.0" />
<polyline points="384.2,1399.7 522.2,1346.4" fill="none" stroke="#e6e6e6" stroke-width="1.0" />
<polyline points="384.2,1402.1 522.2,1319.3" fill="none" stroke="#e6e6e6" stroke-width="1.0" />
<polyline points="384.2,1399.5 522.2,1349.7" fill="none" stroke="#e6e6e6" stroke-width="1.0" />
<polyline points="384.2,1412 522.2,1328.6" fill="none" stroke="#e6e6e6" stroke-width="1.0" />
<polyline points="384.2,1413.6 522.2,1349.4" fill="none" stroke="#e6e6e6" stroke-width="1.0" />
<polyline points="384.2,1407.8 522.2,1299.9" fill="none" stroke="#e6e6e6" stroke-width="1.0" />
<polyline points="384.2,1408.5 522.2,1323.7" fill="none" stroke="#e6e6e6" stroke-width="1.0" />
<polyline points="384.2,1317.7 522.2,1288.2" fill="none" stroke="#e6e6e6" stroke-width="1.3" />
<polyline points="384.2,1312.6 522.2,1354.1" fill="none" stroke="#e6e6e6" stroke-width="1.3" />
<polyline points="384.2,1333.2 522.2,1288.2" fill="none" stroke="#e6e6e6" stroke-width="1.3" />
<polyline points="384.2,1322 522.2,1288.2" fill="none" stroke="#e6e6e6" stroke-width="1.3" />
<polyline points="384.2,1310.2 522.2,1354.1" fill="none" stroke="#e6e6e6" stroke-width="1.3" />
<polyline points="384.2,1310.2 522.2,1288.2" fill="none" stroke="#e6e6e6" stroke-width="1.3" />
<polyline points="384.2,1333.2 522.2,1354.1" fill="none" stroke="#e6e6e6" stroke-width="1.3" />
<polyline points="384.2,1331.3 522.2,1303.3" fill="none" stroke="#e6e6e6" stroke-width="1.3" />
<polyline points="384.2,1333.2 522.2,1288.2" fill="none" stroke="#e6e6e6" stroke-width="1.3" />
<polyline points="384.2,1310.2 522.2,1288.2" fill="none" stroke="#e6e6e6" stroke-width="1.3" />
<polyline points="384.2,1333.2 522.2,1288.2" fill="none" stroke="#e6e6e6" stroke-width="1.3" />
<polyline points="384.2,1357.1 522.2,1370.6" fill="none" stroke="#e6e6e6" stroke-width="1.3" />
<polyline points="384.2,1333.2 522.2,1359.5" fill="none" stroke="#e6e6e6" stroke-width="1.3" />
<polyline points="384.2,1333.2 522.2,1362.1" fill="none" stroke="#e6e6e6" stroke-width="1.3" />
<polyline points="384.2,1334.5 522.2,1409.1" fill="none" stroke="#e6e6e6" stroke-width="1.3" />
<polyline points="384.2,1354.7 522.2,1409.1" fill="none" stroke="#e6e6e6" stroke-width="1.3" />
<polyline points="384.2,1357.1 522.2,1397.7" fill="none" stroke="#e6e6e6" stroke-width="1.3" />
<polyline points="384.2,1337.1 522.2,1409.1" fill="none" stroke="#e6e6e6" stroke-width="1.3" />
<polyline points="384.2,1357.1 522.2,1409.1" fill="none" stroke="#e6e6e6" stroke-width="1.3" />
<polygon points="384.2,1412.1 522.2,1454.1 522.2,1519 384.2,1434.1" fill="#eeeeee" />
<polyline points="384.2,1412.4 522.2,1519" fill="none" stroke="#e6e6e6" stroke-width="1.2" />
<polyline points="384.2,1423.2 522.2,1519" fill="none" stroke="#e6e6e6" stroke-width="1.2" />
<polyline points="384.2,1434.1 522.2,1519" fill="none" stroke="#e6e6e6" stroke-width="1.2" />
<polyline points="384.2,1434.1 522.2,1519" fill="none" stroke="#e6e6e6" stroke-width="1.2" />
<polyline points="384.2,1420.1 522.2,1519" fill="none" stroke="#e6e6e6" stroke-width="1.2" />
<polyline points="384.2,1412.1 522.2,1454.1" fill="none" stroke="#e6e6e6" stroke-width="1.2" />
<polyline points="384.2,1434.1 522.2,1519" fill="none" stroke="#e6e6e6" stroke-width="1.2" />
<polyline points="384.2,1432.3 522.2,1519" fill="none" stroke="#e6e6e6" stroke-width="1.2" />
<polyline points="384.2,1427.2 522.2,1497.8" fill="none" stroke="#e6e6e6" stroke-width="1.2" />
<polyline points="384.2,1412.1 522.2,1454.1" fill="none" stroke="#e6e6e6" stroke-width="1.2" />
<polyline points="384.2,1434.1 522.2,1519" fill="none" stroke="#e6e6e6" stroke-width="1.2" />
<polyline points="384.2,1434.1 522.2,1457.1" fill="none" stroke="#e6e6e6" stroke-width="1.2" />
<polyline points="384.2,1427.4 522.2,1494.3" fill="none" stroke="#e6e6e6" stroke-width="1.2" />
<polyline points="384.2,1426.8 522.2,1519" fill="none" stroke="#e6e6e6" stroke-width="1.2" />
<polyline points="384.2,1434.1 522.2,1519" fill="none" stroke="#e6e6e6" stroke-width="1.2" />
<polyline points="384.2,1384 522.2,1484.7" fill="none" stroke="#e6e6e6" stroke-width="1.2" />
<polyline points="384.2,1355.9 522.2,1454.1" fill="none" stroke="#e6e6e6" stroke-width="1.2" />
<polyline points="384.2,1376.1 522.2,1494" fill="none" stroke="#e6e6e6" stroke-width="1.2" />
<polyline points="384.2,1357.5 522.2,1454.1" fill="none" stroke="#e6e6e6" stroke-width="1.2" />
<polyline points="384.2,1354.1 522.2,1454.1" fill="none" stroke="#e6e6e6" stroke-width="1.2" />
<polyline points="384.2,1354.1 522.2,1466.2" fill="none" stroke="#e6e6e6" stroke-width="1.2" />
<polyline points="384.2,1360.9 522.2,1462.7" fill="none" stroke="#e6e6e6" stroke-width="1.2" />
<polyline points="384.2,1384.1 522.2,1494" fill="none" stroke="#e6e6e6" stroke-width="1.2" />
<polygon points="522.2,1290.2 590.8,1356.1 660,1379.1 727.6,1384.1 797.6,1382.1 797.6,1388.1 727.6,1390.1 660,1385.1 590.8,1376.1 522.2,1356.1" fill="#eeeeee" />
<polyline points="522.2,1307.8 590.8,1360 660,1380.5 727.6,1384.2 797.6,1385.5" fill="none" stroke="#e6e6e6" stroke-width="1.2" />
<polyline points="522.2,1337.9 590.8,1366.4 660,1383.1 727.6,1389.2 797.6,1388.1" fill="none" stroke="#e6e6e6" stroke-width="1.2" />
<polyline points="522.2,1311.3 590.8,1362.8 660,1383.6 727.6,1388.5 797.6,1383.3" fill="none" stroke="#e6e6e6" stroke-width="1.2" />
<polyline points="522.2,1329.4 590.8,1368.1 660,1384.9 727.6,1387.7 797.6,1384" fill="none" stroke="#e6e6e6" stroke-width="1.2" />
<polyline points="522.2,1290.9 590.8,1356.1 660,1380.3 727.6,1382.7 797.6,1381.6" fill="none" stroke="#e6e6e6" stroke-width="1.2" />
<polyline points="522.2,1288.8 590.8,1358.1 660,1379.7 727.6,1383.3 797.6,1380.9" fill="none" stroke="#e6e6e6" stroke-width="1.2" />
<polygon points="522.2,1352.1 590.8,1374.1 660,1384.1 727.6,1388.1 797.6,1386.1 797.6,1397.1 727.6,1394.1 660,1389.1 590.8,1388.1 522.2,1364.1" fill="#eeeeee" />
<polyline points="522.2,1354.8 590.8,1374.1 660,1385.2 727.6,1390 797.6,1392.6" fill="none" stroke="#e6e6e6" stroke-width="1.2" />
<polyline points="522.2,1360.3 590.8,1388.1 660,1388.6 727.6,1393.3 797.6,1397.1" fill="none" stroke="#e6e6e6" stroke-width="1.2" />
<polygon points="522.2,1362.1 590.8,1386.1 660,1387.1 727.6,1392.1 797.6,1394.1 797.6,1409.1 727.6,1406.1 660,1402.1 590.8,1411.1 522.2,1409.1" fill="#eeeeee" />
<polyline points="522.2,1387.1 590.8,1390.5 660,1393.7 727.6,1398.7 797.6,1406.3" fill="none" stroke="#e6e6e6" stroke-width="1.2" />
<polyline points="522.2,1384.6 590.8,1401.8 660,1402.1 727.6,1401.4 797.6,1408.7" fill="none" stroke="#e6e6e6" stroke-width="1.2" />
<polyline points="522.2,1362.1 590.8,1389.7 660,1388.5 727.6,1396.7 797.6,1397.7" fill="none" stroke="#e6e6e6" stroke-width="1.2" />
<polygon points="522.2,1407.1 590.8,1409.1 660,1396.1 727.6,1402.1 797.6,1402.1 797.6,1410.1 727.6,1408.1 660,1404.1 590.8,1437.1 522.2,1454.1" fill="#eeeeee" />
<polyline points="522.2,1432.2 590.8,1426.1 660,1400.5 727.6,1405.4 797.6,1406" fill="none" stroke="#e6e6e6" stroke-width="1.2" />
<polyline points="522.2,1439.5 590.8,1434.9 660,1400.4 727.6,1405.7 797.6,1407.3" fill="none" stroke="#e6e6e6" stroke-width="1.2" />
<polygon points="522.2,1452.1 590.8,1435.1 660,1400.1 727.6,1404.1 797.6,1406.1 797.6,1546 727.6,1536 660,1531 590.8,1503 522.2,1519" fill="#eeeeee" />
<polyline points="522.2,1463.5 590.8,1453.3 660,1439.2 727.6,1428.6 797.6,1433" fill="none" stroke="#e6e6e6" stroke-width="1.0" />
<polyline points="522.2,1483.9 590.8,1460.4 660,1470.7 727.6,1482.7 797.6,1472.7" fill="none" stroke="#e6e6e6" stroke-width="1.0" />
<polyline points="522.2,1462.1 590.8,1436.2 660,1400.1 727.6,1404.1 797.6,1422.2" fill="none" stroke="#e6e6e6" stroke-width="1.0" />
<polyline points="522.2,1519 590.8,1501.2 660,1531 727.6,1524.2 797.6,1546" fill="none" stroke="#e6e6e6" stroke-width="1.0" />
<polyline points="522.2,1492.5 590.8,1483.3 660,1484.2 727.6,1499.4 797.6,1500.1" fill="none" stroke="#e6e6e6" stroke-width="1.0" />
<polyline points="522.2,1504.7 590.8,1486.8 660,1473.7 727.6,1495.7 797.6,1498.6" fill="none" stroke="#e6e6e6" stroke-width="1.0" />
<polyline points="522.2,1494.9 590.8,1485.7 660,1451 727.6,1486.1 797.6,1489.3" fill="none" stroke="#e6e6e6" stroke-width="1.0" />
<polyline points="522.2,1519 590.8,1502.8 660,1528.1 727.6,1523.3 797.6,1546" fill="none" stroke="#e6e6e6" stroke-width="1.0" />
<polyline points="522.2,1497.1 590.8,1478.3 660,1485.4 727.6,1495.4 797.6,1501.5" fill="none" stroke="#e6e6e6" stroke-width="1.0" />
<polyline points="522.2,1478.2 590.8,1459.9 660,1432.9 727.6,1458.7 797.6,1456.3" fill="none" stroke="#e6e6e6" stroke-width="1.0" />
<polyline points="522.2,1464.3 590.8,1449.1 660,1430.1 727.6,1437.5 797.6,1430.1" fill="none" stroke="#e6e6e6" stroke-width="1.0" />
<polyline points="522.2,1456.5 590.8,1442.1 660,1428.5 727.6,1425.8 797.6,1429.1" fill="none" stroke="#e6e6e6" stroke-width="1.0" />
<polyline points="522.2,1477.3 590.8,1452.9 660,1441.2 727.6,1436.9 797.6,1460.3" fill="none" stroke="#e6e6e6" stroke-width="1.0" />
<polyline points="522.2,1483 590.8,1471.8 660,1476.3 727.6,1487.2 797.6,1463.5" fill="none" stroke="#e6e6e6" stroke-width="1.0" />
<polyline points="522.2,1508.5 590.8,1493.1 660,1506.2 727.6,1487.7 797.6,1521" fill="none" stroke="#e6e6e6" stroke-width="1.0" />
<polyline points="522.2,1478.2 590.8,1459.1 660,1455.2 727.6,1456.8 797.6,1443.6" fill="none" stroke="#e6e6e6" stroke-width="1.0" />
<polyline points="660,1529.1 727.6,1535.9 797.6,1545.8" fill="none" stroke="#e6e6e6" stroke-width="1.2" />
<polygon points="797.6,1382.1 937.3,1276.4 937.3,1278.4 797.6,1544" fill="#eeeeee" />
<polyline points="797.6,1455.6 937.3,1276.9" fill="none" stroke="#e6e6e6" stroke-width="1.0" />
<polyline points="797.6,1434.1 937.3,1277.1" fill="none" stroke="#e6e6e6" stroke-width="1.0" />
<polyline points="797.6,1403.3 937.3,1276.4" fill="none" stroke="#e6e6e6" stroke-width="1.0" />
<polyline points="797.6,1420.8 937.3,1276.9" fill="none" stroke="#e6e6e6" stroke-width="1.0" />
<polyline points="797.6,1544 937.3,1278.4" fill="none" stroke="#e6e6e6" stroke-width="1.0" />
<polyline points="797.6,1515.6 937.3,1277.6" fill="none" stroke="#e6e6e6" stroke-width="1.0" />
<polyline points="797.6,1440.2 937.3,1277.3" fill="none" stroke="#e6e6e6" stroke-width="1.0" />
<polyline points="797.6,1420 937.3,1276.7" fill="none" stroke="#e6e6e6" stroke-width="1.0" />
<polyline points="797.6,1502.1 937.3,1278" fill="none" stroke="#e6e6e6" stroke-width="1.0" />
<polyline points="797.6,1544 937.3,1277.7" fill="none" stroke="#e6e6e6" stroke-width="1.0" />
<polygon points="797.6,1380.1 937.3,1365.1 937.3,1367.1 797.6,1469.1" fill="#eeeeee" />
<polyline points="797.6,1436.6 937.3,1366.5" fill="none" stroke="#e6e6e6" stroke-width="1.2" />
<polyline points="797.6,1423.9 937.3,1367" fill="none" stroke="#e6e6e6" stroke-width="1.2" />
<polyline points="797.6,1469.1 937.3,1366" fill="none" stroke="#e6e6e6" stroke-width="1.2" />
<polyline points="797.6,1380.1 937.3,1365.4" fill="none" stroke="#e6e6e6" stroke-width="1.2" />
<polyline points="797.6,1461.6 937.3,1367.1" fill="none" stroke="#e6e6e6" stroke-width="1.2" />
<polyline points="797.6,1380.4 937.3,1365.1" fill="none" stroke="#e6e6e6" stroke-width="1.2" />
<polygon points="797.6,1398.1 937.3,1453.8 937.3,1455.8 797.6,1546" fill="#eeeeee" />
<polyline points="797.6,1505.3 937.3,1454.5" fill="none" stroke="#e6e6e6" stroke-width="1.2" />
<polyline points="797.6,1470.8 937.3,1453.9" fill="none" stroke="#e6e6e6" stroke-width="1.2" />
<polyline points="797.6,1546 937.3,1455.4" fill="none" stroke="#e6e6e6" stroke-width="1.2" />
<polyline points="797.6,1518.2 937.3,1454.3" fill="none" stroke="#e6e6e6" stroke-width="1.2" />
<polyline points="797.6,1498.3 937.3,1455.7" fill="none" stroke="#e6e6e6" stroke-width="1.2" />
<polyline points="797.6,1478.8 937.3,1455.2" fill="none" stroke="#e6e6e6" stroke-width="1.2" />
<polyline points="797.6,1546 937.3,1455.7" fill="none" stroke="#e6e6e6" stroke-width="1.2" />
<polyline points="797.6,1406.1 937.3,1454.4" fill="none" stroke="#e6e6e6" stroke-width="1.2" />
<polygon points="797.6,1399.1 937.3,1541.5 937.3,1544.5 797.6,1414.1" fill="#eeeeee" />
<polyline points="797.6,1399.1 937.3,1541.6" fill="none" stroke="#e6e6e6" stroke-width="1.2" />
<polyline points="797.6,1413.9 937.3,1543.3" fill="none" stroke="#e6e6e6" stroke-width="1.2" />
<polyline points="797.6,1414.1 937.3,1544.5" fill="none" stroke="#e6e6e6" stroke-width="1.2" />
<polyline points="797.6,1382.2 937.3,1277.4" fill="none" stroke="#e6e6e6" stroke-width="1.1" />
<polyline points="797.6,1382.7 937.3,1277.4" fill="none" stroke="#e6e6e6" stroke-width="1.1" />
<polyline points="797.6,1383.6 937.3,1277.4" fill="none" stroke="#e6e6e6" stroke-width="1.1" />
<polyline points="797.6,1383.1 937.3,1277.4" fill="none" stroke="#e6e6e6" stroke-width="1.1" />
<polyline points="797.6,1383.3 937.3,1277.4" fill="none" stroke="#e6e6e6" stroke-width="1.1" />
<polyline points="797.6,1382.2 937.3,1277.4" fill="none" stroke="#e6e6e6" stroke-width="1.1" />
<polyline points="797.6,1383.5 937.3,1277.4" fill="none" stroke="#e6e6e6" stroke-width="1.1" />
<polyline points="797.6,1383.1 937.3,1277.4" fill="none" stroke="#e6e6e6" stroke-width="1.1" />
<polyline points="797.6,1381.6 937.3,1277.4" fill="none" stroke="#e6e6e6" stroke-width="1.1" />
<polyline points="797.6,1383.8 937.3,1277.4" fill="none" stroke="#e6e6e6" stroke-width="1.1" />
<polyline points="797.6,1386.1 937.3,1366.1" fill="none" stroke="#e6e6e6" stroke-width="1.2" />
<polyline points="797.6,1381.1 937.3,1365.1" fill="none" stroke="#e6e6e6" stroke-width="1.2" />
<polyline points="797.6,1392.1 937.3,1277.4" fill="none" stroke="#e6e6e6" stroke-width="1.2" />
<polyline points="797.6,1514 937.3,1455.8" fill="none" stroke="#e6e6e6" stroke-width="1.2" />
<polyline points="797.6,1519 937.3,1279.4" fill="none" stroke="#e6e6e6" stroke-width="1.2" />
<polyline points="797.6,1529 937.3,1454.8" fill="none" stroke="#e6e6e6" stroke-width="1.2" />
<polyline points="106.7,1410.3 244.5,1409.8" fill="none" stroke="#eaa842" stroke-width="1.2" />
<polyline points="106.7,1409.7 244.5,1412.1" fill="none" stroke="#44948c" stroke-width="1.2" />
<polyline points="106.7,1410 244.5,1412" fill="none" stroke="#44948c" stroke-width="1.2" />
<polyline points="106.7,1410.7 244.5,1411.1" fill="none" stroke="#ece144" stroke-width="1.2" />
<polyline points="106.7,1410.2 244.5,1411.7" fill="none" stroke="#eaa842" stroke-width="1.2" />
<polyline points="106.7,1411.2 244.5,1411" fill="none" stroke="#ece144" stroke-width="1.2" />
<polyline points="111.7,1389 244.5,1401 384.2,1420" fill="none" stroke="#e02b26" stroke-width="1.4" />
<polyline points="111.7,1390 244.5,1408 384.2,1420" fill="none" stroke="#e02b26" stroke-width="1.4" />
<polyline points="111.7,1389 244.5,1404 384.2,1420" fill="none" stroke="#e02b26" stroke-width="1.4" />
<polygon points="244.5,1404 384.2,1411 384.2,1428 244.5,1413" fill="#e8703a" />
<polyline points="244.5,1406 384.2,1411" fill="none" stroke="#e02b26" stroke-width="1.2" />
<polyline points="244.5,1405.9 384.2,1416.1" fill="none" stroke="#e8703a" stroke-width="1.2" />
<polyline points="244.5,1413 384.2,1423.7" fill="none" stroke="#e8703a" stroke-width="1.2" />
<polyline points="244.5,1409.8 384.2,1427.7" fill="none" stroke="#e02b26" stroke-width="1.2" />
<polyline points="244.5,1409.4 384.2,1422.5" fill="none" stroke="#e02b26" stroke-width="1.2" />
<polyline points="244.5,1405 384.2,1414.6" fill="none" stroke="#e02b26" stroke-width="1.2" />
<polyline points="244.5,1411.6 384.2,1427.8" fill="none" stroke="#e8703a" stroke-width="1.2" />
<polyline points="244.5,1412.9 384.2,1412" fill="none" stroke="#e8703a" stroke-width="1.2" />
<polyline points="244.5,1410.8 384.2,1428" fill="none" stroke="#e8703a" stroke-width="1.2" />
<polyline points="244.5,1409 384.2,1411" fill="none" stroke="#e02b26" stroke-width="1.2" />
<polyline points="244.5,1409 384.2,1416.6" fill="none" stroke="#e8703a" stroke-width="1.2" />
<polyline points="244.5,1408.7 384.2,1411" fill="none" stroke="#e02b26" stroke-width="1.2" />
<polygon points="244.5,1406 384.2,1418 384.2,1428 244.5,1413" fill="#e02b26" />
<polyline points="244.5,1407.1 384.2,1423.5" fill="none" stroke="#e02b26" stroke-width="1.2" />
<polyline points="244.5,1406 384.2,1420.6" fill="none" stroke="#e02b26" stroke-width="1.2" />
<polyline points="244.5,1411.8 384.2,1418.7" fill="none" stroke="#e02b26" stroke-width="1.2" />
<polyline points="244.5,1413 384.2,1428" fill="none" stroke="#e02b26" stroke-width="1.2" />
<polyline points="244.5,1411.6 384.2,1428" fill="none" stroke="#e02b26" stroke-width="1.2" />
<polyline points="244.5,1413 384.2,1426.4" fill="none" stroke="#e02b26" stroke-width="1.2" />
<polyline points="244.5,1407.7 384.2,1419.3" fill="none" stroke="#e02b26" stroke-width="1.2" />
<polyline points="244.5,1406.1 384.2,1423.5" fill="none" stroke="#e02b26" stroke-width="1.2" />
<polyline points="244.5,1410 384.2,1409" fill="none" stroke="#44948c" stroke-width="1.5" />
<polyline points="384.2,1407.1 522.2,1347" fill="none" stroke="#3474b0" stroke-width="1.7" />
<polyline points="384.2,1408.3 522.2,1300" fill="none" stroke="#44948c" stroke-width="1.7" />
<polyline points="384.2,1412 522.2,1302.3" fill="none" stroke="#44948c" stroke-width="1.7" />
<polyline points="384.2,1406 522.2,1300" fill="none" stroke="#44948c" stroke-width="1.7" />
<polyline points="384.2,1406 522.2,1347" fill="none" stroke="#62aa9e" stroke-width="1.7" />
<polyline points="384.2,1412 522.2,1300" fill="none" stroke="#62aa9e" stroke-width="1.7" />
<polyline points="384.2,1408.2 522.2,1347" fill="none" stroke="#44948c" stroke-width="1.7" />
<polyline points="384.2,1406 522.2,1300" fill="none" stroke="#44948c" stroke-width="1.7" />
<polyline points="384.2,1412 522.2,1300" fill="none" stroke="#62aa9e" stroke-width="1.7" />
<polyline points="384.2,1406.3 522.2,1335" fill="none" stroke="#62aa9e" stroke-width="1.7" />
<polyline points="384.2,1409.1 522.2,1300" fill="none" stroke="#25439a" stroke-width="1.7" />
<polyline points="384.2,1409.7 522.2,1347" fill="none" stroke="#62aa9e" stroke-width="1.7" />
<polyline points="384.2,1406 522.2,1311.4" fill="none" stroke="#62aa9e" stroke-width="1.7" />
<polyline points="384.2,1412 522.2,1300" fill="none" stroke="#25439a" stroke-width="1.7" />
<polyline points="384.2,1406 522.2,1300" fill="none" stroke="#3474b0" stroke-width="1.7" />
<polyline points="384.2,1412 522.2,1347" fill="none" stroke="#44948c" stroke-width="1.7" />
<polyline points="384.2,1409.5 522.2,1304.9" fill="none" stroke="#62aa9e" stroke-width="1.7" />
<polyline points="384.2,1406.1 522.2,1302.3" fill="none" stroke="#44948c" stroke-width="1.7" />
<polyline points="384.2,1406 522.2,1325.9" fill="none" stroke="#62aa9e" stroke-width="1.7" />
<polyline points="384.2,1406 522.2,1303.4" fill="none" stroke="#62aa9e" stroke-width="1.7" />
<polyline points="384.2,1407.8 522.2,1300" fill="none" stroke="#25439a" stroke-width="1.7" />
<polyline points="384.2,1412 522.2,1300" fill="none" stroke="#25439a" stroke-width="1.7" />
<polyline points="384.2,1412 522.2,1300" fill="none" stroke="#25439a" stroke-width="1.7" />
<polyline points="384.2,1406 522.2,1317.6" fill="none" stroke="#44948c" stroke-width="1.7" />
<polyline points="384.2,1407.8 522.2,1332.5" fill="none" stroke="#3474b0" stroke-width="1.2" />
<polyline points="384.2,1410.2 522.2,1342" fill="none" stroke="#25439a" stroke-width="1.2" />
<polyline points="384.2,1409.2 522.2,1338.9" fill="none" stroke="#3474b0" stroke-width="1.2" />
<polyline points="384.2,1409.5 522.2,1333.3" fill="none" stroke="#3474b0" stroke-width="1.2" />
<polyline points="384.2,1407.9 522.2,1322" fill="none" stroke="#3474b0" stroke-width="1.2" />
<polyline points="384.2,1409 522.2,1342" fill="none" stroke="#25439a" stroke-width="1.2" />
<polyline points="384.2,1408 522.2,1379" fill="none" stroke="#ece144" stroke-width="1.7" />
<polyline points="384.2,1408 522.2,1400" fill="none" stroke="#eaa842" stroke-width="1.7" />
<polyline points="384.2,1408 522.2,1347" fill="none" stroke="#eaa842" stroke-width="1.7" />
<polyline points="384.2,1408 522.2,1347" fill="none" stroke="#eaa842" stroke-width="1.7" />
<polyline points="384.2,1408 522.2,1347" fill="none" stroke="#ece144" stroke-width="1.7" />
<polyline points="384.2,1415 522.2,1347" fill="none" stroke="#eaa842" stroke-width="1.7" />
<polyline points="384.2,1408 522.2,1347" fill="none" stroke="#eaa842" stroke-width="1.7" />
<polyline points="384.2,1415 522.2,1347" fill="none" stroke="#ece144" stroke-width="1.7" />
<polyline points="384.2,1412.5 522.2,1400" fill="none" stroke="#eaa842" stroke-width="1.7" />
<polyline points="384.2,1415 522.2,1355" fill="none" stroke="#ece144" stroke-width="1.7" />
<polyline points="384.2,1415 522.2,1400" fill="none" stroke="#ece144" stroke-width="1.7" />
<polyline points="384.2,1415 522.2,1347" fill="none" stroke="#eaa842" stroke-width="1.7" />
<polyline points="384.2,1408 522.2,1351" fill="none" stroke="#eaa842" stroke-width="1.7" />
<polyline points="384.2,1415 522.2,1365.7" fill="none" stroke="#eaa842" stroke-width="1.7" />
<polyline points="384.2,1415 522.2,1400" fill="none" stroke="#ece144" stroke-width="1.7" />
<polyline points="384.2,1415 522.2,1347" fill="none" stroke="#ece144" stroke-width="1.7" />
<polyline points="384.2,1415 522.2,1347" fill="none" stroke="#ece144" stroke-width="1.7" />
<polyline points="384.2,1415 522.2,1397.6" fill="none" stroke="#eaa842" stroke-width="1.7" />
<polyline points="384.2,1408 522.2,1363.4" fill="none" stroke="#ece144" stroke-width="1.7" />
<polyline points="384.2,1415 522.2,1400" fill="none" stroke="#eaa842" stroke-width="1.7" />
<polyline points="384.2,1408 522.2,1379.2" fill="none" stroke="#eaa842" stroke-width="1.7" />
<polyline points="384.2,1415 522.2,1380.2" fill="none" stroke="#eaa842" stroke-width="1.7" />
<polyline points="384.2,1415 522.2,1400" fill="none" stroke="#eaa842" stroke-width="1.7" />
<polyline points="384.2,1411 522.2,1347" fill="none" stroke="#eaa842" stroke-width="1.7" />
<polyline points="384.2,1415 522.2,1349.2" fill="none" stroke="#ece144" stroke-width="1.7" />
<polyline points="384.2,1415 522.2,1377.1" fill="none" stroke="#eaa842" stroke-width="1.7" />
<polyline points="384.2,1417.7 522.2,1426.7" fill="none" stroke="#e02b26" stroke-width="1.7" />
<polyline points="384.2,1412 522.2,1400" fill="none" stroke="#e02b26" stroke-width="1.7" />
<polyline points="384.2,1412.1 522.2,1400" fill="none" stroke="#e02b26" stroke-width="1.7" />
<polyline points="384.2,1412 522.2,1400" fill="none" stroke="#e8703a" stroke-width="1.7" />
<polyline points="384.2,1412 522.2,1435.6" fill="none" stroke="#e02b26" stroke-width="1.7" />
<polyline points="384.2,1415.1 522.2,1431.8" fill="none" stroke="#e02b26" stroke-width="1.7" />
<polyline points="384.2,1412 522.2,1436.7" fill="none" stroke="#e02b26" stroke-width="1.7" />
<polyline points="384.2,1422 522.2,1413.4" fill="none" stroke="#e8703a" stroke-width="1.7" />
<polyline points="384.2,1412 522.2,1434.5" fill="none" stroke="#e02b26" stroke-width="1.7" />
<polyline points="384.2,1422 522.2,1410.3" fill="none" stroke="#e8703a" stroke-width="1.7" />
<polyline points="384.2,1420.6 522.2,1407.6" fill="none" stroke="#e02b26" stroke-width="1.7" />
<polyline points="384.2,1422 522.2,1405.7" fill="none" stroke="#e02b26" stroke-width="1.7" />
<polyline points="384.2,1419.9 522.2,1444" fill="none" stroke="#e02b26" stroke-width="1.7" />
<polyline points="384.2,1419.6 522.2,1400" fill="none" stroke="#e02b26" stroke-width="1.7" />
<polyline points="384.2,1415.7 522.2,1400" fill="none" stroke="#e8703a" stroke-width="1.7" />
<polyline points="384.2,1417.4 522.2,1444" fill="none" stroke="#e02b26" stroke-width="1.7" />
<polyline points="384.2,1413.3 522.2,1427.2" fill="none" stroke="#e8703a" stroke-width="1.7" />
<polyline points="384.2,1417.3 522.2,1444" fill="none" stroke="#e02b26" stroke-width="1.7" />
<polyline points="384.2,1412 522.2,1444" fill="none" stroke="#e02b26" stroke-width="1.7" />
<polyline points="384.2,1422 522.2,1400" fill="none" stroke="#e02b26" stroke-width="1.7" />
<polyline points="384.2,1412 522.2,1400" fill="none" stroke="#e8703a" stroke-width="1.7" />
<polyline points="384.2,1418 522.2,1400" fill="none" stroke="#e8703a" stroke-width="1.7" />
<polyline points="384.2,1412 522.2,1429.3" fill="none" stroke="#e02b26" stroke-width="1.7" />
<polyline points="384.2,1412 522.2,1444" fill="none" stroke="#e02b26" stroke-width="1.7" />
<polyline points="384.2,1412 522.2,1400" fill="none" stroke="#e02b26" stroke-width="1.7" />
<polyline points="384.2,1412 522.2,1444" fill="none" stroke="#e8703a" stroke-width="1.7" />
<polygon points="384.2,1418 522.2,1444 522.2,1471 384.2,1428" fill="#e02b26" fill-opacity="0.35"/>
<polyline points="384.2,1428 522.2,1470.4" fill="none" stroke="#e02b26" stroke-width="1.8" />
<polyline points="384.2,1425.2 522.2,1466.5" fill="none" stroke="#e02b26" stroke-width="1.8" />
<polyline points="384.2,1418 522.2,1459.5" fill="none" stroke="#e02b26" stroke-width="1.8" />
<polyline points="384.2,1425.1 522.2,1451.9" fill="none" stroke="#e02b26" stroke-width="1.8" />
<polyline points="384.2,1423.8 522.2,1458.8" fill="none" stroke="#e02b26" stroke-width="1.8" />
<polyline points="384.2,1423 522.2,1467.9" fill="none" stroke="#e02b26" stroke-width="1.8" />
<polyline points="384.2,1422.8 522.2,1451.1" fill="none" stroke="#e02b26" stroke-width="1.8" />
<polyline points="384.2,1423.2 522.2,1458.5" fill="none" stroke="#e02b26" stroke-width="1.8" />
<polyline points="384.2,1418.6 522.2,1460" fill="none" stroke="#e02b26" stroke-width="1.8" />
<polyline points="384.2,1427.1 522.2,1458.8" fill="none" stroke="#e02b26" stroke-width="1.8" />
<polyline points="384.2,1423.9 522.2,1457.4" fill="none" stroke="#e02b26" stroke-width="1.8" />
<polyline points="384.2,1421.5 522.2,1452.3" fill="none" stroke="#e02b26" stroke-width="1.8" />
<polyline points="384.2,1418.6 522.2,1453.3" fill="none" stroke="#e02b26" stroke-width="1.8" />
<polyline points="384.2,1428 522.2,1470.1" fill="none" stroke="#e02b26" stroke-width="1.8" />
<polyline points="384.2,1425.7 522.2,1470.3" fill="none" stroke="#e02b26" stroke-width="1.8" />
<polyline points="384.2,1418.5 522.2,1444" fill="none" stroke="#e02b26" stroke-width="1.8" />
<polyline points="384.2,1426.8 522.2,1470.4" fill="none" stroke="#e02b26" stroke-width="1.8" />
<polyline points="384.2,1424.6 522.2,1458.7" fill="none" stroke="#e02b26" stroke-width="1.8" />
<polyline points="384.2,1428 522.2,1471" fill="none" stroke="#e02b26" stroke-width="1.8" />
<polyline points="384.2,1425.4 522.2,1454.2" fill="none" stroke="#e02b26" stroke-width="1.8" />
<polygon points="522.2,1300 600,1369 660,1374 730,1380 797.6,1378 797.6,1384 730,1386 660,1381 600,1380 522.2,1347" fill="#44948c" />
<polyline points="522.2,1347 600,1380 660,1380.8 730,1385.6 797.6,1383.1" fill="none" stroke="#3474b0" stroke-width="1.2" />
<polyline points="522.2,1303.1 600,1372.1 660,1375.3 730,1380.4 797.6,1379.8" fill="none" stroke="#44948c" stroke-width="1.2" />
<polyline points="522.2,1342.8 600,1378.6 660,1380.5 730,1385.1 797.6,1383.8" fill="none" stroke="#3474b0" stroke-width="1.2" />
<polyline points="522.2,1330.1 600,1375.1 660,1377.6 730,1382 797.6,1380.2" fill="none" stroke="#3474b0" stroke-width="1.2" />
<polyline points="522.2,1326.7 600,1372.8 660,1377.9 730,1383.7 797.6,1381.2" fill="none" stroke="#62aa9e" stroke-width="1.2" />
<polyline points="522.2,1306.6 600,1370.5 660,1375 730,1380.9 797.6,1379.6" fill="none" stroke="#44948c" stroke-width="1.2" />
<polyline points="522.2,1309.6 600,1371.5 660,1375.7 730,1381.3 797.6,1379.5" fill="none" stroke="#3474b0" stroke-width="1.2" />
<polyline points="522.2,1326.9 600,1372.7 660,1376.1 730,1383.1 797.6,1380.6" fill="none" stroke="#3474b0" stroke-width="1.2" />
<polyline points="522.2,1327.4 600,1375.6 660,1379.1 730,1384.2 797.6,1382.5" fill="none" stroke="#62aa9e" stroke-width="1.2" />
<polyline points="522.2,1341.6 600,1380 660,1380.5 730,1385.7 797.6,1383.4" fill="none" stroke="#44948c" stroke-width="1.2" />
<polyline points="522.2,1300.1 600,1370.5 660,1376.3 730,1381 797.6,1379.1" fill="none" stroke="#3474b0" stroke-width="1.2" />
<polyline points="522.2,1312.9 600,1374.1 660,1377.5 730,1382.9 797.6,1379.4" fill="none" stroke="#62aa9e" stroke-width="1.2" />
<polyline points="522.2,1312 600,1371 660,1375 730,1381 797.6,1378.8" fill="none" stroke="#3474b0" stroke-width="1.3" />
<polyline points="522.2,1308.1 600,1369.3 660,1374 730,1380.5 797.6,1378.3" fill="none" stroke="#25439a" stroke-width="1.3" />
<polyline points="522.2,1306.4 600,1370.2 660,1374 730,1381 797.6,1378.3" fill="none" stroke="#25439a" stroke-width="1.3" />
<polyline points="522.2,1307.6 600,1369.9 660,1373.7 730,1380.1 797.6,1377.9" fill="none" stroke="#3474b0" stroke-width="1.3" />
<polygon points="522.2,1345 600,1378 660,1380 730,1385 797.6,1383 797.6,1395 730,1396 660,1392 600,1402 522.2,1402" fill="#eaa842" />
<polyline points="522.2,1369.8 600,1388.3 660,1384.3 730,1389.2 797.6,1387.2" fill="none" stroke="#eaa842" stroke-width="1.2" />
<polyline points="522.2,1356.3 600,1380.3 660,1385.1 730,1389 797.6,1387.5" fill="none" stroke="#ece144" stroke-width="1.2" />
<polyline points="522.2,1354.4 600,1384.2 660,1380.7 730,1386.5 797.6,1383" fill="none" stroke="#ece144" stroke-width="1.2" />
<polyline points="522.2,1402 600,1396 660,1388.6 730,1393.6 797.6,1389.2" fill="none" stroke="#ece144" stroke-width="1.2" />
<polyline points="522.2,1381.3 600,1395.4 660,1387 730,1390.4 797.6,1390.2" fill="none" stroke="#eaa842" stroke-width="1.2" />
<polyline points="522.2,1356.9 600,1379.7 660,1381.3 730,1385.6 797.6,1384.7" fill="none" stroke="#ece144" stroke-width="1.2" />
<polyline points="522.2,1345.4 600,1379.7 660,1383.1 730,1387 797.6,1385.3" fill="none" stroke="#eaa842" stroke-width="1.2" />
<polyline points="522.2,1389.1 600,1397.4 660,1388.4 730,1394.6 797.6,1392.1" fill="none" stroke="#eaa842" stroke-width="1.2" />
<polyline points="522.2,1393 600,1402 660,1392 730,1395.7 797.6,1395" fill="none" stroke="#ece144" stroke-width="1.2" />
<polyline points="522.2,1345 600,1380.2 660,1383 730,1388 797.6,1385.7" fill="none" stroke="#eaa842" stroke-width="1.2" />
<polygon points="522.2,1396 600,1392 660,1386 730,1391 797.6,1390 797.6,1399 730,1399 660,1398 600,1406 522.2,1414" fill="#e8703a" />
<polyline points="522.2,1396 600,1392 660,1386.4 730,1391 797.6,1393.8" fill="none" stroke="#e8703a" stroke-width="1.2" />
<polyline points="522.2,1407.7 600,1403.5 660,1393.2 730,1398.9 797.6,1393.8" fill="none" stroke="#e8703a" stroke-width="1.2" />
<polyline points="522.2,1402.7 600,1399.8 660,1390.7 730,1394.6 797.6,1390.7" fill="none" stroke="#e8703a" stroke-width="1.2" />
<polyline points="522.2,1414 600,1406 660,1389.2 730,1399 797.6,1396.8" fill="none" stroke="#e8703a" stroke-width="1.2" />
<polyline points="522.2,1406.6 600,1401.6 660,1390.9 730,1397.2 797.6,1396.2" fill="none" stroke="#e8703a" stroke-width="1.2" />
<polyline points="522.2,1403 600,1401.5 660,1389.8 730,1392.1 797.6,1390" fill="none" stroke="#e8703a" stroke-width="1.2" />
<polyline points="522.2,1396 600,1394.7 660,1392.2 730,1395.3 797.6,1393.3" fill="none" stroke="#e8703a" stroke-width="1.2" />
<polyline points="522.2,1403.9 600,1396.7 660,1389 730,1395.9 797.6,1393" fill="none" stroke="#e8703a" stroke-width="1.2" />
<polygon points="522.2,1410 600,1400 660,1395 730,1396 797.6,1395 797.6,1527 730,1515 660,1506 600,1472 522.2,1472" fill="#e02b26" />
<polyline points="522.2,1410 600,1401.5 660,1396.2 730,1396 797.6,1396.2" fill="none" stroke="#d8241f" stroke-width="1.0" />
<polyline points="522.2,1425.7 600,1409.9 660,1425.5 730,1417.8 797.6,1412.1" fill="none" stroke="#e63a2a" stroke-width="1.0" />
<polyline points="522.2,1418.3 600,1425.8 660,1405.3 730,1435.1 797.6,1416.9" fill="none" stroke="#e63a2a" stroke-width="1.0" />
<polyline points="522.2,1410.2 600,1410.2 660,1400.6 730,1396.1 797.6,1401.7" fill="none" stroke="#e8703a" stroke-width="1.0" />
<polyline points="522.2,1451.4 600,1446.9 660,1491.1 730,1498.2 797.6,1495" fill="none" stroke="#e8703a" stroke-width="1.0" />
<polyline points="522.2,1427.9 600,1412.6 660,1404.9 730,1400.9 797.6,1410.5" fill="none" stroke="#e8703a" stroke-width="1.0" />
<polyline points="522.2,1414.8 600,1400 660,1404.1 730,1422.3 797.6,1409.6" fill="none" stroke="#e8703a" stroke-width="1.0" />
<polyline points="522.2,1465.7 600,1458.8 660,1496.4 730,1502.8 797.6,1509.3" fill="none" stroke="#e63a2a" stroke-width="1.0" />
<polyline points="522.2,1418.5 600,1410.3 660,1436.5 730,1414.9 797.6,1427.6" fill="none" stroke="#d8241f" stroke-width="1.0" />
<polyline points="522.2,1435.9 600,1437.1 660,1428.3 730,1434 797.6,1431.1" fill="none" stroke="#d8241f" stroke-width="1.0" />
<polyline points="522.2,1470.3 600,1472 660,1484.5 730,1515 797.6,1524.3" fill="none" stroke="#d8241f" stroke-width="1.0" />
<polyline points="522.2,1422 600,1421 660,1423.2 730,1422.7 797.6,1419.8" fill="none" stroke="#e8703a" stroke-width="1.0" />
<polyline points="522.2,1423.4 600,1414.1 660,1418.1 730,1427.6 797.6,1449.7" fill="none" stroke="#d8241f" stroke-width="1.0" />
<polyline points="522.2,1453.1 600,1442.1 660,1471.4 730,1501.8 797.6,1492.2" fill="none" stroke="#e8703a" stroke-width="1.0" />
<polyline points="522.2,1461.3 600,1465.2 660,1501 730,1515 797.6,1526.2" fill="none" stroke="#e8703a" stroke-width="1.0" />
<polyline points="522.2,1411.4 600,1400 660,1395.9 730,1397.5 797.6,1398" fill="none" stroke="#d8241f" stroke-width="1.0" />
<polyline points="522.2,1439.4 600,1441 660,1467 730,1462.2 797.6,1489.4" fill="none" stroke="#e63a2a" stroke-width="1.0" />
<polyline points="522.2,1452 600,1444.1 660,1464.2 730,1482.6 797.6,1486.8" fill="none" stroke="#d8241f" stroke-width="1.0" />
<polyline points="522.2,1441.4 600,1441.1 660,1442.2 730,1445.1 797.6,1447.9" fill="none" stroke="#e63a2a" stroke-width="1.0" />
<polyline points="522.2,1449.6 600,1439.6 660,1466.7 730,1469.6 797.6,1497.9" fill="none" stroke="#d8241f" stroke-width="1.0" />
<polyline points="522.2,1462 600,1462.7 660,1493.3 730,1487.8 797.6,1503.9" fill="none" stroke="#d8241f" stroke-width="1.0" />
<polyline points="522.2,1443 600,1426.8 660,1451.6 730,1449.5 797.6,1458.1" fill="none" stroke="#d8241f" stroke-width="1.0" />
<polyline points="522.2,1415.6 600,1406.3 660,1395 730,1397.6 797.6,1397.6" fill="none" stroke="#d8241f" stroke-width="1.0" />
<polyline points="522.2,1410 600,1407.3 660,1409 730,1396 797.6,1422.2" fill="none" stroke="#e8703a" stroke-width="1.0" />
<polyline points="522.2,1453.7 600,1444.2 660,1462.5 730,1452.3 797.6,1458.4" fill="none" stroke="#e8703a" stroke-width="1.0" />
<polyline points="522.2,1441.1 600,1435 660,1438.5 730,1450.9 797.6,1458.6" fill="none" stroke="#e63a2a" stroke-width="1.0" />
<polyline points="522.2,1430.5 600,1410.2 660,1419 730,1427.7 797.6,1402.6" fill="none" stroke="#e8703a" stroke-width="1.0" />
<polyline points="522.2,1428.9 600,1425.6 660,1432.8 730,1435.7 797.6,1431.5" fill="none" stroke="#e8703a" stroke-width="1.0" />
<polyline points="522.2,1464.5 600,1458.6 660,1487.8 730,1488.4 797.6,1515" fill="none" stroke="#d8241f" stroke-width="1.0" />
<polyline points="522.2,1447.5 600,1430.1 660,1456 730,1469.8 797.6,1468.1" fill="none" stroke="#d8241f" stroke-width="1.0" />
<polyline points="522.2,1437.5 600,1419.4 660,1441 730,1436.6 797.6,1460.7" fill="none" stroke="#d8241f" stroke-width="1.0" />
<polyline points="522.2,1414.8 600,1404.1 660,1396.7 730,1396 797.6,1420.5" fill="none" stroke="#e63a2a" stroke-width="1.0" />
<polyline points="522.2,1455.8 600,1456.1 660,1492.6 730,1479.4 797.6,1495.2" fill="none" stroke="#e8703a" stroke-width="1.0" />
<polyline points="522.2,1429.1 600,1433.3 660,1455.9 730,1458 797.6,1460" fill="none" stroke="#e63a2a" stroke-width="1.0" />
<polyline points="522.2,1460.3 600,1470.1 660,1496.5 730,1502.2 797.6,1518.4" fill="none" stroke="#d8241f" stroke-width="1.0" />
<polyline points="522.2,1428.8 600,1432.8 660,1456.8 730,1454.6 797.6,1444.7" fill="none" stroke="#e63a2a" stroke-width="1.0" />
<polyline points="522.2,1472 600,1472 660,1504.7 730,1512.5 797.6,1527" fill="none" stroke="#e8703a" stroke-width="1.0" />
<polyline points="522.2,1458.8 600,1451.9 660,1459.3 730,1478.8 797.6,1497.2" fill="none" stroke="#e63a2a" stroke-width="1.0" />
<polyline points="522.2,1424.6 600,1405.4 660,1407 730,1413.4 797.6,1419" fill="none" stroke="#e63a2a" stroke-width="1.0" />
<polyline points="522.2,1438.9 600,1439.6 660,1440.8 730,1445.7 797.6,1455" fill="none" stroke="#e63a2a" stroke-width="1.0" />
<polyline points="522.2,1425.9 600,1417.2 660,1432.5 730,1429 797.6,1419.8" fill="none" stroke="#e63a2a" stroke-width="1.0" />
<polyline points="522.2,1429.8 600,1408.1 660,1412.8 730,1422.2 797.6,1424" fill="none" stroke="#e63a2a" stroke-width="1.0" />
<polyline points="522.2,1454.5 600,1437.3 660,1456.9 730,1471.1 797.6,1482.2" fill="none" stroke="#d8241f" stroke-width="1.0" />
<polyline points="522.2,1441.5 600,1437.4 660,1454 730,1450.4 797.6,1460.2" fill="none" stroke="#e63a2a" stroke-width="1.0" />
<polyline points="522.2,1419.4 600,1410.4 660,1416.7 730,1414.1 797.6,1422.3" fill="none" stroke="#e63a2a" stroke-width="1.0" />
<polygon points="752,1456 797,1460 797,1478 770,1470" fill="#f0e070" />
<polyline points="730,1462 797.6,1462" fill="none" stroke="#3474b0" stroke-width="1.5" />
<polygon points="797.6,1380 937.3,1276.4 937.3,1278.4 797.6,1527" fill="#e02b26" />
<polyline points="797.6,1447 937.3,1278.4" fill="none" stroke="#e8703a" stroke-width="1.0" />
<polyline points="797.6,1443.9 937.3,1277.1" fill="none" stroke="#e63a2a" stroke-width="1.0" />
<polyline points="797.6,1423.8 937.3,1276.4" fill="none" stroke="#d8241f" stroke-width="1.0" />
<polyline points="797.6,1481.8 937.3,1277" fill="none" stroke="#e63a2a" stroke-width="1.0" />
<polyline points="797.6,1521.5 937.3,1278" fill="none" stroke="#d8241f" stroke-width="1.0" />
<polyline points="797.6,1495.6 937.3,1278.4" fill="none" stroke="#d8241f" stroke-width="1.0" />
<polyline points="797.6,1412.6 937.3,1276.9" fill="none" stroke="#e8703a" stroke-width="1.0" />
<polyline points="797.6,1470.7 937.3,1276.5" fill="none" stroke="#e63a2a" stroke-width="1.0" />
<polyline points="797.6,1527 937.3,1277.9" fill="none" stroke="#e63a2a" stroke-width="1.0" />
<polyline points="797.6,1380 937.3,1276.4" fill="none" stroke="#d8241f" stroke-width="1.0" />
<polyline points="797.6,1527 937.3,1277" fill="none" stroke="#d8241f" stroke-width="1.0" />
<polyline points="797.6,1486.1 937.3,1278" fill="none" stroke="#e63a2a" stroke-width="1.0" />
<polyline points="797.6,1469 937.3,1276.4" fill="none" stroke="#e63a2a" stroke-width="1.0" />
<polyline points="797.6,1527 937.3,1278.4" fill="none" stroke="#e8703a" stroke-width="1.0" />
<polyline points="797.6,1416.7 937.3,1276.4" fill="none" stroke="#e63a2a" stroke-width="1.0" />
<polyline points="797.6,1380 937.3,1276.6" fill="none" stroke="#e8703a" stroke-width="1.0" />
<polyline points="797.6,1391.8 937.3,1277.1" fill="none" stroke="#e8703a" stroke-width="1.0" />
<polyline points="797.6,1507.1 937.3,1278.3" fill="none" stroke="#e8703a" stroke-width="1.0" />
<polyline points="797.6,1380 937.3,1276.4" fill="none" stroke="#e63a2a" stroke-width="1.0" />
<polyline points="797.6,1465.6 937.3,1277.1" fill="none" stroke="#e63a2a" stroke-width="1.0" />
<polyline points="797.6,1428.4 937.3,1276.9" fill="none" stroke="#e63a2a" stroke-width="1.0" />
<polyline points="797.6,1527 937.3,1277.8" fill="none" stroke="#e63a2a" stroke-width="1.0" />
<polyline points="797.6,1527 937.3,1278" fill="none" stroke="#e63a2a" stroke-width="1.0" />
<polyline points="797.6,1448 937.3,1276.4" fill="none" stroke="#e63a2a" stroke-width="1.0" />
<polyline points="797.6,1495.4 937.3,1277.8" fill="none" stroke="#e63a2a" stroke-width="1.0" />
<polyline points="797.6,1434.1 937.3,1277.7" fill="none" stroke="#e63a2a" stroke-width="1.0" />
<polyline points="797.6,1527 937.3,1278.1" fill="none" stroke="#e8703a" stroke-width="1.0" />
<polyline points="797.6,1522.4 937.3,1278.4" fill="none" stroke="#d8241f" stroke-width="1.0" />
<polyline points="797.6,1446.4 937.3,1277.3" fill="none" stroke="#e63a2a" stroke-width="1.0" />
<polyline points="797.6,1527 937.3,1278.4" fill="none" stroke="#e63a2a" stroke-width="1.0" />
<polyline points="797.6,1383.2 937.3,1277.4" fill="none" stroke="#ece144" stroke-width="1.3" />
<polyline points="797.6,1378.6 937.3,1277.4" fill="none" stroke="#44948c" stroke-width="1.3" />
<polyline points="797.6,1383.4 937.3,1277.4" fill="none" stroke="#eaa842" stroke-width="1.3" />
<polyline points="797.6,1379.1 937.3,1277.4" fill="none" stroke="#44948c" stroke-width="1.3" />
<polyline points="797.6,1381.7 937.3,1277.4" fill="none" stroke="#ece144" stroke-width="1.3" />
<polyline points="797.6,1378.7 937.3,1277.4" fill="none" stroke="#44948c" stroke-width="1.3" />
<polyline points="797.6,1460 937.3,1277.4" fill="none" stroke="#ece144" stroke-width="1.5" />
<polyline points="797.6,1468 937.3,1277.4" fill="none" stroke="#ece144" stroke-width="1.5" />
<polyline points="797.6,1475 937.3,1277.4" fill="none" stroke="#ece144" stroke-width="1.5" />
<polyline points="797.6,1455 937.3,1277.4" fill="none" stroke="#44948c" stroke-width="1.3" />
<rect x="103.5" y="1276" width="6" height="134" fill="#f25af2" />
<text x="97.7" y="1279.5" font-size="19" text-anchor="end" fill="#555555" >3000</text>
<text x="97.7" y="1346.5" font-size="19" text-anchor="end" fill="#555555" >1500</text>
<text x="98.7" y="1418.6" font-size="22" text-anchor="end" fill="#111" >0</text>
<text x="97.7" y="1479.4" font-size="19" text-anchor="end" fill="#555555" >-1500</text>
<text x="97.7" y="1545.3" font-size="19" text-anchor="end" fill="#555555" >-3000</text>
<text x="235.5" y="1294.4" font-size="19" text-anchor="end" fill="#555555" >40M</text>
<text x="235.5" y="1354" font-size="19" text-anchor="end" fill="#555555" >20M</text>
<text x="236.5" y="1418.6" font-size="22" text-anchor="end" fill="#111" >0</text>
<text x="235.5" y="1472.1" font-size="19" text-anchor="end" fill="#555555" >-20M</text>
<text x="235.5" y="1530.7" font-size="19" text-anchor="end" fill="#555555" >-40M</text>
<text x="375.2" y="1270.5" font-size="19" text-anchor="end" fill="#555555" >12M</text>
<text x="375.2" y="1337.5" font-size="19" text-anchor="end" fill="#555555" >6M</text>
<text x="376.2" y="1418.6" font-size="22" text-anchor="end" fill="#111" >0</text>
<text x="375.2" y="1479.4" font-size="19" text-anchor="end" fill="#555555" >-6M</text>
<text x="375.2" y="1545.3" font-size="19" text-anchor="end" fill="#555555" >-12M</text>
<text x="513.2" y="1279.5" font-size="19" text-anchor="end" fill="#555555" >12</text>
<text x="513.2" y="1346.5" font-size="19" text-anchor="end" fill="#555555" >6</text>
<text x="514.2" y="1418.6" font-size="22" text-anchor="end" fill="#111" >0</text>
<text x="513.2" y="1479.4" font-size="19" text-anchor="end" fill="#555555" >-6</text>
<text x="513.2" y="1545.3" font-size="19" text-anchor="end" fill="#555555" >-12</text>
<text x="651" y="1294.4" font-size="19" text-anchor="end" fill="#555555" >80</text>
<text x="651" y="1354" font-size="19" text-anchor="end" fill="#555555" >40</text>
<text x="652" y="1418.6" font-size="22" text-anchor="end" fill="#111" >0</text>
<text x="651" y="1472.1" font-size="19" text-anchor="end" fill="#555555" >-40</text>
<text x="651" y="1530.7" font-size="19" text-anchor="end" fill="#555555" >-80</text>
<text x="788.6" y="1279.5" font-size="19" text-anchor="end" fill="#555555" >50</text>
<text x="788.6" y="1346.5" font-size="19" text-anchor="end" fill="#555555" >25</text>
<text x="789.6" y="1418.6" font-size="22" text-anchor="end" fill="#111" >0</text>
<text x="788.6" y="1479.4" font-size="19" text-anchor="end" fill="#555555" >-25</text>
<text x="788.6" y="1545.3" font-size="19" text-anchor="end" fill="#555555" >-50</text>
<line x1="937.3" y1="1270.4" x2="937.3" y2="1543.5" stroke="#b4b4b4" stroke-width="1.3" />
<line x1="1079" y1="1270.4" x2="1079" y2="1543.5" stroke="#b4b4b4" stroke-width="1.3" />
<line x1="1214.6" y1="1270.4" x2="1214.6" y2="1543.5" stroke="#b4b4b4" stroke-width="1.3" />
<line x1="1350" y1="1270.4" x2="1350" y2="1543.5" stroke="#b4b4b4" stroke-width="1.3" />
<line x1="930.3" y1="1277.4" x2="937.3" y2="1277.4" stroke="#b4b4b4" stroke-width="1.2" />
<line x1="930.3" y1="1366.1" x2="937.3" y2="1366.1" stroke="#b4b4b4" stroke-width="1.2" />
<line x1="930.3" y1="1454.8" x2="937.3" y2="1454.8" stroke="#b4b4b4" stroke-width="1.2" />
<line x1="930.3" y1="1543.5" x2="937.3" y2="1543.5" stroke="#b4b4b4" stroke-width="1.2" />
<line x1="1072" y1="1277.4" x2="1079" y2="1277.4" stroke="#b4b4b4" stroke-width="1.2" />
<line x1="1072" y1="1343.9" x2="1079" y2="1343.9" stroke="#b4b4b4" stroke-width="1.2" />
<line x1="1072" y1="1410.5" x2="1079" y2="1410.5" stroke="#b4b4b4" stroke-width="1.2" />
<line x1="1072" y1="1477" x2="1079" y2="1477" stroke="#b4b4b4" stroke-width="1.2" />
<line x1="1072" y1="1543.5" x2="1079" y2="1543.5" stroke="#b4b4b4" stroke-width="1.2" />
<line x1="1207.6" y1="1277.4" x2="1214.6" y2="1277.4" stroke="#b4b4b4" stroke-width="1.2" />
<line x1="1207.6" y1="1330.6" x2="1214.6" y2="1330.6" stroke="#b4b4b4" stroke-width="1.2" />
<line x1="1207.6" y1="1383.8" x2="1214.6" y2="1383.8" stroke="#b4b4b4" stroke-width="1.2" />
<line x1="1207.6" y1="1437.1" x2="1214.6" y2="1437.1" stroke="#b4b4b4" stroke-width="1.2" />
<line x1="1207.6" y1="1490.3" x2="1214.6" y2="1490.3" stroke="#b4b4b4" stroke-width="1.2" />
<line x1="1207.6" y1="1543.5" x2="1214.6" y2="1543.5" stroke="#b4b4b4" stroke-width="1.2" />
<line x1="1343" y1="1277.4" x2="1350" y2="1277.4" stroke="#b4b4b4" stroke-width="1.2" />
<line x1="1343" y1="1343.9" x2="1350" y2="1343.9" stroke="#b4b4b4" stroke-width="1.2" />
<line x1="1343" y1="1410.5" x2="1350" y2="1410.5" stroke="#b4b4b4" stroke-width="1.2" />
<line x1="1343" y1="1477" x2="1350" y2="1477" stroke="#b4b4b4" stroke-width="1.2" />
<line x1="1343" y1="1543.5" x2="1350" y2="1543.5" stroke="#b4b4b4" stroke-width="1.2" />
<line x1="937.3" y1="1366.1" x2="1079" y2="1277.4" stroke="#ebebeb" stroke-width="1.0" />
<line x1="937.3" y1="1366.1" x2="1079" y2="1343.9" stroke="#ebebeb" stroke-width="1.0" />
<line x1="937.3" y1="1366.1" x2="1079" y2="1410.5" stroke="#ebebeb" stroke-width="1.0" />
<line x1="937.3" y1="1366.1" x2="1079" y2="1477" stroke="#ebebeb" stroke-width="1.0" />
<line x1="937.3" y1="1366.1" x2="1079" y2="1543.5" stroke="#ebebeb" stroke-width="1.0" />
<line x1="937.3" y1="1454.8" x2="1079" y2="1277.4" stroke="#ebebeb" stroke-width="1.0" />
<line x1="937.3" y1="1454.8" x2="1079" y2="1343.9" stroke="#ebebeb" stroke-width="1.0" />
<line x1="937.3" y1="1454.8" x2="1079" y2="1410.5" stroke="#ebebeb" stroke-width="1.0" />
<line x1="937.3" y1="1454.8" x2="1079" y2="1477" stroke="#ebebeb" stroke-width="1.0" />
<line x1="937.3" y1="1454.8" x2="1079" y2="1543.5" stroke="#ebebeb" stroke-width="1.0" />
<line x1="937.3" y1="1277.4" x2="1079" y2="1277.4" stroke="#cc3a48" stroke-width="1.15" />
<line x1="937.3" y1="1277.4" x2="1079" y2="1343.9" stroke="#cc3a48" stroke-width="1.15" />
<line x1="937.3" y1="1277.4" x2="1079" y2="1410.5" stroke="#cc3a48" stroke-width="1.15" />
<line x1="937.3" y1="1277.4" x2="1079" y2="1477" stroke="#cc3a48" stroke-width="1.15" />
<line x1="937.3" y1="1277.4" x2="1079" y2="1543.5" stroke="#cc3a48" stroke-width="1.15" />
<line x1="1079" y1="1277.4" x2="1214.6" y2="1277.4" stroke="#cc3a48" stroke-width="1.15" />
<line x1="1079" y1="1277.4" x2="1214.6" y2="1330.6" stroke="#cc3a48" stroke-width="1.15" />
<line x1="1079" y1="1277.4" x2="1214.6" y2="1383.8" stroke="#cc3a48" stroke-width="1.15" />
<line x1="1079" y1="1277.4" x2="1214.6" y2="1437.1" stroke="#cc3a48" stroke-width="1.15" />
<line x1="1079" y1="1277.4" x2="1214.6" y2="1490.3" stroke="#cc3a48" stroke-width="1.15" />
<line x1="1079" y1="1277.4" x2="1214.6" y2="1543.5" stroke="#cc3a48" stroke-width="1.15" />
<line x1="1079" y1="1343.9" x2="1214.6" y2="1277.4" stroke="#cc3a48" stroke-width="1.15" />
<line x1="1079" y1="1343.9" x2="1214.6" y2="1330.6" stroke="#cc3a48" stroke-width="1.15" />
<line x1="1079" y1="1343.9" x2="1214.6" y2="1383.8" stroke="#cc3a48" stroke-width="1.15" />
<line x1="1079" y1="1343.9" x2="1214.6" y2="1437.1" stroke="#cc3a48" stroke-width="1.15" />
<line x1="1079" y1="1343.9" x2="1214.6" y2="1490.3" stroke="#cc3a48" stroke-width="1.15" />
<line x1="1079" y1="1343.9" x2="1214.6" y2="1543.5" stroke="#cc3a48" stroke-width="1.15" />
<line x1="1079" y1="1410.5" x2="1214.6" y2="1277.4" stroke="#cc3a48" stroke-width="1.15" />
<line x1="1079" y1="1410.5" x2="1214.6" y2="1330.6" stroke="#cc3a48" stroke-width="1.15" />
<line x1="1079" y1="1410.5" x2="1214.6" y2="1383.8" stroke="#cc3a48" stroke-width="1.15" />
<line x1="1079" y1="1410.5" x2="1214.6" y2="1437.1" stroke="#cc3a48" stroke-width="1.15" />
<line x1="1079" y1="1410.5" x2="1214.6" y2="1490.3" stroke="#cc3a48" stroke-width="1.15" />
<line x1="1079" y1="1410.5" x2="1214.6" y2="1543.5" stroke="#cc3a48" stroke-width="1.15" />
<line x1="1079" y1="1477" x2="1214.6" y2="1277.4" stroke="#cc3a48" stroke-width="1.15" />
<line x1="1079" y1="1477" x2="1214.6" y2="1330.6" stroke="#cc3a48" stroke-width="1.15" />
<line x1="1079" y1="1477" x2="1214.6" y2="1383.8" stroke="#cc3a48" stroke-width="1.15" />
<line x1="1079" y1="1477" x2="1214.6" y2="1437.1" stroke="#cc3a48" stroke-width="1.15" />
<line x1="1079" y1="1477" x2="1214.6" y2="1490.3" stroke="#cc3a48" stroke-width="1.15" />
<line x1="1079" y1="1477" x2="1214.6" y2="1543.5" stroke="#cc3a48" stroke-width="1.15" />
<line x1="1079" y1="1543.5" x2="1214.6" y2="1277.4" stroke="#cc3a48" stroke-width="1.15" />
<line x1="1079" y1="1543.5" x2="1214.6" y2="1330.6" stroke="#cc3a48" stroke-width="1.15" />
<line x1="1079" y1="1543.5" x2="1214.6" y2="1383.8" stroke="#cc3a48" stroke-width="1.15" />
<line x1="1079" y1="1543.5" x2="1214.6" y2="1437.1" stroke="#cc3a48" stroke-width="1.15" />
<line x1="1079" y1="1543.5" x2="1214.6" y2="1490.3" stroke="#cc3a48" stroke-width="1.15" />
<line x1="1079" y1="1543.5" x2="1214.6" y2="1543.5" stroke="#cc3a48" stroke-width="1.15" />
<line x1="1214.6" y1="1277.4" x2="1350" y2="1277.4" stroke="#cc3a48" stroke-width="1.15" />
<line x1="1214.6" y1="1277.4" x2="1350" y2="1343.9" stroke="#cc3a48" stroke-width="1.15" />
<line x1="1214.6" y1="1277.4" x2="1350" y2="1410.5" stroke="#cc3a48" stroke-width="1.15" />
<line x1="1214.6" y1="1277.4" x2="1350" y2="1477" stroke="#cc3a48" stroke-width="1.15" />
<line x1="1214.6" y1="1277.4" x2="1350" y2="1543.5" stroke="#cc3a48" stroke-width="1.15" />
<line x1="1214.6" y1="1330.6" x2="1350" y2="1277.4" stroke="#cc3a48" stroke-width="1.15" />
<line x1="1214.6" y1="1330.6" x2="1350" y2="1343.9" stroke="#cc3a48" stroke-width="1.15" />
<line x1="1214.6" y1="1330.6" x2="1350" y2="1410.5" stroke="#cc3a48" stroke-width="1.15" />
<line x1="1214.6" y1="1330.6" x2="1350" y2="1477" stroke="#cc3a48" stroke-width="1.15" />
<line x1="1214.6" y1="1330.6" x2="1350" y2="1543.5" stroke="#cc3a48" stroke-width="1.15" />
<line x1="1214.6" y1="1383.8" x2="1350" y2="1277.4" stroke="#cc3a48" stroke-width="1.15" />
<line x1="1214.6" y1="1383.8" x2="1350" y2="1343.9" stroke="#cc3a48" stroke-width="1.15" />
<line x1="1214.6" y1="1383.8" x2="1350" y2="1410.5" stroke="#cc3a48" stroke-width="1.15" />
<line x1="1214.6" y1="1383.8" x2="1350" y2="1477" stroke="#cc3a48" stroke-width="1.15" />
<line x1="1214.6" y1="1383.8" x2="1350" y2="1543.5" stroke="#cc3a48" stroke-width="1.15" />
<line x1="1214.6" y1="1437.1" x2="1350" y2="1277.4" stroke="#cc3a48" stroke-width="1.15" />
<line x1="1214.6" y1="1437.1" x2="1350" y2="1343.9" stroke="#cc3a48" stroke-width="1.15" />
<line x1="1214.6" y1="1437.1" x2="1350" y2="1410.5" stroke="#cc3a48" stroke-width="1.15" />
<line x1="1214.6" y1="1437.1" x2="1350" y2="1477" stroke="#cc3a48" stroke-width="1.15" />
<line x1="1214.6" y1="1437.1" x2="1350" y2="1543.5" stroke="#cc3a48" stroke-width="1.15" />
<line x1="1214.6" y1="1490.3" x2="1350" y2="1277.4" stroke="#cc3a48" stroke-width="1.15" />
<line x1="1214.6" y1="1490.3" x2="1350" y2="1343.9" stroke="#cc3a48" stroke-width="1.15" />
<line x1="1214.6" y1="1490.3" x2="1350" y2="1410.5" stroke="#cc3a48" stroke-width="1.15" />
<line x1="1214.6" y1="1490.3" x2="1350" y2="1477" stroke="#cc3a48" stroke-width="1.15" />
<line x1="1214.6" y1="1490.3" x2="1350" y2="1543.5" stroke="#cc3a48" stroke-width="1.15" />
<line x1="1214.6" y1="1543.5" x2="1350" y2="1277.4" stroke="#cc3a48" stroke-width="1.15" />
<line x1="1214.6" y1="1543.5" x2="1350" y2="1343.9" stroke="#cc3a48" stroke-width="1.15" />
<line x1="1214.6" y1="1543.5" x2="1350" y2="1410.5" stroke="#cc3a48" stroke-width="1.15" />
<line x1="1214.6" y1="1543.5" x2="1350" y2="1477" stroke="#cc3a48" stroke-width="1.15" />
<line x1="1214.6" y1="1543.5" x2="1350" y2="1543.5" stroke="#cc3a48" stroke-width="1.15" />
<polyline points="106.7,1410.6 797.6,1410.6 937.3,1543.5 1079,1543.5 1214.6,1437.1 1350,1277.4" fill="none" stroke="#2b2b2b" stroke-width="2" stroke-dasharray="6,4"/>
<text x="934.3" y="1288.4" font-size="20" text-anchor="start" fill="#333" >S3</text>
<text x="934.3" y="1388.1" font-size="20" text-anchor="start" fill="#333" >S2</text>
<text x="934.3" y="1473.8" font-size="20" text-anchor="start" fill="#333" >S1</text>
<text x="933.3" y="1539.5" font-size="18" text-anchor="start" fill="#333" >Baseline</text>
<text x="1067" y="1272.4" font-size="20" text-anchor="end" fill="#333" >e</text>
<text x="1067" y="1339.4" font-size="20" text-anchor="end" fill="#333" >d</text>
<text x="1067" y="1405.5" font-size="20" text-anchor="end" fill="#333" >c</text>
<text x="1067" y="1477" font-size="20" text-anchor="end" fill="#333" >b</text>
<text x="1067" y="1543" font-size="20" text-anchor="end" fill="#333" >a</text>
<text x="1206.6" y="1268.4" font-size="19" text-anchor="end" fill="#333" >130</text>
<text x="1205.4" y="1321.6" font-size="19" text-anchor="end" fill="#333" >120</text>
<text x="1204.2" y="1376.8" font-size="19" text-anchor="end" fill="#333" >110</text>
<text x="1203" y="1432.6" font-size="19" text-anchor="end" fill="#333" >100</text>
<text x="1201.8" y="1490.8" font-size="19" text-anchor="end" fill="#333" >90</text>
<text x="1200.6" y="1544.5" font-size="19" text-anchor="end" fill="#333" >80</text>
<text x="1356.5" y="1275.4" font-size="20" text-anchor="start" fill="#333" >1195</text>
<text x="1356.5" y="1343.9" font-size="20" text-anchor="start" fill="#333" >1194</text>
<text x="1356.5" y="1411" font-size="20" text-anchor="start" fill="#333" >1193</text>
<text x="1356.5" y="1483.5" font-size="20" text-anchor="start" fill="#333" >1192</text>
<text x="1356.5" y="1550" font-size="20" text-anchor="start" fill="#333" >1191</text>
<rect x="1514.5" y="1283" width="467.5" height="140.2" fill="#f1f9ec" />
<rect x="1514.5" y="1423.2" width="467.5" height="137.6" fill="#f6e5e5" />
<line x1="1514.5" y1="1283" x2="1514.5" y2="1560.8" stroke="#d9d9d9" stroke-width="1.3" />
<line x1="1606.7" y1="1283" x2="1606.7" y2="1560.8" stroke="#d9d9d9" stroke-width="1.3" />
<line x1="1705.8" y1="1283" x2="1705.8" y2="1560.8" stroke="#d9d9d9" stroke-width="1.3" />
<line x1="1810" y1="1283" x2="1810" y2="1560.8" stroke="#d9d9d9" stroke-width="1.3" />
<line x1="1909.5" y1="1283" x2="1909.5" y2="1560.8" stroke="#d9d9d9" stroke-width="1.3" />
<text x="1502.5" y="1305" font-size="19" text-anchor="end" fill="#555555" >12M</text>
<line x1="1510.5" y1="1300" x2="1514.5" y2="1300" stroke="#d0d0d0" stroke-width="1" />
<text x="1502.5" y="1366" font-size="19" text-anchor="end" fill="#555555" >6M</text>
<line x1="1510.5" y1="1361" x2="1514.5" y2="1361" stroke="#d0d0d0" stroke-width="1" />
<text x="1502.5" y="1428.2" font-size="19" text-anchor="end" fill="#555555" >0</text>
<line x1="1510.5" y1="1423.2" x2="1514.5" y2="1423.2" stroke="#d0d0d0" stroke-width="1" />
<text x="1502.5" y="1493.2" font-size="19" text-anchor="end" fill="#555555" >-6M</text>
<line x1="1510.5" y1="1488.2" x2="1514.5" y2="1488.2" stroke="#d0d0d0" stroke-width="1" />
<text x="1502.5" y="1552.2" font-size="19" text-anchor="end" fill="#555555" >-12M</text>
<line x1="1510.5" y1="1547.2" x2="1514.5" y2="1547.2" stroke="#d0d0d0" stroke-width="1" />
<text x="1596.7" y="1305" font-size="19" text-anchor="end" fill="#4c5749" >12</text>
<line x1="1602.7" y1="1300" x2="1606.7" y2="1300" stroke="#d0d0d0" stroke-width="1" />
<text x="1596.7" y="1366" font-size="19" text-anchor="end" fill="#4c5749" >6</text>
<line x1="1602.7" y1="1361" x2="1606.7" y2="1361" stroke="#d0d0d0" stroke-width="1" />
<text x="1596.7" y="1428.2" font-size="19" text-anchor="end" fill="#4c5749" >0</text>
<line x1="1602.7" y1="1423.2" x2="1606.7" y2="1423.2" stroke="#d0d0d0" stroke-width="1" />
<text x="1596.7" y="1493.2" font-size="19" text-anchor="end" fill="#5a4b4b" >-6</text>
<line x1="1602.7" y1="1488.2" x2="1606.7" y2="1488.2" stroke="#d0d0d0" stroke-width="1" />
<text x="1596.7" y="1552.2" font-size="19" text-anchor="end" fill="#5a4b4b" >-12</text>
<line x1="1602.7" y1="1547.2" x2="1606.7" y2="1547.2" stroke="#d0d0d0" stroke-width="1" />
<text x="1696.8" y="1290" font-size="19" text-anchor="end" fill="#4c5749" >50</text>
<line x1="1701.8" y1="1285" x2="1705.8" y2="1285" stroke="#d0d0d0" stroke-width="1" />
<text x="1696.8" y="1354" font-size="19" text-anchor="end" fill="#4c5749" >25</text>
<line x1="1701.8" y1="1349" x2="1705.8" y2="1349" stroke="#d0d0d0" stroke-width="1" />
<text x="1696.8" y="1428.2" font-size="19" text-anchor="end" fill="#4c5749" >0</text>
<line x1="1701.8" y1="1423.2" x2="1705.8" y2="1423.2" stroke="#d0d0d0" stroke-width="1" />
<text x="1696.8" y="1496.2" font-size="19" text-anchor="end" fill="#5a4b4b" >-25</text>
<line x1="1701.8" y1="1491.2" x2="1705.8" y2="1491.2" stroke="#d0d0d0" stroke-width="1" />
<text x="1696.8" y="1560.2" font-size="19" text-anchor="end" fill="#5a4b4b" >-50</text>
<line x1="1701.8" y1="1555.2" x2="1705.8" y2="1555.2" stroke="#d0d0d0" stroke-width="1" />
<text x="1805" y="1304" font-size="19" text-anchor="end" fill="#4c5749" >80</text>
<line x1="1806" y1="1299" x2="1810" y2="1299" stroke="#d0d0d0" stroke-width="1" />
<text x="1805" y="1364" font-size="19" text-anchor="end" fill="#4c5749" >40</text>
<line x1="1806" y1="1359" x2="1810" y2="1359" stroke="#d0d0d0" stroke-width="1" />
<text x="1805" y="1427.2" font-size="19" text-anchor="end" fill="#4c5749" >0</text>
<line x1="1806" y1="1422.2" x2="1810" y2="1422.2" stroke="#d0d0d0" stroke-width="1" />
<text x="1805" y="1492.2" font-size="19" text-anchor="end" fill="#5a4b4b" >-40</text>
<line x1="1806" y1="1487.2" x2="1810" y2="1487.2" stroke="#d0d0d0" stroke-width="1" />
<text x="1805" y="1551.2" font-size="19" text-anchor="end" fill="#5a4b4b" >-80</text>
<line x1="1806" y1="1546.2" x2="1810" y2="1546.2" stroke="#d0d0d0" stroke-width="1" />
<text x="1900.5" y="1304" font-size="19" text-anchor="end" fill="#4c5749" >40M</text>
<line x1="1905.5" y1="1299" x2="1909.5" y2="1299" stroke="#d0d0d0" stroke-width="1" />
<text x="1900.5" y="1364" font-size="19" text-anchor="end" fill="#4c5749" >20M</text>
<line x1="1905.5" y1="1359" x2="1909.5" y2="1359" stroke="#d0d0d0" stroke-width="1" />
<text x="1900.5" y="1427.2" font-size="19" text-anchor="end" fill="#4c5749" >0</text>
<line x1="1905.5" y1="1422.2" x2="1909.5" y2="1422.2" stroke="#d0d0d0" stroke-width="1" />
<text x="1900.5" y="1492.2" font-size="19" text-anchor="end" fill="#5a4b4b" >-20M</text>
<line x1="1905.5" y1="1487.2" x2="1909.5" y2="1487.2" stroke="#d0d0d0" stroke-width="1" />
<text x="1900.5" y="1551.2" font-size="19" text-anchor="end" fill="#5a4b4b" >-40M</text>
<line x1="1905.5" y1="1546.2" x2="1909.5" y2="1546.2" stroke="#d0d0d0" stroke-width="1" />
<line x1="1539.5" y1="1421.7" x2="1539.5" y2="1423.2" stroke="#9ca398" stroke-width="1.8" />
<line x1="1539.5" y1="1423.2" x2="1539.5" y2="1427.7" stroke="#a89a9a" stroke-width="1.8" />
<line x1="1535.5" y1="1421.7" x2="1543.5" y2="1421.7" stroke="#8a9286" stroke-width="1.8" />
<line x1="1539.5" y1="1435.3" x2="1539.5" y2="1440.7" stroke="#a89a9a" stroke-width="1.8" />
<line x1="1535.5" y1="1440.7" x2="1543.5" y2="1440.7" stroke="#9a8a8a" stroke-width="1.8" />
<rect x="1526.5" y="1427.7" width="26.1" height="7.6" fill="#7a6969" />
<rect x="1526.5" y="1427.7" width="26.1" height="7.6" fill="none" stroke="#5d6659" stroke-opacity="0.6" stroke-width="1.2"/>
<line x1="1535.5" y1="1427" x2="1543.5" y2="1435" stroke="#5b6357" stroke-width="1.2" />
<line x1="1535.5" y1="1435" x2="1543.5" y2="1427" stroke="#5b6357" stroke-width="1.2" />
<line x1="1637.5" y1="1301.6" x2="1637.5" y2="1361.7" stroke="#9ca398" stroke-width="1.8" />
<line x1="1633.5" y1="1301.6" x2="1641.5" y2="1301.6" stroke="#8a9286" stroke-width="1.8" />
<line x1="1637.5" y1="1437.4" x2="1637.5" y2="1490.8" stroke="#a89a9a" stroke-width="1.8" />
<line x1="1633.5" y1="1490.8" x2="1641.5" y2="1490.8" stroke="#9a8a8a" stroke-width="1.8" />
<rect x="1621.7" y="1361.7" width="31.6" height="61.5" fill="#717d6b" />
<rect x="1621.7" y="1423.2" width="31.6" height="14.2" fill="#7a6969" />
<rect x="1621.7" y="1361.7" width="31.6" height="75.7" fill="none" stroke="#5d6659" stroke-opacity="0.6" stroke-width="1.2"/>
<line x1="1621.7" y1="1396.2" x2="1653.3" y2="1396.2" stroke="#5e675a" stroke-width="1.5" />
<line x1="1633.5" y1="1393.7" x2="1641.5" y2="1401.7" stroke="#5b6357" stroke-width="1.2" />
<line x1="1633.5" y1="1401.7" x2="1641.5" y2="1393.7" stroke="#5b6357" stroke-width="1.2" />
<line x1="1736.7" y1="1384.8" x2="1736.7" y2="1423.2" stroke="#9ca398" stroke-width="1.8" />
<line x1="1732.7" y1="1384.8" x2="1740.7" y2="1384.8" stroke="#8a9286" stroke-width="1.8" />
<line x1="1736.7" y1="1516.4" x2="1736.7" y2="1543.4" stroke="#a89a9a" stroke-width="1.8" />
<line x1="1732.7" y1="1543.4" x2="1740.7" y2="1543.4" stroke="#9a8a8a" stroke-width="1.8" />
<rect x="1720.9" y="1423.2" width="31.5" height="93.2" fill="#7a6969" />
<rect x="1720.9" y="1423.2" width="31.5" height="93.2" fill="none" stroke="#5d6659" stroke-opacity="0.6" stroke-width="1.2"/>
<line x1="1720.9" y1="1450.3" x2="1752.4" y2="1450.3" stroke="#5e675a" stroke-width="1.5" />
<line x1="1732.7" y1="1462.8" x2="1740.7" y2="1470.8" stroke="#5b6357" stroke-width="1.2" />
<line x1="1732.7" y1="1470.8" x2="1740.7" y2="1462.8" stroke="#5b6357" stroke-width="1.2" />
<line x1="1840.8" y1="1385.7" x2="1840.8" y2="1415.7" stroke="#9ca398" stroke-width="1.8" />
<line x1="1836.8" y1="1385.7" x2="1844.8" y2="1385.7" stroke="#8a9286" stroke-width="1.8" />
<line x1="1840.8" y1="1462.3" x2="1840.8" y2="1522.4" stroke="#a89a9a" stroke-width="1.8" />
<line x1="1836.8" y1="1522.4" x2="1844.8" y2="1522.4" stroke="#9a8a8a" stroke-width="1.8" />
<rect x="1825.1" y="1415.7" width="31.5" height="7.5" fill="#717d6b" />
<rect x="1825.1" y="1423.2" width="31.5" height="39.1" fill="#7a6969" />
<rect x="1825.1" y="1415.7" width="31.5" height="46.6" fill="none" stroke="#5d6659" stroke-opacity="0.6" stroke-width="1.2"/>
<line x1="1825.1" y1="1438.3" x2="1856.6" y2="1438.3" stroke="#5e675a" stroke-width="1.5" />
<line x1="1836.8" y1="1436.7" x2="1844.8" y2="1444.7" stroke="#5b6357" stroke-width="1.2" />
<line x1="1836.8" y1="1444.7" x2="1844.8" y2="1436.7" stroke="#5b6357" stroke-width="1.2" />
<line x1="1940.5" y1="1412" x2="1940.5" y2="1413.6" stroke="#9ca398" stroke-width="1.8" />
<line x1="1936.5" y1="1412" x2="1944.5" y2="1412" stroke="#8a9286" stroke-width="1.8" />
<line x1="1940.5" y1="1423.8" x2="1940.5" y2="1426" stroke="#a89a9a" stroke-width="1.8" />
<line x1="1936.5" y1="1426" x2="1944.5" y2="1426" stroke="#9a8a8a" stroke-width="1.8" />
<rect x="1924.2" y="1413.6" width="32.5" height="9.6" fill="#717d6b" />
<rect x="1924.2" y="1423.2" width="32.5" height="0.6" fill="#7a6969" />
<rect x="1924.2" y="1413.6" width="32.5" height="10.2" fill="none" stroke="#5d6659" stroke-opacity="0.6" stroke-width="1.2"/>
<line x1="1936.5" y1="1414" x2="1944.5" y2="1422" stroke="#5b6357" stroke-width="1.2" />
<line x1="1936.5" y1="1422" x2="1944.5" y2="1414" stroke="#5b6357" stroke-width="1.2" />
<line x1="106" y1="1652.4" x2="106" y2="1921" stroke="#b4b4b4" stroke-width="1.3" />
<line x1="101" y1="1652.4" x2="106" y2="1652.4" stroke="#b4b4b4" stroke-width="1.2" />
<line x1="101" y1="1720.9" x2="106" y2="1720.9" stroke="#b4b4b4" stroke-width="1.2" />
<line x1="101" y1="1789.4" x2="106" y2="1789.4" stroke="#b4b4b4" stroke-width="1.2" />
<line x1="101" y1="1855.2" x2="106" y2="1855.2" stroke="#b4b4b4" stroke-width="1.2" />
<line x1="101" y1="1921" x2="106" y2="1921" stroke="#b4b4b4" stroke-width="1.2" />
<line x1="244.5" y1="1652.4" x2="244.5" y2="1921" stroke="#b4b4b4" stroke-width="1.3" />
<line x1="239.5" y1="1667.6" x2="244.5" y2="1667.6" stroke="#b4b4b4" stroke-width="1.2" />
<line x1="239.5" y1="1728.5" x2="244.5" y2="1728.5" stroke="#b4b4b4" stroke-width="1.2" />
<line x1="239.5" y1="1789.4" x2="244.5" y2="1789.4" stroke="#b4b4b4" stroke-width="1.2" />
<line x1="239.5" y1="1847.9" x2="244.5" y2="1847.9" stroke="#b4b4b4" stroke-width="1.2" />
<line x1="239.5" y1="1906.4" x2="244.5" y2="1906.4" stroke="#b4b4b4" stroke-width="1.2" />
<line x1="382.9" y1="1652.4" x2="382.9" y2="1921" stroke="#b4b4b4" stroke-width="1.3" />
<line x1="377.9" y1="1652.4" x2="382.9" y2="1652.4" stroke="#b4b4b4" stroke-width="1.2" />
<line x1="377.9" y1="1720.9" x2="382.9" y2="1720.9" stroke="#b4b4b4" stroke-width="1.2" />
<line x1="377.9" y1="1789.4" x2="382.9" y2="1789.4" stroke="#b4b4b4" stroke-width="1.2" />
<line x1="377.9" y1="1855.2" x2="382.9" y2="1855.2" stroke="#b4b4b4" stroke-width="1.2" />
<line x1="377.9" y1="1921" x2="382.9" y2="1921" stroke="#b4b4b4" stroke-width="1.2" />
<line x1="519.6" y1="1652.4" x2="519.6" y2="1921" stroke="#b4b4b4" stroke-width="1.3" />
<line x1="514.6" y1="1652.4" x2="519.6" y2="1652.4" stroke="#b4b4b4" stroke-width="1.2" />
<line x1="514.6" y1="1720.9" x2="519.6" y2="1720.9" stroke="#b4b4b4" stroke-width="1.2" />
<line x1="514.6" y1="1789.4" x2="519.6" y2="1789.4" stroke="#b4b4b4" stroke-width="1.2" />
<line x1="514.6" y1="1855.2" x2="519.6" y2="1855.2" stroke="#b4b4b4" stroke-width="1.2" />
<line x1="514.6" y1="1921" x2="519.6" y2="1921" stroke="#b4b4b4" stroke-width="1.2" />
<line x1="659.3" y1="1652.4" x2="659.3" y2="1921" stroke="#b4b4b4" stroke-width="1.3" />
<line x1="654.3" y1="1667.6" x2="659.3" y2="1667.6" stroke="#b4b4b4" stroke-width="1.2" />
<line x1="654.3" y1="1728.5" x2="659.3" y2="1728.5" stroke="#b4b4b4" stroke-width="1.2" />
<line x1="654.3" y1="1789.4" x2="659.3" y2="1789.4" stroke="#b4b4b4" stroke-width="1.2" />
<line x1="654.3" y1="1847.9" x2="659.3" y2="1847.9" stroke="#b4b4b4" stroke-width="1.2" />
<line x1="654.3" y1="1906.4" x2="659.3" y2="1906.4" stroke="#b4b4b4" stroke-width="1.2" />
<line x1="799" y1="1652.4" x2="799" y2="1921" stroke="#b4b4b4" stroke-width="1.3" />
<line x1="794" y1="1652.4" x2="799" y2="1652.4" stroke="#b4b4b4" stroke-width="1.2" />
<line x1="794" y1="1720.9" x2="799" y2="1720.9" stroke="#b4b4b4" stroke-width="1.2" />
<line x1="794" y1="1789.4" x2="799" y2="1789.4" stroke="#b4b4b4" stroke-width="1.2" />
<line x1="794" y1="1855.2" x2="799" y2="1855.2" stroke="#b4b4b4" stroke-width="1.2" />
<line x1="794" y1="1921" x2="799" y2="1921" stroke="#b4b4b4" stroke-width="1.2" />
<polyline points="106,1773.5 244.5,1785.7 382.9,1792.9" fill="none" stroke="#e6e6e6" stroke-width="1.4" />
<polyline points="106,1773.5 244.5,1788.9 382.9,1798" fill="none" stroke="#e6e6e6" stroke-width="1.4" />
<polyline points="106,1795.5 244.5,1792.9 382.9,1803" fill="none" stroke="#e6e6e6" stroke-width="1.4" />
<polyline points="106,1795.5 244.5,1819.9 382.9,1808.1" fill="none" stroke="#e6e6e6" stroke-width="1.4" />
<polyline points="106,1795.5 244.5,1817.2 382.9,1805.1" fill="none" stroke="#e6e6e6" stroke-width="1.4" />
<polyline points="106,1924.9 244.5,1811.7 382.9,1803" fill="none" stroke="#e6e6e6" stroke-width="1.4" />
<polygon points="110,1923.2 244.5,1914.1 382.9,1687.9 382.9,1711.1 244.5,1918.1 110,1925.2" fill="#eeeeee" fill-opacity="0.5"/>
<polyline points="110,1923.5 244.5,1914.7 382.9,1696.5" fill="none" stroke="#e6e6e6" stroke-width="1.1" />
<polyline points="110,1925 244.5,1916.4 382.9,1704.8" fill="none" stroke="#e6e6e6" stroke-width="1.1" />
<polyline points="110,1924.8 244.5,1917.6 382.9,1699.8" fill="none" stroke="#e6e6e6" stroke-width="1.1" />
<polyline points="110,1923.5 244.5,1914.4 382.9,1699.5" fill="none" stroke="#e6e6e6" stroke-width="1.1" />
<polygon points="110,1923.2 244.5,1918.1 382.9,1711.1 382.9,1735.4 244.5,1922.2 110,1925.2" fill="#eeeeee" fill-opacity="0.5"/>
<polyline points="110,1925 244.5,1921.6 382.9,1730.4" fill="none" stroke="#e6e6e6" stroke-width="1.1" />
<polyline points="110,1923.9 244.5,1920 382.9,1721.4" fill="none" stroke="#e6e6e6" stroke-width="1.1" />
<polyline points="110,1924 244.5,1921.5 382.9,1726.4" fill="none" stroke="#e6e6e6" stroke-width="1.1" />
<polyline points="110,1924 244.5,1920.5 382.9,1730.9" fill="none" stroke="#e6e6e6" stroke-width="1.1" />
<polygon points="110,1923.2 244.5,1921.2 382.9,1735.4 382.9,1754.6 244.5,1926.2 110,1925.2" fill="#eeeeee" fill-opacity="0.5"/>
<polyline points="110,1923.9 244.5,1923.6 382.9,1745.7" fill="none" stroke="#e6e6e6" stroke-width="1.1" />
<polyline points="110,1923.3 244.5,1922.9 382.9,1751.3" fill="none" stroke="#e6e6e6" stroke-width="1.1" />
<polyline points="110,1925.2 244.5,1925.4 382.9,1754.6" fill="none" stroke="#e6e6e6" stroke-width="1.1" />
<polyline points="110,1923.6 244.5,1922.5 382.9,1735.4" fill="none" stroke="#e6e6e6" stroke-width="1.1" />
<polygon points="244.5,1786.9 382.9,1790.9 382.9,1813.1 244.5,1796" fill="#eeeeee" fill-opacity="0.6"/>
<polyline points="244.5,1786.9 382.9,1801.4" fill="none" stroke="#e6e6e6" stroke-width="1.1" />
<polyline points="244.5,1786.9 382.9,1801.8" fill="none" stroke="#e6e6e6" stroke-width="1.1" />
<polyline points="244.5,1792.2 382.9,1804.7" fill="none" stroke="#e6e6e6" stroke-width="1.1" />
<polyline points="244.5,1788.8 382.9,1797.1" fill="none" stroke="#e6e6e6" stroke-width="1.1" />
<polyline points="244.5,1788.1 382.9,1799.6" fill="none" stroke="#e6e6e6" stroke-width="1.1" />
<polyline points="244.5,1794.1 382.9,1800.2" fill="none" stroke="#e6e6e6" stroke-width="1.1" />
<polyline points="244.5,1788.4 382.9,1724.4" fill="none" stroke="#e6e6e6" stroke-width="0.9" />
<polyline points="244.5,1792.5 382.9,1755.7" fill="none" stroke="#e6e6e6" stroke-width="0.9" />
<polyline points="244.5,1788.1 382.9,1788.2" fill="none" stroke="#e6e6e6" stroke-width="0.9" />
<polyline points="244.5,1790.3 382.9,1757.2" fill="none" stroke="#e6e6e6" stroke-width="0.9" />
<polyline points="244.5,1788.4 382.9,1739.4" fill="none" stroke="#e6e6e6" stroke-width="0.9" />
<polyline points="244.5,1786.5 382.9,1724.4" fill="none" stroke="#e6e6e6" stroke-width="0.9" />
<polyline points="244.5,1788.6 382.9,1729.2" fill="none" stroke="#e6e6e6" stroke-width="0.9" />
<polyline points="244.5,1789.4 382.9,1724.7" fill="none" stroke="#e6e6e6" stroke-width="0.9" />
<polyline points="244.5,1789.5 382.9,1723.5" fill="none" stroke="#e6e6e6" stroke-width="0.9" />
<polyline points="244.5,1786.2 382.9,1730.8" fill="none" stroke="#e6e6e6" stroke-width="0.9" />
<polyline points="244.5,1789.7 382.9,1733.5" fill="none" stroke="#e6e6e6" stroke-width="0.9" />
<polyline points="244.5,1791.8 382.9,1790.9" fill="none" stroke="#e6e6e6" stroke-width="0.9" />
<polyline points="244.5,1792.7 382.9,1789.1" fill="none" stroke="#e6e6e6" stroke-width="0.9" />
<polyline points="244.5,1789.1 382.9,1777.9" fill="none" stroke="#e6e6e6" stroke-width="0.9" />
<polyline points="244.5,1790.6 382.9,1734.8" fill="none" stroke="#e6e6e6" stroke-width="0.9" />
<polyline points="244.5,1790.8 382.9,1722.8" fill="none" stroke="#e6e6e6" stroke-width="0.9" />
<polyline points="244.5,1792.5 382.9,1780.4" fill="none" stroke="#e6e6e6" stroke-width="0.9" />
<polyline points="244.5,1789 382.9,1786.8" fill="none" stroke="#e6e6e6" stroke-width="0.9" />
<polyline points="244.5,1789.9 382.9,1734.7" fill="none" stroke="#e6e6e6" stroke-width="0.9" />
<polyline points="244.5,1792.3 382.9,1784" fill="none" stroke="#e6e6e6" stroke-width="0.9" />
<polyline points="244.5,1786.2 382.9,1767.3" fill="none" stroke="#e6e6e6" stroke-width="0.9" />
<polyline points="244.5,1787.4 382.9,1732" fill="none" stroke="#e6e6e6" stroke-width="0.9" />
<polyline points="244.5,1786.4 382.9,1781.9" fill="none" stroke="#e6e6e6" stroke-width="0.9" />
<polyline points="244.5,1788.5 382.9,1747" fill="none" stroke="#e6e6e6" stroke-width="0.9" />
<polyline points="244.5,1788.1 382.9,1784.5" fill="none" stroke="#e6e6e6" stroke-width="0.9" />
<polyline points="244.5,1791 382.9,1732.1" fill="none" stroke="#e6e6e6" stroke-width="0.9" />
<polyline points="244.5,1788.2 382.9,1767.7" fill="none" stroke="#e6e6e6" stroke-width="0.9" />
<polyline points="244.5,1787.4 382.9,1761" fill="none" stroke="#e6e6e6" stroke-width="0.9" />
<polyline points="244.5,1788 382.9,1759.3" fill="none" stroke="#e6e6e6" stroke-width="0.9" />
<polyline points="244.5,1787 382.9,1755.5" fill="none" stroke="#e6e6e6" stroke-width="0.9" />
<polyline points="244.5,1788.5 382.9,1774.6" fill="none" stroke="#e6e6e6" stroke-width="0.9" />
<polyline points="244.5,1792.7 382.9,1740.6" fill="none" stroke="#e6e6e6" stroke-width="0.9" />
<polyline points="244.5,1788 382.9,1728.1" fill="none" stroke="#e6e6e6" stroke-width="0.9" />
<polyline points="244.5,1786.9 382.9,1790.8" fill="none" stroke="#e6e6e6" stroke-width="0.9" />
<polyline points="244.5,1786.2 382.9,1770.5" fill="none" stroke="#e6e6e6" stroke-width="0.9" />
<polyline points="244.5,1788.9 382.9,1777.3" fill="none" stroke="#e6e6e6" stroke-width="0.9" />
<polyline points="244.5,1789.6 382.9,1734.8" fill="none" stroke="#e6e6e6" stroke-width="0.9" />
<polyline points="244.5,1789.2 382.9,1767.8" fill="none" stroke="#e6e6e6" stroke-width="0.9" />
<polyline points="244.5,1791.9 382.9,1761.3" fill="none" stroke="#e6e6e6" stroke-width="0.9" />
<polyline points="244.5,1791.8 382.9,1754.2" fill="none" stroke="#e6e6e6" stroke-width="0.9" />
<polygon points="244.5,1786.9 382.9,1687.9 382.9,1790.9 244.5,1790.9" fill="#eeeeee" fill-opacity="0.55"/>
<polygon points="382.9,1687.9 519.6,1665.7 519.6,1790.9 382.9,1790.9" fill="#eeeeee" fill-opacity="0.7"/>
<polyline points="382.9,1743.2 519.6,1790.4" fill="none" stroke="#e6e6e6" stroke-width="0.9" />
<polyline points="382.9,1766.7 519.6,1774.1" fill="none" stroke="#e6e6e6" stroke-width="0.9" />
<polyline points="382.9,1792.6 519.6,1824.5" fill="none" stroke="#e6e6e6" stroke-width="0.9" />
<polyline points="382.9,1724.9 519.6,1819.4" fill="none" stroke="#e6e6e6" stroke-width="0.9" />
<polyline points="382.9,1747.6 519.6,1748.3" fill="none" stroke="#e6e6e6" stroke-width="0.9" />
<polyline points="382.9,1761 519.6,1808.5" fill="none" stroke="#e6e6e6" stroke-width="0.9" />
<polyline points="382.9,1736 519.6,1815.3" fill="none" stroke="#e6e6e6" stroke-width="0.9" />
<polyline points="382.9,1732.7 519.6,1776.8" fill="none" stroke="#e6e6e6" stroke-width="0.9" />
<polyline points="382.9,1757 519.6,1810.7" fill="none" stroke="#e6e6e6" stroke-width="0.9" />
<polyline points="382.9,1767.5 519.6,1784.4" fill="none" stroke="#e6e6e6" stroke-width="0.9" />
<polyline points="382.9,1753.4 519.6,1780.5" fill="none" stroke="#e6e6e6" stroke-width="0.9" />
<polyline points="382.9,1741.1 519.6,1803.2" fill="none" stroke="#e6e6e6" stroke-width="0.9" />
<polyline points="382.9,1717.1 519.6,1801.7" fill="none" stroke="#e6e6e6" stroke-width="0.9" />
<polyline points="382.9,1777 519.6,1743.2" fill="none" stroke="#e6e6e6" stroke-width="0.9" />
<polyline points="382.9,1787.9 519.6,1823.9" fill="none" stroke="#e6e6e6" stroke-width="0.9" />
<polyline points="382.9,1734.5 519.6,1786.7" fill="none" stroke="#e6e6e6" stroke-width="0.9" />
<polyline points="382.9,1720.1 519.6,1765.3" fill="none" stroke="#e6e6e6" stroke-width="0.9" />
<polyline points="382.9,1752.7 519.6,1829.2" fill="none" stroke="#e6e6e6" stroke-width="0.9" />
<polyline points="382.9,1741.5 519.6,1763.9" fill="none" stroke="#e6e6e6" stroke-width="0.9" />
<polyline points="382.9,1770.3 519.6,1795.1" fill="none" stroke="#e6e6e6" stroke-width="0.9" />
<polyline points="382.9,1717.7 519.6,1828.6" fill="none" stroke="#e6e6e6" stroke-width="0.9" />
<polyline points="382.9,1743.6 519.6,1778.2" fill="none" stroke="#e6e6e6" stroke-width="0.9" />
<polyline points="382.9,1742 519.6,1812.9" fill="none" stroke="#e6e6e6" stroke-width="0.9" />
<polyline points="382.9,1784.5 519.6,1768.7" fill="none" stroke="#e6e6e6" stroke-width="0.9" />
<polyline points="382.9,1775.7 519.6,1790.8" fill="none" stroke="#e6e6e6" stroke-width="0.9" />
<polyline points="382.9,1718.2 519.6,1744.7" fill="none" stroke="#e6e6e6" stroke-width="0.9" />
<polyline points="382.9,1752.6 519.6,1833" fill="none" stroke="#e6e6e6" stroke-width="0.9" />
<polyline points="382.9,1727.9 519.6,1798.3" fill="none" stroke="#e6e6e6" stroke-width="0.9" />
<polyline points="382.9,1737.9 519.6,1786.7" fill="none" stroke="#e6e6e6" stroke-width="0.9" />
<polyline points="382.9,1724.9 519.6,1810.3" fill="none" stroke="#e6e6e6" stroke-width="0.9" />
<polyline points="382.9,1778.9 519.6,1813.2" fill="none" stroke="#e6e6e6" stroke-width="0.9" />
<polyline points="382.9,1770 519.6,1789.9" fill="none" stroke="#e6e6e6" stroke-width="0.9" />
<polyline points="382.9,1726.6 519.6,1769.9" fill="none" stroke="#e6e6e6" stroke-width="0.9" />
<polyline points="382.9,1751 519.6,1808.7" fill="none" stroke="#e6e6e6" stroke-width="0.9" />
<polyline points="382.9,1735.6 519.6,1832.7" fill="none" stroke="#e6e6e6" stroke-width="0.9" />
<polyline points="382.9,1716.4 519.6,1781.8" fill="none" stroke="#e6e6e6" stroke-width="0.9" />
<polyline points="382.9,1758.9 519.6,1754.2" fill="none" stroke="#e6e6e6" stroke-width="0.9" />
<polyline points="382.9,1741.7 519.6,1744" fill="none" stroke="#e6e6e6" stroke-width="0.9" />
<polyline points="382.9,1763.1 519.6,1779.6" fill="none" stroke="#e6e6e6" stroke-width="0.9" />
<polyline points="382.9,1778.3 519.6,1790.4" fill="none" stroke="#e6e6e6" stroke-width="0.9" />
<polyline points="382.9,1767.9 519.6,1833.3" fill="none" stroke="#e6e6e6" stroke-width="0.9" />
<polyline points="382.9,1724 519.6,1786" fill="none" stroke="#e6e6e6" stroke-width="0.9" />
<polyline points="382.9,1747.1 519.6,1743.1" fill="none" stroke="#e6e6e6" stroke-width="0.9" />
<polyline points="382.9,1781.4 519.6,1805" fill="none" stroke="#e6e6e6" stroke-width="0.9" />
<polyline points="382.9,1724 519.6,1762.4" fill="none" stroke="#e6e6e6" stroke-width="0.9" />
<polyline points="382.9,1779.4 519.6,1704.9" fill="none" stroke="#e6e6e6" stroke-width="1.0" />
<polyline points="382.9,1782.7 519.6,1725.4" fill="none" stroke="#e6e6e6" stroke-width="1.0" />
<polyline points="382.9,1778.7 519.6,1707.9" fill="none" stroke="#e6e6e6" stroke-width="1.0" />
<polyline points="382.9,1789.6 519.6,1732.7" fill="none" stroke="#e6e6e6" stroke-width="1.0" />
<polyline points="382.9,1788.7 519.6,1679.2" fill="none" stroke="#e6e6e6" stroke-width="1.0" />
<polyline points="382.9,1780.5 519.6,1733.7" fill="none" stroke="#e6e6e6" stroke-width="1.0" />
<polyline points="382.9,1781 519.6,1709.3" fill="none" stroke="#e6e6e6" stroke-width="1.0" />
<polyline points="382.9,1782 519.6,1717.4" fill="none" stroke="#e6e6e6" stroke-width="1.0" />
<polyline points="382.9,1787.4 519.6,1696.8" fill="none" stroke="#e6e6e6" stroke-width="1.0" />
<polyline points="382.9,1784.7 519.6,1710.6" fill="none" stroke="#e6e6e6" stroke-width="1.0" />
<polyline points="382.9,1784.2 519.6,1694.7" fill="none" stroke="#e6e6e6" stroke-width="1.0" />
<polyline points="382.9,1780 519.6,1687.9" fill="none" stroke="#e6e6e6" stroke-width="1.0" />
<polyline points="382.9,1791.2 519.6,1722.5" fill="none" stroke="#e6e6e6" stroke-width="1.0" />
<polyline points="382.9,1791.5 519.6,1691" fill="none" stroke="#e6e6e6" stroke-width="1.0" />
<polyline points="382.9,1790.4 519.6,1704.9" fill="none" stroke="#e6e6e6" stroke-width="1.0" />
<polyline points="382.9,1779.1 519.6,1681.2" fill="none" stroke="#e6e6e6" stroke-width="1.0" />
<polyline points="382.9,1784.3 519.6,1713.6" fill="none" stroke="#e6e6e6" stroke-width="1.0" />
<polyline points="382.9,1789 519.6,1728.2" fill="none" stroke="#e6e6e6" stroke-width="1.0" />
<polyline points="382.9,1792.1 519.6,1699.4" fill="none" stroke="#e6e6e6" stroke-width="1.0" />
<polyline points="382.9,1779.1 519.6,1723.7" fill="none" stroke="#e6e6e6" stroke-width="1.0" />
<polyline points="382.9,1782.5 519.6,1737" fill="none" stroke="#e6e6e6" stroke-width="1.0" />
<polyline points="382.9,1778.1 519.6,1729.1" fill="none" stroke="#e6e6e6" stroke-width="1.0" />
<polyline points="382.9,1788.2 519.6,1707.7" fill="none" stroke="#e6e6e6" stroke-width="1.0" />
<polyline points="382.9,1792.4 519.6,1729.8" fill="none" stroke="#e6e6e6" stroke-width="1.0" />
<polyline points="382.9,1790.5 519.6,1678.3" fill="none" stroke="#e6e6e6" stroke-width="1.0" />
<polyline points="382.9,1780.7 519.6,1699.5" fill="none" stroke="#e6e6e6" stroke-width="1.0" />
<polyline points="382.9,1787.1 519.6,1714.4" fill="none" stroke="#e6e6e6" stroke-width="1.0" />
<polyline points="382.9,1779.9 519.6,1712" fill="none" stroke="#e6e6e6" stroke-width="1.0" />
<polyline points="382.9,1781.9 519.6,1684.2" fill="none" stroke="#e6e6e6" stroke-width="1.0" />
<polyline points="382.9,1786.5 519.6,1729.9" fill="none" stroke="#e6e6e6" stroke-width="1.0" />
<polyline points="382.9,1687.9 519.6,1665.7" fill="none" stroke="#e6e6e6" stroke-width="1.3" />
<polyline points="382.9,1711.1 519.6,1732.3" fill="none" stroke="#e6e6e6" stroke-width="1.3" />
<polyline points="382.9,1696.5 519.6,1726.9" fill="none" stroke="#e6e6e6" stroke-width="1.3" />
<polyline points="382.9,1687.9 519.6,1680.4" fill="none" stroke="#e6e6e6" stroke-width="1.3" />
<polyline points="382.9,1700.5 519.6,1731.5" fill="none" stroke="#e6e6e6" stroke-width="1.3" />
<polyline points="382.9,1710.2 519.6,1732.3" fill="none" stroke="#e6e6e6" stroke-width="1.3" />
<polyline points="382.9,1711.1 519.6,1719.5" fill="none" stroke="#e6e6e6" stroke-width="1.3" />
<polyline points="382.9,1711.1 519.6,1732.3" fill="none" stroke="#e6e6e6" stroke-width="1.3" />
<polyline points="382.9,1687.9 519.6,1732.3" fill="none" stroke="#e6e6e6" stroke-width="1.3" />
<polyline points="382.9,1690.8 519.6,1693" fill="none" stroke="#e6e6e6" stroke-width="1.3" />
<polyline points="382.9,1689.6 519.6,1695" fill="none" stroke="#e6e6e6" stroke-width="1.3" />
<polyline points="382.9,1735.4 519.6,1787.9" fill="none" stroke="#e6e6e6" stroke-width="1.3" />
<polyline points="382.9,1711.1 519.6,1787.9" fill="none" stroke="#e6e6e6" stroke-width="1.3" />
<polyline points="382.9,1726.5 519.6,1777.8" fill="none" stroke="#e6e6e6" stroke-width="1.3" />
<polyline points="382.9,1735.4 519.6,1787.9" fill="none" stroke="#e6e6e6" stroke-width="1.3" />
<polyline points="382.9,1725.9 519.6,1742.4" fill="none" stroke="#e6e6e6" stroke-width="1.3" />
<polyline points="382.9,1711.1 519.6,1737.4" fill="none" stroke="#e6e6e6" stroke-width="1.3" />
<polyline points="382.9,1723.2 519.6,1769.6" fill="none" stroke="#e6e6e6" stroke-width="1.3" />
<polyline points="382.9,1711.1 519.6,1787.9" fill="none" stroke="#e6e6e6" stroke-width="1.3" />
<polygon points="382.9,1790.9 519.6,1833.3 519.6,1899 382.9,1813.1" fill="#eeeeee" />
<polyline points="382.9,1798.3 519.6,1833.3" fill="none" stroke="#e6e6e6" stroke-width="1.2" />
<polyline points="382.9,1792.1 519.6,1854.8" fill="none" stroke="#e6e6e6" stroke-width="1.2" />
<polyline points="382.9,1807.2 519.6,1899" fill="none" stroke="#e6e6e6" stroke-width="1.2" />
<polyline points="382.9,1790.9 519.6,1833.3" fill="none" stroke="#e6e6e6" stroke-width="1.2" />
<polyline points="382.9,1813.1 519.6,1871.6" fill="none" stroke="#e6e6e6" stroke-width="1.2" />
<polyline points="382.9,1790.9 519.6,1899" fill="none" stroke="#e6e6e6" stroke-width="1.2" />
<polyline points="382.9,1810.5 519.6,1843.2" fill="none" stroke="#e6e6e6" stroke-width="1.2" />
<polyline points="382.9,1813.1 519.6,1833.3" fill="none" stroke="#e6e6e6" stroke-width="1.2" />
<polyline points="382.9,1801.2 519.6,1899" fill="none" stroke="#e6e6e6" stroke-width="1.2" />
<polyline points="382.9,1813.1 519.6,1833.3" fill="none" stroke="#e6e6e6" stroke-width="1.2" />
<polyline points="382.9,1790.9 519.6,1898.9" fill="none" stroke="#e6e6e6" stroke-width="1.2" />
<polyline points="382.9,1790.9 519.6,1859.9" fill="none" stroke="#e6e6e6" stroke-width="1.2" />
<polyline points="382.9,1804 519.6,1838.5" fill="none" stroke="#e6e6e6" stroke-width="1.2" />
<polyline points="382.9,1795.7 519.6,1833.3" fill="none" stroke="#e6e6e6" stroke-width="1.2" />
<polyline points="382.9,1811.4 519.6,1899" fill="none" stroke="#e6e6e6" stroke-width="1.2" />
<polyline points="382.9,1741.5 519.6,1833.3" fill="none" stroke="#e6e6e6" stroke-width="1.2" />
<polyline points="382.9,1732.3 519.6,1833.3" fill="none" stroke="#e6e6e6" stroke-width="1.2" />
<polyline points="382.9,1732.3 519.6,1842.7" fill="none" stroke="#e6e6e6" stroke-width="1.2" />
<polyline points="382.9,1739.4 519.6,1833.3" fill="none" stroke="#e6e6e6" stroke-width="1.2" />
<polyline points="382.9,1762.6 519.6,1833.3" fill="none" stroke="#e6e6e6" stroke-width="1.2" />
<polyline points="382.9,1740.5 519.6,1869.8" fill="none" stroke="#e6e6e6" stroke-width="1.2" />
<polyline points="382.9,1732.3 519.6,1833.3" fill="none" stroke="#e6e6e6" stroke-width="1.2" />
<polyline points="382.9,1762.6 519.6,1873.7" fill="none" stroke="#e6e6e6" stroke-width="1.2" />
<polygon points="519.6,1667.7 589.1,1734.4 659.3,1757.6 727.9,1762.6 799,1760.6 799,1766.7 727.9,1768.7 659.3,1763.7 589.1,1754.6 519.6,1734.4" fill="#eeeeee" />
<polyline points="519.6,1688.8 589.1,1751.9 659.3,1763 727.9,1768.7 799,1763.1" fill="none" stroke="#e6e6e6" stroke-width="1.2" />
<polyline points="519.6,1695.2 589.1,1740.2 659.3,1763.2 727.9,1764.1 799,1764.3" fill="none" stroke="#e6e6e6" stroke-width="1.2" />
<polyline points="519.6,1667.7 589.1,1739.7 659.3,1757.6 727.9,1765.7 799,1761.7" fill="none" stroke="#e6e6e6" stroke-width="1.2" />
<polyline points="519.6,1732 589.1,1752.3 659.3,1763.7 727.9,1768.7 799,1766.2" fill="none" stroke="#e6e6e6" stroke-width="1.2" />
<polyline points="519.6,1666 589.1,1732.6 659.3,1757.3 727.9,1760.6 799,1759.4" fill="none" stroke="#e6e6e6" stroke-width="1.2" />
<polyline points="519.6,1671.5 589.1,1735 659.3,1758.7 727.9,1762.8 799,1759.7" fill="none" stroke="#e6e6e6" stroke-width="1.2" />
<polygon points="519.6,1730.3 589.1,1752.5 659.3,1762.6 727.9,1766.7 799,1764.7 799,1775.8 727.9,1772.7 659.3,1767.7 589.1,1766.7 519.6,1742.4" fill="#eeeeee" />
<polyline points="519.6,1731.9 589.1,1754.8 659.3,1762.6 727.9,1767.8 799,1770.2" fill="none" stroke="#e6e6e6" stroke-width="1.2" />
<polyline points="519.6,1736.1 589.1,1756.8 659.3,1762.6 727.9,1770.3 799,1766.1" fill="none" stroke="#e6e6e6" stroke-width="1.2" />
<polygon points="519.6,1740.4 589.1,1764.7 659.3,1765.7 727.9,1770.7 799,1772.7 799,1787.9 727.9,1784.9 659.3,1780.8 589.1,1789.9 519.6,1787.9" fill="#eeeeee" />
<polyline points="519.6,1756.4 589.1,1778.3 659.3,1768.9 727.9,1772.1 799,1772.8" fill="none" stroke="#e6e6e6" stroke-width="1.2" />
<polyline points="519.6,1767.4 589.1,1782.1 659.3,1769.3 727.9,1777.1 799,1773.4" fill="none" stroke="#e6e6e6" stroke-width="1.2" />
<polyline points="519.6,1745.2 589.1,1767.5 659.3,1765.7 727.9,1775.3 799,1775.8" fill="none" stroke="#e6e6e6" stroke-width="1.2" />
<polygon points="519.6,1785.9 589.1,1787.9 659.3,1774.8 727.9,1780.8 799,1780.8 799,1788.9 727.9,1786.9 659.3,1782.8 589.1,1816.2 519.6,1833.3" fill="#eeeeee" />
<polyline points="519.6,1819.4 589.1,1814.8 659.3,1782.8 727.9,1786.9 799,1782.8" fill="none" stroke="#e6e6e6" stroke-width="1.2" />
<polyline points="519.6,1806.4 589.1,1797.7 659.3,1779 727.9,1782.8 799,1787.1" fill="none" stroke="#e6e6e6" stroke-width="1.2" />
<polygon points="519.6,1831.3 589.1,1814.1 659.3,1778.8 727.9,1782.8 799,1784.9 799,1926.2 727.9,1916.1 659.3,1911.1 589.1,1882.8 519.6,1899" fill="#eeeeee" />
<polyline points="519.6,1844.2 589.1,1825.2 659.3,1798.9 727.9,1811.5 799,1815.1" fill="none" stroke="#e6e6e6" stroke-width="1.0" />
<polyline points="519.6,1832.1 589.1,1820.9 659.3,1789.1 727.9,1782.8 799,1818.1" fill="none" stroke="#e6e6e6" stroke-width="1.0" />
<polyline points="519.6,1840.6 589.1,1836 659.3,1790.3 727.9,1793.7 799,1803.6" fill="none" stroke="#e6e6e6" stroke-width="1.0" />
<polyline points="519.6,1841.2 589.1,1829.3 659.3,1806.1 727.9,1819.4 799,1800.2" fill="none" stroke="#e6e6e6" stroke-width="1.0" />
<polyline points="519.6,1878.3 589.1,1854.6 659.3,1850.6 727.9,1866.5 799,1854.9" fill="none" stroke="#e6e6e6" stroke-width="1.0" />
<polyline points="519.6,1874.7 589.1,1866 659.3,1848.4 727.9,1876.6 799,1868.9" fill="none" stroke="#e6e6e6" stroke-width="1.0" />
<polyline points="519.6,1850.1 589.1,1834.8 659.3,1816.7 727.9,1813.9 799,1816.9" fill="none" stroke="#e6e6e6" stroke-width="1.0" />
<polyline points="519.6,1876.7 589.1,1868.7 659.3,1855.9 727.9,1880.7 799,1898" fill="none" stroke="#e6e6e6" stroke-width="1.0" />
<polyline points="519.6,1851.7 589.1,1828.4 659.3,1808.8 727.9,1819.5 799,1829.5" fill="none" stroke="#e6e6e6" stroke-width="1.0" />
<polyline points="519.6,1884.5 589.1,1882.8 659.3,1896.4 727.9,1893.7 799,1909.9" fill="none" stroke="#e6e6e6" stroke-width="1.0" />
<polyline points="519.6,1894.2 589.1,1876.4 659.3,1898.4 727.9,1894.8 799,1915.2" fill="none" stroke="#e6e6e6" stroke-width="1.0" />
<polyline points="519.6,1873.8 589.1,1871.9 659.3,1864.6 727.9,1869.4 799,1889.5" fill="none" stroke="#e6e6e6" stroke-width="1.0" />
<polyline points="519.6,1841.7 589.1,1832.4 659.3,1798.7 727.9,1826.4 799,1825" fill="none" stroke="#e6e6e6" stroke-width="1.0" />
<polyline points="519.6,1888 589.1,1881.5 659.3,1884.9 727.9,1883.4 799,1919.8" fill="none" stroke="#e6e6e6" stroke-width="1.0" />
<polyline points="519.6,1892.9 589.1,1882.8 659.3,1906.8 727.9,1913.9 799,1908.6" fill="none" stroke="#e6e6e6" stroke-width="1.0" />
<polyline points="519.6,1851.9 589.1,1841.7 659.3,1833.5 727.9,1844.3 799,1853.7" fill="none" stroke="#e6e6e6" stroke-width="1.0" />
<polyline points="659.3,1909.5 727.9,1917.5 799,1924.3" fill="none" stroke="#e6e6e6" stroke-width="1.2" />
<polygon points="799,1760.6 935.7,1653.5 935.7,1655.5 799,1924.2" fill="#eeeeee" />
<polyline points="799,1851.9 935.7,1654.6" fill="none" stroke="#e6e6e6" stroke-width="1.0" />
<polyline points="799,1860.5 935.7,1654.3" fill="none" stroke="#e6e6e6" stroke-width="1.0" />
<polyline points="799,1864.8 935.7,1654.6" fill="none" stroke="#e6e6e6" stroke-width="1.0" />
<polyline points="799,1924.2 935.7,1655.3" fill="none" stroke="#e6e6e6" stroke-width="1.0" />
<polyline points="799,1912.5 935.7,1654.8" fill="none" stroke="#e6e6e6" stroke-width="1.0" />
<polyline points="799,1882 935.7,1655.5" fill="none" stroke="#e6e6e6" stroke-width="1.0" />
<polyline points="799,1856.7 935.7,1655.2" fill="none" stroke="#e6e6e6" stroke-width="1.0" />
<polyline points="799,1810.7 935.7,1653.7" fill="none" stroke="#e6e6e6" stroke-width="1.0" />
<polyline points="799,1791.8 935.7,1653.5" fill="none" stroke="#e6e6e6" stroke-width="1.0" />
<polyline points="799,1905.7 935.7,1655.1" fill="none" stroke="#e6e6e6" stroke-width="1.0" />
<polygon points="799,1758.6 935.7,1742.3 935.7,1744.3 799,1848.5" fill="#eeeeee" />
<polyline points="799,1811.1 935.7,1744.3" fill="none" stroke="#e6e6e6" stroke-width="1.2" />
<polyline points="799,1785.1 935.7,1742.3" fill="none" stroke="#e6e6e6" stroke-width="1.2" />
<polyline points="799,1803.3 935.7,1743.1" fill="none" stroke="#e6e6e6" stroke-width="1.2" />
<polyline points="799,1758.6 935.7,1743.3" fill="none" stroke="#e6e6e6" stroke-width="1.2" />
<polyline points="799,1820.3 935.7,1743.7" fill="none" stroke="#e6e6e6" stroke-width="1.2" />
<polyline points="799,1808.1 935.7,1743.3" fill="none" stroke="#e6e6e6" stroke-width="1.2" />
<polygon points="799,1776.8 935.7,1831.2 935.7,1833.2 799,1926.2" fill="#eeeeee" />
<polyline points="799,1896.2 935.7,1832.9" fill="none" stroke="#e6e6e6" stroke-width="1.2" />
<polyline points="799,1795.7 935.7,1831.2" fill="none" stroke="#e6e6e6" stroke-width="1.2" />
<polyline points="799,1776.8 935.7,1831.4" fill="none" stroke="#e6e6e6" stroke-width="1.2" />
<polyline points="799,1791.6 935.7,1833.2" fill="none" stroke="#e6e6e6" stroke-width="1.2" />
<polyline points="799,1846.5 935.7,1831.6" fill="none" stroke="#e6e6e6" stroke-width="1.2" />
<polyline points="799,1818 935.7,1832.7" fill="none" stroke="#e6e6e6" stroke-width="1.2" />
<polyline points="799,1899.8 935.7,1832.6" fill="none" stroke="#e6e6e6" stroke-width="1.2" />
<polyline points="799,1917.2 935.7,1832.6" fill="none" stroke="#e6e6e6" stroke-width="1.2" />
<polygon points="799,1777.8 935.7,1919 935.7,1922 799,1792.9" fill="#eeeeee" />
<polyline points="799,1792.9 935.7,1922" fill="none" stroke="#e6e6e6" stroke-width="1.2" />
<polyline points="799,1790.6 935.7,1920.2" fill="none" stroke="#e6e6e6" stroke-width="1.2" />
<polyline points="799,1777.8 935.7,1919.3" fill="none" stroke="#e6e6e6" stroke-width="1.2" />
<polyline points="799,1760.6 935.7,1654.5" fill="none" stroke="#e6e6e6" stroke-width="1.1" />
<polyline points="799,1761.9 935.7,1654.5" fill="none" stroke="#e6e6e6" stroke-width="1.1" />
<polyline points="799,1760.3 935.7,1654.5" fill="none" stroke="#e6e6e6" stroke-width="1.1" />
<polyline points="799,1764 935.7,1654.5" fill="none" stroke="#e6e6e6" stroke-width="1.1" />
<polyline points="799,1761.9 935.7,1654.5" fill="none" stroke="#e6e6e6" stroke-width="1.1" />
<polyline points="799,1764.2 935.7,1654.5" fill="none" stroke="#e6e6e6" stroke-width="1.1" />
<polyline points="799,1762.9 935.7,1654.5" fill="none" stroke="#e6e6e6" stroke-width="1.1" />
<polyline points="799,1764.1 935.7,1654.5" fill="none" stroke="#e6e6e6" stroke-width="1.1" />
<polyline points="799,1764.6 935.7,1654.5" fill="none" stroke="#e6e6e6" stroke-width="1.1" />
<polyline points="799,1761.6 935.7,1654.5" fill="none" stroke="#e6e6e6" stroke-width="1.1" />
<polyline points="799,1764.7 935.7,1743.3" fill="none" stroke="#e6e6e6" stroke-width="1.2" />
<polyline points="799,1759.6 935.7,1742.3" fill="none" stroke="#e6e6e6" stroke-width="1.2" />
<polyline points="799,1770.7 935.7,1654.5" fill="none" stroke="#e6e6e6" stroke-width="1.2" />
<polyline points="799,1893.9 935.7,1833.2" fill="none" stroke="#e6e6e6" stroke-width="1.2" />
<polyline points="799,1899 935.7,1656.5" fill="none" stroke="#e6e6e6" stroke-width="1.2" />
<polyline points="799,1909.1 935.7,1832.2" fill="none" stroke="#e6e6e6" stroke-width="1.2" />
<polyline points="106,1789 244.5,1789 370,1774 382.9,1772 519.6,1703.4 659.3,1785.4 799,1836 935.7,1743.3" fill="none" stroke="#44948c" stroke-width="1.6" />
<polyline points="106,1788 244.5,1787 382.9,1785 519.6,1755.8 659.3,1761 799,1838 935.7,1743.3" fill="none" stroke="#ece144" stroke-width="1.6" />
<polyline points="106,1788 244.5,1787 382.9,1784 519.6,1758 659.3,1766 799,1839 935.7,1743.3" fill="none" stroke="#d8d040" stroke-width="1.6" />
<polyline points="106,1789 244.5,1788 382.9,1786 519.6,1763 659.3,1777 799,1841 935.7,1743.3" fill="none" stroke="#eaa842" stroke-width="1.6" />
<polyline points="106,1789 244.5,1789 382.9,1787 519.6,1771 659.3,1787 799,1843 935.7,1743.3" fill="none" stroke="#e8703a" stroke-width="1.6" />
<rect x="379" y="1644" width="6" height="148" fill="#f25af2" />
<rect x="515" y="1648.4" width="6" height="147.6" fill="#f25af2" />
<rect x="658" y="1648" width="6" height="148" fill="#f25af2" />
<rect x="793" y="1708.8" width="6" height="145.9" fill="#f25af2" />
<text x="97" y="1655.4" font-size="19" text-anchor="end" fill="#555555" >3000</text>
<text x="97" y="1723.9" font-size="19" text-anchor="end" fill="#555555" >1500</text>
<text x="98" y="1797.4" font-size="22" text-anchor="end" fill="#111" >0</text>
<text x="97" y="1858.2" font-size="19" text-anchor="end" fill="#555555" >-1500</text>
<text x="97" y="1924" font-size="19" text-anchor="end" fill="#555555" >-3000</text>
<text x="235.5" y="1670.6" font-size="19" text-anchor="end" fill="#555555" >40M</text>
<text x="235.5" y="1731.5" font-size="19" text-anchor="end" fill="#555555" >20M</text>
<text x="236.5" y="1797.4" font-size="22" text-anchor="end" fill="#111" >0</text>
<text x="235.5" y="1850.9" font-size="19" text-anchor="end" fill="#555555" >-20M</text>
<text x="235.5" y="1909.4" font-size="19" text-anchor="end" fill="#555555" >-40M</text>
<text x="373.9" y="1646.4" font-size="19" text-anchor="end" fill="#555555" >12M</text>
<text x="373.9" y="1714.9" font-size="19" text-anchor="end" fill="#555555" >6M</text>
<text x="374.9" y="1797.4" font-size="22" text-anchor="end" fill="#111" >0</text>
<text x="373.9" y="1858.2" font-size="19" text-anchor="end" fill="#555555" >-6M</text>
<text x="373.9" y="1924" font-size="19" text-anchor="end" fill="#555555" >-12M</text>
<text x="510.6" y="1655.4" font-size="19" text-anchor="end" fill="#555555" >12</text>
<text x="510.6" y="1723.9" font-size="19" text-anchor="end" fill="#555555" >6</text>
<text x="511.6" y="1797.4" font-size="22" text-anchor="end" fill="#111" >0</text>
<text x="510.6" y="1858.2" font-size="19" text-anchor="end" fill="#555555" >-6</text>
<text x="510.6" y="1924" font-size="19" text-anchor="end" fill="#555555" >-12</text>
<text x="650.3" y="1670.6" font-size="19" text-anchor="end" fill="#555555" >80</text>
<text x="650.3" y="1731.5" font-size="19" text-anchor="end" fill="#555555" >40</text>
<text x="651.3" y="1797.4" font-size="22" text-anchor="end" fill="#111" >0</text>
<text x="650.3" y="1850.9" font-size="19" text-anchor="end" fill="#555555" >-40</text>
<text x="650.3" y="1909.4" font-size="19" text-anchor="end" fill="#555555" >-80</text>
<text x="790" y="1655.4" font-size="19" text-anchor="end" fill="#555555" >50</text>
<text x="790" y="1723.9" font-size="19" text-anchor="end" fill="#555555" >25</text>
<text x="791" y="1797.4" font-size="22" text-anchor="end" fill="#111" >0</text>
<text x="790" y="1858.2" font-size="19" text-anchor="end" fill="#555555" >-25</text>
<text x="790" y="1924" font-size="19" text-anchor="end" fill="#555555" >-50</text>
<line x1="935.7" y1="1647.5" x2="935.7" y2="1921" stroke="#b4b4b4" stroke-width="1.3" />
<line x1="1076" y1="1647.5" x2="1076" y2="1921" stroke="#b4b4b4" stroke-width="1.3" />
<line x1="1212.4" y1="1647.5" x2="1212.4" y2="1921" stroke="#b4b4b4" stroke-width="1.3" />
<line x1="1348.6" y1="1647.5" x2="1348.6" y2="1921" stroke="#b4b4b4" stroke-width="1.3" />
<line x1="928.7" y1="1654.5" x2="935.7" y2="1654.5" stroke="#b4b4b4" stroke-width="1.2" />
<line x1="928.7" y1="1743.3" x2="935.7" y2="1743.3" stroke="#b4b4b4" stroke-width="1.2" />
<line x1="928.7" y1="1832.2" x2="935.7" y2="1832.2" stroke="#b4b4b4" stroke-width="1.2" />
<line x1="928.7" y1="1921" x2="935.7" y2="1921" stroke="#b4b4b4" stroke-width="1.2" />
<line x1="1069" y1="1654.5" x2="1076" y2="1654.5" stroke="#b4b4b4" stroke-width="1.2" />
<line x1="1069" y1="1721.1" x2="1076" y2="1721.1" stroke="#b4b4b4" stroke-width="1.2" />
<line x1="1069" y1="1787.8" x2="1076" y2="1787.8" stroke="#b4b4b4" stroke-width="1.2" />
<line x1="1069" y1="1854.4" x2="1076" y2="1854.4" stroke="#b4b4b4" stroke-width="1.2" />
<line x1="1069" y1="1921" x2="1076" y2="1921" stroke="#b4b4b4" stroke-width="1.2" />
<line x1="1205.4" y1="1654.5" x2="1212.4" y2="1654.5" stroke="#b4b4b4" stroke-width="1.2" />
<line x1="1205.4" y1="1707.8" x2="1212.4" y2="1707.8" stroke="#b4b4b4" stroke-width="1.2" />
<line x1="1205.4" y1="1761.1" x2="1212.4" y2="1761.1" stroke="#b4b4b4" stroke-width="1.2" />
<line x1="1205.4" y1="1814.4" x2="1212.4" y2="1814.4" stroke="#b4b4b4" stroke-width="1.2" />
<line x1="1205.4" y1="1867.7" x2="1212.4" y2="1867.7" stroke="#b4b4b4" stroke-width="1.2" />
<line x1="1205.4" y1="1921" x2="1212.4" y2="1921" stroke="#b4b4b4" stroke-width="1.2" />
<line x1="1341.6" y1="1654.5" x2="1348.6" y2="1654.5" stroke="#b4b4b4" stroke-width="1.2" />
<line x1="1341.6" y1="1721.1" x2="1348.6" y2="1721.1" stroke="#b4b4b4" stroke-width="1.2" />
<line x1="1341.6" y1="1787.8" x2="1348.6" y2="1787.8" stroke="#b4b4b4" stroke-width="1.2" />
<line x1="1341.6" y1="1854.4" x2="1348.6" y2="1854.4" stroke="#b4b4b4" stroke-width="1.2" />
<line x1="1341.6" y1="1921" x2="1348.6" y2="1921" stroke="#b4b4b4" stroke-width="1.2" />
<line x1="935.7" y1="1654.5" x2="1076" y2="1654.5" stroke="#ebebeb" stroke-width="1.0" />
<line x1="935.7" y1="1654.5" x2="1076" y2="1721.1" stroke="#ebebeb" stroke-width="1.0" />
<line x1="935.7" y1="1654.5" x2="1076" y2="1787.8" stroke="#ebebeb" stroke-width="1.0" />
<line x1="935.7" y1="1654.5" x2="1076" y2="1854.4" stroke="#ebebeb" stroke-width="1.0" />
<line x1="935.7" y1="1654.5" x2="1076" y2="1921" stroke="#ebebeb" stroke-width="1.0" />
<line x1="935.7" y1="1743.3" x2="1076" y2="1721.1" stroke="#ebebeb" stroke-width="1.0" />
<line x1="935.7" y1="1743.3" x2="1076" y2="1787.8" stroke="#ebebeb" stroke-width="1.0" />
<line x1="935.7" y1="1743.3" x2="1076" y2="1854.4" stroke="#ebebeb" stroke-width="1.0" />
<line x1="935.7" y1="1743.3" x2="1076" y2="1921" stroke="#ebebeb" stroke-width="1.0" />
<line x1="935.7" y1="1832.2" x2="1076" y2="1654.5" stroke="#ebebeb" stroke-width="1.0" />
<line x1="935.7" y1="1832.2" x2="1076" y2="1721.1" stroke="#ebebeb" stroke-width="1.0" />
<line x1="935.7" y1="1832.2" x2="1076" y2="1787.8" stroke="#ebebeb" stroke-width="1.0" />
<line x1="935.7" y1="1832.2" x2="1076" y2="1854.4" stroke="#ebebeb" stroke-width="1.0" />
<line x1="935.7" y1="1832.2" x2="1076" y2="1921" stroke="#ebebeb" stroke-width="1.0" />
<line x1="1076" y1="1654.5" x2="1212.4" y2="1761.1" stroke="#ebebeb" stroke-width="1.0" />
<line x1="1076" y1="1654.5" x2="1212.4" y2="1814.4" stroke="#ebebeb" stroke-width="1.0" />
<line x1="1076" y1="1654.5" x2="1212.4" y2="1867.7" stroke="#ebebeb" stroke-width="1.0" />
<line x1="1076" y1="1654.5" x2="1212.4" y2="1921" stroke="#ebebeb" stroke-width="1.0" />
<line x1="1076" y1="1721.1" x2="1212.4" y2="1654.5" stroke="#ebebeb" stroke-width="1.0" />
<line x1="1076" y1="1721.1" x2="1212.4" y2="1707.8" stroke="#ebebeb" stroke-width="1.0" />
<line x1="1076" y1="1721.1" x2="1212.4" y2="1761.1" stroke="#ebebeb" stroke-width="1.0" />
<line x1="1076" y1="1721.1" x2="1212.4" y2="1814.4" stroke="#ebebeb" stroke-width="1.0" />
<line x1="1076" y1="1721.1" x2="1212.4" y2="1867.7" stroke="#ebebeb" stroke-width="1.0" />
<line x1="1076" y1="1721.1" x2="1212.4" y2="1921" stroke="#ebebeb" stroke-width="1.0" />
<line x1="1076" y1="1787.8" x2="1212.4" y2="1654.5" stroke="#ebebeb" stroke-width="1.0" />
<line x1="1076" y1="1787.8" x2="1212.4" y2="1707.8" stroke="#ebebeb" stroke-width="1.0" />
<line x1="1076" y1="1787.8" x2="1212.4" y2="1761.1" stroke="#ebebeb" stroke-width="1.0" />
<line x1="1076" y1="1787.8" x2="1212.4" y2="1814.4" stroke="#ebebeb" stroke-width="1.0" />
<line x1="1076" y1="1787.8" x2="1212.4" y2="1867.7" stroke="#ebebeb" stroke-width="1.0" />
<line x1="1076" y1="1787.8" x2="1212.4" y2="1921" stroke="#ebebeb" stroke-width="1.0" />
<line x1="1076" y1="1854.4" x2="1212.4" y2="1654.5" stroke="#ebebeb" stroke-width="1.0" />
<line x1="1076" y1="1854.4" x2="1212.4" y2="1707.8" stroke="#ebebeb" stroke-width="1.0" />
<line x1="1076" y1="1854.4" x2="1212.4" y2="1761.1" stroke="#ebebeb" stroke-width="1.0" />
<line x1="1076" y1="1854.4" x2="1212.4" y2="1814.4" stroke="#ebebeb" stroke-width="1.0" />
<line x1="1076" y1="1854.4" x2="1212.4" y2="1867.7" stroke="#ebebeb" stroke-width="1.0" />
<line x1="1076" y1="1854.4" x2="1212.4" y2="1921" stroke="#ebebeb" stroke-width="1.0" />
<line x1="1076" y1="1921" x2="1212.4" y2="1654.5" stroke="#ebebeb" stroke-width="1.0" />
<line x1="1076" y1="1921" x2="1212.4" y2="1707.8" stroke="#ebebeb" stroke-width="1.0" />
<line x1="1076" y1="1921" x2="1212.4" y2="1761.1" stroke="#ebebeb" stroke-width="1.0" />
<line x1="1076" y1="1921" x2="1212.4" y2="1814.4" stroke="#ebebeb" stroke-width="1.0" />
<line x1="1076" y1="1921" x2="1212.4" y2="1867.7" stroke="#ebebeb" stroke-width="1.0" />
<line x1="1076" y1="1921" x2="1212.4" y2="1921" stroke="#ebebeb" stroke-width="1.0" />
<line x1="1212.4" y1="1761.1" x2="1348.6" y2="1654.5" stroke="#ebebeb" stroke-width="1.0" />
<line x1="1212.4" y1="1761.1" x2="1348.6" y2="1721.1" stroke="#ebebeb" stroke-width="1.0" />
<line x1="1212.4" y1="1761.1" x2="1348.6" y2="1787.8" stroke="#ebebeb" stroke-width="1.0" />
<line x1="1212.4" y1="1761.1" x2="1348.6" y2="1854.4" stroke="#ebebeb" stroke-width="1.0" />
<line x1="1212.4" y1="1761.1" x2="1348.6" y2="1921" stroke="#ebebeb" stroke-width="1.0" />
<line x1="1212.4" y1="1814.4" x2="1348.6" y2="1654.5" stroke="#ebebeb" stroke-width="1.0" />
<line x1="1212.4" y1="1814.4" x2="1348.6" y2="1721.1" stroke="#ebebeb" stroke-width="1.0" />
<line x1="1212.4" y1="1814.4" x2="1348.6" y2="1787.8" stroke="#ebebeb" stroke-width="1.0" />
<line x1="1212.4" y1="1814.4" x2="1348.6" y2="1854.4" stroke="#ebebeb" stroke-width="1.0" />
<line x1="1212.4" y1="1814.4" x2="1348.6" y2="1921" stroke="#ebebeb" stroke-width="1.0" />
<line x1="1212.4" y1="1867.7" x2="1348.6" y2="1654.5" stroke="#ebebeb" stroke-width="1.0" />
<line x1="1212.4" y1="1867.7" x2="1348.6" y2="1721.1" stroke="#ebebeb" stroke-width="1.0" />
<line x1="1212.4" y1="1867.7" x2="1348.6" y2="1787.8" stroke="#ebebeb" stroke-width="1.0" />
<line x1="1212.4" y1="1867.7" x2="1348.6" y2="1854.4" stroke="#ebebeb" stroke-width="1.0" />
<line x1="1212.4" y1="1867.7" x2="1348.6" y2="1921" stroke="#ebebeb" stroke-width="1.0" />
<line x1="1212.4" y1="1921" x2="1348.6" y2="1654.5" stroke="#ebebeb" stroke-width="1.0" />
<line x1="1212.4" y1="1921" x2="1348.6" y2="1721.1" stroke="#ebebeb" stroke-width="1.0" />
<line x1="1212.4" y1="1921" x2="1348.6" y2="1787.8" stroke="#ebebeb" stroke-width="1.0" />
<line x1="1212.4" y1="1921" x2="1348.6" y2="1854.4" stroke="#ebebeb" stroke-width="1.0" />
<line x1="1212.4" y1="1921" x2="1348.6" y2="1921" stroke="#ebebeb" stroke-width="1.0" />
<line x1="935.7" y1="1743.3" x2="1076" y2="1654.5" stroke="#c99a4e" stroke-width="1.15" />
<line x1="1076" y1="1654.5" x2="1212.4" y2="1654.5" stroke="#c8c84a" stroke-width="1.15" />
<line x1="1076" y1="1654.5" x2="1212.4" y2="1707.8" stroke="#c89450" stroke-width="1.15" />
<line x1="1212.4" y1="1654.5" x2="1348.6" y2="1654.5" stroke="#c6cc52" stroke-width="1.15" />
<line x1="1212.4" y1="1707.8" x2="1348.6" y2="1654.5" stroke="#c8925a" stroke-width="1.15" />
<line x1="1212.4" y1="1654.5" x2="1348.6" y2="1721.1" stroke="#c6cc52" stroke-width="1.15" />
<line x1="1212.4" y1="1707.8" x2="1348.6" y2="1721.1" stroke="#c8925a" stroke-width="1.15" />
<line x1="1212.4" y1="1654.5" x2="1348.6" y2="1787.8" stroke="#c6cc52" stroke-width="1.15" />
<line x1="1212.4" y1="1707.8" x2="1348.6" y2="1787.8" stroke="#c8925a" stroke-width="1.15" />
<line x1="1212.4" y1="1654.5" x2="1348.6" y2="1854.4" stroke="#c6cc52" stroke-width="1.15" />
<line x1="1212.4" y1="1707.8" x2="1348.6" y2="1854.4" stroke="#c8925a" stroke-width="1.15" />
<line x1="1212.4" y1="1654.5" x2="1348.6" y2="1921" stroke="#c6cc52" stroke-width="1.15" />
<line x1="1212.4" y1="1707.8" x2="1348.6" y2="1921" stroke="#c8925a" stroke-width="1.15" />
<polyline points="106,1789.4 799,1789.4 935.7,1921 1076,1921 1212.4,1814.4 1348.6,1654.5" fill="none" stroke="#2b2b2b" stroke-width="2" stroke-dasharray="6,4"/>
<text x="941.7" y="1669.5" font-size="20" text-anchor="start" fill="#333" >S3</text>
<text x="941.7" y="1771.3" font-size="20" text-anchor="start" fill="#333" >S2</text>
<text x="941.7" y="1857.2" font-size="20" text-anchor="start" fill="#333" >S1</text>
<text x="931.7" y="1917" font-size="18" text-anchor="start" fill="#333" >Baseline</text>
<text x="1064" y="1649.5" font-size="20" text-anchor="end" fill="#333" >e</text>
<text x="1064" y="1716.6" font-size="20" text-anchor="end" fill="#333" >d</text>
<text x="1064" y="1782.8" font-size="20" text-anchor="end" fill="#333" >c</text>
<text x="1064" y="1854.4" font-size="20" text-anchor="end" fill="#333" >b</text>
<text x="1064" y="1920.5" font-size="20" text-anchor="end" fill="#333" >a</text>
<text x="1204.4" y="1645.5" font-size="19" text-anchor="end" fill="#333" >130</text>
<text x="1203.2" y="1698.8" font-size="19" text-anchor="end" fill="#333" >120</text>
<text x="1202" y="1754.1" font-size="19" text-anchor="end" fill="#333" >110</text>
<text x="1200.8" y="1809.9" font-size="19" text-anchor="end" fill="#333" >100</text>
<text x="1199.6" y="1868.2" font-size="19" text-anchor="end" fill="#333" >90</text>
<text x="1198.4" y="1922" font-size="19" text-anchor="end" fill="#333" >80</text>
<text x="1355.1" y="1652.5" font-size="20" text-anchor="start" fill="#333" >1195</text>
<text x="1355.1" y="1721.1" font-size="20" text-anchor="start" fill="#333" >1194</text>
<text x="1355.1" y="1788.2" font-size="20" text-anchor="start" fill="#333" >1193</text>
<text x="1355.1" y="1860.9" font-size="20" text-anchor="start" fill="#333" >1192</text>
<text x="1355.1" y="1927.5" font-size="20" text-anchor="start" fill="#333" >1191</text>
<rect x="1512" y="1651.7" width="464" height="140.5" fill="#f1f9ec" />
<rect x="1512" y="1792.2" width="464" height="138.2" fill="#f6e5e5" />
<line x1="1512" y1="1651.7" x2="1512" y2="1930.4" stroke="#d9d9d9" stroke-width="1.3" />
<line x1="1606" y1="1651.7" x2="1606" y2="1930.4" stroke="#d9d9d9" stroke-width="1.3" />
<line x1="1705.8" y1="1651.7" x2="1705.8" y2="1930.4" stroke="#d9d9d9" stroke-width="1.3" />
<line x1="1809.5" y1="1651.7" x2="1809.5" y2="1930.4" stroke="#d9d9d9" stroke-width="1.3" />
<line x1="1908.6" y1="1651.7" x2="1908.6" y2="1930.4" stroke="#d9d9d9" stroke-width="1.3" />
<text x="1500" y="1673.7" font-size="19" text-anchor="end" fill="#555555" >12M</text>
<line x1="1508" y1="1668.7" x2="1512" y2="1668.7" stroke="#d0d0d0" stroke-width="1" />
<text x="1500" y="1734.7" font-size="19" text-anchor="end" fill="#555555" >6M</text>
<line x1="1508" y1="1729.7" x2="1512" y2="1729.7" stroke="#d0d0d0" stroke-width="1" />
<text x="1500" y="1797.2" font-size="19" text-anchor="end" fill="#555555" >0</text>
<line x1="1508" y1="1792.2" x2="1512" y2="1792.2" stroke="#d0d0d0" stroke-width="1" />
<text x="1500" y="1862.2" font-size="19" text-anchor="end" fill="#555555" >-6M</text>
<line x1="1508" y1="1857.2" x2="1512" y2="1857.2" stroke="#d0d0d0" stroke-width="1" />
<text x="1500" y="1921.2" font-size="19" text-anchor="end" fill="#555555" >-12M</text>
<line x1="1508" y1="1916.2" x2="1512" y2="1916.2" stroke="#d0d0d0" stroke-width="1" />
<text x="1596" y="1673.7" font-size="19" text-anchor="end" fill="#4c5749" >12</text>
<line x1="1602" y1="1668.7" x2="1606" y2="1668.7" stroke="#d0d0d0" stroke-width="1" />
<text x="1596" y="1734.7" font-size="19" text-anchor="end" fill="#4c5749" >6</text>
<line x1="1602" y1="1729.7" x2="1606" y2="1729.7" stroke="#d0d0d0" stroke-width="1" />
<text x="1596" y="1797.2" font-size="19" text-anchor="end" fill="#4c5749" >0</text>
<line x1="1602" y1="1792.2" x2="1606" y2="1792.2" stroke="#d0d0d0" stroke-width="1" />
<text x="1596" y="1862.2" font-size="19" text-anchor="end" fill="#5a4b4b" >-6</text>
<line x1="1602" y1="1857.2" x2="1606" y2="1857.2" stroke="#d0d0d0" stroke-width="1" />
<text x="1596" y="1921.2" font-size="19" text-anchor="end" fill="#5a4b4b" >-12</text>
<line x1="1602" y1="1916.2" x2="1606" y2="1916.2" stroke="#d0d0d0" stroke-width="1" />
<text x="1696.8" y="1658.7" font-size="19" text-anchor="end" fill="#4c5749" >50</text>
<line x1="1701.8" y1="1653.7" x2="1705.8" y2="1653.7" stroke="#d0d0d0" stroke-width="1" />
<text x="1696.8" y="1722.7" font-size="19" text-anchor="end" fill="#4c5749" >25</text>
<line x1="1701.8" y1="1717.7" x2="1705.8" y2="1717.7" stroke="#d0d0d0" stroke-width="1" />
<text x="1696.8" y="1797.2" font-size="19" text-anchor="end" fill="#4c5749" >0</text>
<line x1="1701.8" y1="1792.2" x2="1705.8" y2="1792.2" stroke="#d0d0d0" stroke-width="1" />
<text x="1696.8" y="1865.2" font-size="19" text-anchor="end" fill="#5a4b4b" >-25</text>
<line x1="1701.8" y1="1860.2" x2="1705.8" y2="1860.2" stroke="#d0d0d0" stroke-width="1" />
<text x="1696.8" y="1929.2" font-size="19" text-anchor="end" fill="#5a4b4b" >-50</text>
<line x1="1701.8" y1="1924.2" x2="1705.8" y2="1924.2" stroke="#d0d0d0" stroke-width="1" />
<text x="1804.5" y="1672.7" font-size="19" text-anchor="end" fill="#4c5749" >80</text>
<line x1="1805.5" y1="1667.7" x2="1809.5" y2="1667.7" stroke="#d0d0d0" stroke-width="1" />
<text x="1804.5" y="1732.7" font-size="19" text-anchor="end" fill="#4c5749" >40</text>
<line x1="1805.5" y1="1727.7" x2="1809.5" y2="1727.7" stroke="#d0d0d0" stroke-width="1" />
<text x="1804.5" y="1796.2" font-size="19" text-anchor="end" fill="#4c5749" >0</text>
<line x1="1805.5" y1="1791.2" x2="1809.5" y2="1791.2" stroke="#d0d0d0" stroke-width="1" />
<text x="1804.5" y="1861.2" font-size="19" text-anchor="end" fill="#5a4b4b" >-40</text>
<line x1="1805.5" y1="1856.2" x2="1809.5" y2="1856.2" stroke="#d0d0d0" stroke-width="1" />
<text x="1804.5" y="1920.2" font-size="19" text-anchor="end" fill="#5a4b4b" >-80</text>
<line x1="1805.5" y1="1915.2" x2="1809.5" y2="1915.2" stroke="#d0d0d0" stroke-width="1" />
<text x="1899.6" y="1672.7" font-size="19" text-anchor="end" fill="#4c5749" >40M</text>
<line x1="1904.6" y1="1667.7" x2="1908.6" y2="1667.7" stroke="#d0d0d0" stroke-width="1" />
<text x="1899.6" y="1732.7" font-size="19" text-anchor="end" fill="#4c5749" >20M</text>
<line x1="1904.6" y1="1727.7" x2="1908.6" y2="1727.7" stroke="#d0d0d0" stroke-width="1" />
<text x="1899.6" y="1796.2" font-size="19" text-anchor="end" fill="#4c5749" >0</text>
<line x1="1904.6" y1="1791.2" x2="1908.6" y2="1791.2" stroke="#d0d0d0" stroke-width="1" />
<text x="1899.6" y="1861.2" font-size="19" text-anchor="end" fill="#5a4b4b" >-20M</text>
<line x1="1904.6" y1="1856.2" x2="1908.6" y2="1856.2" stroke="#d0d0d0" stroke-width="1" />
<text x="1899.6" y="1920.2" font-size="19" text-anchor="end" fill="#5a4b4b" >-40M</text>
<line x1="1904.6" y1="1915.2" x2="1908.6" y2="1915.2" stroke="#d0d0d0" stroke-width="1" />
<line x1="1539.4" y1="1774.2" x2="1539.4" y2="1775.1" stroke="#9ca398" stroke-width="1.8" />
<line x1="1535.4" y1="1774.2" x2="1543.4" y2="1774.2" stroke="#8a9286" stroke-width="1.8" />
<line x1="1539.4" y1="1791.3" x2="1539.4" y2="1792.2" stroke="#9ca398" stroke-width="1.8" />
<line x1="1539.4" y1="1792.2" x2="1539.4" y2="1804.3" stroke="#a89a9a" stroke-width="1.8" />
<line x1="1535.4" y1="1804.3" x2="1543.4" y2="1804.3" stroke="#9a8a8a" stroke-width="1.8" />
<rect x="1526.2" y="1775.1" width="26.4" height="16.2" fill="#717d6b" />
<rect x="1526.2" y="1775.1" width="26.4" height="16.2" fill="none" stroke="#5d6659" stroke-opacity="0.6" stroke-width="1.2"/>
<line x1="1535.4" y1="1779.2" x2="1543.4" y2="1787.2" stroke="#5b6357" stroke-width="1.2" />
<line x1="1535.4" y1="1787.2" x2="1543.4" y2="1779.2" stroke="#5b6357" stroke-width="1.2" />
<line x1="1637.5" y1="1685.6" x2="1637.5" y2="1696.7" stroke="#9ca398" stroke-width="1.8" />
<line x1="1633.5" y1="1685.6" x2="1641.5" y2="1685.6" stroke="#8a9286" stroke-width="1.8" />
<line x1="1637.5" y1="1798.9" x2="1637.5" y2="1886.9" stroke="#a89a9a" stroke-width="1.8" />
<line x1="1633.5" y1="1886.9" x2="1641.5" y2="1886.9" stroke="#9a8a8a" stroke-width="1.8" />
<rect x="1621.7" y="1696.7" width="31.6" height="95.5" fill="#717d6b" />
<rect x="1621.7" y="1792.2" width="31.6" height="6.7" fill="#7a6969" />
<rect x="1621.7" y="1696.7" width="31.6" height="102.2" fill="none" stroke="#5d6659" stroke-opacity="0.6" stroke-width="1.2"/>
<line x1="1621.7" y1="1753.2" x2="1653.3" y2="1753.2" stroke="#5e675a" stroke-width="1.5" />
<line x1="1633.5" y1="1755.2" x2="1641.5" y2="1763.2" stroke="#5b6357" stroke-width="1.2" />
<line x1="1633.5" y1="1763.2" x2="1641.5" y2="1755.2" stroke="#5b6357" stroke-width="1.2" />
<line x1="1736.7" y1="1795.9" x2="1736.7" y2="1816.9" stroke="#a89a9a" stroke-width="1.8" />
<line x1="1732.7" y1="1795.9" x2="1740.7" y2="1795.9" stroke="#9a8a8a" stroke-width="1.8" />
<line x1="1736.7" y1="1834.3" x2="1736.7" y2="1849.3" stroke="#a89a9a" stroke-width="1.8" />
<line x1="1732.7" y1="1849.3" x2="1740.7" y2="1849.3" stroke="#9a8a8a" stroke-width="1.8" />
<rect x="1720.9" y="1816.9" width="31.5" height="17.4" fill="#7a6969" />
<rect x="1720.9" y="1816.9" width="31.5" height="17.4" fill="none" stroke="#5d6659" stroke-opacity="0.6" stroke-width="1.2"/>
<line x1="1732.7" y1="1820.7" x2="1740.7" y2="1828.7" stroke="#5b6357" stroke-width="1.2" />
<line x1="1732.7" y1="1828.7" x2="1740.7" y2="1820.7" stroke="#5b6357" stroke-width="1.2" />
<line x1="1840.2" y1="1762.2" x2="1840.2" y2="1770.6" stroke="#9ca398" stroke-width="1.8" />
<line x1="1836.2" y1="1762.2" x2="1844.2" y2="1762.2" stroke="#8a9286" stroke-width="1.8" />
<line x1="1840.2" y1="1786.2" x2="1840.2" y2="1792.2" stroke="#9ca398" stroke-width="1.8" />
<line x1="1840.2" y1="1792.2" x2="1840.2" y2="1801.3" stroke="#a89a9a" stroke-width="1.8" />
<line x1="1836.2" y1="1801.3" x2="1844.2" y2="1801.3" stroke="#9a8a8a" stroke-width="1.8" />
<rect x="1824.5" y="1770.6" width="31.5" height="15.6" fill="#717d6b" />
<rect x="1824.5" y="1770.6" width="31.5" height="15.6" fill="none" stroke="#5d6659" stroke-opacity="0.6" stroke-width="1.2"/>
<line x1="1836.2" y1="1774.7" x2="1844.2" y2="1782.7" stroke="#5b6357" stroke-width="1.2" />
<line x1="1836.2" y1="1782.7" x2="1844.2" y2="1774.7" stroke="#5b6357" stroke-width="1.2" />
<line x1="1939.4" y1="1785" x2="1939.4" y2="1785.3" stroke="#9ca398" stroke-width="1.8" />
<line x1="1935.4" y1="1785" x2="1943.4" y2="1785" stroke="#8a9286" stroke-width="1.8" />
<line x1="1939.4" y1="1788.3" x2="1939.4" y2="1789" stroke="#9ca398" stroke-width="1.8" />
<line x1="1935.4" y1="1789" x2="1943.4" y2="1789" stroke="#8a9286" stroke-width="1.8" />
<rect x="1923.6" y="1785.3" width="31.6" height="3" fill="#717d6b" />
<rect x="1923.6" y="1785.3" width="31.6" height="3" fill="none" stroke="#5d6659" stroke-opacity="0.6" stroke-width="1.2"/>
<text x="812.6" y="2014.8" font-size="28" text-anchor="middle" fill="#262626" >Climatological period</text>
<text x="629.5" y="2051" font-size="18.5" text-anchor="middle" fill="#333" >Reference</text>
<text x="756.6" y="2051" font-size="18.5" text-anchor="middle" fill="#333" >2015-2045</text>
<text x="872.4" y="2051" font-size="18.5" text-anchor="middle" fill="#333" >2045-2075</text>
<text x="996.5" y="2051" font-size="18.5" text-anchor="middle" fill="#333" >2075-2100</text>
<text x="453.3" y="2090" font-size="28" text-anchor="end" fill="#262626" >Climate action</text>
<text x="453.3" y="2125" font-size="28" text-anchor="end" fill="#262626" >pathway</text>
<text x="528" y="2082" font-size="18" text-anchor="middle" fill="#333" >SSP1-2.6</text>
<text x="528" y="2117.5" font-size="18" text-anchor="middle" fill="#333" >SSP5-8.5</text>
<rect x="611.8" y="2066.4" width="44.8" height="49.8" fill="#213a8c" />
<rect x="737.9" y="2066.4" width="45.7" height="22.4" fill="#3b7bbb" />
<rect x="737.9" y="2092.5" width="45.7" height="23.7" fill="#6cb0a3" />
<rect x="857.6" y="2066.4" width="45.7" height="22.4" fill="#ece144" />
<rect x="857.6" y="2092.5" width="45.7" height="23.7" fill="#eaa842" />
<rect x="977.7" y="2066.4" width="45.7" height="22.4" fill="#e8703a" />
<rect x="977.7" y="2092.5" width="45.7" height="23.7" fill="#e02b26" />
<path d="M1095,2081 L1100,2080 M1104,2078 L1109,2075 M1111,2073 L1116,2067 L1121,2073 M1123,2077 L1126,2081 L1130,2081 M1133,2081 L1137,2078 M1140,2075 L1146,2074 M1150,2074 L1211,2074" fill="none" stroke="#444" stroke-width="1.5" stroke-dasharray="5,3"/>
<text x="1227" y="2055" font-size="24" text-anchor="start" fill="#262626" >Baseline condition</text>
<text x="1227" y="2085" font-size="24" text-anchor="start" fill="#262626" >(status-quo and</text>
<text x="1227" y="2114.6" font-size="24" text-anchor="start" fill="#262626" >reference climate)</text>
<rect x="1472.6" y="2053.8" width="5.9" height="61.7" fill="#f25af2" />
<text x="1499.7" y="2085" font-size="24" text-anchor="start" fill="#262626" >Acceptable outcomes</text>
</svg></body></html>
